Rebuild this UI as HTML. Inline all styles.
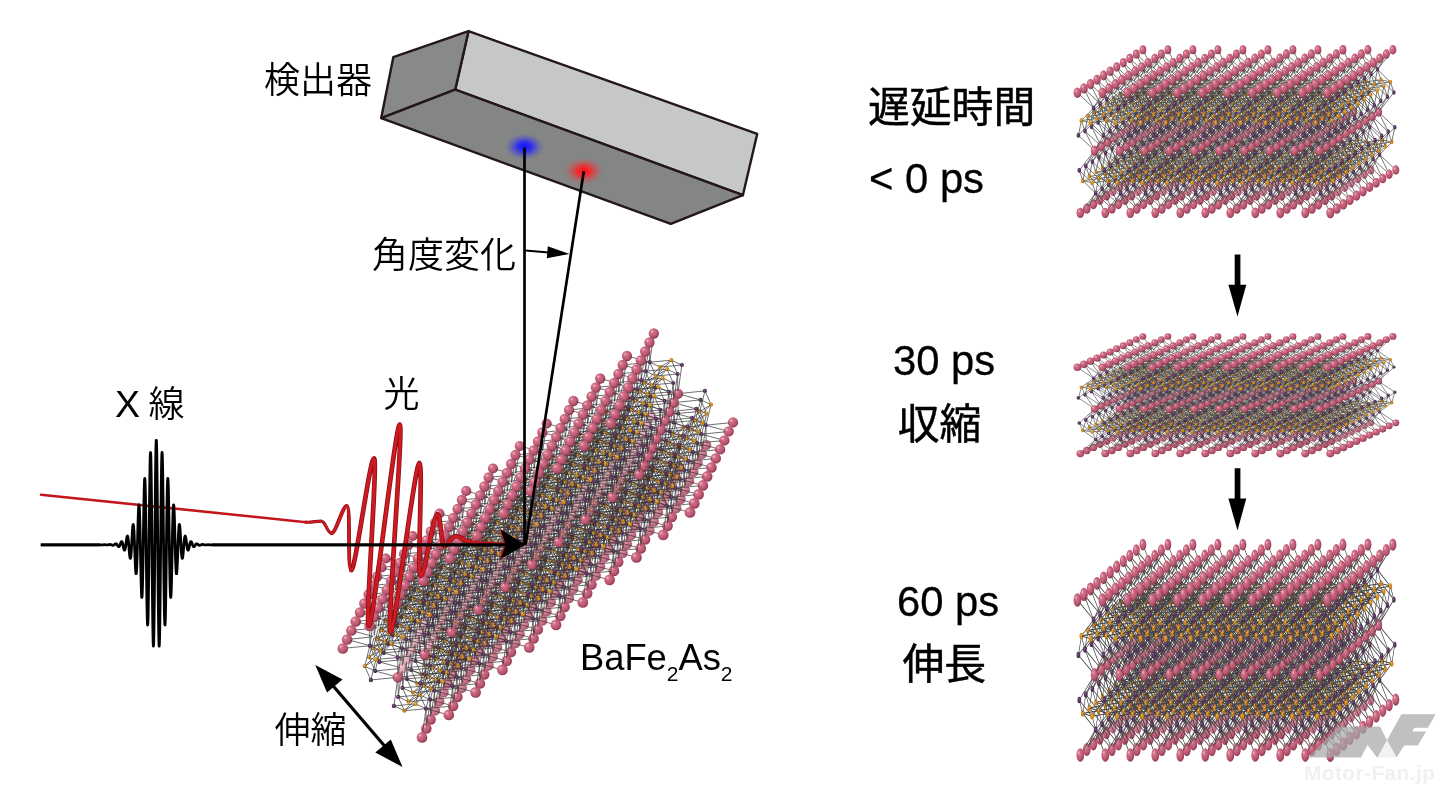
<!DOCTYPE html>
<html lang="ja"><head><meta charset="utf-8"><title>BaFe2As2</title>
<style>
html,body{margin:0;padding:0;background:#fff}
svg{display:block}
text{font-family:"Liberation Sans","Noto Sans CJK JP",sans-serif;fill:#000}
.jl{font-weight:350;font-size:36px}
.jm{font-weight:400;font-size:41.8px;stroke:#000;stroke-width:.5px}
.en{font-size:41.8px;stroke:#000;stroke-width:.3px}
.bd{stroke:#444;stroke-width:.62}
.as{stroke:#54305a}
.ash{stroke:#80608a;transform:translate(-.4px,-.5px)}
.fe{stroke:#cc851a}
.feh{stroke:#ecb75c;transform:translate(-.4px,-.5px)}
.ba,.bi,.bj{fill:url(#gb);stroke:none}.bi{opacity:.5}.bj{opacity:.85}
.L .bd{stroke-width:.72;stroke:#363636}
</style></head><body>
<svg width="1446" height="794" viewBox="0 0 1446 794">
<defs>
<radialGradient id="gb" cx=".42" cy=".4" r=".62" fx=".3" fy=".3">
<stop offset="0" stop-color="#fbe3e8"/><stop offset=".1" stop-color="#e79aab"/><stop offset=".3" stop-color="#d06f87"/><stop offset=".7" stop-color="#bb5670"/><stop offset="1" stop-color="#8a3852"/>
</radialGradient>
<radialGradient id="gblue"><stop offset="0" stop-color="#1414ff"/><stop offset=".35" stop-color="#2a2af0" stop-opacity=".95"/><stop offset="1" stop-color="#5a5ac0" stop-opacity="0"/></radialGradient>
<radialGradient id="gred"><stop offset="0" stop-color="#ff1016"/><stop offset=".35" stop-color="#f02a30" stop-opacity=".95"/><stop offset="1" stop-color="#c06060" stop-opacity="0"/></radialGradient>

<g id="xr"><g fill="none" stroke-linecap="round">
<path class="bd" d="M68.8 26.9L78.7 34.2"/>
<g class="as" stroke-width="3.29"><path id="r2" d="M67.4 25.8h0M66.5 -0.2h0"/></g><use href="#r2" class="ash" stroke-width="1.23"/>
<g class="fe" stroke-width="3.29"><path id="r3" d="M80.2 35.2h0"/></g><use href="#r3" class="feh" stroke-width="1.23"/>
<circle class="bj" cx="68.4" cy="57.6" r="3.36"/>
<circle class="bj" cx="93.4" cy="57.6" r="3.37"/>
<path class="bd" d="M91 26.9L81.5 34.1M67.9 -1.3L77.4 -8.5M67 27.1L64.7 35.6M76.5 47.1L69.8 55.7M65.9 36.6L78.6 35.4M93.8 26.9L103.7 34.2M68.1 24.9L74.7 16.3M77.5 44.9L79.8 36.4M90.1 -1.3L80.2 -8.6M78.5 47.1L90.7 55.7M67.3 0.9L74.6 12M66.1 -1.1L63.4 -7.1"/>
<g class="as" stroke-width="3.30"><path id="r5" d="M92.4 25.8h0M91.5 -0.2h0"/></g><use href="#r5" class="ash" stroke-width="1.24"/>
<g class="fe" stroke-width="3.30"><path id="r6" d="M78.7 -9.6h0M105.2 35.2h0"/></g><use href="#r6" class="feh" stroke-width="1.24"/>
<circle class="ba" cx="65.5" cy="-32" r="3.38"/>
<circle class="bj" cx="118.4" cy="57.6" r="3.39"/>
<path class="bd" d="M81.1 35.4L88.5 36.6M116 26.9L106.5 34.1M91.1 24.9L78.8 16.3M92.9 -1.3L102.4 -8.5M64.5 -8.2L77.2 -9.4M92 27.1L89.7 35.6M101.5 47.1L94.8 55.7M75.8 45.1L65.8 37.8M90.3 0.9L78.7 12M90.9 36.6L103.6 35.4M75.5 -16.5L78.3 -10.5M74.4 -18.5L67.1 -29.6M118.8 26.9L128.7 34.2M93.1 24.9L99.7 16.3M102.5 44.9L104.8 36.4M115.1 -1.3L105.2 -8.6M79.6 -9.4L87 -8.2M103.5 47.1L115.7 55.7M78.6 45.1L88 37.9M92.3 0.9L99.6 12M91.1 -1.1L88.4 -7.1M106.1 35.4L113.5 36.6"/>
<g class="as" stroke-width="3.31"><path id="r8" d="M117.4 25.8h0M77.2 46.2h0M116.5 -0.2h0"/></g><use href="#r8" class="ash" stroke-width="1.24"/>
<g class="fe" stroke-width="3.31"><path id="r9" d="M64.4 36.8h0M103.7 -9.6h0M130.2 35.2h0M63 -8h0"/></g><use href="#r9" class="feh" stroke-width="1.24"/>
<circle class="ba" cx="90.5" cy="-32" r="3.39"/>
<circle class="bj" cx="143.4" cy="57.6" r="3.40"/>
<path class="bd" d="M76 47.3L64.4 58.4M76.4 -18.5L88 -29.6M141 26.9L131.5 34.1M116.1 24.9L103.8 16.3M61.2 29.9L64 35.9M117.9 -1.3L127.4 -8.5M89.5 -8.2L102.2 -9.4M73.8 -16.3L64.3 -9.1M117 27.1L114.7 35.6M126.5 47.1L119.8 55.7M100.8 45.1L90.8 37.8M65.3 37L72.7 38.2M115.3 0.9L103.7 12M115.9 36.6L128.6 35.4M78 47.3L85.3 58.4M76.8 45.3L74 39.3M100.5 -16.5L103.3 -10.5M99.4 -18.5L92.1 -29.6M143.8 26.9L153.7 34.2M118.1 24.9L124.7 16.3M127.5 44.9L129.8 36.4M62 27.9L73.7 16.8M140.1 -1.3L130.2 -8.6M104.6 -9.4L112 -8.2M76.6 -16.3L86.5 -9M128.5 47.1L140.7 55.7M60.3 1.7L62.6 -6.8M103.6 45.1L113 37.9M75.2 38.2L87.9 37M117.3 0.9L124.6 12M116.1 -1.1L113.4 -7.1M61.3 3.9L73.5 12.5M131.1 35.4L138.5 36.6"/>
<g class="as" stroke-width="3.32"><path id="r11" d="M142.4 25.8h0M102.2 46.2h0M141.5 -0.2h0"/></g><use href="#r11" class="ash" stroke-width="1.25"/>
<g class="fe" stroke-width="3.32"><path id="r12" d="M89.4 36.8h0M128.7 -9.6h0M155.2 35.2h0M87.9 -8h0"/></g><use href="#r12" class="feh" stroke-width="1.25"/>
<circle class="bj" cx="76.2" cy="14.4" r="3.40"/>
<circle class="ba" cx="115.5" cy="-32" r="3.41"/>
<circle class="bj" cx="61.8" cy="60.8" r="3.41"/>
<circle class="bj" cx="168.4" cy="57.6" r="3.41"/>
<path class="bd" d="M101 47.3L89.4 58.4M101.4 -18.5L113 -29.6M63.9 -7.8L71.3 -6.6M166 26.9L156.5 34.1M141.1 24.9L128.8 16.3M86.2 29.9L89 35.9M85.1 27.9L77.7 16.8M142.9 -1.3L152.4 -8.5M114.5 -8.2L127.2 -9.4M98.8 -16.3L89.3 -9.1M142 27.1L139.7 35.6M73.9 -18.3L61.6 -26.9M151.5 47.1L144.8 55.7M125.8 45.1L115.8 37.8M90.3 37L97.7 38.2M62.3 30.1L72.2 37.4M140.3 0.9L128.7 12M74.8 -16.1L72.5 -7.6M84.3 3.9L77.6 12.5M140.9 36.6L153.6 35.4M103 47.3L110.3 58.4M101.8 45.3L99 39.3M125.5 -16.5L128.3 -10.5M124.4 -18.5L117.1 -29.6M73.7 -6.6L86.4 -7.8M168.8 26.9L178.7 34.2M143.1 24.9L149.7 16.3M152.5 44.9L154.8 36.4M87 27.9L98.7 16.8M165.1 -1.3L155.2 -8.6M129.6 -9.4L137 -8.2M101.6 -16.3L111.5 -9M75.9 -18.3L82.5 -26.9M153.5 47.1L165.7 55.7M85.3 1.7L87.6 -6.8M128.6 45.1L138 37.9M100.2 38.2L112.9 37M84.5 30.1L75 37.3M142.3 0.9L149.6 12M141.1 -1.1L138.4 -7.1M86.3 3.9L98.5 12.5M61.3 1.9L70.8 -5.3M156.1 35.4L163.5 36.6"/>
<g class="as" stroke-width="3.33"><path id="r14" d="M60.8 29h0M167.4 25.8h0M127.2 46.2h0M60 3h0M166.5 -0.2h0"/></g><use href="#r14" class="ash" stroke-width="1.25"/>
<g class="fe" stroke-width="3.34"><path id="r15" d="M114.4 36.8h0M153.7 -9.6h0M73.6 38.4h0M180.2 35.2h0M112.9 -8h0"/></g><use href="#r15" class="feh" stroke-width="1.25"/>
<circle class="bj" cx="101.2" cy="14.4" r="3.41"/>
<circle class="ba" cx="140.5" cy="-32" r="3.42"/>
<circle class="bj" cx="86.8" cy="60.8" r="3.42"/>
<circle class="bj" cx="193.4" cy="57.6" r="3.43"/>
<path class="bd" d="M126 47.3L114.4 58.4M126.4 -18.5L138 -29.6M60.5 30.3L58.2 38.8M69.9 50.3L63.3 58.9M88.9 -7.8L96.3 -6.6M191 26.9L181.5 34.1M166.1 24.9L153.8 16.3M111.2 29.9L114 35.9M110.1 27.9L102.7 16.8M167.9 -1.3L177.4 -8.5M139.5 -8.2L152.2 -9.4M59.4 39.8L72.1 38.6M123.8 -16.3L114.3 -9.1M167 27.1L164.7 35.6M98.9 -18.3L86.6 -26.9M176.5 47.1L169.8 55.7M150.8 45.1L140.8 37.8M115.3 37L122.7 38.2M87.3 30.1L97.2 37.4M61.5 28.1L68.2 19.5M71 48.1L73.3 39.6M165.3 0.9L153.7 12M99.8 -16.1L97.5 -7.6M109.3 3.9L102.6 12.5M83.5 1.9L73.6 -5.4M165.9 36.6L178.6 35.4M128 47.3L135.3 58.4M126.8 45.3L124 39.3M71.9 50.3L84.2 58.9M150.5 -16.5L153.3 -10.5M149.4 -18.5L142.1 -29.6M98.7 -6.6L111.4 -7.8M193.8 26.9L203.7 34.2M60.7 4.1L68.1 15.2M168.1 24.9L174.7 16.3M177.5 44.9L179.8 36.4M59.6 2.1L56.8 -3.9M112 27.9L123.7 16.8M190.1 -1.3L180.2 -8.6M154.6 -9.4L162 -8.2M74.5 38.6L81.9 39.8M126.6 -16.3L136.5 -9M100.9 -18.3L107.5 -26.9M178.5 47.1L190.7 55.7M110.3 1.7L112.6 -6.8M153.6 45.1L163 37.9M125.2 38.2L137.9 37M109.5 30.1L100 37.3M167.3 0.9L174.6 12M166.1 -1.1L163.4 -7.1M111.3 3.9L123.5 12.5M84.5 28.1L72.3 19.5M86.3 1.9L95.8 -5.3M181.1 35.4L188.5 36.6M57.9 -5L70.6 -6.2M151 47.3L139.4 58.4"/>
<g class="as" stroke-width="3.35"><path id="r17" d="M85.8 29h0M192.4 25.8h0M152.2 46.2h0M85 3h0M191.5 -0.2h0"/></g><use href="#r17" class="ash" stroke-width="1.26"/>
<g class="fe" stroke-width="3.35"><path id="r18" d="M139.4 36.8h0M72.2 -6.4h0M178.7 -9.6h0M98.6 38.4h0M205.2 35.2h0M137.9 -8h0M57.8 40h0"/></g><use href="#r18" class="feh" stroke-width="1.26"/>
<circle class="bj" cx="126.2" cy="14.4" r="3.43"/>
<circle class="ba" cx="58.9" cy="-28.8" r="3.43"/>
<circle class="ba" cx="165.5" cy="-32" r="3.43"/>
<circle class="bj" cx="111.8" cy="60.8" r="3.44"/>
<circle class="bj" cx="218.4" cy="57.6" r="3.44"/>
<circle class="bj" cx="151.2" cy="14.4" r="3.44"/>
<path class="bd" d="M151.4 -18.5L163 -29.6M85.5 30.3L83.2 38.8M94.9 50.3L88.3 58.9M69.2 48.3L59.3 41M113.9 -7.8L121.3 -6.6M216 26.9L206.5 34.1M83.8 4.1L72.1 15.2M191.1 24.9L178.8 16.3M136.2 29.9L139 35.9M135.1 27.9L127.7 16.8M192.9 -1.3L202.4 -8.5M84.4 39.8L97.1 38.6M164.5 -8.2L177.2 -9.4M148.8 -16.3L139.3 -9.1M192 27.1L189.7 35.6M123.9 -18.3L111.6 -26.9M201.5 47.1L194.8 55.7M69 -13.3L71.8 -7.3M175.8 45.1L165.8 37.8M67.8 -15.3L60.5 -26.4M140.3 37L147.7 38.2M112.3 30.1L122.2 37.4M86.5 28.1L93.2 19.5M96 48.1L98.3 39.6M190.3 0.9L178.7 12M124.8 -16.1L122.5 -7.6M134.3 3.9L127.6 12.5M108.5 1.9L98.6 -5.4M190.9 36.6L203.6 35.4M73.1 -6.2L80.5 -5M153 47.3L160.3 58.4M151.8 45.3L149 39.3M96.9 50.3L109.2 58.9M175.5 -16.5L178.3 -10.5M174.4 -18.5L167.1 -29.6M72 48.3L81.5 41.1M123.7 -6.6L136.4 -7.8M218.8 26.9L228.7 34.2M85.7 4.1L93.1 15.2M193.1 24.9L199.7 16.3M202.5 44.9L204.8 36.4M84.6 2.1L81.8 -3.9M137 27.9L148.7 16.8M215.1 -1.3L205.2 -8.6M99.5 38.6L106.9 39.8M179.6 -9.4L187 -8.2M151.6 -16.3L161.5 -9M125.9 -18.3L132.5 -26.9M203.5 47.1L215.7 55.7M135.3 1.7L137.6 -6.8M69.4 50.5L57.8 61.6M69.8 -15.3L81.4 -26.4M178.6 45.1L188 37.9M150.2 38.2L162.9 37M134.5 30.1L125 37.3M192.3 0.9L199.6 12M191.1 -1.1L188.4 -7.1M136.3 3.9L148.5 12.5M109.5 28.1L97.3 19.5M54.7 33.1L57.4 39.1M111.3 1.9L120.8 -5.3M206.1 35.4L213.5 36.6M82.9 -5L95.6 -6.2M67.2 -13.1L57.8 -5.9M176 47.3L164.4 58.4M176.4 -18.5L188 -29.6M110.5 30.3L108.2 38.8"/>
<g class="as" stroke-width="3.36"><path id="r20" d="M110.8 29h0M70.7 49.4h0M217.4 25.8h0M177.2 46.2h0M110 3h0M216.5 -0.2h0"/></g><use href="#r20" class="ash" stroke-width="1.26"/>
<g class="fe" stroke-width="3.36"><path id="r21" d="M164.4 36.8h0M97.2 -6.4h0M123.6 38.4h0M203.7 -9.6h0M56.4 -4.8h0M230.2 35.2h0M82.8 40h0M162.9 -8h0"/></g><use href="#r21" class="feh" stroke-width="1.26"/>
<circle class="ba" cx="83.9" cy="-28.8" r="3.44"/>
<circle class="ba" cx="190.5" cy="-32" r="3.44"/>
<circle class="bj" cx="136.8" cy="60.8" r="3.45"/>
<circle class="bj" cx="69.6" cy="17.6" r="3.45"/>
<circle class="bj" cx="243.4" cy="57.6" r="3.45"/>
<circle class="bj" cx="176.2" cy="14.4" r="3.45"/>
<path class="bd" d="M119.9 50.3L113.3 58.9M94.2 48.3L84.3 41M138.9 -7.8L146.3 -6.6M58.8 40.2L66.2 41.4M241 26.9L231.5 34.1M108.8 4.1L97.1 15.2M216.1 24.9L203.8 16.3M161.2 29.9L164 35.9M160.1 27.9L152.7 16.8M217.9 -1.3L227.4 -8.5M109.4 39.8L122.1 38.6M189.5 -8.2L202.2 -9.4M173.8 -16.3L164.3 -9.1M71.4 50.5L78.7 61.6M70.3 48.5L67.5 42.5M217 27.1L214.7 35.6M148.9 -18.3L136.6 -26.9M226.5 47.1L219.8 55.7M94 -13.3L96.8 -7.3M200.8 45.1L190.8 37.8M92.8 -15.3L85.5 -26.4M165.3 37L172.7 38.2M137.3 30.1L147.2 37.4M111.5 28.1L118.2 19.5M121 48.1L123.3 39.6M215.3 0.9L203.7 12M55.5 31.1L67.1 20M149.8 -16.1L147.5 -7.6M159.3 3.9L152.6 12.5M133.5 1.9L123.6 -5.4M215.9 36.6L228.6 35.4M98.1 -6.2L105.5 -5M178 47.3L185.3 58.4M70 -13.1L80 -5.8M176.8 45.3L174 39.3M121.9 50.3L134.2 58.9M53.8 4.9L56.1 -3.6M200.5 -16.5L203.3 -10.5M199.4 -18.5L192.1 -29.6M97 48.3L106.5 41.1M68.6 41.4L81.3 40.2M148.7 -6.6L161.4 -7.8M243.8 26.9L253.7 34.2M110.7 4.1L118.1 15.2M218.1 24.9L224.7 16.3M227.5 44.9L229.8 36.4M109.6 2.1L106.8 -3.9M54.7 7.1L67 15.7M162 27.9L173.7 16.8M240.1 -1.3L230.2 -8.6M124.5 38.6L131.9 39.8M204.6 -9.4L212 -8.2M176.6 -16.3L186.5 -9M150.9 -18.3L157.5 -26.9M228.5 47.1L240.7 55.7M160.3 1.7L162.6 -6.8M94.4 50.5L82.8 61.6M94.8 -15.3L106.4 -26.4M203.6 45.1L213 37.9M175.2 38.2L187.9 37M57.3 -4.6L64.7 -3.4M159.5 30.1L150 37.3M217.3 0.9L224.6 12M216.1 -1.1L213.4 -7.1M161.3 3.9L173.5 12.5M134.5 28.1L122.3 19.5M79.7 33.1L82.4 39.1M78.5 31.1L71.2 20M136.3 1.9L145.8 -5.3M231.1 35.4L238.5 36.6M107.9 -5L120.6 -6.2M92.2 -13.1L82.8 -5.9M201 47.3L189.4 58.4M201.4 -18.5L213 -29.6M135.5 30.3L133.2 38.8M67.3 -15.1L55.1 -23.7M144.9 50.3L138.3 58.9"/>
<g class="as" stroke-width="3.37"><path id="r23" d="M135.8 29h0M95.7 49.4h0M242.4 25.8h0M202.2 46.2h0M135 3h0M241.5 -0.2h0M54.3 32.2h0"/></g><use href="#r23" class="ash" stroke-width="1.26"/>
<g class="fe" stroke-width="3.37"><path id="r24" d="M189.4 36.8h0M122.2 -6.4h0M148.6 38.4h0M228.7 -9.6h0M81.4 -4.8h0M255.2 35.2h0M107.8 40h0M187.9 -8h0"/></g><use href="#r24" class="feh" stroke-width="1.27"/>
<circle class="ba" cx="108.9" cy="-28.8" r="3.45"/>
<circle class="bj" cx="55.3" cy="64" r="3.46"/>
<circle class="ba" cx="215.5" cy="-32" r="3.46"/>
<circle class="bj" cx="161.8" cy="60.8" r="3.46"/>
<circle class="bj" cx="94.6" cy="17.6" r="3.46"/>
<circle class="bj" cx="268.4" cy="57.6" r="3.46"/>
<circle class="bj" cx="201.2" cy="14.4" r="3.47"/>
<path class="bd" d="M119.2 48.3L109.3 41M163.9 -7.8L171.3 -6.6M83.8 40.2L91.2 41.4M266 26.9L256.5 34.1M55.7 33.3L65.6 40.6M133.8 4.1L122.1 15.2M241.1 24.9L228.8 16.3M186.2 29.9L189 35.9M68.3 -12.9L66 -4.4M77.7 7.1L71.1 15.7M185.1 27.9L177.7 16.8M242.9 -1.3L252.4 -8.5M134.4 39.8L147.1 38.6M214.5 -8.2L227.2 -9.4M198.8 -16.3L189.3 -9.1M96.4 50.5L103.7 61.6M95.3 48.5L92.5 42.5M242 27.1L239.7 35.6M173.9 -18.3L161.6 -26.9M251.5 47.1L244.8 55.7M119 -13.3L121.8 -7.3M225.8 45.1L215.8 37.8M117.8 -15.3L110.5 -26.4M190.3 37L197.7 38.2M67.2 -3.4L79.9 -4.6M162.3 30.1L172.2 37.4M136.5 28.1L143.2 19.5M146 48.1L148.3 39.6M240.3 0.9L228.7 12M80.5 31.1L92.1 20M174.8 -16.1L172.5 -7.6M184.3 3.9L177.6 12.5M158.5 1.9L148.6 -5.4M240.9 36.6L253.6 35.4M123.1 -6.2L130.5 -5M203 47.3L210.3 58.4M95 -13.1L105 -5.8M201.8 45.3L199 39.3M69.3 -15.1L76 -23.7M146.9 50.3L159.2 58.9M78.8 4.9L81.1 -3.6M225.5 -16.5L228.3 -10.5M224.4 -18.5L217.1 -29.6M122 48.3L131.5 41.1M173.7 -6.6L186.4 -7.8M93.6 41.4L106.3 40.2M268.8 26.9L278.7 34.2M77.9 33.3L68.4 40.5M135.7 4.1L143.1 15.2M243.1 24.9L249.7 16.3M252.5 44.9L254.8 36.4M134.6 2.1L131.8 -3.9M79.7 7.1L92 15.7M187 27.9L198.7 16.8M265.1 -1.3L255.2 -8.6M54.8 5.1L64.3 -2.1M149.5 38.6L156.9 39.8M229.6 -9.4L237 -8.2M201.6 -16.3L211.5 -9M175.9 -18.3L182.5 -26.9M253.5 47.1L265.7 55.7M185.3 1.7L187.6 -6.8M119.4 50.5L107.8 61.6M119.8 -15.3L131.4 -26.4M53.9 33.5L51.6 42M63.4 53.5L56.7 62.1M228.6 45.1L238 37.9M200.2 38.2L212.9 37M82.3 -4.6L89.7 -3.4M184.5 30.1L175 37.3M242.3 0.9L249.6 12M241.1 -1.1L238.4 -7.1M186.3 3.9L198.5 12.5M159.5 28.1L147.3 19.5M104.7 33.1L107.4 39.1M103.5 31.1L96.2 20M161.3 1.9L170.8 -5.3M256.1 35.4L263.5 36.6M52.8 43L65.5 41.8M132.9 -5L145.6 -6.2M117.2 -13.1L107.8 -5.9M226 47.3L214.4 58.4M226.4 -18.5L238 -29.6M160.5 30.3L158.2 38.8M92.3 -15.1L80.1 -23.7M169.9 50.3L163.3 58.9M144.2 48.3L134.3 41M108.8 40.2L116.2 41.4M188.9 -7.8L196.3 -6.6"/>
<g class="as" stroke-width="3.39"><path id="r26" d="M160.8 29h0M120.7 49.4h0M53.4 6.2h0M267.4 25.8h0M227.2 46.2h0M160 3h0M266.5 -0.2h0M79.3 32.2h0"/></g><use href="#r26" class="ash" stroke-width="1.27"/>
<g class="fe" stroke-width="3.39"><path id="r27" d="M214.4 36.8h0M147.2 -6.4h0M67.1 41.6h0M173.6 38.4h0M253.7 -9.6h0M106.4 -4.8h0M280.2 35.2h0M212.9 -8h0M132.9 40h0M65.6 -3.2h0"/></g><use href="#r27" class="feh" stroke-width="1.27"/>
<circle class="ba" cx="133.9" cy="-28.8" r="3.47"/>
<circle class="bj" cx="80.3" cy="64" r="3.47"/>
<circle class="ba" cx="240.5" cy="-32" r="3.47"/>
<circle class="bj" cx="186.8" cy="60.8" r="3.47"/>
<circle class="bj" cx="119.6" cy="17.6" r="3.48"/>
<circle class="bj" cx="293.4" cy="57.6" r="3.48"/>
<circle class="ba" cx="52.4" cy="-25.6" r="3.48"/>
<circle class="bj" cx="226.2" cy="14.4" r="3.48"/>
<path class="bd" d="M291 26.9L281.5 34.1M80.7 33.3L90.6 40.6M55 31.3L61.6 22.7M64.4 51.3L66.7 42.8M158.8 4.1L147.1 15.2M266.1 24.9L253.8 16.3M211.2 29.9L214 35.9M93.3 -12.9L91 -4.4M102.7 7.1L96.1 15.7M210.1 27.9L202.7 16.8M267.9 -1.3L277.4 -8.5M77 5.1L67.1 -2.2M159.4 39.8L172.1 38.6M239.5 -8.2L252.2 -9.4M223.8 -16.3L214.3 -9.1M121.4 50.5L128.7 61.6M120.3 48.5L117.5 42.5M65.4 53.5L77.6 62.1M267 27.1L264.7 35.6M198.9 -18.3L186.6 -26.9M276.5 47.1L269.8 55.7M144 -13.3L146.8 -7.3M250.8 45.1L240.8 37.8M142.8 -15.3L135.5 -26.4M215.3 37L222.7 38.2M92.2 -3.4L104.9 -4.6M187.3 30.1L197.2 37.4M54.2 7.3L61.5 18.4M161.5 28.1L168.2 19.5M171 48.1L173.3 39.6M265.3 0.9L253.7 12M53 5.3L50.3 -0.7M105.5 31.1L117.1 20M199.8 -16.1L197.5 -7.6M209.3 3.9L202.6 12.5M183.5 1.9L173.6 -5.4M265.9 36.6L278.6 35.4M68 41.8L75.4 43M148.1 -6.2L155.5 -5M228 47.3L235.3 58.4M120 -13.1L130 -5.8M226.8 45.3L224 39.3M94.3 -15.1L101 -23.7M171.9 50.3L184.2 58.9M103.8 4.9L106.1 -3.6M250.5 -16.5L253.3 -10.5M249.4 -18.5L242.1 -29.6M147 48.3L156.5 41.1M198.7 -6.6L211.4 -7.8M118.6 41.4L131.3 40.2M293.8 26.9L303.7 34.2M102.9 33.3L93.4 40.5M160.7 4.1L168.1 15.2M268.1 24.9L274.7 16.3M277.5 44.9L279.8 36.4M159.6 2.1L156.8 -3.9M104.7 7.1L117 15.7M212 27.9L223.7 16.8M78 31.3L65.7 22.7M290.1 -1.3L280.2 -8.6M79.8 5.1L89.3 -2.1M174.5 38.6L181.9 39.8M254.6 -9.4L262 -8.2M51.4 -1.8L64.1 -3M226.6 -16.3L236.5 -9M200.9 -18.3L207.5 -26.9M278.5 47.1L290.7 55.7M210.3 1.7L212.6 -6.8M144.4 50.5L132.8 61.6M144.8 -15.3L156.4 -26.4M78.9 33.5L76.6 42M88.4 53.5L81.7 62.1M253.6 45.1L263 37.9M62.7 51.5L52.7 44.2M225.2 38.2L237.9 37M107.3 -4.6L114.7 -3.4M209.5 30.1L200 37.3M267.3 0.9L274.6 12M266.1 -1.1L263.4 -7.1M211.3 3.9L223.5 12.5M77.2 7.3L65.6 18.4M184.5 28.1L172.3 19.5M129.7 33.1L132.4 39.1M128.5 31.1L121.2 20M186.3 1.9L195.8 -5.3M281.1 35.4L288.5 36.6M157.9 -5L170.6 -6.2M77.8 43L90.5 41.8M142.2 -13.1L132.8 -5.9M251 47.3L239.4 58.4M251.4 -18.5L263 -29.6M185.5 30.3L183.2 38.8M117.3 -15.1L105.1 -23.7M194.9 50.3L188.3 58.9M62.4 -10.1L65.2 -4.1M169.2 48.3L159.3 41M61.3 -12.1L54 -23.2M133.8 40.2L141.2 41.4M213.9 -7.8L221.3 -6.6M316 26.9L306.5 34.1M105.7 33.3L115.6 40.6"/>
<g class="as" stroke-width="3.40"><path id="r29" d="M185.8 29h0M145.7 49.4h0M78.4 6.2h0M292.4 25.8h0M252.2 46.2h0M185 3h0M291.5 -0.2h0M104.3 32.2h0M64.1 52.6h0"/></g><use href="#r29" class="ash" stroke-width="1.27"/>
<g class="fe" stroke-width="3.40"><path id="r30" d="M239.4 36.8h0M172.2 -6.4h0M92.1 41.6h0M198.6 38.4h0M278.7 -9.6h0M131.4 -4.8h0M51.3 43.2h0M305.2 35.2h0M237.9 -8h0M157.9 40h0M90.6 -3.2h0"/></g><use href="#r30" class="feh" stroke-width="1.27"/>
<circle class="ba" cx="158.9" cy="-28.8" r="3.48"/>
<circle class="bj" cx="105.3" cy="64" r="3.48"/>
<circle class="ba" cx="265.5" cy="-32" r="3.48"/>
<circle class="bj" cx="211.8" cy="60.8" r="3.49"/>
<circle class="bj" cx="144.6" cy="17.6" r="3.49"/>
<circle class="ba" cx="318.4" cy="57.6" r="3.49"/>
<circle class="ba" cx="77.4" cy="-25.6" r="3.49"/>
<circle class="bj" cx="251.2" cy="14.4" r="3.49"/>
<path class="bd" d="M80 31.3L86.6 22.7M89.4 51.3L91.7 42.8M183.8 4.1L172.1 15.2M291.1 24.9L278.8 16.3M236.2 29.9L239 35.9M118.3 -12.9L116 -4.4M127.7 7.1L121.1 15.7M235.1 27.9L227.7 16.8M292.9 -1.3L302.4 -8.5M102 5.1L92.1 -2.2M184.4 39.8L197.1 38.6M264.5 -8.2L277.2 -9.4M66.5 -3L73.9 -1.8M248.8 -16.3L239.3 -9.1M146.4 50.5L153.7 61.6M145.3 48.5L142.5 42.5M90.4 53.5L102.6 62.1M292 27.1L289.7 35.6M223.9 -18.3L211.6 -26.9M301.5 47.1L294.8 55.7M169 -13.3L171.8 -7.3M275.8 45.1L265.8 37.8M167.8 -15.3L160.5 -26.4M65.5 51.5L74.9 44.3M240.3 37L247.7 38.2M117.2 -3.4L129.9 -4.6M212.3 30.1L222.2 37.4M79.2 7.3L86.5 18.4M186.5 28.1L193.2 19.5M196 48.1L198.3 39.6M290.3 0.9L278.7 12M78 5.3L75.3 -0.7M130.5 31.1L142.1 20M224.8 -16.1L222.5 -7.6M234.3 3.9L227.6 12.5M208.5 1.9L198.6 -5.4M290.9 36.6L303.6 35.4M173.1 -6.2L180.5 -5M93 41.8L100.4 43M253 47.3L260.3 58.4M145 -13.1L155 -5.8M251.8 45.3L249 39.3M119.3 -15.1L126 -23.7M196.9 50.3L209.2 58.9M128.8 4.9L131.1 -3.6M62.9 53.7L51.3 64.8M275.5 -16.5L278.3 -10.5M63.3 -12.1L74.9 -23.2M274.4 -18.5L267.1 -29.6M172 48.3L181.5 41.1M223.7 -6.6L236.4 -7.8M143.6 41.4L156.3 40.2M127.9 33.3L118.4 40.5M185.7 4.1L193.1 15.2M293.1 24.9L299.7 16.3M302.5 44.9L304.8 36.4M184.6 2.1L181.8 -3.9M129.7 7.1L142 15.7M237 27.9L248.7 16.8M103 31.3L90.7 22.7M48.1 36.3L50.9 42.3M315.1 -1.3L305.2 -8.6M104.8 5.1L114.3 -2.1M199.5 38.6L206.9 39.8M279.6 -9.4L287 -8.2M76.4 -1.8L89.1 -3M251.6 -16.3L261.5 -9M60.7 -9.9L51.2 -2.7M225.9 -18.3L232.5 -26.9M303.5 47.1L315.7 55.7M235.3 1.7L237.6 -6.8M169.4 50.5L157.8 61.6M169.8 -15.3L181.4 -26.4M103.9 33.5L101.6 42M113.4 53.5L106.7 62.1M278.6 45.1L288 37.9M87.7 51.5L77.7 44.2M250.2 38.2L262.9 37M132.3 -4.6L139.7 -3.4M52.2 43.4L59.6 44.6M234.5 30.1L225 37.3M292.3 0.9L299.6 12M291.1 -1.1L288.4 -7.1M236.3 3.9L248.5 12.5M102.2 7.3L90.6 18.4M209.5 28.1L197.3 19.5M154.7 33.1L157.4 39.1M153.5 31.1L146.2 20M211.3 1.9L220.8 -5.3M306.1 35.4L313.5 36.6M182.9 -5L195.6 -6.2M102.8 43L115.5 41.8M167.2 -13.1L157.8 -5.9M64.9 53.7L72.2 64.8M276 47.3L264.4 58.4M63.7 51.7L60.9 45.7M276.4 -18.5L288 -29.6M210.5 30.3L208.2 38.8M142.3 -15.1L130.1 -23.7M219.9 50.3L213.3 58.9M87.4 -10.1L90.2 -4.1M194.2 48.3L184.3 41M86.3 -12.1L79 -23.2M158.8 40.2L166.2 41.4M238.9 -7.8L246.3 -6.6M130.7 33.3L140.6 40.6M105 31.3L111.6 22.7"/>
<g class="as" stroke-width="3.41"><path id="r32" d="M210.8 29h0M170.7 49.4h0M103.4 6.2h0M317.4 25.8h0M277.2 46.2h0M210 3h0M316.5 -0.2h0M129.3 32.2h0M89.1 52.6h0"/></g><use href="#r32" class="ash" stroke-width="1.28"/>
<g class="fe" stroke-width="3.41"><path id="r33" d="M264.4 36.8h0M197.2 -6.4h0M117.1 41.6h0M49.9 -1.6h0M303.7 -9.6h0M223.6 38.4h0M156.4 -4.8h0M76.3 43.2h0M263 -8h0M182.9 40h0M115.6 -3.2h0"/></g><use href="#r33" class="feh" stroke-width="1.28"/>
<circle class="ba" cx="183.9" cy="-28.8" r="3.49"/>
<circle class="bj" cx="130.3" cy="64" r="3.50"/>
<circle class="ba" cx="290.5" cy="-32" r="3.50"/>
<circle class="bj" cx="63.1" cy="20.8" r="3.50"/>
<circle class="bj" cx="236.8" cy="60.8" r="3.50"/>
<circle class="bj" cx="169.6" cy="17.6" r="3.50"/>
<circle class="ba" cx="102.4" cy="-25.6" r="3.50"/>
<circle class="bj" cx="276.2" cy="14.4" r="3.51"/>
<path class="bd" d="M114.4 51.3L116.7 42.8M208.8 4.1L197.1 15.2M316.1 24.9L303.8 16.3M261.2 29.9L264 35.9M48.9 34.3L60.6 23.2M143.3 -12.9L141 -4.4M152.7 7.1L146.1 15.7M260.1 27.9L252.7 16.8M127 5.1L117.1 -2.2M209.4 39.8L222.1 38.6M289.5 -8.2L302.2 -9.4M91.5 -3L98.9 -1.8M273.8 -16.3L264.3 -9.1M171.4 50.5L178.7 61.6M63.5 -9.9L73.4 -2.6M170.3 48.5L167.5 42.5M115.4 53.5L127.6 62.1M47.2 8.1L49.5 -0.4M317 27.1L314.7 35.6M248.9 -18.3L236.6 -26.9M194 -13.3L196.8 -7.3M300.8 45.1L290.8 37.8M192.8 -15.3L185.5 -26.4M90.5 51.5L99.9 44.3M265.3 37L272.7 38.2M142.2 -3.4L154.9 -4.6M62.1 44.6L74.8 43.4M237.3 30.1L247.2 37.4M104.2 7.3L111.5 18.4M211.5 28.1L218.2 19.5M221 48.1L223.3 39.6M315.3 0.9L303.7 12M103 5.3L100.3 -0.7M48.2 10.3L60.4 18.9M155.5 31.1L167.1 20M249.8 -16.1L247.5 -7.6M259.3 3.9L252.6 12.5M233.5 1.9L223.6 -5.4M198.1 -6.2L205.5 -5M118 41.8L125.4 43M278 47.3L285.3 58.4M170 -13.1L180 -5.8M276.8 45.3L274 39.3M144.3 -15.1L151 -23.7M221.9 50.3L234.2 58.9M153.8 4.9L156.1 -3.6M87.9 53.7L76.3 64.8M300.5 -16.5L303.3 -10.5M88.3 -12.1L99.9 -23.2M299.4 -18.5L292.1 -29.6M197 48.3L206.5 41.1M248.7 -6.6L261.4 -7.8M168.6 41.4L181.3 40.2M50.8 -1.4L58.2 -0.2M152.9 33.3L143.4 40.5M210.7 4.1L218.1 15.2M209.6 2.1L206.8 -3.9M154.7 7.1L167 15.7M262 27.9L273.7 16.8M128 31.3L115.7 22.7M73.1 36.3L75.9 42.3M72 34.3L64.6 23.2M129.8 5.1L139.3 -2.1M224.5 38.6L231.9 39.8M304.6 -9.4L312 -8.2M101.4 -1.8L114.1 -3M276.6 -16.3L286.5 -9M85.7 -9.9L76.2 -2.7M250.9 -18.3L257.5 -26.9M260.3 1.7L262.6 -6.8M194.4 50.5L182.8 61.6M194.8 -15.3L206.4 -26.4M128.9 33.5L126.6 42M60.8 -11.9L48.5 -20.5M138.4 53.5L131.7 62.1M303.6 45.1L313 37.9M112.7 51.5L102.7 44.2M275.2 38.2L287.9 37M77.2 43.4L84.6 44.6M157.3 -4.6L164.7 -3.4M259.5 30.1L250 37.3M49.2 36.5L59.1 43.8M316.1 -1.1L313.4 -7.1M261.3 3.9L273.5 12.5M127.2 7.3L115.6 18.4M234.5 28.1L222.3 19.5M179.7 33.1L182.4 39.1M61.7 -9.7L59.4 -1.2M71.2 10.3L64.5 18.9M178.5 31.1L171.2 20M236.3 1.9L245.8 -5.3M127.8 43L140.5 41.8M207.9 -5L220.6 -6.2M192.2 -13.1L182.8 -5.9M89.9 53.7L97.2 64.8M301 47.3L289.4 58.4M88.7 51.7L85.9 45.7M301.4 -18.5L313 -29.6M235.5 30.3L233.2 38.8M167.3 -15.1L155.1 -23.7M244.9 50.3L238.3 58.9M112.4 -10.1L115.2 -4.1M219.2 48.3L209.3 41M111.3 -12.1L104 -23.2M263.9 -7.8L271.3 -6.6M183.8 40.2L191.2 41.4M60.6 -0.2L73.3 -1.4M155.7 33.3L165.6 40.6M130 31.3L136.6 22.7M139.4 51.3L141.7 42.8M233.8 4.1L222.1 15.2"/>
<g class="as" stroke-width="3.43"><path id="r35" d="M235.8 29h0M195.7 49.4h0M128.4 6.2h0M302.2 46.2h0M235 3h0M47.7 35.4h0M154.3 32.2h0M114.1 52.6h0M46.9 9.4h0"/></g><use href="#r35" class="ash" stroke-width="1.28"/>
<g class="fe" stroke-width="3.43"><path id="r36" d="M289.4 36.8h0M222.2 -6.4h0M142.1 41.6h0M74.8 -1.6h0M248.6 38.4h0M181.4 -4.8h0M101.3 43.2h0M207.9 40h0M288 -8h0M140.6 -3.2h0M60.5 44.8h0M314.4 36.8h0"/></g><use href="#r36" class="feh" stroke-width="1.28"/>
<circle class="ba" cx="208.9" cy="-28.8" r="3.51"/>
<circle class="bj" cx="48.8" cy="67.2" r="3.51"/>
<circle class="bj" cx="155.3" cy="64" r="3.51"/>
<circle class="ba" cx="315.5" cy="-32" r="3.51"/>
<circle class="bj" cx="88.1" cy="20.8" r="3.51"/>
<circle class="bj" cx="261.8" cy="60.8" r="3.51"/>
<circle class="bj" cx="194.6" cy="17.6" r="3.52"/>
<circle class="ba" cx="127.4" cy="-25.6" r="3.52"/>
<circle class="ba" cx="301.2" cy="14.4" r="3.52"/>
<circle class="ba" cx="233.9" cy="-28.8" r="3.52"/>
<circle class="bj" cx="73.8" cy="67.2" r="3.52"/>
<path class="bd" d="M286.2 29.9L289 35.9M73.9 34.3L85.6 23.2M168.3 -12.9L166 -4.4M177.7 7.1L171.1 15.7M285.1 27.9L277.7 16.8M152 5.1L142.1 -2.2M234.4 39.8L247.1 38.6M116.5 -3L123.9 -1.8M298.8 -16.3L289.3 -9.1M196.4 50.5L203.7 61.6M88.5 -9.9L98.4 -2.6M195.3 48.5L192.5 42.5M62.8 -11.9L69.4 -20.5M140.4 53.5L152.6 62.1M72.2 8.1L74.5 -0.4M273.9 -18.3L261.6 -26.9M219 -13.3L221.8 -7.3M217.8 -15.3L210.5 -26.4M115.5 51.5L124.9 44.3M290.3 37L297.7 38.2M167.2 -3.4L179.9 -4.6M87.1 44.6L99.8 43.4M262.3 30.1L272.2 37.4M71.4 36.5L61.9 43.7M129.2 7.3L136.5 18.4M236.5 28.1L243.2 19.5M246 48.1L248.3 39.6M128 5.3L125.3 -0.7M73.2 10.3L85.4 18.9M180.5 31.1L192.1 20M274.8 -16.1L272.5 -7.6M284.3 3.9L277.6 12.5M258.5 1.9L248.6 -5.4M48.2 8.3L57.7 1.1M223.1 -6.2L230.5 -5M143 41.8L150.4 43M303 47.3L310.3 58.4M195 -13.1L205 -5.8M301.8 45.3L299 39.3M169.3 -15.1L176 -23.7M246.9 50.3L259.2 58.9M178.8 4.9L181.1 -3.6M112.9 53.7L101.3 64.8M113.3 -12.1L124.9 -23.2M47.4 36.7L45.1 45.2M56.8 56.7L50.2 65.3M222 48.3L231.5 41.1M193.6 41.4L206.3 40.2M273.7 -6.6L286.4 -7.8M75.8 -1.4L83.2 -0.2M177.9 33.3L168.4 40.5M235.7 4.1L243.1 15.2M234.6 2.1L231.8 -3.9M179.7 7.1L192 15.7M287 27.9L298.7 16.8M153 31.3L140.7 22.7M98.1 36.3L100.9 42.3M97 34.3L89.6 23.2M154.8 5.1L164.3 -2.1M249.5 38.6L256.9 39.8M126.4 -1.8L139.1 -3M46.3 46.2L59 45M301.6 -16.3L311.5 -9M110.7 -9.9L101.2 -2.7M275.9 -18.3L282.5 -26.9M285.3 1.7L287.6 -6.8M219.4 50.5L207.8 61.6M219.8 -15.3L231.4 -26.4M153.9 33.5L151.6 42M85.8 -11.9L73.5 -20.5M163.4 53.5L156.7 62.1M137.7 51.5L127.7 44.2M300.2 38.2L312.9 37M182.3 -4.6L189.7 -3.4M102.2 43.4L109.6 44.6M284.5 30.1L275 37.3M74.2 36.5L84.1 43.8M48.4 34.5L55.1 25.9M286.3 3.9L298.5 12.5M57.9 54.5L60.2 46M152.2 7.3L140.6 18.4M259.5 28.1L247.3 19.5M204.7 33.1L207.4 39.1M86.7 -9.7L84.4 -1.2M96.2 10.3L89.5 18.9M203.5 31.1L196.2 20M261.3 1.9L270.8 -5.3M70.4 8.3L60.5 1M232.9 -5L245.6 -6.2M152.8 43L165.5 41.8M217.2 -13.1L207.8 -5.9M114.9 53.7L122.2 64.8M113.7 51.7L110.9 45.7M58.8 56.7L71.1 65.3M260.5 30.3L258.2 38.8M192.3 -15.1L180.1 -23.7M269.9 50.3L263.3 58.9M137.4 -10.1L140.2 -4.1M244.2 48.3L234.3 41M136.3 -12.1L129 -23.2M288.9 -7.8L296.3 -6.6M208.8 40.2L216.2 41.4M85.6 -0.2L98.3 -1.4M180.7 33.3L190.6 40.6M47.6 10.5L55 21.6M155 31.3L161.6 22.7M164.4 51.3L166.7 42.8M258.8 4.1L247.1 15.2M46.5 8.5L43.7 2.5M311.2 29.9L314 35.9M98.9 34.3L110.6 23.2M193.3 -12.9L191 -4.4"/>
<g class="as" stroke-width="3.44"><path id="r38" d="M260.8 29h0M220.7 49.4h0M153.4 6.2h0M300.1 -17.4h0M260 3h0M72.7 35.4h0M179.3 32.2h0M139.1 52.6h0M71.9 9.4h0M285.8 29h0"/></g><use href="#r38" class="ash" stroke-width="1.29"/>
<g class="fe" stroke-width="3.44"><path id="r39" d="M247.2 -6.4h0M167.1 41.6h0M99.8 -1.6h0M273.6 38.4h0M206.4 -4.8h0M126.3 43.2h0M59.1 0h0M232.9 40h0M313 -8h0M165.6 -3.2h0M85.5 44.8h0"/></g><use href="#r39" class="feh" stroke-width="1.29"/>
<circle class="bj" cx="180.3" cy="64" r="3.52"/>
<circle class="bj" cx="113.1" cy="20.8" r="3.52"/>
<circle class="bj" cx="286.8" cy="60.8" r="3.53"/>
<circle class="ba" cx="45.9" cy="-22.4" r="3.53"/>
<circle class="bj" cx="219.6" cy="17.6" r="3.53"/>
<circle class="ba" cx="152.4" cy="-25.6" r="3.53"/>
<circle class="ba" cx="258.9" cy="-28.8" r="3.53"/>
<circle class="bj" cx="98.8" cy="67.2" r="3.53"/>
<path class="bd" d="M202.7 7.1L196.1 15.7M310.1 27.9L302.7 16.8M177 5.1L167.1 -2.2M259.4 39.8L272.1 38.6M61.4 45L68.8 46.2M141.5 -3L148.9 -1.8M221.4 50.5L228.7 61.6M113.5 -9.9L123.4 -2.6M220.3 48.5L217.5 42.5M87.8 -11.9L94.4 -20.5M165.4 53.5L177.6 62.1M97.2 8.1L99.5 -0.4M298.9 -18.3L286.6 -26.9M244 -13.3L246.8 -7.3M242.8 -15.3L235.5 -26.4M140.5 51.5L149.9 44.3M192.2 -3.4L204.9 -4.6M112.1 44.6L124.8 43.4M287.3 30.1L297.2 37.4M96.4 36.5L86.9 43.7M154.2 7.3L161.5 18.4M261.5 28.1L268.2 19.5M271 48.1L273.3 39.6M153 5.3L150.3 -0.7M98.2 10.3L110.4 18.9M205.5 31.1L217.1 20M299.8 -16.1L297.5 -7.6M71.4 34.5L59.2 25.9M309.3 3.9L302.6 12.5M283.5 1.9L273.6 -5.4M73.2 8.3L82.7 1.1M168 41.8L175.4 43M248.1 -6.2L255.5 -5M44.8 1.4L57.5 0.2M220 -13.1L230 -5.8M194.3 -15.1L201 -23.7M271.9 50.3L284.2 58.9M203.8 4.9L206.1 -3.6M137.9 53.7L126.3 64.8M138.3 -12.1L149.9 -23.2M72.4 36.7L70.1 45.2M81.8 56.7L75.2 65.3M247 48.3L256.5 41.1M56.1 54.7L46.2 47.4M298.7 -6.6L311.4 -7.8M218.6 41.4L231.3 40.2M100.8 -1.4L108.2 -0.2M202.9 33.3L193.4 40.5M260.7 4.1L268.1 15.2M259.6 2.1L256.8 -3.9M204.7 7.1L217 15.7M70.7 10.5L59 21.6M178 31.3L165.7 22.7M123.1 36.3L125.9 42.3M122 34.3L114.6 23.2M179.8 5.1L189.3 -2.1M274.5 38.6L281.9 39.8M71.3 46.2L84 45M151.4 -1.8L164.1 -3M135.7 -9.9L126.2 -2.7M300.9 -18.3L307.5 -26.9M310.3 1.7L312.6 -6.8M244.4 50.5L232.8 61.6M244.8 -15.3L256.4 -26.4M178.9 33.5L176.6 42M110.8 -11.9L98.5 -20.5M188.4 53.5L181.7 62.1M55.9 -6.9L58.7 -0.9M162.7 51.5L152.7 44.2M54.7 -8.9L47.4 -20M207.3 -4.6L214.7 -3.4M127.2 43.4L134.6 44.6M309.5 30.1L300 37.3M99.2 36.5L109.1 43.8M73.4 34.5L80.1 25.9M82.9 54.5L85.2 46M177.2 7.3L165.6 18.4M284.5 28.1L272.3 19.5M229.7 33.1L232.4 39.1M111.7 -9.7L109.4 -1.2M121.2 10.3L114.5 18.9M228.5 31.1L221.2 20M286.3 1.9L295.8 -5.3M95.4 8.3L85.5 1M257.9 -5L270.6 -6.2M177.8 43L190.5 41.8M60 0.2L67.4 1.4M242.2 -13.1L232.8 -5.9M139.9 53.7L147.2 64.8M138.7 51.7L135.9 45.7M83.8 56.7L96.1 65.3M285.5 30.3L283.2 38.8M217.3 -15.1L205.1 -23.7M294.9 50.3L288.3 58.9M162.4 -10.1L165.2 -4.1M269.2 48.3L259.3 41M161.3 -12.1L154 -23.2M58.9 54.7L68.4 47.5M233.8 40.2L241.2 41.4M110.6 -0.2L123.3 -1.4M205.7 33.3L215.6 40.6M72.6 10.5L80 21.6M180 31.3L186.6 22.7M189.4 51.3L191.7 42.8M283.8 4.1L272.1 15.2M71.5 8.5L68.7 2.5M123.9 34.3L135.6 23.2M218.3 -12.9L216 -4.4M227.7 7.1L221.1 15.7"/>
<g class="as" stroke-width="3.45"><path id="r41" d="M245.7 49.4h0M178.4 6.2h0M285 3h0M97.7 35.4h0M57.6 55.8h0M204.3 32.2h0M164.1 52.6h0M96.9 9.4h0M310.8 29h0"/></g><use href="#r41" class="ash" stroke-width="1.29"/>
<g class="fe" stroke-width="3.45"><path id="r42" d="M272.2 -6.4h0M192.1 41.6h0M44.7 46.4h0M124.8 -1.6h0M298.6 38.4h0M231.4 -4.8h0M151.3 43.2h0M84.1 0h0M257.9 40h0M190.6 -3.2h0M110.5 44.8h0M43.3 1.6h0"/></g><use href="#r42" class="feh" stroke-width="1.29"/>
<circle class="bj" cx="205.3" cy="64" r="3.54"/>
<circle class="bj" cx="138.1" cy="20.8" r="3.54"/>
<circle class="ba" cx="311.8" cy="60.8" r="3.54"/>
<circle class="ba" cx="70.8" cy="-22.4" r="3.54"/>
<circle class="bj" cx="244.6" cy="17.6" r="3.54"/>
<circle class="ba" cx="177.4" cy="-25.6" r="3.54"/>
<circle class="bj" cx="123.8" cy="67.2" r="3.55"/>
<circle class="ba" cx="283.9" cy="-28.8" r="3.55"/>
<path class="bd" d="M202 5.1L192.1 -2.2M284.4 39.8L297.1 38.6M86.4 45L93.8 46.2M166.5 -3L173.9 -1.8M246.4 50.5L253.7 61.6M138.5 -9.9L148.4 -2.6M245.3 48.5L242.5 42.5M112.8 -11.9L119.4 -20.5M190.4 53.5L202.6 62.1M122.2 8.1L124.5 -0.4M56.3 56.9L44.7 68M269 -13.3L271.8 -7.3M56.7 -8.9L68.3 -20M267.8 -15.3L260.5 -26.4M165.5 51.5L174.9 44.3M137.1 44.6L149.8 43.4M217.2 -3.4L229.9 -4.6M121.4 36.5L111.9 43.7M179.2 7.3L186.5 18.4M286.5 28.1L293.2 19.5M296 48.1L298.3 39.6M178 5.3L175.3 -0.7M123.2 10.3L135.4 18.9M230.5 31.1L242.1 20M96.4 34.5L84.2 25.9M41.6 39.5L44.3 45.5M308.5 1.9L298.6 -5.4M98.2 8.3L107.7 1.1M273.1 -6.2L280.5 -5M193 41.8L200.4 43M69.8 1.4L82.5 0.2M245 -13.1L255 -5.8M54.1 -6.7L44.7 0.5M219.3 -15.1L226 -23.7M296.9 50.3L309.2 58.9M228.8 4.9L231.1 -3.6M162.9 53.7L151.3 64.8M163.3 -12.1L174.9 -23.2M97.4 36.7L95.1 45.2M106.8 56.7L100.2 65.3M272 48.3L281.5 41.1M81.1 54.7L71.2 47.4M243.6 41.4L256.3 40.2M45.7 46.6L53.1 47.8M125.8 -1.4L133.2 -0.2M227.9 33.3L218.4 40.5M285.7 4.1L293.1 15.2M284.6 2.1L281.8 -3.9M229.7 7.1L242 15.7M95.7 10.5L84 21.6M203 31.3L190.7 22.7M148.1 36.3L150.9 42.3M147 34.3L139.6 23.2M204.8 5.1L214.3 -2.1M299.5 38.6L306.9 39.8M96.3 46.2L109 45M176.4 -1.8L189.1 -3M160.7 -9.9L151.2 -2.7M58.3 56.9L65.6 68M269.4 50.5L257.8 61.6M57.2 54.9L54.4 48.9M269.8 -15.3L281.4 -26.4M203.9 33.5L201.6 42M135.8 -11.9L123.5 -20.5M213.4 53.5L206.7 62.1M80.9 -6.9L83.7 -0.9M187.7 51.5L177.7 44.2M79.7 -8.9L72.4 -20M232.3 -4.6L239.7 -3.4M152.2 43.4L159.6 44.6M124.2 36.5L134.1 43.8M98.4 34.5L105.1 25.9M107.9 54.5L110.2 46M202.2 7.3L190.6 18.4M309.5 28.1L297.3 19.5M254.7 33.1L257.4 39.1M42.4 37.5L54 26.4M136.7 -9.7L134.4 -1.2M146.2 10.3L139.5 18.9M253.5 31.1L246.2 20M120.4 8.3L110.5 1M282.9 -5L295.6 -6.2M202.8 43L215.5 41.8M85 0.2L92.4 1.4M267.2 -13.1L257.8 -5.9M164.9 53.7L172.2 64.8M56.9 -6.7L66.9 0.6M163.7 51.7L160.9 45.7M108.8 56.7L121.1 65.3M40.7 11.3L43 2.8M310.5 30.3L308.2 38.8M242.3 -15.1L230.1 -23.7M187.4 -10.1L190.2 -4.1M294.2 48.3L284.3 41M186.3 -12.1L179 -23.2M83.9 54.7L93.4 47.5M258.8 40.2L266.2 41.4M135.6 -0.2L148.3 -1.4M55.5 47.8L68.2 46.6M230.7 33.3L240.6 40.6M97.6 10.5L105 21.6M205 31.3L211.6 22.7M214.4 51.3L216.7 42.8M308.8 4.1L297.1 15.2M96.5 8.5L93.7 2.5M41.6 13.5L53.9 22.1M148.9 34.3L160.6 23.2M243.3 -12.9L241 -4.4M252.7 7.1L246.1 15.7M227 5.1L217.1 -2.2M191.5 -3L198.9 -1.8M111.4 45L118.8 46.2"/>
<g class="as" stroke-width="3.46"><path id="r44" d="M270.7 49.4h0M203.4 6.2h0M310 3h0M122.7 35.4h0M82.6 55.8h0M229.3 32.2h0M189.1 52.6h0M121.9 9.4h0"/></g><use href="#r44" class="ash" stroke-width="1.30"/>
<g class="fe" stroke-width="3.46"><path id="r45" d="M297.2 -6.4h0M217.1 41.6h0M69.7 46.4h0M149.8 -1.6h0M256.4 -4.8h0M176.3 43.2h0M109.1 0h0M282.9 40h0M215.6 -3.2h0M135.5 44.8h0M68.3 1.6h0"/></g><use href="#r45" class="feh" stroke-width="1.30"/>
<circle class="bj" cx="56.5" cy="24" r="3.55"/>
<circle class="bj" cx="230.3" cy="64" r="3.55"/>
<circle class="bj" cx="163.1" cy="20.8" r="3.55"/>
<circle class="ba" cx="95.8" cy="-22.4" r="3.55"/>
<circle class="bj" cx="269.6" cy="17.6" r="3.55"/>
<circle class="bj" cx="42.2" cy="70.4" r="3.56"/>
<circle class="ba" cx="202.4" cy="-25.6" r="3.56"/>
<circle class="ba" cx="308.9" cy="-28.8" r="3.56"/>
<circle class="bj" cx="148.8" cy="67.2" r="3.56"/>
<path class="bd" d="M271.4 50.5L278.7 61.6M163.5 -9.9L173.4 -2.6M270.3 48.5L267.5 42.5M137.8 -11.9L144.4 -20.5M215.4 53.5L227.6 62.1M147.2 8.1L149.5 -0.4M81.3 56.9L69.7 68M294 -13.3L296.8 -7.3M81.7 -8.9L93.3 -20M292.8 -15.3L285.5 -26.4M190.5 51.5L199.9 44.3M242.2 -3.4L254.9 -4.6M162.1 44.6L174.8 43.4M44.2 1.8L51.6 3M146.4 36.5L136.9 43.7M204.2 7.3L211.5 18.4M203 5.3L200.3 -0.7M148.2 10.3L160.4 18.9M255.5 31.1L267.1 20M121.4 34.5L109.2 25.9M66.6 39.5L69.3 45.5M65.4 37.5L58.1 26.4M123.2 8.3L132.7 1.1M298.1 -6.2L305.5 -5M218 41.8L225.4 43M94.8 1.4L107.5 0.2M270 -13.1L280 -5.8M79.1 -6.7L69.7 0.5M244.3 -15.1L251 -23.7M253.8 4.9L256.1 -3.6M187.9 53.7L176.3 64.8M188.3 -12.1L199.9 -23.2M122.4 36.7L120.1 45.2M54.2 -8.7L42 -17.3M131.8 56.7L125.2 65.3M297 48.3L306.5 41.1M106.1 54.7L96.2 47.4M268.6 41.4L281.3 40.2M150.8 -1.4L158.2 -0.2M70.7 46.6L78.1 47.8M252.9 33.3L243.4 40.5M42.6 39.7L52.5 47M309.6 2.1L306.8 -3.9M254.7 7.1L267 15.7M120.7 10.5L109 21.6M228 31.3L215.7 22.7M173.1 36.3L175.9 42.3M55.2 -6.5L52.9 2M64.6 13.5L58 22.1M172 34.3L164.6 23.2M229.8 5.1L239.3 -2.1M121.3 46.2L134 45M201.4 -1.8L214.1 -3M185.7 -9.9L176.2 -2.7M83.3 56.9L90.6 68M294.4 50.5L282.8 61.6M82.2 54.9L79.4 48.9M294.8 -15.3L306.4 -26.4M228.9 33.5L226.6 42M160.8 -11.9L148.5 -20.5M238.4 53.5L231.7 62.1M105.9 -6.9L108.7 -0.9M212.7 51.5L202.7 44.2M104.7 -8.9L97.4 -20M177.2 43.4L184.6 44.6M257.3 -4.6L264.7 -3.4M54.1 3L66.8 1.8M149.2 36.5L159.1 43.8M123.4 34.5L130.1 25.9M132.9 54.5L135.2 46M227.2 7.3L215.6 18.4M279.7 33.1L282.4 39.1M67.4 37.5L79 26.4M161.7 -9.7L159.4 -1.2M171.2 10.3L164.5 18.9M278.5 31.1L271.2 20M145.4 8.3L135.5 1M227.8 43L240.5 41.8M110 0.2L117.4 1.4M292.2 -13.1L282.8 -5.9M189.9 53.7L197.2 64.8M81.9 -6.7L91.9 0.6M188.7 51.7L185.9 45.7M56.2 -8.7L62.9 -17.3M133.8 56.7L146.1 65.3M65.7 11.3L68 2.8M267.3 -15.1L255.1 -23.7M212.4 -10.1L215.2 -4.1M211.3 -12.1L204 -23.2M108.9 54.7L118.4 47.5M283.8 40.2L291.2 41.4M80.5 47.8L93.2 46.6M160.6 -0.2L173.3 -1.4M255.7 33.3L265.6 40.6M64.8 39.7L55.3 46.9M122.6 10.5L130 21.6M230 31.3L236.6 22.7M239.4 51.3L241.7 42.8M121.5 8.5L118.7 2.5M66.6 13.5L78.9 22.1M173.9 34.3L185.6 23.2M268.3 -12.9L266 -4.4M277.7 7.1L271.1 15.7M252 5.1L242.1 -2.2M41.7 11.5L51.2 4.3M136.4 45L143.8 46.2M216.5 -3L223.9 -1.8M296.4 50.5L303.7 61.6M188.5 -9.9L198.4 -2.6"/>
<g class="as" stroke-width="3.48"><path id="r47" d="M295.7 49.4h0M228.4 6.2h0M41.2 38.6h0M147.7 35.4h0M107.6 55.8h0M40.3 12.6h0M254.3 32.2h0M214.1 52.6h0M146.9 9.4h0"/></g><use href="#r47" class="ash" stroke-width="1.30"/>
<g class="fe" stroke-width="3.48"><path id="r48" d="M242.1 41.6h0M94.7 46.4h0M174.8 -1.6h0M281.4 -4.8h0M201.3 43.2h0M134.1 0h0M54 48h0M307.9 40h0M240.6 -3.2h0M160.5 44.8h0M93.3 1.6h0"/></g><use href="#r48" class="feh" stroke-width="1.30"/>
<circle class="bj" cx="81.5" cy="24" r="3.56"/>
<circle class="bj" cx="255.3" cy="64" r="3.56"/>
<circle class="bj" cx="188.1" cy="20.8" r="3.56"/>
<circle class="ba" cx="120.8" cy="-22.4" r="3.57"/>
<circle class="ba" cx="294.6" cy="17.6" r="3.57"/>
<circle class="bj" cx="67.2" cy="70.4" r="3.57"/>
<circle class="ba" cx="227.4" cy="-25.6" r="3.57"/>
<circle class="bj" cx="173.8" cy="67.2" r="3.57"/>
<path class="bd" d="M295.3 48.5L292.5 42.5M162.8 -11.9L169.4 -20.5M240.4 53.5L252.6 62.1M172.2 8.1L174.5 -0.4M106.3 56.9L94.7 68M106.7 -8.9L118.3 -20M40.8 39.9L38.5 48.4M50.3 59.9L43.6 68.5M215.5 51.5L224.9 44.3M267.2 -3.4L279.9 -4.6M187.1 44.6L199.8 43.4M69.2 1.8L76.6 3M171.4 36.5L161.9 43.7M229.2 7.3L236.5 18.4M228 5.3L225.3 -0.7M173.2 10.3L185.4 18.9M280.5 31.1L292.1 20M146.4 34.5L134.2 25.9M91.6 39.5L94.3 45.5M90.4 37.5L83.1 26.4M148.2 8.3L157.7 1.1M243 41.8L250.4 43M119.8 1.4L132.5 0.2M39.7 49.4L52.4 48.2M295 -13.1L305 -5.8M104.1 -6.7L94.7 0.5M269.3 -15.1L276 -23.7M278.8 4.9L281.1 -3.6M212.9 53.7L201.3 64.8M213.3 -12.1L224.9 -23.2M147.4 36.7L145.1 45.2M79.2 -8.7L67 -17.3M156.8 56.7L150.2 65.3M131.1 54.7L121.2 47.4M293.6 41.4L306.3 40.2M95.7 46.6L103.1 47.8M175.8 -1.4L183.2 -0.2M277.9 33.3L268.4 40.5M67.6 39.7L77.5 47M41.9 37.7L48.5 29.1M279.7 7.1L292 15.7M51.3 57.7L53.6 49.2M145.7 10.5L134 21.6M253 31.3L240.7 22.7M198.1 36.3L200.9 42.3M80.2 -6.5L77.9 2M89.6 13.5L83 22.1M197 34.3L189.6 23.2M254.8 5.1L264.3 -2.1M63.9 11.5L54 4.2M226.4 -1.8L239.1 -3M146.3 46.2L159 45M210.7 -9.9L201.2 -2.7M108.3 56.9L115.6 68M107.2 54.9L104.4 48.9M52.3 59.9L64.5 68.5M253.9 33.5L251.6 42M185.8 -11.9L173.5 -20.5M263.4 53.5L256.7 62.1M130.9 -6.9L133.7 -0.9M237.7 51.5L227.7 44.2M129.7 -8.9L122.4 -20M202.2 43.4L209.6 44.6M282.3 -4.6L289.7 -3.4M79.1 3L91.8 1.8M174.2 36.5L184.1 43.8M41.1 13.7L48.4 24.8M148.4 34.5L155.1 25.9M157.9 54.5L160.2 46M252.2 7.3L240.6 18.4M39.9 11.7L37.2 5.7M304.7 33.1L307.4 39.1M92.4 37.5L104 26.4M186.7 -9.7L184.4 -1.2M196.2 10.3L189.5 18.9M303.5 31.1L296.2 20M170.4 8.3L160.5 1M252.8 43L265.5 41.8M135 0.2L142.4 1.4M54.9 48.2L62.3 49.4M214.9 53.7L222.2 64.8M106.9 -6.7L116.9 0.6M213.7 51.7L210.9 45.7M81.2 -8.7L87.9 -17.3M158.8 56.7L171.1 65.3M90.7 11.3L93 2.8M292.3 -15.1L280.1 -23.7M237.4 -10.1L240.2 -4.1M236.3 -12.1L229 -23.2M133.9 54.7L143.4 47.5M105.5 47.8L118.2 46.6M185.6 -0.2L198.3 -1.4M280.7 33.3L290.6 40.6M89.8 39.7L80.3 46.9M147.6 10.5L155 21.6M255 31.3L261.6 22.7M264.4 51.3L266.7 42.8M146.5 8.5L143.7 2.5M91.6 13.5L103.9 22.1M198.9 34.3L210.6 23.2M293.3 -12.9L291 -4.4M64.9 37.7L52.6 29.1M302.7 7.1L296.1 15.7M277 5.1L267.1 -2.2M66.7 11.5L76.2 4.3M241.5 -3L248.9 -1.8M161.4 45L168.8 46.2M38.3 4.6L51 3.4M213.5 -9.9L223.4 -2.6M187.8 -11.9L194.4 -20.5M265.4 53.5L277.6 62.1"/>
<g class="as" stroke-width="3.49"><path id="r50" d="M293.6 -14.2h0M253.4 6.2h0M66.2 38.6h0M172.7 35.4h0M132.6 55.8h0M65.3 12.6h0M279.3 32.2h0M239.1 52.6h0M171.9 9.4h0"/></g><use href="#r50" class="ash" stroke-width="1.31"/>
<g class="fe" stroke-width="3.49"><path id="r51" d="M267.1 41.6h0M119.7 46.4h0M199.8 -1.6h0M52.5 3.2h0M306.4 -4.8h0M226.3 43.2h0M159.1 0h0M79 48h0M265.6 -3.2h0M185.5 44.8h0M118.3 1.6h0M38.2 49.6h0"/></g><use href="#r51" class="feh" stroke-width="1.31"/>
<circle class="bj" cx="106.5" cy="24" r="3.57"/>
<circle class="bj" cx="280.3" cy="64" r="3.58"/>
<circle class="ba" cx="39.3" cy="-19.2" r="3.58"/>
<circle class="bj" cx="213.1" cy="20.8" r="3.58"/>
<circle class="ba" cx="145.8" cy="-22.4" r="3.58"/>
<circle class="bj" cx="92.2" cy="70.4" r="3.58"/>
<circle class="ba" cx="252.4" cy="-25.6" r="3.58"/>
<circle class="bj" cx="198.8" cy="67.2" r="3.59"/>
<path class="bd" d="M197.2 8.1L199.5 -0.4M131.3 56.9L119.7 68M131.7 -8.9L143.3 -20M65.8 39.9L63.5 48.4M75.3 59.9L68.6 68.5M240.5 51.5L249.9 44.3M49.6 57.9L39.6 50.6M212.1 44.6L224.8 43.4M292.2 -3.4L304.9 -4.6M94.2 1.8L101.6 3M196.4 36.5L186.9 43.7M254.2 7.3L261.5 18.4M253 5.3L250.3 -0.7M198.2 10.3L210.4 18.9M64.1 13.7L52.5 24.8M171.4 34.5L159.2 25.9M116.6 39.5L119.3 45.5M115.4 37.5L108.1 26.4M173.2 8.3L182.7 1.1M268 41.8L275.4 43M64.7 49.4L77.4 48.2M144.8 1.4L157.5 0.2M129.1 -6.7L119.7 0.5M294.3 -15.1L301 -23.7M303.8 4.9L306.1 -3.6M237.9 53.7L226.3 64.8M238.3 -12.1L249.9 -23.2M172.4 36.7L170.1 45.2M104.2 -8.7L92 -17.3M181.8 56.7L175.2 65.3M49.3 -3.7L52.1 2.3M156.1 54.7L146.2 47.4M48.2 -5.7L40.9 -16.8M200.8 -1.4L208.2 -0.2M120.7 46.6L128.1 47.8M302.9 33.3L293.4 40.5M92.6 39.7L102.5 47M66.9 37.7L73.5 29.1M76.3 57.7L78.6 49.2M170.7 10.5L159 21.6M278 31.3L265.7 22.7M223.1 36.3L225.9 42.3M105.2 -6.5L102.9 2M114.6 13.5L108 22.1M222 34.3L214.6 23.2M279.8 5.1L289.3 -2.1M88.9 11.5L79 4.2M251.4 -1.8L264.1 -3M171.3 46.2L184 45M53.4 3.4L60.8 4.6M235.7 -9.9L226.2 -2.7M133.3 56.9L140.6 68M132.2 54.9L129.4 48.9M77.3 59.9L89.5 68.5M278.9 33.5L276.6 42M210.8 -11.9L198.5 -20.5M288.4 53.5L281.7 62.1M155.9 -6.9L158.7 -0.9M262.7 51.5L252.7 44.2M154.7 -8.9L147.4 -20M52.4 57.9L61.8 50.7M227.2 43.4L234.6 44.6M104.1 3L116.8 1.8M199.2 36.5L209.1 43.8M66.1 13.7L73.4 24.8M173.4 34.5L180.1 25.9M182.9 54.5L185.2 46M277.2 7.3L265.6 18.4M64.9 11.7L62.2 5.7M117.4 37.5L129 26.4M211.7 -9.7L209.4 -1.2M221.2 10.3L214.5 18.9M195.4 8.3L185.5 1M277.8 43L290.5 41.8M160 0.2L167.4 1.4M79.9 48.2L87.3 49.4M239.9 53.7L247.2 64.8M131.9 -6.7L141.9 0.6M238.7 51.7L235.9 45.7M106.2 -8.7L112.9 -17.3M183.8 56.7L196.1 65.3M115.7 11.3L118 2.8M49.8 60.1L38.2 71.2M262.4 -10.1L265.2 -4.1M50.2 -5.7L61.8 -16.8M261.3 -12.1L254 -23.2M158.9 54.7L168.4 47.5M210.6 -0.2L223.3 -1.4M130.5 47.8L143.2 46.6M114.8 39.7L105.3 46.9M172.6 10.5L180 21.6M280 31.3L286.6 22.7M289.4 51.3L291.7 42.8M171.5 8.5L168.7 2.5M116.6 13.5L128.9 22.1M223.9 34.3L235.6 23.2M89.9 37.7L77.6 29.1M35 42.7L37.8 48.7M302 5.1L292.1 -2.2M91.7 11.5L101.2 4.3M186.4 45L193.8 46.2M266.5 -3L273.9 -1.8M63.3 4.6L76 3.4M238.5 -9.9L248.4 -2.6M47.6 -3.5L38.1 3.7M212.8 -11.9L219.4 -20.5M290.4 53.5L302.6 62.1M222.2 8.1L224.5 -0.4M156.3 56.9L144.7 68"/>
<g class="as" stroke-width="3.50"><path id="r53" d="M278.4 6.2h0M91.2 38.6h0M51 59h0M197.7 35.4h0M157.6 55.8h0M90.3 12.6h0M304.3 32.2h0M264.1 52.6h0M196.9 9.4h0"/></g><use href="#r53" class="ash" stroke-width="1.31"/>
<g class="fe" stroke-width="3.50"><path id="r54" d="M292.1 41.6h0M224.8 -1.6h0M144.8 46.4h0M77.5 3.2h0M251.3 43.2h0M184.1 0h0M104 48h0M36.8 4.8h0M290.6 -3.2h0M210.5 44.8h0M143.3 1.6h0M63.2 49.6h0"/></g><use href="#r54" class="feh" stroke-width="1.31"/>
<circle class="bj" cx="131.5" cy="24" r="3.59"/>
<circle class="ba" cx="305.3" cy="64" r="3.59"/>
<circle class="ba" cx="64.3" cy="-19.2" r="3.59"/>
<circle class="bj" cx="238.1" cy="20.8" r="3.59"/>
<circle class="ba" cx="170.8" cy="-22.4" r="3.59"/>
<circle class="bj" cx="117.2" cy="70.4" r="3.60"/>
<circle class="ba" cx="277.4" cy="-25.6" r="3.60"/>
<circle class="bj" cx="50" cy="27.2" r="3.60"/>
<circle class="bj" cx="223.8" cy="67.2" r="3.60"/>
<circle class="bj" cx="156.5" cy="24" r="3.60"/>
<path class="bd" d="M156.7 -8.9L168.3 -20M90.8 39.9L88.5 48.4M100.3 59.9L93.6 68.5M265.5 51.5L274.9 44.3M74.6 57.9L64.6 50.6M237.1 44.6L249.8 43.4M119.2 1.8L126.6 3M39.1 49.8L46.5 51M221.4 36.5L211.9 43.7M279.2 7.3L286.5 18.4M278 5.3L275.3 -0.7M223.2 10.3L235.4 18.9M89.1 13.7L77.5 24.8M196.4 34.5L184.2 25.9M141.6 39.5L144.3 45.5M140.4 37.5L133.1 26.4M198.2 8.3L207.7 1.1M293 41.8L300.4 43M169.8 1.4L182.5 0.2M89.7 49.4L102.4 48.2M154.1 -6.7L144.7 0.5M51.8 60.1L59.1 71.2M262.9 53.7L251.3 64.8M50.6 58.1L47.8 52.1M263.3 -12.1L274.9 -23.2M197.4 36.7L195.1 45.2M129.2 -8.7L117 -17.3M206.8 56.7L200.2 65.3M74.3 -3.7L77.1 2.3M181.1 54.7L171.2 47.4M73.2 -5.7L65.9 -16.8M145.7 46.6L153.1 47.8M225.8 -1.4L233.2 -0.2M117.6 39.7L127.5 47M91.9 37.7L98.5 29.1M101.3 57.7L103.6 49.2M195.7 10.5L184 21.6M303 31.3L290.7 22.7M248.1 36.3L250.9 42.3M35.8 40.7L47.5 29.6M130.2 -6.5L127.9 2M139.6 13.5L133 22.1M247 34.3L239.6 23.2M113.9 11.5L104 4.2M276.4 -1.8L289.1 -3M196.3 46.2L209 45M78.4 3.4L85.8 4.6M260.7 -9.9L251.2 -2.7M158.3 56.9L165.6 68M50.4 -3.5L60.3 3.8M157.2 54.9L154.4 48.9M102.3 59.9L114.5 68.5M34.1 14.5L36.4 6M303.9 33.5L301.6 42M235.8 -11.9L223.5 -20.5M180.9 -6.9L183.7 -0.9M287.7 51.5L277.7 44.2M179.7 -8.9L172.4 -20M77.4 57.9L86.8 50.7M252.2 43.4L259.6 44.6M49 51L61.7 49.8M129.1 3L141.8 1.8M224.2 36.5L234.1 43.8M91.1 13.7L98.4 24.8M198.4 34.5L205.1 25.9M207.9 54.5L210.2 46M302.2 7.3L290.6 18.4M89.9 11.7L87.2 5.7M35.1 16.7L47.3 25.3M142.4 37.5L154 26.4M236.7 -9.7L234.4 -1.2M246.2 10.3L239.5 18.9M220.4 8.3L210.5 1M104.9 48.2L112.3 49.4M185 0.2L192.4 1.4M264.9 53.7L272.2 64.8M156.9 -6.7L166.9 0.6M263.7 51.7L260.9 45.7M131.2 -8.7L137.9 -17.3M208.8 56.7L221.1 65.3M140.7 11.3L143 2.8M74.8 60.1L63.2 71.2M287.4 -10.1L290.2 -4.1M75.2 -5.7L86.8 -16.8M286.3 -12.1L279 -23.2M183.9 54.7L193.4 47.5M155.5 47.8L168.2 46.6M235.6 -0.2L248.3 -1.4M37.7 5L45.1 6.2M139.8 39.7L130.3 46.9M197.6 10.5L205 21.6M196.5 8.5L193.7 2.5M141.6 13.5L153.9 22.1M248.9 34.3L260.6 23.2M114.9 37.7L102.6 29.1M60 42.7L62.8 48.7M58.9 40.7L51.5 29.6M116.7 11.5L126.2 4.3M211.4 45L218.8 46.2M291.5 -3L298.9 -1.8M88.3 4.6L101 3.4M263.5 -9.9L273.4 -2.6M72.6 -3.5L63.1 3.7M237.8 -11.9L244.4 -20.5M247.2 8.1L249.5 -0.4M181.3 56.9L169.7 68M181.7 -8.9L193.3 -20M115.8 39.9L113.5 48.4"/>
<g class="as" stroke-width="3.52"><path id="r56" d="M303.4 6.2h0M116.2 38.6h0M76 59h0M222.7 35.4h0M182.6 55.8h0M115.3 12.6h0M289.1 52.6h0M221.9 9.4h0M34.6 41.8h0"/></g><use href="#r56" class="ash" stroke-width="1.32"/>
<g class="fe" stroke-width="3.52"><path id="r57" d="M169.8 46.4h0M249.8 -1.6h0M102.5 3.2h0M276.3 43.2h0M129 48h0M209.1 0h0M61.8 4.8h0M235.5 44.8h0M168.3 1.6h0M88.2 49.6h0"/></g><use href="#r57" class="feh" stroke-width="1.32"/>
<circle class="ba" cx="89.3" cy="-19.2" r="3.60"/>
<circle class="bj" cx="263.1" cy="20.8" r="3.60"/>
<circle class="bj" cx="35.6" cy="73.6" r="3.60"/>
<circle class="ba" cx="195.8" cy="-22.4" r="3.60"/>
<circle class="bj" cx="142.2" cy="70.4" r="3.61"/>
<circle class="ba" cx="302.4" cy="-25.6" r="3.61"/>
<circle class="bj" cx="75" cy="27.2" r="3.61"/>
<circle class="bj" cx="248.8" cy="67.2" r="3.61"/>
<circle class="bj" cx="181.5" cy="24" r="3.61"/>
<path class="bd" d="M47.7 -5.5L35.4 -14.1M125.3 59.9L118.6 68.5M290.5 51.5L299.9 44.3M99.6 57.9L89.6 50.6M262.1 44.6L274.8 43.4M144.2 1.8L151.6 3M64.1 49.8L71.5 51M246.4 36.5L236.9 43.7M36.1 42.9L46 50.2M303 5.3L300.3 -0.7M248.2 10.3L260.4 18.9M114.1 13.7L102.5 24.8M221.4 34.5L209.2 25.9M166.6 39.5L169.3 45.5M48.6 -3.3L46.3 5.2M58.1 16.7L51.4 25.3M165.4 37.5L158.1 26.4M223.2 8.3L232.7 1.1M114.7 49.4L127.4 48.2M194.8 1.4L207.5 0.2M179.1 -6.7L169.7 0.5M76.8 60.1L84.1 71.2M287.9 53.7L276.3 64.8M75.6 58.1L72.8 52.1M288.3 -12.1L299.9 -23.2M222.4 36.7L220.1 45.2M154.2 -8.7L142 -17.3M231.8 56.7L225.2 65.3M99.3 -3.7L102.1 2.3M206.1 54.7L196.2 47.4M98.2 -5.7L90.9 -16.8M170.7 46.6L178.1 47.8M250.8 -1.4L258.2 -0.2M47.5 6.2L60.2 5M142.6 39.7L152.5 47M116.9 37.7L123.5 29.1M126.3 57.7L128.6 49.2M220.7 10.5L209 21.6M273.1 36.3L275.9 42.3M60.8 40.7L72.5 29.6M155.2 -6.5L152.9 2M164.6 13.5L158 22.1M272 34.3L264.6 23.2M138.9 11.5L129 4.2M221.3 46.2L234 45M103.4 3.4L110.8 4.6M285.7 -9.9L276.2 -2.7M183.3 56.9L190.6 68M75.4 -3.5L85.3 3.8M182.2 54.9L179.4 48.9M49.7 -5.5L56.3 -14.1M127.3 59.9L139.5 68.5M59.1 14.5L61.4 6M260.8 -11.9L248.5 -20.5M205.9 -6.9L208.7 -0.9M204.7 -8.9L197.4 -20M102.4 57.9L111.8 50.7M277.2 43.4L284.6 44.6M154.1 3L166.8 1.8M74 51L86.7 49.8M249.2 36.5L259.1 43.8M58.3 42.9L48.8 50.1M116.1 13.7L123.4 24.8M223.4 34.5L230.1 25.9M232.9 54.5L235.2 46M114.9 11.7L112.2 5.7M60.1 16.7L72.3 25.3M167.4 37.5L179 26.4M261.7 -9.7L259.4 -1.2M271.2 10.3L264.5 18.9M245.4 8.3L235.5 1M35.1 14.7L44.6 7.5M129.9 48.2L137.3 49.4M210 0.2L217.4 1.4M289.9 53.7L297.2 64.8M181.9 -6.7L191.9 0.6M288.7 51.7L285.9 45.7M156.2 -8.7L162.9 -17.3M233.8 56.7L246.1 65.3M165.7 11.3L168 2.8M99.8 60.1L88.2 71.2M100.2 -5.7L111.8 -16.8M34.3 43.1L32 51.6M43.7 63.1L37.1 71.7M208.9 54.7L218.4 47.5M180.5 47.8L193.2 46.6M260.6 -0.2L273.3 -1.4M62.7 5L70.1 6.2M164.8 39.7L155.3 46.9M222.6 10.5L230 21.6M221.5 8.5L218.7 2.5M166.6 13.5L178.9 22.1M273.9 34.3L285.6 23.2M139.9 37.7L127.6 29.1M85 42.7L87.8 48.7M83.9 40.7L76.5 29.6M141.7 11.5L151.2 4.3M236.4 45L243.8 46.2M113.3 4.6L126 3.4M33.2 52.6L45.9 51.4M288.5 -9.9L298.4 -2.6M97.6 -3.5L88.1 3.7M262.8 -11.9L269.4 -20.5M272.2 8.1L274.5 -0.4M206.3 56.9L194.7 68M206.7 -8.9L218.3 -20M140.8 39.9L138.5 48.4M72.7 -5.5L60.4 -14.1M150.3 59.9L143.6 68.5"/>
<g class="as" stroke-width="3.53"><path id="r59" d="M141.2 38.6h0M101 59h0M33.8 15.8h0M247.7 35.4h0M207.6 55.8h0M140.3 12.6h0M287 -11h0M246.9 9.4h0M59.6 41.8h0"/></g><use href="#r59" class="ash" stroke-width="1.32"/>
<g class="fe" stroke-width="3.53"><path id="r60" d="M194.8 46.4h0M274.9 -1.6h0M127.5 3.2h0M47.4 51.2h0M301.3 43.2h0M154 48h0M234.1 0h0M86.8 4.8h0M260.5 44.8h0M193.3 1.6h0M113.2 49.6h0M46 6.4h0"/></g><use href="#r60" class="feh" stroke-width="1.32"/>
<circle class="ba" cx="114.3" cy="-19.2" r="3.61"/>
<circle class="ba" cx="288.1" cy="20.8" r="3.62"/>
<circle class="bj" cx="60.6" cy="73.6" r="3.62"/>
<circle class="ba" cx="220.8" cy="-22.4" r="3.62"/>
<circle class="bj" cx="167.2" cy="70.4" r="3.62"/>
<circle class="bj" cx="100" cy="27.2" r="3.62"/>
<circle class="bj" cx="273.8" cy="67.2" r="3.62"/>
<circle class="ba" cx="32.8" cy="-16" r="3.62"/>
<circle class="bj" cx="206.5" cy="24" r="3.63"/>
<path class="bd" d="M124.6 57.9L114.6 50.6M287.1 44.6L299.8 43.4M169.2 1.8L176.6 3M89.1 49.8L96.5 51M271.4 36.5L261.9 43.7M61.1 42.9L71 50.2M35.3 40.9L42 32.3M273.2 10.3L285.4 18.9M44.8 60.9L47.1 52.4M139.1 13.7L127.5 24.8M246.4 34.5L234.2 25.9M191.6 39.5L194.3 45.5M73.6 -3.3L71.3 5.2M83.1 16.7L76.4 25.3M190.4 37.5L183.1 26.4M248.2 8.3L257.7 1.1M57.3 14.7L47.4 7.4M219.8 1.4L232.5 0.2M139.7 49.4L152.4 48.2M204.1 -6.7L194.7 0.5M101.8 60.1L109.1 71.2M100.6 58.1L97.8 52.1M45.7 63.1L58 71.7M247.4 36.7L245.1 45.2M179.2 -8.7L167 -17.3M256.8 56.7L250.2 65.3M124.3 -3.7L127.1 2.3M231.1 54.7L221.2 47.4M123.2 -5.7L115.9 -16.8M195.7 46.6L203.1 47.8M275.8 -1.4L283.2 -0.2M72.5 6.2L85.2 5M167.6 39.7L177.5 47M34.5 16.9L41.9 28M141.9 37.7L148.5 29.1M151.3 57.7L153.6 49.2M245.7 10.5L234 21.6M33.4 14.9L30.6 8.9M298.1 36.3L300.9 42.3M85.8 40.7L97.5 29.6M180.2 -6.5L177.9 2M189.6 13.5L183 22.1M297 34.3L289.6 23.2M163.9 11.5L154 4.2M246.3 46.2L259 45M128.4 3.4L135.8 4.6M48.3 51.4L55.7 52.6M208.3 56.9L215.6 68M100.4 -3.5L110.3 3.8M207.2 54.9L204.4 48.9M74.7 -5.5L81.3 -14.1M152.3 59.9L164.5 68.5M84.1 14.5L86.4 6M285.8 -11.9L273.5 -20.5M230.9 -6.9L233.7 -0.9M229.7 -8.9L222.4 -20M127.4 57.9L136.8 50.7M179.1 3L191.8 1.8M99 51L111.7 49.8M274.2 36.5L284.1 43.8M83.3 42.9L73.8 50.1M141.1 13.7L148.4 24.8M248.4 34.5L255.1 25.9M257.9 54.5L260.2 46M139.9 11.7L137.2 5.7M85.1 16.7L97.3 25.3M192.4 37.5L204 26.4M286.7 -9.7L284.4 -1.2M58.3 40.9L46.1 32.3M296.2 10.3L289.5 18.9M270.4 8.3L260.5 1M60.1 14.7L69.6 7.5M154.9 48.2L162.3 49.4M235 0.2L242.4 1.4M31.7 7.8L44.4 6.6M206.9 -6.7L216.9 0.6M181.2 -8.7L187.9 -17.3M258.8 56.7L271.1 65.3M190.7 11.3L193 2.8M124.8 60.1L113.2 71.2M125.2 -5.7L136.8 -16.8M59.3 43.1L57 51.6M68.7 63.1L62.1 71.7M233.9 54.7L243.4 47.5M43 61.1L33.1 53.8M205.5 47.8L218.2 46.6M285.6 -0.2L298.3 -1.4M87.7 5L95.1 6.2M189.8 39.7L180.3 46.9M247.6 10.5L255 21.6M246.5 8.5L243.7 2.5M191.6 13.5L203.9 22.1M57.6 16.9L45.9 28M164.9 37.7L152.6 29.1M110 42.7L112.8 48.7M108.9 40.7L101.5 29.6M166.7 11.5L176.2 4.3M261.4 45L268.8 46.2M58.2 52.6L70.9 51.4M138.3 4.6L151 3.4M122.6 -3.5L113.1 3.7M287.8 -11.9L294.4 -20.5M297.2 8.1L299.5 -0.4M231.3 56.9L219.7 68M231.7 -8.9L243.3 -20M165.8 39.9L163.5 48.4M97.7 -5.5L85.4 -14.1M175.3 59.9L168.6 68.5M42.8 -0.5L45.6 5.5M149.6 57.9L139.6 50.6M41.6 -2.5L34.3 -13.6M194.2 1.8L201.6 3M114.1 49.8L121.5 51"/>
<g class="as" stroke-width="3.54"><path id="r62" d="M166.2 38.6h0M126 59h0M58.8 15.8h0M272.7 35.4h0M232.6 55.8h0M165.3 12.6h0M271.9 9.4h0M84.6 41.8h0M44.5 62.2h0"/></g><use href="#r62" class="ash" stroke-width="1.33"/>
<g class="fe" stroke-width="3.54"><path id="r63" d="M219.8 46.4h0M299.9 -1.6h0M152.5 3.2h0M72.4 51.2h0M179 48h0M259.1 0h0M111.8 4.8h0M31.6 52.8h0M285.5 44.8h0M218.3 1.6h0M138.2 49.6h0M71 6.4h0"/></g><use href="#r63" class="feh" stroke-width="1.33"/>
<circle class="ba" cx="139.3" cy="-19.2" r="3.63"/>
<circle class="bj" cx="85.7" cy="73.6" r="3.63"/>
<circle class="ba" cx="245.8" cy="-22.4" r="3.63"/>
<circle class="bj" cx="192.2" cy="70.4" r="3.63"/>
<circle class="bj" cx="125" cy="27.2" r="3.64"/>
<circle class="ba" cx="298.8" cy="67.2" r="3.64"/>
<circle class="ba" cx="57.8" cy="-16" r="3.64"/>
<circle class="bj" cx="231.5" cy="24" r="3.64"/>
<path class="bd" d="M296.4 36.5L286.9 43.7M86.1 42.9L96 50.2M60.3 40.9L67 32.3M69.8 60.9L72.1 52.4M164.1 13.7L152.5 24.8M271.4 34.5L259.2 25.9M216.6 39.5L219.3 45.5M98.6 -3.3L96.3 5.2M108.1 16.7L101.4 25.3M215.4 37.5L208.1 26.4M273.2 8.3L282.7 1.1M82.3 14.7L72.4 7.4M164.7 49.4L177.4 48.2M244.8 1.4L257.5 0.2M46.9 6.6L54.3 7.8M229.1 -6.7L219.7 0.5M126.8 60.1L134.1 71.2M125.6 58.1L122.8 52.1M70.7 63.1L83 71.7M272.4 36.7L270.1 45.2M204.2 -8.7L192 -17.3M281.8 56.7L275.2 65.3M149.3 -3.7L152.1 2.3M256.1 54.7L246.2 47.4M148.2 -5.7L140.9 -16.8M45.8 61.1L55.3 53.9M220.7 46.6L228.1 47.8M97.5 6.2L110.2 5M192.6 39.7L202.5 47M59.5 16.9L66.9 28M166.9 37.7L173.5 29.1M176.3 57.7L178.6 49.2M270.7 10.5L259 21.6M58.4 14.9L55.6 8.9M110.8 40.7L122.5 29.6M205.2 -6.5L202.9 2M214.6 13.5L208 22.1M188.9 11.5L179 4.2M271.3 46.2L284 45M153.4 3.4L160.8 4.6M73.3 51.4L80.7 52.6M233.3 56.9L240.6 68M125.4 -3.5L135.3 3.8M232.2 54.9L229.4 48.9M99.7 -5.5L106.3 -14.1M177.3 59.9L189.5 68.5M109.1 14.5L111.4 6M43.2 63.3L31.6 74.4M255.9 -6.9L258.7 -0.9M43.6 -2.5L55.2 -13.6M254.7 -8.9L247.4 -20M152.4 57.9L161.8 50.7M204.1 3L216.8 1.8M124 51L136.7 49.8M108.3 42.9L98.8 50.1M166.1 13.7L173.4 24.8M273.4 34.5L280.1 25.9M282.9 54.5L285.2 46M164.9 11.7L162.2 5.7M110.1 16.7L122.3 25.3M217.4 37.5L229 26.4M83.3 40.9L71.1 32.3M28.5 45.9L31.2 51.9M295.4 8.3L285.5 1M85.1 14.7L94.6 7.5M179.9 48.2L187.3 49.4M260 0.2L267.4 1.4M56.7 7.8L69.4 6.6M231.9 -6.7L241.9 0.6M41 -0.3L31.6 6.9M206.2 -8.7L212.9 -17.3M283.8 56.7L296.1 65.3M215.7 11.3L218 2.8M149.8 60.1L138.2 71.2M150.2 -5.7L161.8 -16.8M84.3 43.1L82 51.6M93.7 63.1L87.1 71.7M258.9 54.7L268.4 47.5M68 61.1L58.1 53.8M230.5 47.8L243.2 46.6M112.7 5L120.1 6.2M32.6 53L40 54.2M214.8 39.7L205.3 46.9M272.6 10.5L280 21.6M271.5 8.5L268.7 2.5M216.6 13.5L228.9 22.1M82.6 16.9L70.9 28M189.9 37.7L177.6 29.1M135 42.7L137.8 48.7M133.9 40.7L126.5 29.6M191.7 11.5L201.2 4.3M286.4 45L293.8 46.2M163.3 4.6L176 3.4M83.2 52.6L95.9 51.4M147.6 -3.5L138.1 3.7M45.2 63.3L52.5 74.4M256.3 56.9L244.7 68M44.1 61.3L41.3 55.3M256.7 -8.9L268.3 -20M190.8 39.9L188.5 48.4M122.7 -5.5L110.4 -14.1M200.3 59.9L193.6 68.5M67.8 -0.5L70.6 5.5M174.6 57.9L164.6 50.6M66.6 -2.5L59.3 -13.6M219.2 1.8L226.6 3M139.1 49.8L146.5 51M111.1 42.9L121 50.2"/>
<g class="as" stroke-width="3.56"><path id="r65" d="M191.2 38.6h0M151 59h0M83.8 15.8h0M297.7 35.4h0M257.6 55.8h0M190.3 12.6h0M296.9 9.4h0M109.6 41.8h0M69.5 62.2h0"/></g><use href="#r65" class="ash" stroke-width="1.33"/>
<g class="fe" stroke-width="3.56"><path id="r66" d="M244.8 46.4h0M177.5 3.2h0M97.4 51.2h0M30.2 8h0M284.1 0h0M204 48h0M56.6 52.8h0M136.8 4.8h0M243.3 1.6h0M163.2 49.6h0M96 6.4h0"/></g><use href="#r66" class="feh" stroke-width="1.33"/>
<circle class="ba" cx="164.3" cy="-19.2" r="3.64"/>
<circle class="bj" cx="110.7" cy="73.6" r="3.64"/>
<circle class="ba" cx="270.9" cy="-22.4" r="3.64"/>
<circle class="bj" cx="43.4" cy="30.4" r="3.65"/>
<circle class="bj" cx="217.2" cy="70.4" r="3.65"/>
<circle class="bj" cx="150" cy="27.2" r="3.65"/>
<circle class="ba" cx="82.8" cy="-16" r="3.65"/>
<circle class="bj" cx="256.5" cy="24" r="3.65"/>
<path class="bd" d="M85.3 40.9L92 32.3M94.8 60.9L97.1 52.4M189.1 13.7L177.5 24.8M296.4 34.5L284.2 25.9M241.6 39.5L244.3 45.5M29.3 43.9L40.9 32.8M123.6 -3.3L121.3 5.2M133.1 16.7L126.4 25.3M240.4 37.5L233.1 26.4M107.3 14.7L97.4 7.4M189.7 49.4L202.4 48.2M269.8 1.4L282.5 0.2M71.9 6.6L79.3 7.8M254.1 -6.7L244.7 0.5M151.8 60.1L159.1 71.2M43.8 -0.3L53.8 7M150.6 58.1L147.8 52.1M95.7 63.1L108 71.7M27.6 17.7L29.9 9.2M297.4 36.7L295.1 45.2M229.2 -8.7L217 -17.3M174.3 -3.7L177.1 2.3M281.1 54.7L271.2 47.4M173.2 -5.7L165.9 -16.8M70.8 61.1L80.3 53.9M245.7 46.6L253.1 47.8M42.4 54.2L55.1 53M122.5 6.2L135.2 5M217.6 39.7L227.5 47M84.5 16.9L91.9 28M191.9 37.7L198.5 29.1M201.3 57.7L203.6 49.2M295.7 10.5L284 21.6M83.4 14.9L80.6 8.9M28.5 19.9L40.8 28.5M135.8 40.7L147.5 29.6M230.2 -6.5L227.9 2M239.6 13.5L233 22.1M213.9 11.5L204 4.2M98.3 51.4L105.7 52.6M178.4 3.4L185.8 4.6M258.3 56.9L265.6 68M150.4 -3.5L160.3 3.8M257.2 54.9L254.4 48.9M124.7 -5.5L131.3 -14.1M202.3 59.9L214.5 68.5M134.1 14.5L136.4 6M68.2 63.3L56.6 74.4M280.9 -6.9L283.7 -0.9M68.6 -2.5L80.2 -13.6M279.7 -8.9L272.4 -20M177.4 57.9L186.8 50.7M229.1 3L241.8 1.8M149 51L161.7 49.8M31.1 8.2L38.5 9.4M133.3 42.9L123.8 50.1M191.1 13.7L198.4 24.8M189.9 11.7L187.2 5.7M135.1 16.7L147.3 25.3M242.4 37.5L254 26.4M108.3 40.9L96.1 32.3M53.5 45.9L56.2 51.9M52.3 43.9L45 32.8M110.1 14.7L119.6 7.5M285 0.2L292.4 1.4M204.9 48.2L212.3 49.4M81.7 7.8L94.4 6.6M256.9 -6.7L266.9 0.6M66 -0.3L56.6 6.9M231.2 -8.7L237.9 -17.3M240.7 11.3L243 2.8M174.8 60.1L163.2 71.2M175.2 -5.7L186.8 -16.8M109.3 43.1L107 51.6M41.1 -2.3L28.9 -10.9M118.7 63.1L112.1 71.7M283.9 54.7L293.4 47.5M93 61.1L83.1 53.8M255.5 47.8L268.2 46.6M57.6 53L65 54.2M137.7 5L145.1 6.2M239.8 39.7L230.3 46.9M29.5 46.1L39.4 53.4M296.5 8.5L293.7 2.5M241.6 13.5L253.9 22.1M107.6 16.9L95.9 28M214.9 37.7L202.6 29.1M160 42.7L162.8 48.7M42.1 -0.1L39.8 8.4M51.5 19.9L44.9 28.5M158.9 40.7L151.5 29.6M216.7 11.5L226.2 4.3M108.2 52.6L120.9 51.4M188.3 4.6L201 3.4M172.6 -3.5L163.1 3.7M70.2 63.3L77.5 74.4M281.3 56.9L269.7 68M69.1 61.3L66.3 55.3M281.7 -8.9L293.3 -20M215.8 39.9L213.5 48.4M147.7 -5.5L135.4 -14.1M225.3 59.9L218.6 68.5M92.8 -0.5L95.6 5.5M199.6 57.9L189.6 50.6M91.6 -2.5L84.3 -13.6M164.1 49.8L171.5 51M244.2 1.8L251.6 3M41 9.4L53.7 8.2M136.1 42.9L146 50.2M110.3 40.9L117 32.3"/>
<g class="as" stroke-width="3.57"><path id="r68" d="M216.2 38.6h0M176 59h0M108.8 15.8h0M282.6 55.8h0M215.3 12.6h0M28.1 45h0M134.6 41.8h0M94.5 62.2h0"/></g><use href="#r68" class="ash" stroke-width="1.34"/>
<g class="fe" stroke-width="3.57"><path id="r69" d="M269.8 46.4h0M202.5 3.2h0M122.4 51.2h0M55.2 8h0M229 48h0M161.8 4.8h0M81.6 52.8h0M268.3 1.6h0M188.2 49.6h0M121 6.4h0M40.9 54.4h0"/></g><use href="#r69" class="feh" stroke-width="1.34"/>
<circle class="ba" cx="189.3" cy="-19.2" r="3.65"/>
<circle class="ba" cx="29.1" cy="76.8" r="3.65"/>
<circle class="bj" cx="135.7" cy="73.6" r="3.66"/>
<circle class="ba" cx="295.9" cy="-22.4" r="3.66"/>
<circle class="bj" cx="68.4" cy="30.4" r="3.66"/>
<circle class="bj" cx="242.2" cy="70.4" r="3.66"/>
<circle class="bj" cx="175" cy="27.2" r="3.66"/>
<circle class="ba" cx="107.8" cy="-16" r="3.66"/>
<circle class="ba" cx="281.5" cy="24" r="3.67"/>
<path class="bd" d="M119.8 60.9L122.1 52.4M214.1 13.7L202.5 24.8M266.6 39.5L269.3 45.5M54.3 43.9L65.9 32.8M148.6 -3.3L146.3 5.2M158.1 16.7L151.4 25.3M265.4 37.5L258.1 26.4M132.3 14.7L122.4 7.4M214.7 49.4L227.4 48.2M96.9 6.6L104.3 7.8M279.1 -6.7L269.7 0.5M176.8 60.1L184.1 71.2M68.8 -0.3L78.8 7M175.6 58.1L172.8 52.1M43.1 -2.3L49.8 -10.9M120.7 63.1L133 71.7M52.6 17.7L54.9 9.2M254.2 -8.7L242 -17.3M199.3 -3.7L202.1 2.3M198.2 -5.7L190.9 -16.8M95.8 61.1L105.3 53.9M270.7 46.6L278.1 47.8M67.4 54.2L80.1 53M147.5 6.2L160.2 5M242.6 39.7L252.5 47M51.7 46.1L42.2 53.3M109.5 16.9L116.9 28M216.9 37.7L223.5 29.1M226.3 57.7L228.6 49.2M108.4 14.9L105.6 8.9M53.5 19.9L65.8 28.5M160.8 40.7L172.5 29.6M255.2 -6.5L252.9 2M264.6 13.5L258 22.1M238.9 11.5L229 4.2M28.6 17.9L38.1 10.7M123.3 51.4L130.7 52.6M203.4 3.4L210.8 4.6M283.3 56.9L290.6 68M175.4 -3.5L185.3 3.8M282.2 54.9L279.4 48.9M149.7 -5.5L156.3 -14.1M227.3 59.9L239.5 68.5M159.1 14.5L161.4 6M93.2 63.3L81.6 74.4M93.6 -2.5L105.2 -13.6M27.7 46.3L25.4 54.8M37.2 66.3L30.5 74.9M202.4 57.9L211.8 50.7M254.1 3L266.8 1.8M174 51L186.7 49.8M56.1 8.2L63.5 9.4M158.3 42.9L148.8 50.1M216.1 13.7L223.4 24.8M214.9 11.7L212.2 5.7M160.1 16.7L172.3 25.3M267.4 37.5L279 26.4M133.3 40.9L121.1 32.3M78.5 45.9L81.2 51.9M77.3 43.9L70 32.8M135.1 14.7L144.6 7.5M229.9 48.2L237.3 49.4M106.7 7.8L119.4 6.6M26.6 55.8L39.3 54.6M281.9 -6.7L291.9 0.6M91 -0.3L81.6 6.9M256.2 -8.7L262.9 -17.3M265.7 11.3L268 2.8M199.8 60.1L188.2 71.2M200.2 -5.7L211.8 -16.8M134.3 43.1L132 51.6M66.1 -2.3L53.9 -10.9M143.7 63.1L137.1 71.7M118 61.1L108.1 53.8M280.5 47.8L293.2 46.6M162.7 5L170.1 6.2M82.6 53L90 54.2M264.8 39.7L255.3 46.9M54.5 46.1L64.4 53.4M28.8 44.1L35.4 35.5M266.6 13.5L278.9 22.1M38.2 64.1L40.5 55.6M132.6 16.9L120.9 28M239.9 37.7L227.6 29.1M185 42.7L187.8 48.7M67.1 -0.1L64.8 8.4M76.5 19.9L69.9 28.5M183.9 40.7L176.5 29.6M241.7 11.5L251.2 4.3M50.8 17.9L40.9 10.6M213.3 4.6L226 3.4M133.2 52.6L145.9 51.4M197.6 -3.5L188.1 3.7M95.2 63.3L102.5 74.4M94.1 61.3L91.3 55.3M39.2 66.3L51.4 74.9M240.8 39.9L238.5 48.4M172.7 -5.5L160.4 -14.1M250.3 59.9L243.6 68.5M117.8 -0.5L120.6 5.5M224.6 57.9L214.6 50.6M116.6 -2.5L109.3 -13.6M269.2 1.8L276.6 3M189.1 49.8L196.5 51M66 9.4L78.7 8.2M161.1 42.9L171 50.2M28 20.1L35.3 31.2M135.3 40.9L142 32.3M144.8 60.9L147.1 52.4M239.1 13.7L227.5 24.8M26.8 18.1L24.1 12.1"/>
<g class="as" stroke-width="3.58"><path id="r71" d="M27.2 19h0M241.2 38.6h0M201 59h0M133.8 15.8h0M280.5 -7.8h0M240.3 12.6h0M53.1 45h0M159.6 41.8h0M119.5 62.2h0M52.2 19h0"/></g><use href="#r71" class="ash" stroke-width="1.34"/>
<g class="fe" stroke-width="3.58"><path id="r72" d="M294.8 46.4h0M227.5 3.2h0M147.4 51.2h0M80.2 8h0M254 48h0M186.8 4.8h0M106.6 52.8h0M39.4 9.6h0M293.3 1.6h0M213.2 49.6h0M65.9 54.4h0M146 6.4h0"/></g><use href="#r72" class="feh" stroke-width="1.34"/>
<circle class="ba" cx="214.3" cy="-19.2" r="3.67"/>
<circle class="ba" cx="54.1" cy="76.8" r="3.67"/>
<circle class="bj" cx="160.7" cy="73.6" r="3.67"/>
<circle class="bj" cx="93.4" cy="30.4" r="3.67"/>
<circle class="bj" cx="267.2" cy="70.4" r="3.67"/>
<circle class="ba" cx="26.2" cy="-12.8" r="3.67"/>
<circle class="bj" cx="200" cy="27.2" r="3.68"/>
<circle class="ba" cx="132.8" cy="-16" r="3.68"/>
<circle class="ba" cx="239.3" cy="-19.2" r="3.68"/>
<circle class="ba" cx="79.1" cy="76.8" r="3.68"/>
<path class="bd" d="M291.6 39.5L294.3 45.5M79.3 43.9L90.9 32.8M173.6 -3.3L171.3 5.2M183.1 16.7L176.4 25.3M290.4 37.5L283.1 26.4M157.3 14.7L147.4 7.4M239.7 49.4L252.4 48.2M121.9 6.6L129.3 7.8M41.8 54.6L49.2 55.8M201.8 60.1L209.1 71.2M93.8 -0.3L103.8 7M200.6 58.1L197.8 52.1M68.1 -2.3L74.8 -10.9M145.7 63.1L158 71.7M77.6 17.7L79.9 9.2M279.2 -8.7L267 -17.3M224.3 -3.7L227.1 2.3M223.2 -5.7L215.9 -16.8M120.8 61.1L130.3 53.9M172.5 6.2L185.2 5M92.4 54.2L105.1 53M267.6 39.7L277.5 47M76.7 46.1L67.2 53.3M134.5 16.9L141.9 28M241.9 37.7L248.5 29.1M251.3 57.7L253.6 49.2M133.4 14.9L130.6 8.9M78.5 19.9L90.8 28.5M185.8 40.7L197.5 29.6M280.2 -6.5L277.9 2M51.8 44.1L39.5 35.5M289.6 13.5L283 22.1M263.9 11.5L254 4.2M53.6 17.9L63.1 10.7M228.4 3.4L235.8 4.6M148.3 51.4L155.7 52.6M25.2 11L37.9 9.8M200.4 -3.5L210.3 3.8M174.7 -5.5L181.3 -14.1M252.3 59.9L264.5 68.5M184.1 14.5L186.4 6M118.2 63.3L106.6 74.4M118.6 -2.5L130.2 -13.6M52.7 46.3L50.4 54.8M62.2 66.3L55.5 74.9M227.4 57.9L236.8 50.7M36.5 64.3L26.5 57M279.1 3L291.8 1.8M199 51L211.7 49.8M81.1 8.2L88.5 9.4M183.3 42.9L173.8 50.1M241.1 13.7L248.4 24.8M239.9 11.7L237.2 5.7M185.1 16.7L197.3 25.3M51 20.1L39.4 31.2M158.3 40.9L146.1 32.3M103.5 45.9L106.2 51.9M102.3 43.9L95 32.8M160.1 14.7L169.6 7.5M254.9 48.2L262.3 49.4M131.7 7.8L144.4 6.6M51.6 55.8L64.3 54.6M116 -0.3L106.6 6.9M281.2 -8.7L287.9 -17.3M290.7 11.3L293 2.8M224.8 60.1L213.2 71.2M225.2 -5.7L236.8 -16.8M159.3 43.1L157 51.6M91.1 -2.3L78.9 -10.9M168.7 63.1L162.1 71.7M36.2 2.7L39 8.7M143 61.1L133.1 53.8M35.1 0.7L27.8 -10.4M107.6 53L115 54.2M187.7 5L195.1 6.2M289.8 39.7L280.3 46.9M79.5 46.1L89.4 53.4M53.8 44.1L60.4 35.5M63.2 64.1L65.5 55.6M157.6 16.9L145.9 28M264.9 37.7L252.6 29.1M210 42.7L212.8 48.7M92.1 -0.1L89.8 8.4M101.5 19.9L94.9 28.5M208.9 40.7L201.5 29.6M266.7 11.5L276.2 4.3M75.8 17.9L65.9 10.6M238.3 4.6L251 3.4M158.2 52.6L170.9 51.4M40.3 9.8L47.7 11M222.6 -3.5L213.1 3.7M120.2 63.3L127.5 74.4M119.1 61.3L116.3 55.3M64.2 66.3L76.4 74.9M265.8 39.9L263.5 48.4M197.7 -5.5L185.4 -14.1M275.3 59.9L268.6 68.5M142.8 -0.5L145.6 5.5M249.6 57.9L239.6 50.6M141.6 -2.5L134.3 -13.6M39.3 64.3L48.7 57.1M214.1 49.8L221.5 51M91 9.4L103.7 8.2M186.1 42.9L196 50.2M53 20.1L60.3 31.2M160.3 40.9L167 32.3M169.8 60.9L172.1 52.4M264.1 13.7L252.5 24.8M51.8 18.1L49.1 12.1M104.3 43.9L115.9 32.8M198.6 -3.3L196.3 5.2"/>
<g class="as" stroke-width="3.60"><path id="r74" d="M266.2 38.6h0M226 59h0M158.8 15.8h0M265.3 12.6h0M78.1 45h0M37.9 65.4h0M184.6 41.8h0M144.5 62.2h0M77.2 19h0M291.2 38.6h0"/></g><use href="#r74" class="ash" stroke-width="1.35"/>
<g class="fe" stroke-width="3.59"><path id="r75" d="M252.5 3.2h0M172.4 51.2h0M105.2 8h0M25.1 56h0M279 48h0M211.8 4.8h0M131.7 52.8h0M64.4 9.6h0M238.2 49.6h0M171 6.4h0M90.9 54.4h0M23.7 11.2h0"/></g><use href="#r75" class="feh" stroke-width="1.35"/>
<circle class="bj" cx="185.7" cy="73.6" r="3.68"/>
<circle class="bj" cx="118.4" cy="30.4" r="3.68"/>
<circle class="ba" cx="292.2" cy="70.4" r="3.69"/>
<circle class="ba" cx="51.2" cy="-12.8" r="3.69"/>
<circle class="bj" cx="225" cy="27.2" r="3.69"/>
<circle class="ba" cx="157.8" cy="-16" r="3.69"/>
<circle class="ba" cx="104.1" cy="76.8" r="3.69"/>
<circle class="ba" cx="264.3" cy="-19.2" r="3.69"/>
<path class="bd" d="M208.1 16.7L201.4 25.3M182.3 14.7L172.4 7.4M264.7 49.4L277.4 48.2M66.8 54.6L74.2 55.8M146.9 6.6L154.3 7.8M226.8 60.1L234.1 71.2M118.8 -0.3L128.8 7M225.6 58.1L222.8 52.1M93.1 -2.3L99.8 -10.9M170.7 63.1L183 71.7M102.6 17.7L104.9 9.2M36.7 66.5L25.1 77.6M249.3 -3.7L252.1 2.3M37.1 0.7L48.7 -10.4M248.2 -5.7L240.9 -16.8M145.8 61.1L155.3 53.9M197.5 6.2L210.2 5M117.4 54.2L130.1 53M101.7 46.1L92.2 53.3M159.5 16.9L166.9 28M266.9 37.7L273.5 29.1M276.3 57.7L278.6 49.2M158.4 14.9L155.6 8.9M103.5 19.9L115.8 28.5M210.8 40.7L222.5 29.6M76.8 44.1L64.5 35.5M21.9 49.1L24.7 55.1M288.9 11.5L279 4.2M78.6 17.9L88.1 10.7M253.4 3.4L260.8 4.6M173.3 51.4L180.7 52.6M50.2 11L62.9 9.8M225.4 -3.5L235.3 3.8M34.5 2.9L25 10.1M199.7 -5.5L206.3 -14.1M277.3 59.9L289.5 68.5M209.1 14.5L211.4 6M143.2 63.3L131.6 74.4M143.6 -2.5L155.2 -13.6M77.7 46.3L75.4 54.8M87.2 66.3L80.5 74.9M252.4 57.9L261.8 50.7M61.5 64.3L51.5 57M224 51L236.7 49.8M106.1 8.2L113.5 9.4M26 56.2L33.4 57.4M208.3 42.9L198.8 50.1M266.1 13.7L273.4 24.8M264.9 11.7L262.2 5.7M210.1 16.7L222.3 25.3M76 20.1L64.4 31.2M183.3 40.9L171.1 32.3M128.5 45.9L131.2 51.9M127.3 43.9L120 32.8M185.1 14.7L194.6 7.5M279.9 48.2L287.3 49.4M76.6 55.8L89.3 54.6M156.7 7.8L169.4 6.6M141 -0.3L131.6 6.9M38.7 66.5L46 77.6M249.8 60.1L238.2 71.2M37.5 64.5L34.7 58.5M250.2 -5.7L261.8 -16.8M184.3 43.1L182 51.6M116.1 -2.3L103.9 -10.9M193.7 63.1L187.1 71.7M61.2 2.7L64 8.7M168 61.1L158.1 53.8M60.1 0.7L52.8 -10.4M212.7 5L220.1 6.2M132.6 53L140 54.2M104.5 46.1L114.4 53.4M78.8 44.1L85.4 35.5M88.2 64.1L90.5 55.6M182.6 16.9L170.9 28M289.9 37.7L277.6 29.1M235 42.7L237.8 48.7M22.7 47.1L34.4 36M117.1 -0.1L114.8 8.4M126.5 19.9L119.9 28.5M233.9 40.7L226.5 29.6M100.8 17.9L90.9 10.6M183.2 52.6L195.9 51.4M263.3 4.6L276 3.4M65.3 9.8L72.7 11M247.6 -3.5L238.1 3.7M145.2 63.3L152.5 74.4M37.3 2.9L47.2 10.2M144.1 61.3L141.3 55.3M89.2 66.3L101.4 74.9M21 20.9L23.3 12.4M290.8 39.9L288.5 48.4M222.7 -5.5L210.4 -14.1M167.8 -0.5L170.6 5.5M274.6 57.9L264.6 50.6M166.6 -2.5L159.3 -13.6M64.3 64.3L73.7 57.1M239.1 49.8L246.5 51M35.9 57.4L48.6 56.2M116 9.4L128.7 8.2M211.1 42.9L221 50.2M78 20.1L85.3 31.2M185.3 40.9L192 32.3M194.8 60.9L197.1 52.4M289.1 13.7L277.5 24.8M76.8 18.1L74.1 12.1M22 23.1L34.2 31.7M129.3 43.9L140.9 32.8M223.6 -3.3L221.3 5.2M233.1 16.7L226.4 25.3"/>
<g class="as" stroke-width="3.61"><path id="r77" d="M251 59h0M183.8 15.8h0M290.3 12.6h0M103.1 45h0M62.9 65.4h0M209.6 41.8h0M169.5 62.2h0M102.2 19h0"/></g><use href="#r77" class="ash" stroke-width="1.35"/>
<g class="fe" stroke-width="3.61"><path id="r78" d="M277.5 3.2h0M197.4 51.2h0M130.2 8h0M50.1 56h0M236.8 4.8h0M156.7 52.8h0M89.4 9.6h0M263.2 49.6h0M115.9 54.4h0M196 6.4h0M48.6 11.2h0"/></g><use href="#r78" class="feh" stroke-width="1.35"/>
<circle class="bj" cx="36.9" cy="33.6" r="3.69"/>
<circle class="bj" cx="210.7" cy="73.6" r="3.70"/>
<circle class="bj" cx="143.4" cy="30.4" r="3.70"/>
<circle class="ba" cx="76.2" cy="-12.8" r="3.70"/>
<circle class="bj" cx="250" cy="27.2" r="3.70"/>
<circle class="ba" cx="22.5" cy="80" r="3.70"/>
<circle class="ba" cx="182.8" cy="-16" r="3.70"/>
<circle class="ba" cx="129.1" cy="76.8" r="3.71"/>
<circle class="ba" cx="289.3" cy="-19.2" r="3.71"/>
<path class="bd" d="M207.3 14.7L197.4 7.4M171.9 6.6L179.3 7.8M91.8 54.6L99.2 55.8M251.8 60.1L259.1 71.2M143.8 -0.3L153.8 7M250.6 58.1L247.8 52.1M118.1 -2.3L124.8 -10.9M195.7 63.1L208 71.7M127.6 17.7L129.9 9.2M61.7 66.5L50.1 77.6M274.3 -3.7L277.1 2.3M62.1 0.7L73.7 -10.4M273.2 -5.7L265.9 -16.8M170.8 61.1L180.3 53.9M142.4 54.2L155.1 53M222.5 6.2L235.2 5M24.6 11.4L32 12.6M126.7 46.1L117.2 53.3M184.5 16.9L191.9 28M183.4 14.9L180.6 8.9M128.5 19.9L140.8 28.5M235.8 40.7L247.5 29.6M101.8 44.1L89.5 35.5M46.9 49.1L49.7 55.1M45.8 47.1L38.4 36M103.6 17.9L113.1 10.7M278.4 3.4L285.8 4.6M198.3 51.4L205.7 52.6M75.2 11L87.9 9.8M250.4 -3.5L260.3 3.8M59.5 2.9L50 10.1M224.7 -5.5L231.3 -14.1M234.1 14.5L236.4 6M168.2 63.3L156.6 74.4M168.6 -2.5L180.2 -13.6M102.7 46.3L100.4 54.8M34.6 0.9L22.3 -7.7M112.2 66.3L105.5 74.9M277.4 57.9L286.8 50.7M86.5 64.3L76.5 57M249 51L261.7 49.8M131.1 8.2L138.5 9.4M51 56.2L58.4 57.4M233.3 42.9L223.8 50.1M23 49.3L32.9 56.6M289.9 11.7L287.2 5.7M235.1 16.7L247.3 25.3M101 20.1L89.4 31.2M208.3 40.9L196.1 32.3M153.5 45.9L156.2 51.9M35.5 3.1L33.2 11.6M45 23.1L38.3 31.7M152.3 43.9L145 32.8M210.1 14.7L219.6 7.5M181.7 7.8L194.4 6.6M101.6 55.8L114.3 54.6M166 -0.3L156.6 6.9M63.7 66.5L71 77.6M274.8 60.1L263.2 71.2M62.5 64.5L59.7 58.5M275.2 -5.7L286.8 -16.8M209.3 43.1L207 51.6M141.1 -2.3L128.9 -10.9M218.7 63.1L212.1 71.7M86.2 2.7L89 8.7M193 61.1L183.1 53.8M85.1 0.7L77.8 -10.4M237.7 5L245.1 6.2M157.6 53L165 54.2M34.4 12.6L47.1 11.4M129.5 46.1L139.4 53.4M103.8 44.1L110.4 35.5M113.2 64.1L115.5 55.6M207.6 16.9L195.9 28M260 42.7L262.8 48.7M47.7 47.1L59.4 36M142.1 -0.1L139.8 8.4M151.5 19.9L144.9 28.5M258.9 40.7L251.5 29.6M125.8 17.9L115.9 10.6M208.2 52.6L220.9 51.4M90.3 9.8L97.7 11M272.6 -3.5L263.1 3.7M170.2 63.3L177.5 74.4M62.3 2.9L72.2 10.2M169.1 61.3L166.3 55.3M36.6 0.9L43.2 -7.7M114.2 66.3L126.4 74.9M46 20.9L48.3 12.4M247.7 -5.5L235.4 -14.1M192.8 -0.5L195.6 5.5M191.6 -2.5L184.3 -13.6M89.3 64.3L98.7 57.1M264.1 49.8L271.5 51M141 9.4L153.7 8.2M60.9 57.4L73.6 56.2M236.1 42.9L246 50.2M45.2 49.3L35.7 56.5M103 20.1L110.3 31.2M210.3 40.9L217 32.3M219.8 60.9L222.1 52.4M101.8 18.1L99.1 12.1M47 23.1L59.2 31.7M154.3 43.9L165.9 32.8M248.6 -3.3L246.3 5.2M258.1 16.7L251.4 25.3M232.3 14.7L222.4 7.4M22 21.1L31.5 13.9M196.9 6.6L204.3 7.8M116.8 54.6L124.2 55.8"/>
<g class="as" stroke-width="3.62"><path id="r80" d="M276 59h0M208.8 15.8h0M21.5 48.2h0M128.1 45h0M87.9 65.4h0M20.7 22.2h0M234.6 41.8h0M194.5 62.2h0M127.2 19h0"/></g><use href="#r80" class="ash" stroke-width="1.36"/>
<g class="fe" stroke-width="3.62"><path id="r81" d="M222.4 51.2h0M155.2 8h0M75.1 56h0M181.7 52.8h0M261.8 4.8h0M114.4 9.6h0M34.3 57.6h0M288.2 49.6h0M221 6.4h0M140.9 54.4h0M73.6 11.2h0"/></g><use href="#r81" class="feh" stroke-width="1.36"/>
<circle class="bj" cx="61.9" cy="33.6" r="3.71"/>
<circle class="bj" cx="235.7" cy="73.6" r="3.71"/>
<circle class="bj" cx="168.4" cy="30.4" r="3.71"/>
<circle class="ba" cx="101.2" cy="-12.8" r="3.71"/>
<circle class="ba" cx="275" cy="27.2" r="3.71"/>
<circle class="ba" cx="47.5" cy="80" r="3.72"/>
<circle class="ba" cx="207.8" cy="-16" r="3.72"/>
<circle class="ba" cx="154.1" cy="76.8" r="3.72"/>
<path class="bd" d="M276.8 60.1L284.1 71.2M168.8 -0.3L178.8 7M275.6 58.1L272.8 52.1M143.1 -2.3L149.8 -10.9M220.7 63.1L233 71.7M152.6 17.7L154.9 9.2M86.7 66.5L75.1 77.6M87.1 0.7L98.7 -10.4M21.2 49.5L18.9 58M30.6 69.5L24 78.1M195.8 61.1L205.3 53.9M167.4 54.2L180.1 53M247.5 6.2L260.2 5M49.6 11.4L57 12.6M151.7 46.1L142.2 53.3M209.5 16.9L216.9 28M208.4 14.9L205.6 8.9M153.5 19.9L165.8 28.5M260.8 40.7L272.5 29.6M126.8 44.1L114.5 35.5M71.9 49.1L74.7 55.1M70.8 47.1L63.4 36M128.6 17.9L138.1 10.7M223.3 51.4L230.7 52.6M20.1 59L32.8 57.8M100.2 11L112.9 9.8M275.4 -3.5L285.3 3.8M84.5 2.9L75 10.1M249.7 -5.5L256.3 -14.1M259.1 14.5L261.4 6M193.2 63.3L181.6 74.4M193.6 -2.5L205.2 -13.6M127.7 46.3L125.4 54.8M59.6 0.9L47.3 -7.7M137.2 66.3L130.5 74.9M111.5 64.3L101.5 57M274 51L286.7 49.8M76 56.2L83.4 57.4M156.1 8.2L163.5 9.4M258.3 42.9L248.8 50.1M48 49.3L57.9 56.6M22.2 47.3L28.9 38.7M260.1 16.7L272.3 25.3M31.7 67.3L34 58.8M126 20.1L114.4 31.2M233.3 40.9L221.1 32.3M178.5 45.9L181.2 51.9M60.5 3.1L58.2 11.6M70 23.1L63.3 31.7M177.3 43.9L170 32.8M235.1 14.7L244.6 7.5M44.2 21.1L34.3 13.8M206.7 7.8L219.4 6.6M126.6 55.8L139.3 54.6M191 -0.3L181.6 6.9M88.7 66.5L96 77.6M87.5 64.5L84.7 58.5M32.6 69.5L44.9 78.1M234.3 43.1L232 51.6M166.1 -2.3L153.9 -10.9M243.7 63.1L237.1 71.7M111.2 2.7L114 8.7M218 61.1L208.1 53.8M110.1 0.7L102.8 -10.4M182.6 53L190 54.2M262.7 5L270.1 6.2M59.4 12.6L72.1 11.4M154.5 46.1L164.4 53.4M21.4 23.3L28.8 34.4M128.8 44.1L135.4 35.5M138.2 64.1L140.5 55.6M232.6 16.9L220.9 28M20.3 21.3L17.5 15.3M285 42.7L287.8 48.7M72.7 47.1L84.4 36M167.1 -0.1L164.8 8.4M176.5 19.9L169.9 28.5M283.9 40.7L276.5 29.6M150.8 17.9L140.9 10.6M233.2 52.6L245.9 51.4M35.2 57.8L42.6 59M115.3 9.8L122.7 11M195.2 63.3L202.5 74.4M87.3 2.9L97.2 10.2M194.1 61.3L191.3 55.3M61.6 0.9L68.2 -7.7M139.2 66.3L151.4 74.9M71 20.9L73.3 12.4M272.7 -5.5L260.4 -14.1M217.8 -0.5L220.6 5.5M216.6 -2.5L209.3 -13.6M114.3 64.3L123.7 57.1M166 9.4L178.7 8.2M85.9 57.4L98.6 56.2M261.1 42.9L271 50.2M70.2 49.3L60.7 56.5M128 20.1L135.3 31.2M235.3 40.9L242 32.3M244.8 60.9L247.1 52.4M126.8 18.1L124.1 12.1M72 23.1L84.2 31.7M179.3 43.9L190.9 32.8M273.6 -3.3L271.3 5.2M45.2 47.3L33 38.7M283.1 16.7L276.4 25.3M257.3 14.7L247.4 7.4M47 21.1L56.5 13.9M221.9 6.6L229.3 7.8M141.8 54.6L149.2 55.8M18.6 14.2L31.3 13M193.8 -0.3L203.8 7"/>
<g class="as" stroke-width="3.63"><path id="r83" d="M273.9 -4.6h0M233.8 15.8h0M46.5 48.2h0M153.1 45h0M112.9 65.4h0M45.7 22.2h0M259.6 41.8h0M219.5 62.2h0M152.2 19h0"/></g><use href="#r83" class="ash" stroke-width="1.36"/>
<g class="fe" stroke-width="3.63"><path id="r84" d="M247.4 51.2h0M180.2 8h0M100.1 56h0M32.9 12.8h0M286.8 4.8h0M206.7 52.8h0M139.4 9.6h0M59.3 57.6h0M246 6.4h0M165.9 54.4h0M98.6 11.2h0M18.6 59.2h0"/></g><use href="#r84" class="feh" stroke-width="1.36"/>
<circle class="bj" cx="86.9" cy="33.6" r="3.72"/>
<circle class="bj" cx="260.6" cy="73.6" r="3.72"/>
<circle class="ba" cx="19.6" cy="-9.6" r="3.72"/>
<circle class="bj" cx="193.4" cy="30.4" r="3.72"/>
<circle class="ba" cx="126.2" cy="-12.8" r="3.73"/>
<circle class="ba" cx="72.6" cy="80" r="3.73"/>
<circle class="ba" cx="232.8" cy="-16" r="3.73"/>
<circle class="ba" cx="179.1" cy="76.8" r="3.73"/>
<path class="bd" d="M168.1 -2.3L174.8 -10.9M245.7 63.1L258 71.7M177.6 17.7L179.9 9.2M111.7 66.5L100.1 77.6M112.1 0.7L123.7 -10.4M46.2 49.5L43.9 58M55.6 69.5L49 78.1M220.8 61.1L230.3 53.9M29.9 67.5L20 60.2M272.5 6.2L285.2 5M192.4 54.2L205.1 53M74.6 11.4L82 12.6M176.7 46.1L167.2 53.3M234.5 16.9L241.9 28M233.4 14.9L230.6 8.9M178.5 19.9L190.8 28.5M44.5 23.3L32.8 34.4M151.8 44.1L139.5 35.5M96.9 49.1L99.7 55.1M95.8 47.1L88.4 36M153.6 17.9L163.1 10.7M248.3 51.4L255.7 52.6M45.1 59L57.8 57.8M125.2 11L137.9 9.8M109.5 2.9L100 10.1M274.7 -5.5L281.3 -14.1M284.1 14.5L286.4 6M218.2 63.3L206.6 74.4M218.6 -2.5L230.2 -13.6M152.7 46.3L150.4 54.8M84.6 0.9L72.3 -7.7M162.2 66.3L155.5 74.9M29.7 5.9L32.5 11.9M136.5 64.3L126.5 57M28.5 3.9L21.2 -7.2M101 56.2L108.4 57.4M181.1 8.2L188.5 9.4M283.3 42.9L273.8 50.1M73 49.3L82.9 56.6M47.2 47.3L53.9 38.7M56.7 67.3L59 58.8M151 20.1L139.4 31.2M258.3 40.9L246.1 32.3M203.5 45.9L206.2 51.9M85.5 3.1L83.2 11.6M95 23.1L88.3 31.7M202.3 43.9L195 32.8M260.1 14.7L269.6 7.5M69.2 21.1L59.3 13.8M231.7 7.8L244.4 6.6M151.6 55.8L164.3 54.6M33.8 13L41.2 14.2M216 -0.3L206.6 6.9M113.7 66.5L121 77.6M112.5 64.5L109.7 58.5M57.6 69.5L69.9 78.1M259.3 43.1L257 51.6M191.1 -2.3L178.9 -10.9M268.7 63.1L262.1 71.7M136.2 2.7L139 8.7M243 61.1L233.1 53.8M135.1 0.7L127.8 -10.4M32.7 67.5L42.2 60.3M207.6 53L215 54.2M84.4 12.6L97.1 11.4M179.5 46.1L189.4 53.4M46.4 23.3L53.8 34.4M153.8 44.1L160.4 35.5M163.2 64.1L165.5 55.6M257.6 16.9L245.9 28M45.3 21.3L42.5 15.3M97.7 47.1L109.4 36M192.1 -0.1L189.8 8.4M201.5 19.9L194.9 28.5M175.8 17.9L165.9 10.6M258.2 52.6L270.9 51.4M140.3 9.8L147.7 11M60.2 57.8L67.6 59M220.2 63.3L227.5 74.4M112.3 2.9L122.2 10.2M219.1 61.3L216.3 55.3M86.6 0.9L93.2 -7.7M164.2 66.3L176.4 74.9M96 20.9L98.3 12.4M30.1 69.7L18.5 80.8M242.8 -0.5L245.6 5.5M30.5 3.9L42.1 -7.2M241.6 -2.5L234.3 -13.6M139.3 64.3L148.7 57.1M110.9 57.4L123.6 56.2M191 9.4L203.7 8.2M95.2 49.3L85.7 56.5M153 20.1L160.3 31.2M260.3 40.9L267 32.3M269.8 60.9L272.1 52.4M151.8 18.1L149.1 12.1M97 23.1L109.2 31.7M204.3 43.9L215.9 32.8M70.2 47.3L58 38.7M15.4 52.3L18.1 58.3M282.3 14.7L272.4 7.4M72 21.1L81.5 13.9M246.9 6.6L254.3 7.8M166.8 54.6L174.2 55.8M43.6 14.2L56.3 13M218.8 -0.3L228.8 7M27.9 6.1L18.5 13.3M193.1 -2.3L199.8 -10.9M270.7 63.1L283 71.7"/>
<g class="as" stroke-width="3.65"><path id="r86" d="M258.8 15.8h0M71.5 48.2h0M31.4 68.6h0M178.1 45h0M137.9 65.4h0M70.7 22.2h0M284.6 41.8h0M244.5 62.2h0M177.2 19h0"/></g><use href="#r86" class="ash" stroke-width="1.37"/>
<g class="fe" stroke-width="3.65"><path id="r87" d="M272.4 51.2h0M205.2 8h0M125.1 56h0M57.9 12.8h0M231.7 52.8h0M164.4 9.6h0M84.3 57.6h0M17.1 14.4h0M271 6.4h0M190.9 54.4h0M123.6 11.2h0M43.5 59.2h0"/></g><use href="#r87" class="feh" stroke-width="1.37"/>
<circle class="bj" cx="111.9" cy="33.6" r="3.73"/>
<circle class="ba" cx="285.6" cy="73.6" r="3.74"/>
<circle class="ba" cx="44.6" cy="-9.6" r="3.74"/>
<circle class="bj" cx="218.4" cy="30.4" r="3.74"/>
<circle class="ba" cx="151.2" cy="-12.8" r="3.74"/>
<circle class="ba" cx="97.6" cy="80" r="3.74"/>
<circle class="ba" cx="257.8" cy="-16" r="3.74"/>
<circle class="ba" cx="30.3" cy="36.8" r="3.74"/>
<circle class="ba" cx="204.1" cy="76.8" r="3.75"/>
<path class="bd" d="M202.6 17.7L204.9 9.2M136.7 66.5L125.1 77.6M137.1 0.7L148.7 -10.4M71.2 49.5L68.9 58M80.6 69.5L74 78.1M245.8 61.1L255.3 53.9M54.9 67.5L45 60.2M217.4 54.2L230.1 53M99.6 11.4L107 12.6M19.5 59.4L26.9 60.6M201.7 46.1L192.2 53.3M259.5 16.9L266.9 28M258.4 14.9L255.6 8.9M203.5 19.9L215.8 28.5M69.5 23.3L57.8 34.4M176.8 44.1L164.5 35.5M121.9 49.1L124.7 55.1M120.8 47.1L113.4 36M178.6 17.9L188.1 10.7M273.3 51.4L280.7 52.6M70.1 59L82.8 57.8M150.2 11L162.9 9.8M134.5 2.9L125 10.1M32.1 69.7L39.4 80.8M243.2 63.3L231.6 74.4M31 67.7L28.2 61.7M243.6 -2.5L255.2 -13.6M177.7 46.3L175.4 54.8M109.6 0.9L97.3 -7.7M187.2 66.3L180.5 74.9M54.7 5.9L57.5 11.9M161.5 64.3L151.5 57M53.5 3.9L46.2 -7.2M126 56.2L133.4 57.4M206.1 8.2L213.5 9.4M98 49.3L107.9 56.6M72.2 47.3L78.9 38.7M81.7 67.3L84 58.8M176 20.1L164.4 31.2M283.3 40.9L271.1 32.3M228.5 45.9L231.2 51.9M16.2 50.3L27.8 39.2M110.5 3.1L108.2 11.6M120 23.1L113.3 31.7M227.3 43.9L220 32.8M94.2 21.1L84.3 13.8M256.7 7.8L269.4 6.6M176.6 55.8L189.3 54.6M58.8 13L66.2 14.2M241 -0.3L231.6 6.9M138.7 66.5L146 77.6M30.7 6.1L40.7 13.4M137.5 64.5L134.7 58.5M82.6 69.5L94.9 78.1M14.5 24.1L16.8 15.6M284.3 43.1L282 51.6M216.1 -2.3L203.9 -10.9M161.2 2.7L164 8.7M268 61.1L258.1 53.8M160.1 0.7L152.8 -10.4M57.7 67.5L67.2 60.3M232.6 53L240 54.2M109.4 12.6L122.1 11.4M29.3 60.6L42 59.4M204.5 46.1L214.4 53.4M71.4 23.3L78.8 34.4M178.8 44.1L185.4 35.5M188.2 64.1L190.5 55.6M282.6 16.9L270.9 28M70.3 21.3L67.5 15.3M15.4 26.3L27.7 34.9M122.7 47.1L134.4 36M217.1 -0.1L214.8 8.4M226.5 19.9L219.9 28.5M200.8 17.9L190.9 10.6M165.3 9.8L172.7 11M85.2 57.8L92.6 59M245.2 63.3L252.5 74.4M137.3 2.9L147.2 10.2M244.1 61.3L241.3 55.3M111.6 0.9L118.2 -7.7M189.2 66.3L201.4 74.9M121 20.9L123.3 12.4M55.1 69.7L43.5 80.8M267.8 -0.5L270.6 5.5M55.5 3.9L67.1 -7.2M266.6 -2.5L259.3 -13.6M164.3 64.3L173.7 57.1M216 9.4L228.7 8.2M135.9 57.4L148.6 56.2M18 14.6L25.4 15.8M120.2 49.3L110.7 56.5M178 20.1L185.3 31.2M176.8 18.1L174.1 12.1M122 23.1L134.2 31.7M229.3 43.9L240.9 32.8M95.2 47.3L83 38.7M40.4 52.3L43.1 58.3M39.2 50.3L31.9 39.2M97 21.1L106.5 13.9M191.8 54.6L199.2 55.8M271.9 6.6L279.3 7.8M68.6 14.2L81.3 13M243.8 -0.3L253.8 7M52.9 6.1L43.5 13.3M218.1 -2.3L224.8 -10.9M227.6 17.7L229.9 9.2M161.7 66.5L150.1 77.6"/>
<g class="as" stroke-width="3.66"><path id="r89" d="M283.8 15.8h0M96.5 48.2h0M56.4 68.6h0M29.3 5h0M203.1 45h0M162.9 65.4h0M95.7 22.2h0M269.5 62.2h0M202.2 19h0M15 51.4h0"/></g><use href="#r89" class="ash" stroke-width="1.37"/>
<g class="fe" stroke-width="3.66"><path id="r90" d="M230.2 8h0M150.1 56h0M82.9 12.8h0M256.6 52.8h0M109.3 57.6h0M189.4 9.6h0M42.1 14.4h0M215.9 54.4h0M148.7 11.2h0M68.5 59.2h0"/></g><use href="#r90" class="feh" stroke-width="1.37"/>
<circle class="bj" cx="136.9" cy="33.6" r="3.75"/>
<circle class="ba" cx="69.7" cy="-9.6" r="3.75"/>
<circle class="bj" cx="243.4" cy="30.4" r="3.75"/>
<circle class="ba" cx="176.2" cy="-12.8" r="3.75"/>
<circle class="ba" cx="16" cy="83.2" r="3.75"/>
<circle class="ba" cx="122.6" cy="80" r="3.76"/>
<circle class="ba" cx="282.8" cy="-16" r="3.76"/>
<circle class="ba" cx="55.3" cy="36.8" r="3.76"/>
<circle class="ba" cx="229.1" cy="76.8" r="3.76"/>
<circle class="bj" cx="161.9" cy="33.6" r="3.76"/>
<path class="bd" d="M162.1 0.7L173.7 -10.4M96.2 49.5L93.9 58M28 4.1L15.8 -4.5M105.6 69.5L99 78.1M270.8 61.1L280.3 53.9M79.9 67.5L70 60.2M242.4 54.2L255.1 53M44.5 59.4L51.9 60.6M124.6 11.4L132 12.6M226.7 46.1L217.2 53.3M16.4 52.5L26.3 59.8M283.4 14.9L280.6 8.9M228.5 19.9L240.8 28.5M94.5 23.3L82.8 34.4M201.8 44.1L189.5 35.5M146.9 49.1L149.7 55.1M29 6.3L26.7 14.8M38.4 26.3L31.8 34.9M145.8 47.1L138.4 36M203.6 17.9L213.1 10.7M95.1 59L107.8 57.8M175.2 11L187.9 9.8M159.5 2.9L150 10.1M57.1 69.7L64.4 80.8M268.2 63.3L256.6 74.4M56 67.7L53.2 61.7M268.6 -2.5L280.2 -13.6M202.7 46.3L200.4 54.8M134.6 0.9L122.3 -7.7M212.2 66.3L205.5 74.9M79.7 5.9L82.5 11.9M186.5 64.3L176.5 57M78.5 3.9L71.2 -7.2M231.1 8.2L238.5 9.4M151 56.2L158.4 57.4M27.9 15.8L40.6 14.6M123 49.3L132.9 56.6M97.2 47.3L103.9 38.7M106.7 67.3L109 58.8M201 20.1L189.4 31.2M253.5 45.9L256.2 51.9M41.2 50.3L52.8 39.2M135.5 3.1L133.2 11.6M145 23.1L138.3 31.7M252.3 43.9L245 32.8M119.2 21.1L109.3 13.8M201.6 55.8L214.3 54.6M83.8 13L91.2 14.2M266 -0.3L256.6 6.9M163.7 66.5L171 77.6M55.7 6.1L65.7 13.4M162.5 64.5L159.7 58.5M30 4.1L36.7 -4.5M107.6 69.5L119.9 78.1M39.5 24.1L41.8 15.6M241.1 -2.3L228.9 -10.9M186.2 2.7L189 8.7M185.1 0.7L177.8 -10.4M82.7 67.5L92.2 60.3M257.6 53L265 54.2M134.4 12.6L147.1 11.4M54.3 60.6L67 59.4M229.5 46.1L239.4 53.4M38.6 52.5L29.1 59.7M96.4 23.3L103.8 34.4M203.8 44.1L210.4 35.5M213.2 64.1L215.5 55.6M95.3 21.3L92.5 15.3M40.4 26.3L52.7 34.9M147.7 47.1L159.4 36M242.1 -0.1L239.8 8.4M251.5 19.9L244.9 28.5M225.8 17.9L215.9 10.6M15.5 24.3L25 17.1M110.2 57.8L117.6 59M190.3 9.8L197.7 11M270.2 63.3L277.5 74.4M162.3 2.9L172.2 10.2M269.1 61.3L266.3 55.3M136.6 0.9L143.2 -7.7M214.2 66.3L226.4 74.9M146 20.9L148.3 12.4M80.1 69.7L68.5 80.8M80.5 3.9L92.1 -7.2M14.6 52.7L12.3 61.2M24.1 72.7L17.4 81.3M189.3 64.3L198.7 57.1M160.9 57.4L173.6 56.2M241 9.4L253.7 8.2M43 14.6L50.4 15.8M145.2 49.3L135.7 56.5M203 20.1L210.3 31.2M201.8 18.1L199.1 12.1M147 23.1L159.2 31.7M254.3 43.9L265.9 32.8M120.2 47.3L108 38.7M65.4 52.3L68.1 58.3M64.2 50.3L56.9 39.2M122 21.1L131.5 13.9M216.8 54.6L224.2 55.8M93.6 14.2L106.3 13M13.5 62.2L26.2 61M268.8 -0.3L278.8 7M77.9 6.1L68.5 13.3M243.1 -2.3L249.8 -10.9M252.6 17.7L254.9 9.2M186.7 66.5L175.1 77.6M187.1 0.7L198.7 -10.4M121.2 49.5L118.9 58"/>
<g class="as" stroke-width="3.67"><path id="r92" d="M121.5 48.2h0M81.4 68.6h0M54.3 5h0M14.1 25.4h0M228.1 45h0M187.9 65.4h0M120.7 22.2h0M267.4 -1.4h0M227.2 19h0M40 51.4h0"/></g><use href="#r92" class="ash" stroke-width="1.38"/>
<g class="fe" stroke-width="3.67"><path id="r93" d="M255.2 8h0M175.1 56h0M107.9 12.8h0M27.8 60.8h0M281.7 52.8h0M214.4 9.6h0M134.3 57.6h0M67.1 14.4h0M240.9 54.4h0M173.7 11.2h0M93.5 59.2h0M26.3 16h0"/></g><use href="#r93" class="feh" stroke-width="1.38"/>
<circle class="ba" cx="94.7" cy="-9.6" r="3.76"/>
<circle class="ba" cx="268.4" cy="30.4" r="3.76"/>
<circle class="ba" cx="201.2" cy="-12.8" r="3.76"/>
<circle class="ba" cx="41" cy="83.2" r="3.76"/>
<circle class="ba" cx="147.6" cy="80" r="3.77"/>
<circle class="ba" cx="80.3" cy="36.8" r="3.77"/>
<circle class="ba" cx="254.1" cy="76.8" r="3.77"/>
<circle class="ba" cx="13.1" cy="-6.4" r="3.77"/>
<circle class="bj" cx="186.9" cy="33.6" r="3.77"/>
<path class="bd" d="M53 4.1L40.8 -4.5M130.6 69.5L124 78.1M104.9 67.5L95 60.2M267.4 54.2L280.1 53M69.5 59.4L76.9 60.6M149.6 11.4L157 12.6M251.7 46.1L242.2 53.3M41.4 52.5L51.3 59.8M15.7 50.5L22.3 41.9M253.5 19.9L265.8 28.5M25.1 70.5L27.4 62M119.5 23.3L107.8 34.4M226.8 44.1L214.5 35.5M171.9 49.1L174.7 55.1M54 6.3L51.7 14.8M63.4 26.3L56.8 34.9M170.8 47.1L163.4 36M228.6 17.9L238.1 10.7M37.7 24.3L27.8 17M120.1 59L132.8 57.8M200.2 11L212.9 9.8M184.5 2.9L175 10.1M82.1 69.7L89.4 80.8M81 67.7L78.2 61.7M26.1 72.7L38.3 81.3M227.7 46.3L225.4 54.8M159.6 0.9L147.3 -7.7M237.2 66.3L230.5 74.9M104.7 5.9L107.5 11.9M211.5 64.3L201.5 57M103.5 3.9L96.2 -7.2M176 56.2L183.4 57.4M256.1 8.2L263.5 9.4M52.9 15.8L65.6 14.6M148 49.3L157.9 56.6M14.9 26.5L22.2 37.6M122.2 47.3L128.9 38.7M131.7 67.3L134 58.8M226 20.1L214.4 31.2M13.7 24.5L11 18.5M278.5 45.9L281.2 51.9M66.2 50.3L77.8 39.2M160.5 3.1L158.2 11.6M170 23.1L163.3 31.7M277.3 43.9L270 32.8M144.2 21.1L134.3 13.8M226.6 55.8L239.3 54.6M28.7 61L36.1 62.2M108.8 13L116.2 14.2M188.7 66.5L196 77.6M80.7 6.1L90.7 13.4M187.5 64.5L184.7 58.5M55 4.1L61.7 -4.5M132.6 69.5L144.9 78.1M64.5 24.1L66.8 15.6M266.1 -2.3L253.9 -10.9M211.2 2.7L214 8.7M210.1 0.7L202.8 -10.4M107.7 67.5L117.2 60.3M159.4 12.6L172.1 11.4M79.3 60.6L92 59.4M254.5 46.1L264.4 53.4M63.6 52.5L54.1 59.7M121.4 23.3L128.8 34.4M228.8 44.1L235.4 35.5M238.2 64.1L240.5 55.6M120.3 21.3L117.5 15.3M65.4 26.3L77.7 34.9M172.7 47.1L184.4 36M267.1 -0.1L264.8 8.4M38.7 50.5L26.4 41.9M276.5 19.9L269.9 28.5M250.8 17.9L240.9 10.6M40.5 24.3L50 17.1M215.3 9.8L222.7 11M135.2 57.8L142.6 59M12.1 17.4L24.8 16.2M187.3 2.9L197.2 10.2M161.6 0.9L168.2 -7.7M239.2 66.3L251.4 74.9M171 20.9L173.3 12.4M105.1 69.7L93.5 80.8M105.5 3.9L117.1 -7.2M39.6 52.7L37.3 61.2M49.1 72.7L42.4 81.3M214.3 64.3L223.7 57.1M23.4 70.7L13.4 63.4M266 9.4L278.7 8.2M185.9 57.4L198.6 56.2M68 14.6L75.4 15.8M170.2 49.3L160.7 56.5M228 20.1L235.3 31.2M226.8 18.1L224.1 12.1M172 23.1L184.2 31.7M37.9 26.5L26.3 37.6M145.2 47.3L133 38.7M90.4 52.3L93.1 58.3M89.2 50.3L81.9 39.2M147 21.1L156.5 13.9M241.8 54.6L249.2 55.8M118.6 14.2L131.3 13M38.5 62.2L51.2 61M102.9 6.1L93.5 13.3M268.1 -2.3L274.8 -10.9M277.6 17.7L279.9 9.2M211.7 66.5L200.1 77.6M212.1 0.7L223.7 -10.4M146.2 49.5L143.9 58M78 4.1L65.8 -4.5M155.6 69.5L149 78.1M23.1 9.1L25.9 15.1"/>
<g class="as" stroke-width="3.69"><path id="r95" d="M146.5 48.2h0M106.4 68.6h0M79.3 5h0M39.1 25.4h0M253.1 45h0M212.9 65.4h0M145.7 22.2h0M252.2 19h0M65 51.4h0M24.8 71.8h0"/></g><use href="#r95" class="ash" stroke-width="1.38"/>
<g class="fe" stroke-width="3.69"><path id="r96" d="M280.2 8h0M200.1 56h0M132.9 12.8h0M52.8 60.8h0M239.4 9.6h0M159.3 57.6h0M92.1 14.4h0M12 62.4h0M265.9 54.4h0M198.7 11.2h0M118.5 59.2h0M51.3 16h0"/></g><use href="#r96" class="feh" stroke-width="1.38"/>
<circle class="ba" cx="119.7" cy="-9.6" r="3.77"/>
<circle class="ba" cx="66" cy="83.2" r="3.78"/>
<circle class="ba" cx="226.2" cy="-12.8" r="3.78"/>
<circle class="ba" cx="172.6" cy="80" r="3.78"/>
<circle class="ba" cx="105.3" cy="36.8" r="3.78"/>
<circle class="ba" cx="279.1" cy="76.8" r="3.78"/>
<circle class="ba" cx="38.1" cy="-6.4" r="3.78"/>
<circle class="bj" cx="211.9" cy="33.6" r="3.79"/>
<path class="bd" d="M129.9 67.5L120 60.2M22 7.1L14.7 -4M174.6 11.4L182 12.6M94.5 59.4L101.9 60.6M276.7 46.1L267.2 53.3M66.4 52.5L76.3 59.8M40.7 50.5L47.3 41.9M50.1 70.5L52.4 62M144.5 23.3L132.8 34.4M251.8 44.1L239.5 35.5M196.9 49.1L199.7 55.1M79 6.3L76.7 14.8M88.4 26.3L81.8 34.9M195.8 47.1L188.4 36M253.6 17.9L263.1 10.7M62.7 24.3L52.8 17M145.1 59L157.8 57.8M225.2 11L237.9 9.8M27.2 16.2L34.6 17.4M209.5 2.9L200 10.1M107.1 69.7L114.4 80.8M106 67.7L103.2 61.7M51.1 72.7L63.3 81.3M252.7 46.3L250.4 54.8M184.6 0.9L172.3 -7.7M262.2 66.3L255.5 74.9M129.7 5.9L132.5 11.9M236.5 64.3L226.5 57M128.5 3.9L121.2 -7.2M26.2 70.7L35.6 63.5M201 56.2L208.4 57.4M77.9 15.8L90.6 14.6M173 49.3L182.9 56.6M39.9 26.5L47.2 37.6M147.2 47.3L153.9 38.7M156.7 67.3L159 58.8M251 20.1L239.4 31.2M38.7 24.5L36 18.5M91.2 50.3L102.8 39.2M185.5 3.1L183.2 11.6M195 23.1L188.3 31.7M169.2 21.1L159.3 13.8M251.6 55.8L264.3 54.6M53.7 61L61.1 62.2M133.8 13L141.2 14.2M213.7 66.5L221 77.6M105.7 6.1L115.7 13.4M212.5 64.5L209.7 58.5M80 4.1L86.7 -4.5M157.6 69.5L169.9 78.1M89.5 24.1L91.8 15.6M23.6 72.9L12 84M236.2 2.7L239 8.7M24 7.1L35.6 -4M235.1 0.7L227.8 -10.4M132.7 67.5L142.2 60.3M184.4 12.6L197.1 11.4M104.3 60.6L117 59.4M88.6 52.5L79.1 59.7M146.4 23.3L153.8 34.4M253.8 44.1L260.4 35.5M263.2 64.1L265.5 55.6M145.3 21.3L142.5 15.3M90.4 26.3L102.7 34.9M197.7 47.1L209.4 36M63.7 50.5L51.4 41.9M8.8 55.5L11.6 61.5M275.8 17.9L265.9 10.6M65.5 24.3L75 17.1M160.2 57.8L167.6 59M240.3 9.8L247.7 11M37.1 17.4L49.8 16.2M212.3 2.9L222.2 10.2M21.4 9.3L11.9 16.5M186.6 0.9L193.2 -7.7M264.2 66.3L276.4 74.9M196 20.9L198.3 12.4M130.1 69.7L118.5 80.8M130.5 3.9L142.1 -7.2M64.6 52.7L62.3 61.2M74.1 72.7L67.4 81.3M239.3 64.3L248.7 57.1M48.4 70.7L38.4 63.4M210.9 57.4L223.6 56.2M93 14.6L100.4 15.8M12.9 62.6L20.3 63.8M195.2 49.3L185.7 56.5M253 20.1L260.3 31.2M251.8 18.1L249.1 12.1M197 23.1L209.2 31.7M62.9 26.5L51.3 37.6M170.2 47.3L158 38.7M115.4 52.3L118.1 58.3M114.2 50.3L106.9 39.2M172 21.1L181.5 13.9M266.8 54.6L274.2 55.8M143.6 14.2L156.3 13M63.5 62.2L76.2 61M127.9 6.1L118.5 13.3M25.6 72.9L32.9 84M236.7 66.5L225.1 77.6M24.4 70.9L21.6 64.9M237.1 0.7L248.7 -10.4M171.2 49.5L168.9 58M103 4.1L90.8 -4.5M180.6 69.5L174 78.1M48.1 9.1L50.9 15.1M154.9 67.5L145 60.2M47 7.1L39.7 -4M199.6 11.4L207 12.6M119.5 59.4L126.9 60.6"/>
<g class="as" stroke-width="3.70"><path id="r98" d="M171.5 48.2h0M131.4 68.6h0M104.3 5h0M64.1 25.4h0M278.1 45h0M237.9 65.4h0M170.7 22.2h0M277.2 19h0M90 51.4h0M49.8 71.8h0M22.7 8.2h0"/></g><use href="#r98" class="ash" stroke-width="1.39"/>
<g class="fe" stroke-width="3.70"><path id="r99" d="M225.1 56h0M157.9 12.8h0M77.8 60.8h0M10.5 17.6h0M264.4 9.6h0M184.3 57.6h0M117.1 14.4h0M37 62.4h0M223.7 11.2h0M143.6 59.2h0M76.3 16h0"/></g><use href="#r99" class="feh" stroke-width="1.39"/>
<circle class="ba" cx="144.7" cy="-9.6" r="3.79"/>
<circle class="ba" cx="91" cy="83.2" r="3.79"/>
<circle class="ba" cx="251.2" cy="-12.8" r="3.79"/>
<circle class="ba" cx="23.8" cy="40" r="3.79"/>
<circle class="ba" cx="197.6" cy="80" r="3.79"/>
<circle class="ba" cx="130.3" cy="36.8" r="3.80"/>
<circle class="ba" cx="63.1" cy="-6.4" r="3.80"/>
<circle class="bj" cx="236.9" cy="33.6" r="3.80"/>
<path class="bd" d="M91.4 52.5L101.3 59.8M65.7 50.5L72.3 41.9M75.1 70.5L77.4 62M169.5 23.3L157.8 34.4M276.8 44.1L264.5 35.5M221.9 49.1L224.7 55.1M9.6 53.5L21.3 42.4M104 6.3L101.7 14.8M113.4 26.3L106.8 34.9M220.8 47.1L213.4 36M87.7 24.3L77.8 17M250.2 11L262.9 9.8M170.1 59L182.8 57.8M52.2 16.2L59.6 17.4M234.5 2.9L225 10.1M132.1 69.7L139.4 80.8M24.2 9.3L34.1 16.6M131 67.7L128.2 61.7M76.1 72.7L88.3 81.3M7.9 27.3L10.2 18.8M277.7 46.3L275.4 54.8M209.6 0.9L197.3 -7.7M154.7 5.9L157.5 11.9M261.5 64.3L251.5 57M153.5 3.9L146.2 -7.2M51.2 70.7L60.6 63.5M226 56.2L233.4 57.4M22.8 63.8L35.5 62.6M102.9 15.8L115.6 14.6M198 49.3L207.9 56.6M64.9 26.5L72.2 37.6M172.2 47.3L178.9 38.7M181.7 67.3L184 58.8M276 20.1L264.4 31.2M63.7 24.5L61 18.5M8.9 29.5L21.1 38.1M116.2 50.3L127.8 39.2M210.5 3.1L208.2 11.6M220 23.1L213.3 31.7M194.2 21.1L184.3 13.8M158.8 13L166.2 14.2M78.7 61L86.1 62.2M238.7 66.5L246 77.6M130.7 6.1L140.7 13.4M237.5 64.5L234.7 58.5M105 4.1L111.7 -4.5M182.6 69.5L194.9 78.1M114.5 24.1L116.8 15.6M48.6 72.9L37 84M261.2 2.7L264 8.7M49 7.1L60.6 -4M260.1 0.7L252.8 -10.4M157.7 67.5L167.2 60.3M129.3 60.6L142 59.4M209.4 12.6L222.1 11.4M11.5 17.8L18.9 19M113.6 52.5L104.1 59.7M171.4 23.3L178.8 34.4M170.3 21.3L167.5 15.3M115.4 26.3L127.7 34.9M222.7 47.1L234.4 36M88.7 50.5L76.4 41.9M33.8 55.5L36.6 61.5M32.7 53.5L25.3 42.4M90.5 24.3L100 17.1M185.2 57.8L192.6 59M265.3 9.8L272.7 11M62.1 17.4L74.8 16.2M237.3 2.9L247.2 10.2M46.4 9.3L36.9 16.5M211.6 0.9L218.2 -7.7M221 20.9L223.3 12.4M155.1 69.7L143.5 80.8M155.5 3.9L167.1 -7.2M89.6 52.7L87.3 61.2M21.5 7.3L9.2 -1.3M99.1 72.7L92.4 81.3M264.3 64.3L273.7 57.1M73.4 70.7L63.4 63.4M235.9 57.4L248.6 56.2M37.9 62.6L45.3 63.8M118 14.6L125.4 15.8M220.2 49.3L210.7 56.5M9.9 55.7L19.8 63M276.8 18.1L274.1 12.1M222 23.1L234.2 31.7M87.9 26.5L76.3 37.6M195.2 47.3L183 38.7M140.4 52.3L143.1 58.3M22.4 9.5L20.1 18M31.9 29.5L25.2 38.1M139.2 50.3L131.9 39.2M197 21.1L206.5 13.9M168.6 14.2L181.3 13M88.5 62.2L101.2 61M152.9 6.1L143.5 13.3M50.6 72.9L57.9 84M261.7 66.5L250.1 77.6M49.4 70.9L46.6 64.9M262.1 0.7L273.7 -10.4M196.2 49.5L193.9 58M128 4.1L115.8 -4.5M205.6 69.5L199 78.1M73.1 9.1L75.9 15.1M179.9 67.5L170 60.2M72 7.1L64.7 -4M224.6 11.4L232 12.6M144.5 59.4L151.9 60.6M21.3 19L34 17.8M116.4 52.5L126.3 59.8"/>
<g class="as" stroke-width="3.71"><path id="r101" d="M196.5 48.2h0M156.4 68.6h0M129.3 5h0M89.1 25.4h0M262.9 65.4h0M195.7 22.2h0M8.4 54.6h0M115 51.4h0M74.8 71.8h0M47.7 8.2h0"/></g><use href="#r101" class="ash" stroke-width="1.39"/>
<g class="fe" stroke-width="3.71"><path id="r102" d="M250.1 56h0M182.9 12.8h0M102.8 60.8h0M35.6 17.6h0M209.3 57.6h0M62 62.4h0M142.1 14.4h0M168.6 59.2h0M248.7 11.2h0M101.3 16h0M21.2 64h0"/></g><use href="#r102" class="feh" stroke-width="1.39"/>
<circle class="ba" cx="169.7" cy="-9.6" r="3.80"/>
<circle class="ba" cx="9.4" cy="86.4" r="3.80"/>
<circle class="ba" cx="116" cy="83.2" r="3.80"/>
<circle class="ba" cx="276.2" cy="-12.8" r="3.80"/>
<circle class="ba" cx="48.8" cy="40" r="3.81"/>
<circle class="ba" cx="222.6" cy="80" r="3.81"/>
<circle class="ba" cx="155.3" cy="36.8" r="3.81"/>
<circle class="ba" cx="88.1" cy="-6.4" r="3.81"/>
<circle class="ba" cx="261.9" cy="33.6" r="3.81"/>
<path class="bd" d="M90.7 50.5L97.3 41.9M100.1 70.5L102.4 62M194.5 23.3L182.8 34.4M246.9 49.1L249.7 55.1M34.6 53.5L46.3 42.4M129 6.3L126.7 14.8M138.4 26.3L131.8 34.9M245.8 47.1L238.4 36M112.7 24.3L102.8 17M195.1 59L207.8 57.8M77.2 16.2L84.6 17.4M259.5 2.9L250 10.1M157.1 69.7L164.4 80.8M49.2 9.3L59.1 16.6M156 67.7L153.2 61.7M23.5 7.3L30.1 -1.3M101.1 72.7L113.3 81.3M32.9 27.3L35.2 18.8M234.6 0.9L222.3 -7.7M179.7 5.9L182.5 11.9M178.5 3.9L171.2 -7.2M76.2 70.7L85.6 63.5M251 56.2L258.4 57.4M47.8 63.8L60.5 62.6M127.9 15.8L140.6 14.6M223 49.3L232.9 56.6M32.1 55.7L22.6 62.9M89.9 26.5L97.2 37.6M197.2 47.3L203.9 38.7M206.7 67.3L209 58.8M88.7 24.5L86 18.5M33.9 29.5L46.1 38.1M141.2 50.3L152.8 39.2M235.5 3.1L233.2 11.6M245 23.1L238.3 31.7M219.2 21.1L209.3 13.8M8.9 27.5L18.4 20.3M183.8 13L191.2 14.2M103.7 61L111.1 62.2M263.7 66.5L271 77.6M155.7 6.1L165.7 13.4M262.5 64.5L259.7 58.5M130 4.1L136.7 -4.5M207.6 69.5L219.9 78.1M139.5 24.1L141.8 15.6M73.6 72.9L62 84M74 7.1L85.6 -4M8.1 55.9L5.8 64.4M17.5 75.9L10.9 84.5M182.7 67.5L192.2 60.3M234.4 12.6L247.1 11.4M154.3 60.6L167 59.4M36.5 17.8L43.9 19M138.6 52.5L129.1 59.7M196.4 23.3L203.8 34.4M195.3 21.3L192.5 15.3M140.4 26.3L152.7 34.9M247.7 47.1L259.4 36M113.7 50.5L101.4 41.9M58.8 55.5L61.6 61.5M57.7 53.5L50.3 42.4M115.5 24.3L125 17.1M210.2 57.8L217.6 59M87.1 17.4L99.8 16.2M7 65.4L19.7 64.2M262.3 2.9L272.2 10.2M71.4 9.3L61.9 16.5M236.6 0.9L243.2 -7.7M246 20.9L248.3 12.4M180.1 69.7L168.5 80.8M180.5 3.9L192.1 -7.2M114.6 52.7L112.3 61.2M46.5 7.3L34.2 -1.3M124.1 72.7L117.4 81.3M98.4 70.7L88.4 63.4M260.9 57.4L273.6 56.2M62.9 62.6L70.3 63.8M143 14.6L150.4 15.8M245.2 49.3L235.7 56.5M34.9 55.7L44.8 63M9.1 53.7L15.8 45.1M247 23.1L259.2 31.7M18.6 73.7L20.9 65.2M112.9 26.5L101.3 37.6M220.2 47.3L208 38.7M165.4 52.3L168.1 58.3M47.4 9.5L45.1 18M56.9 29.5L50.2 38.1M164.2 50.3L156.9 39.2M222 21.1L231.5 13.9M31.1 27.5L21.2 20.2M193.6 14.2L206.3 13M113.5 62.2L126.2 61M177.9 6.1L168.5 13.3M75.6 72.9L82.9 84M74.4 70.9L71.6 64.9M19.5 75.9L31.8 84.5M221.2 49.5L218.9 58M153 4.1L140.8 -4.5M230.6 69.5L224 78.1M98.1 9.1L100.9 15.1M204.9 67.5L195 60.2M97 7.1L89.7 -4M249.6 11.4L257 12.6M169.5 59.4L176.9 60.6M46.3 19L59 17.8M141.4 52.5L151.3 59.8M8.3 29.7L15.7 40.8M115.7 50.5L122.3 41.9"/>
<g class="as" stroke-width="3.72"><path id="r104" d="M7.6 28.6h0M221.5 48.2h0M181.4 68.6h0M154.3 5h0M114.1 25.4h0M260.8 1.8h0M220.7 22.2h0M33.4 54.6h0M140 51.4h0M99.8 71.8h0M72.7 8.2h0"/></g><use href="#r104" class="ash" stroke-width="1.40"/>
<g class="fe" stroke-width="3.72"><path id="r105" d="M275.1 56h0M207.9 12.8h0M127.8 60.8h0M60.6 17.6h0M234.3 57.6h0M167.1 14.4h0M87 62.4h0M19.8 19.2h0M193.6 59.2h0M273.7 11.2h0M126.3 16h0M46.2 64h0"/></g><use href="#r105" class="feh" stroke-width="1.40"/>
<circle class="ba" cx="194.7" cy="-9.6" r="3.81"/>
<circle class="ba" cx="34.5" cy="86.4" r="3.81"/>
<circle class="ba" cx="141" cy="83.2" r="3.82"/>
<circle class="ba" cx="73.8" cy="40" r="3.82"/>
<circle class="ba" cx="247.6" cy="80" r="3.82"/>
<circle class="ba" cx="6.5" cy="-3.2" r="3.82"/>
<circle class="ba" cx="180.3" cy="36.8" r="3.82"/>
<circle class="ba" cx="113.1" cy="-6.4" r="3.82"/>
<path class="bd" d="M125.1 70.5L127.4 62M219.5 23.3L207.8 34.4M7.2 27.7L4.4 21.7M271.9 49.1L274.7 55.1M59.6 53.5L71.3 42.4M154 6.3L151.7 14.8M163.4 26.3L156.8 34.9M270.8 47.1L263.4 36M137.7 24.3L127.8 17M220.1 59L232.8 57.8M102.2 16.2L109.6 17.4M22.1 64.2L29.5 65.4M182.1 69.7L189.4 80.8M74.2 9.3L84.1 16.6M181 67.7L178.2 61.7M48.5 7.3L55.1 -1.3M126.1 72.7L138.3 81.3M57.9 27.3L60.2 18.8M259.6 0.9L247.3 -7.7M204.7 5.9L207.5 11.9M203.5 3.9L196.2 -7.2M101.2 70.7L110.6 63.5M152.9 15.8L165.6 14.6M72.8 63.8L85.5 62.6M248 49.3L257.9 56.6M57.1 55.7L47.6 62.9M114.9 26.5L122.2 37.6M222.2 47.3L228.9 38.7M231.7 67.3L234 58.8M113.7 24.5L111 18.5M58.9 29.5L71.1 38.1M166.2 50.3L177.8 39.2M260.5 3.1L258.2 11.6M32.1 53.7L19.9 45.1M270 23.1L263.3 31.7M244.2 21.1L234.3 13.8M33.9 27.5L43.4 20.3M128.7 61L136.1 62.2M208.8 13L216.2 14.2M5.5 20.6L18.2 19.4M180.7 6.1L190.7 13.4M155 4.1L161.7 -4.5M232.6 69.5L244.9 78.1M164.5 24.1L166.8 15.6M98.6 72.9L87 84M99 7.1L110.6 -4M33.1 55.9L30.8 64.4M42.5 75.9L35.9 84.5M207.7 67.5L217.2 60.3M16.8 73.9L6.9 66.6M259.4 12.6L272.1 11.4M179.3 60.6L192 59.4M61.5 17.8L68.9 19M163.6 52.5L154.1 59.7M221.4 23.3L228.8 34.4M220.3 21.3L217.5 15.3M165.4 26.3L177.7 34.9M31.4 29.7L19.7 40.8M138.7 50.5L126.4 41.9M83.8 55.5L86.6 61.5M82.7 53.5L75.3 42.4M140.5 24.3L150 17.1M235.2 57.8L242.6 59M112.1 17.4L124.8 16.2M32 65.4L44.7 64.2M96.4 9.3L86.9 16.5M261.6 0.9L268.2 -7.7M271 20.9L273.3 12.4M205.1 69.7L193.5 80.8M205.5 3.9L217.1 -7.2M139.6 52.7L137.3 61.2M71.5 7.3L59.2 -1.3M149.1 72.7L142.4 81.3M16.6 12.3L19.4 18.3M123.4 70.7L113.4 63.4M15.4 10.3L8.1 -0.8M168 14.6L175.4 15.8M87.9 62.6L95.3 63.8M270.2 49.3L260.7 56.5M59.9 55.7L69.8 63M34.1 53.7L40.8 45.1M43.6 73.7L45.9 65.2M137.9 26.5L126.3 37.6M245.2 47.3L233 38.7M190.4 52.3L193.1 58.3M72.4 9.5L70.1 18M81.9 29.5L75.2 38.1M189.2 50.3L181.9 39.2M247 21.1L256.5 13.9M56.1 27.5L46.2 20.2M218.6 14.2L231.3 13M138.5 62.2L151.2 61M20.7 19.4L28.1 20.6M202.9 6.1L193.5 13.3M100.6 72.9L107.9 84M99.4 70.9L96.6 64.9M44.5 75.9L56.8 84.5M246.2 49.5L243.9 58M178 4.1L165.8 -4.5M255.6 69.5L249 78.1M123.1 9.1L125.9 15.1M229.9 67.5L220 60.2M122 7.1L114.7 -4M19.6 73.9L29.1 66.7M194.5 59.4L201.9 60.6M71.3 19L84 17.8M166.4 52.5L176.3 59.8M33.3 29.7L40.7 40.8M140.7 50.5L147.3 41.9M150.1 70.5L152.4 62M244.5 23.3L232.8 34.4M32.2 27.7L29.4 21.7"/>
<g class="as" stroke-width="3.74"><path id="r107" d="M32.6 28.6h0M246.5 48.2h0M206.4 68.6h0M179.3 5h0M139.1 25.4h0M245.7 22.2h0M58.4 54.6h0M18.3 75h0M165 51.4h0M124.8 71.8h0M97.7 8.2h0M57.6 28.6h0"/></g><use href="#r107" class="ash" stroke-width="1.40"/>
<g class="fe" stroke-width="3.74"><path id="r108" d="M232.9 12.8h0M152.8 60.8h0M85.5 17.6h0M5.4 65.6h0M259.3 57.6h0M192.1 14.4h0M112 62.4h0M44.8 19.2h0M218.6 59.2h0M151.3 16h0M71.2 64h0"/></g><use href="#r108" class="feh" stroke-width="1.40"/>
<circle class="ba" cx="219.7" cy="-9.6" r="3.83"/>
<circle class="ba" cx="59.4" cy="86.4" r="3.83"/>
<circle class="ba" cx="166" cy="83.2" r="3.83"/>
<circle class="ba" cx="98.8" cy="40" r="3.83"/>
<circle class="ba" cx="272.5" cy="80" r="3.83"/>
<circle class="ba" cx="31.6" cy="-3.2" r="3.83"/>
<circle class="ba" cx="205.3" cy="36.8" r="3.84"/>
<circle class="ba" cx="138.1" cy="-6.4" r="3.84"/>
<circle class="ba" cx="244.7" cy="-9.6" r="3.84"/>
<circle class="ba" cx="84.5" cy="86.4" r="3.84"/>
<path class="bd" d="M84.6 53.5L96.3 42.4M179 6.3L176.7 14.8M188.4 26.3L181.8 34.9M162.7 24.3L152.8 17M245.1 59L257.8 57.8M127.2 16.2L134.6 17.4M47.1 64.2L54.5 65.4M207.1 69.7L214.4 80.8M99.2 9.3L109.1 16.6M206 67.7L203.2 61.7M73.5 7.3L80.1 -1.3M151.1 72.7L163.3 81.3M82.9 27.3L85.2 18.8M17 76.1L5.4 87.2M229.7 5.9L232.5 11.9M17.4 10.3L29 -0.8M228.5 3.9L221.2 -7.2M126.2 70.7L135.6 63.5M177.9 15.8L190.6 14.6M97.8 63.8L110.5 62.6M82.1 55.7L72.6 62.9M139.9 26.5L147.2 37.6M247.2 47.3L253.9 38.7M256.7 67.3L259 58.8M138.7 24.5L136 18.5M83.9 29.5L96.1 38.1M191.2 50.3L202.8 39.2M57.1 53.7L44.9 45.1M2.3 58.7L5 64.7M269.2 21.1L259.3 13.8M58.9 27.5L68.4 20.3M153.7 61L161.1 62.2M233.8 13L241.2 14.2M30.5 20.6L43.2 19.4M205.7 6.1L215.7 13.4M14.8 12.5L5.4 19.7M180 4.1L186.7 -4.5M257.6 69.5L269.9 78.1M189.5 24.1L191.8 15.6M123.6 72.9L112 84M124 7.1L135.6 -4M58.1 55.9L55.8 64.4M67.5 75.9L60.9 84.5M232.7 67.5L242.2 60.3M41.8 73.9L31.9 66.6M204.3 60.6L217 59.4M86.5 17.8L93.9 19M6.4 65.8L13.8 67M188.6 52.5L179.1 59.7M246.4 23.3L253.8 34.4M245.3 21.3L242.5 15.3M190.4 26.3L202.7 34.9M56.4 29.7L44.7 40.8M163.7 50.5L151.4 41.9M108.8 55.5L111.6 61.5M107.7 53.5L100.3 42.4M165.5 24.3L175 17.1M260.2 57.8L267.6 59M137.1 17.4L149.8 16.2M57 65.4L69.7 64.2M121.4 9.3L111.9 16.5M19 76.1L26.3 87.2M230.1 69.7L218.5 80.8M17.9 74.1L15.1 68.1M230.5 3.9L242.1 -7.2M164.6 52.7L162.3 61.2M96.5 7.3L84.2 -1.3M174.1 72.7L167.4 81.3M41.6 12.3L44.4 18.3M148.4 70.7L138.4 63.4M40.4 10.3L33.1 -0.8M112.9 62.6L120.3 63.8M193 14.6L200.4 15.8M84.9 55.7L94.8 63M59.1 53.7L65.8 45.1M68.6 73.7L70.9 65.2M162.9 26.5L151.3 37.6M270.2 47.3L258 38.7M215.4 52.3L218.1 58.3M3.1 56.7L14.7 45.6M97.4 9.5L95.1 18M106.9 29.5L100.2 38.1M214.2 50.3L206.9 39.2M81.1 27.5L71.2 20.2M163.5 62.2L176.2 61M243.6 14.2L256.3 13M45.7 19.4L53.1 20.6M227.9 6.1L218.5 13.3M125.6 72.9L132.9 84M17.6 12.5L27.6 19.8M124.4 70.9L121.6 64.9M69.5 75.9L81.8 84.5M1.4 30.5L3.7 22M271.2 49.5L268.9 58M203 4.1L190.8 -4.5M148.1 9.1L150.9 15.1M254.9 67.5L245 60.2M147 7.1L139.7 -4M44.6 73.9L54.1 66.7M219.5 59.4L226.9 60.6M96.3 19L109 17.8M16.2 67L28.9 65.8M191.4 52.5L201.3 59.8M58.3 29.7L65.7 40.8M165.7 50.5L172.3 41.9M175.1 70.5L177.4 62M269.5 23.3L257.8 34.4M57.2 27.7L54.4 21.7M2.3 32.7L14.6 41.3M109.6 53.5L121.3 42.4M204 6.3L201.7 14.8"/>
<g class="as" stroke-width="3.75"><path id="r110" d="M271.5 48.2h0M231.4 68.6h0M204.3 5h0M164.1 25.4h0M270.7 22.2h0M83.4 54.6h0M43.3 75h0M16.2 11.4h0M190 51.4h0M149.8 71.8h0M122.7 8.2h0M82.6 28.6h0"/></g><use href="#r110" class="ash" stroke-width="1.41"/>
<g class="fe" stroke-width="3.75"><path id="r111" d="M4 20.8h0M257.9 12.8h0M177.8 60.8h0M110.5 17.6h0M30.4 65.6h0M217.1 14.4h0M137 62.4h0M69.8 19.2h0M243.6 59.2h0M176.3 16h0M96.2 64h0M29 20.8h0"/></g><use href="#r111" class="feh" stroke-width="1.41"/>
<circle class="ba" cx="17.2" cy="43.2" r="3.84"/>
<circle class="ba" cx="191" cy="83.2" r="3.84"/>
<circle class="ba" cx="123.8" cy="40" r="3.84"/>
<circle class="ba" cx="56.5" cy="-3.2" r="3.85"/>
<circle class="ba" cx="230.3" cy="36.8" r="3.85"/>
<circle class="ba" cx="163.1" cy="-6.4" r="3.85"/>
<circle class="ba" cx="2.9" cy="89.6" r="3.85"/>
<circle class="ba" cx="269.6" cy="-9.6" r="3.85"/>
<circle class="ba" cx="109.5" cy="86.4" r="3.85"/>
<path class="bd" d="M213.4 26.3L206.8 34.9M187.7 24.3L177.8 17M152.2 16.2L159.6 17.4M72.1 64.2L79.5 65.4M232.1 69.7L239.4 80.8M124.2 9.3L134.1 16.6M231 67.7L228.2 61.7M98.5 7.3L105.1 -1.3M176.1 72.7L188.3 81.3M107.9 27.3L110.2 18.8M42 76.1L30.4 87.2M254.7 5.9L257.5 11.9M42.4 10.3L54 -0.8M253.5 3.9L246.2 -7.2M151.2 70.7L160.6 63.5M202.9 15.8L215.6 14.6M122.8 63.8L135.5 62.6M4.9 21L12.3 22.2M107.1 55.7L97.6 62.9M164.9 26.5L172.2 37.6M163.7 24.5L161 18.5M108.9 29.5L121.1 38.1M216.2 50.3L227.8 39.2M82.1 53.7L69.9 45.1M27.3 58.7L30 64.7M26.1 56.7L18.8 45.6M83.9 27.5L93.4 20.3M178.7 61L186.1 62.2M258.8 13L266.2 14.2M55.5 20.6L68.2 19.4M230.7 6.1L240.7 13.4M39.8 12.5L30.4 19.7M205 4.1L211.7 -4.5M214.5 24.1L216.8 15.6M148.6 72.9L137 84M149 7.1L160.6 -4M83.1 55.9L80.8 64.4M14.9 10.5L2.7 1.9M92.5 75.9L85.9 84.5M257.7 67.5L267.2 60.3M66.8 73.9L56.9 66.6M229.3 60.6L242 59.4M111.5 17.8L118.9 19M31.4 65.8L38.8 67M213.6 52.5L204.1 59.7M3.3 58.9L13.2 66.2M270.3 21.3L267.5 15.3M215.4 26.3L227.7 34.9M81.4 29.7L69.7 40.8M188.7 50.5L176.4 41.9M133.8 55.5L136.6 61.5M15.9 12.7L13.6 21.2M25.3 32.7L18.7 41.3M132.7 53.5L125.3 42.4M190.5 24.3L200 17.1M162.1 17.4L174.8 16.2M82 65.4L94.7 64.2M146.4 9.3L136.9 16.5M44 76.1L51.3 87.2M255.1 69.7L243.5 80.8M42.9 74.1L40.1 68.1M255.5 3.9L267.1 -7.2M189.6 52.7L187.3 61.2M121.5 7.3L109.2 -1.3M199.1 72.7L192.4 81.3M66.6 12.3L69.4 18.3M173.4 70.7L163.4 63.4M65.4 10.3L58.1 -0.8M218 14.6L225.4 15.8M137.9 62.6L145.3 63.8M14.8 22.2L27.5 21M109.9 55.7L119.8 63M84.1 53.7L90.8 45.1M93.6 73.7L95.9 65.2M187.9 26.5L176.3 37.6M240.4 52.3L243.1 58.3M28.1 56.7L39.7 45.6M122.4 9.5L120.1 18M131.9 29.5L125.2 38.1M239.2 50.3L231.9 39.2M106.1 27.5L96.2 20.2M188.5 62.2L201.2 61M70.7 19.4L78.1 20.6M252.9 6.1L243.5 13.3M150.6 72.9L157.9 84M42.6 12.5L52.6 19.8M149.4 70.9L146.6 64.9M16.9 10.5L23.6 1.9M94.5 75.9L106.8 84.5M26.4 30.5L28.7 22M228 4.1L215.8 -4.5M173.1 9.1L175.9 15.1M172 7.1L164.7 -4M69.6 73.9L79.1 66.7M244.5 59.4L251.9 60.6M121.3 19L134 17.8M41.2 67L53.9 65.8M216.4 52.5L226.3 59.8M25.5 58.9L16 66.1M83.3 29.7L90.7 40.8M190.7 50.5L197.3 41.9M200.1 70.5L202.4 62M82.2 27.7L79.4 21.7M27.3 32.7L39.6 41.3M134.6 53.5L146.3 42.4M229 6.3L226.7 14.8M238.4 26.3L231.8 34.9"/>
<g class="as" stroke-width="3.76"><path id="r113" d="M256.4 68.6h0M229.3 5h0M189.1 25.4h0M1.9 57.8h0M108.4 54.6h0M68.3 75h0M41.2 11.4h0M1 31.8h0M215 51.4h0M174.8 71.8h0M147.7 8.2h0M107.6 28.6h0"/></g><use href="#r113" class="ash" stroke-width="1.41"/>
<g class="fe" stroke-width="3.76"><path id="r114" d="M202.8 60.8h0M135.5 17.6h0M55.4 65.6h0M162 62.4h0M242.1 14.4h0M94.8 19.2h0M14.7 67.2h0M268.6 59.2h0M201.3 16h0M121.2 64h0M54 20.8h0"/></g><use href="#r114" class="feh" stroke-width="1.41"/>
<circle class="ba" cx="42.2" cy="43.2" r="3.85"/>
<circle class="ba" cx="216" cy="83.2" r="3.86"/>
<circle class="ba" cx="148.8" cy="40" r="3.86"/>
<circle class="ba" cx="81.5" cy="-3.2" r="3.86"/>
<circle class="ba" cx="255.3" cy="36.8" r="3.86"/>
<circle class="ba" cx="188.1" cy="-6.4" r="3.86"/>
<circle class="ba" cx="27.9" cy="89.6" r="3.86"/>
<circle class="ba" cx="134.5" cy="86.4" r="3.87"/>
<path class="bd" d="M212.7 24.3L202.8 17M2.4 30.7L11.9 23.5M177.2 16.2L184.6 17.4M97.1 64.2L104.5 65.4M257.1 69.7L264.4 80.8M149.2 9.3L159.1 16.6M256 67.7L253.2 61.7M123.5 7.3L130.1 -1.3M201.1 72.7L213.3 81.3M132.9 27.3L135.2 18.8M67 76.1L55.4 87.2M67.4 10.3L79 -0.8M176.2 70.7L185.6 63.5M147.8 63.8L160.5 62.6M227.9 15.8L240.6 14.6M29.9 21L37.3 22.2M132.1 55.7L122.6 62.9M189.9 26.5L197.2 37.6M188.7 24.5L186 18.5M133.9 29.5L146.1 38.1M241.2 50.3L252.8 39.2M107.1 53.7L94.9 45.1M52.3 58.7L55 64.7M51.1 56.7L43.8 45.6M108.9 27.5L118.4 20.3M203.7 61L211.1 62.2M80.5 20.6L93.2 19.4M255.7 6.1L265.7 13.4M64.8 12.5L55.4 19.7M230 4.1L236.7 -4.5M239.5 24.1L241.8 15.6M173.6 72.9L162 84M174 7.1L185.6 -4M108.1 55.9L105.8 64.4M39.9 10.5L27.7 1.9M117.5 75.9L110.9 84.5M91.8 73.9L81.9 66.6M254.3 60.6L267 59.4M136.5 17.8L143.9 19M56.4 65.8L63.8 67M238.6 52.5L229.1 59.7M28.3 58.9L38.2 66.2M240.4 26.3L252.7 34.9M106.4 29.7L94.7 40.8M213.7 50.5L201.4 41.9M158.8 55.5L161.6 61.5M40.9 12.7L38.6 21.2M50.3 32.7L43.7 41.3M157.7 53.5L150.3 42.4M215.5 24.3L225 17.1M24.6 30.7L14.7 23.4M187.1 17.4L199.8 16.2M107 65.4L119.7 64.2M171.4 9.3L161.9 16.5M69 76.1L76.3 87.2M67.9 74.1L65.1 68.1M214.6 52.7L212.3 61.2M146.5 7.3L134.2 -1.3M224.1 72.7L217.4 81.3M91.6 12.3L94.4 18.3M198.4 70.7L188.4 63.4M90.4 10.3L83.1 -0.8M162.9 62.6L170.3 63.8M243 14.6L250.4 15.8M39.8 22.2L52.5 21M134.9 55.7L144.8 63M109.1 53.7L115.8 45.1M118.6 73.7L120.9 65.2M212.9 26.5L201.3 37.6M265.4 52.3L268.1 58.3M53.1 56.7L64.7 45.6M147.4 9.5L145.1 18M156.9 29.5L150.2 38.1M264.2 50.3L256.9 39.2M131.1 27.5L121.2 20.2M213.5 62.2L226.2 61M95.7 19.4L103.1 20.6M175.6 72.9L182.9 84M67.6 12.5L77.6 19.8M174.4 70.9L171.6 64.9M41.9 10.5L48.6 1.9M119.5 75.9L131.8 84.5M51.4 30.5L53.7 22M253 4.1L240.8 -4.5M198.1 9.1L200.9 15.1M197 7.1L189.7 -4M94.6 73.9L104.1 66.7M146.3 19L159 17.8M66.2 67L78.9 65.8M241.4 52.5L251.3 59.8M50.5 58.9L41 66.1M108.3 29.7L115.7 40.8M215.7 50.5L222.3 41.9M225.1 70.5L227.4 62M107.2 27.7L104.4 21.7M52.3 32.7L64.6 41.3M159.6 53.5L171.3 42.4M254 6.3L251.7 14.8M263.4 26.3L256.8 34.9M237.7 24.3L227.8 17M27.4 30.7L36.9 23.5M202.2 16.2L209.6 17.4M122.1 64.2L129.5 65.4"/>
<g class="as" stroke-width="3.78"><path id="r116" d="M254.3 5h0M214.1 25.4h0M26.9 57.8h0M133.4 54.6h0M93.3 75h0M66.2 11.4h0M26 31.8h0M240 51.4h0M199.8 71.8h0M172.7 8.2h0M132.6 28.6h0"/></g><use href="#r116" class="ash" stroke-width="1.42"/>
<g class="fe" stroke-width="3.78"><path id="r117" d="M227.8 60.8h0M160.5 17.6h0M80.5 65.6h0M13.2 22.4h0M187 62.4h0M267.1 14.4h0M119.8 19.2h0M39.7 67.2h0M226.3 16h0M146.2 64h0M79 20.8h0"/></g><use href="#r117" class="feh" stroke-width="1.42"/>
<circle class="ba" cx="67.2" cy="43.2" r="3.87"/>
<circle class="ba" cx="241" cy="83.2" r="3.87"/>
<circle class="ba" cx="0" cy="0" r="3.87"/>
<circle class="ba" cx="173.8" cy="40" r="3.87"/>
<circle class="ba" cx="106.5" cy="-3.2" r="3.87"/>
<circle class="ba" cx="213.1" cy="-6.4" r="3.88"/>
<circle class="ba" cx="52.9" cy="89.6" r="3.88"/>
<circle class="ba" cx="159.5" cy="86.4" r="3.88"/>
<path class="bd" d="M174.2 9.3L184.1 16.6M148.5 7.3L155.1 -1.3M226.1 72.7L238.3 81.3M157.9 27.3L160.2 18.8M92 76.1L80.4 87.2M92.4 10.3L104 -0.8M201.2 70.7L210.6 63.5M172.8 63.8L185.5 62.6M252.9 15.8L265.6 14.6M54.9 21L62.3 22.2M157.1 55.7L147.6 62.9M214.9 26.5L222.2 37.6M213.7 24.5L211 18.5M158.9 29.5L171.1 38.1M132.1 53.7L119.9 45.1M77.3 58.7L80 64.7M76.1 56.7L68.8 45.6M133.9 27.5L143.4 20.3M228.7 61L236.1 62.2M105.5 20.6L118.2 19.4M89.8 12.5L80.4 19.7M255 4.1L261.7 -4.5M264.5 24.1L266.8 15.6M198.6 72.9L187 84M199 7.1L210.6 -4M133.1 55.9L130.8 64.4M64.9 10.5L52.7 1.9M142.5 75.9L135.9 84.5M116.8 73.9L106.9 66.6M161.5 17.8L168.9 19M81.4 65.8L88.8 67M263.6 52.5L254.1 59.7M53.3 58.9L63.2 66.2M131.4 29.7L119.7 40.8M238.7 50.5L226.4 41.9M183.8 55.5L186.6 61.5M65.9 12.7L63.6 21.2M75.3 32.7L68.7 41.3M182.7 53.5L175.3 42.4M240.5 24.3L250 17.1M49.6 30.7L39.7 23.4M212.1 17.4L224.8 16.2M132 65.4L144.7 64.2M196.4 9.3L186.9 16.5M94 76.1L101.3 87.2M92.9 74.1L90.1 68.1M239.6 52.7L237.3 61.2M171.5 7.3L159.2 -1.3M249.1 72.7L242.4 81.3M116.6 12.3L119.4 18.3M223.4 70.7L213.4 63.4M115.4 10.3L108.1 -0.8M187.9 62.6L195.3 63.8M64.8 22.2L77.5 21M159.9 55.7L169.8 63M134.1 53.7L140.8 45.1M143.6 73.7L145.9 65.2M237.9 26.5L226.3 37.6M78.1 56.7L89.7 45.6M172.4 9.5L170.1 18M181.9 29.5L175.2 38.1M156.1 27.5L146.2 20.2M238.5 62.2L251.2 61M120.7 19.4L128.1 20.6M200.6 72.9L207.9 84M92.6 12.5L102.6 19.8M199.4 70.9L196.6 64.9M66.9 10.5L73.6 1.9M144.5 75.9L156.8 84.5M76.4 30.5L78.7 22M223.1 9.1L225.9 15.1M222 7.1L214.7 -4M119.6 73.9L129.1 66.7M171.3 19L184 17.8M91.2 67L103.9 65.8M75.5 58.9L66 66.1M133.3 29.7L140.7 40.8M240.7 50.5L247.3 41.9M250.1 70.5L252.4 62M132.2 27.7L129.4 21.7M77.3 32.7L89.6 41.3M184.6 53.5L196.3 42.4M262.7 24.3L252.8 17M52.4 30.7L61.9 23.5M227.2 16.2L234.6 17.4M147.1 64.2L154.5 65.4M199.2 9.3L209.1 16.6"/>
<g class="as" stroke-width="3.79"><path id="r119" d="M239.1 25.4h0M51.9 57.8h0M158.4 54.6h0M118.3 75h0M91.2 11.4h0M51 31.8h0M265 51.4h0M224.8 71.8h0M197.7 8.2h0M157.6 28.6h0"/></g><use href="#r119" class="ash" stroke-width="1.42"/>
<g class="fe" stroke-width="3.79"><path id="r120" d="M252.8 60.8h0M185.5 17.6h0M105.5 65.6h0M38.2 22.4h0M212 62.4h0M144.8 19.2h0M64.7 67.2h0M251.3 16h0M171.2 64h0M104 20.8h0"/></g><use href="#r120" class="feh" stroke-width="1.42"/>
<circle class="ba" cx="92.2" cy="43.2" r="3.88"/>
<circle class="ba" cx="266" cy="83.2" r="3.88"/>
<circle class="ba" cx="25" cy="0" r="3.88"/>
<circle class="ba" cx="198.8" cy="40" r="3.88"/>
<circle class="ba" cx="131.6" cy="-3.2" r="3.89"/>
<circle class="ba" cx="77.9" cy="89.6" r="3.89"/>
<circle class="ba" cx="238.1" cy="-6.4" r="3.89"/>
<circle class="ba" cx="184.5" cy="86.4" r="3.89"/>
<path class="bd" d="M173.5 7.3L180.1 -1.3M251.1 72.7L263.3 81.3M182.9 27.3L185.2 18.8M117 76.1L105.4 87.2M117.4 10.3L129 -0.8M226.2 70.7L235.6 63.5M197.8 63.8L210.5 62.6M79.9 21L87.3 22.2M182.1 55.7L172.6 62.9M239.9 26.5L247.2 37.6M238.7 24.5L236 18.5M183.9 29.5L196.1 38.1M157.1 53.7L144.9 45.1M102.3 58.7L105 64.7M101.1 56.7L93.8 45.6M158.9 27.5L168.4 20.3M253.7 61L261.1 62.2M130.5 20.6L143.2 19.4M114.8 12.5L105.4 19.7M223.6 72.9L212 84M224 7.1L235.6 -4M158.1 55.9L155.8 64.4M89.9 10.5L77.7 1.9M167.5 75.9L160.9 84.5M141.8 73.9L131.9 66.6M186.5 17.8L193.9 19M106.4 65.8L113.8 67M78.3 58.9L88.2 66.2M156.4 29.7L144.7 40.8M263.7 50.5L251.4 41.9M208.8 55.5L211.6 61.5M90.9 12.7L88.6 21.2M100.3 32.7L93.7 41.3M207.7 53.5L200.3 42.4M74.6 30.7L64.7 23.4M237.1 17.4L249.8 16.2M157 65.4L169.7 64.2M221.4 9.3L211.9 16.5M119 76.1L126.3 87.2M117.9 74.1L115.1 68.1M264.6 52.7L262.3 61.2M196.5 7.3L184.2 -1.3M141.6 12.3L144.4 18.3M248.4 70.7L238.4 63.4M140.4 10.3L133.1 -0.8M212.9 62.6L220.3 63.8M89.8 22.2L102.5 21M184.9 55.7L194.8 63M159.1 53.7L165.8 45.1M168.6 73.7L170.9 65.2M262.9 26.5L251.3 37.6M103.1 56.7L114.7 45.6M197.4 9.5L195.1 18M206.9 29.5L200.2 38.1M181.1 27.5L171.2 20.2M145.7 19.4L153.1 20.6M225.6 72.9L232.9 84M117.6 12.5L127.6 19.8M224.4 70.9L221.6 64.9M91.9 10.5L98.6 1.9M169.5 75.9L181.8 84.5M101.4 30.5L103.7 22M248.1 9.1L250.9 15.1M247 7.1L239.7 -4M144.6 73.9L154.1 66.7M196.3 19L209 17.8M116.2 67L128.9 65.8M100.5 58.9L91 66.1M158.3 29.7L165.7 40.8M157.2 27.7L154.4 21.7M102.3 32.7L114.6 41.3M209.6 53.5L221.3 42.4M77.4 30.7L86.9 23.5M252.2 16.2L259.6 17.4M172.1 64.2L179.5 65.4M224.2 9.3L234.1 16.6M198.5 7.3L205.1 -1.3"/>
<g class="as" stroke-width="3.80"><path id="r122" d="M264.1 25.4h0M76.9 57.8h0M183.4 54.6h0M143.3 75h0M116.2 11.4h0M76 31.8h0M249.8 71.8h0M222.7 8.2h0M182.6 28.6h0"/></g><use href="#r122" class="ash" stroke-width="1.43"/>
<g class="fe" stroke-width="3.80"><path id="r123" d="M210.5 17.6h0M130.5 65.6h0M63.2 22.4h0M237 62.4h0M169.8 19.2h0M89.7 67.2h0M196.2 64h0M129 20.8h0"/></g><use href="#r123" class="feh" stroke-width="1.43"/>
<circle class="ba" cx="117.2" cy="43.2" r="3.89"/>
<circle class="ba" cx="50" cy="0" r="3.90"/>
<circle class="ba" cx="223.8" cy="40" r="3.90"/>
<circle class="ba" cx="156.6" cy="-3.2" r="3.90"/>
<circle class="ba" cx="102.9" cy="89.6" r="3.90"/>
<circle class="ba" cx="263.1" cy="-6.4" r="3.90"/>
<circle class="ba" cx="209.5" cy="86.4" r="3.91"/>
<path class="bd" d="M207.9 27.3L210.2 18.8M142 76.1L130.4 87.2M142.4 10.3L154 -0.8M251.2 70.7L260.6 63.5M222.8 63.8L235.5 62.6M104.9 21L112.3 22.2M207.1 55.7L197.6 62.9M263.7 24.5L261 18.5M208.9 29.5L221.1 38.1M182.1 53.7L169.9 45.1M127.3 58.7L130 64.7M126.1 56.7L118.8 45.6M183.9 27.5L193.4 20.3M155.5 20.6L168.2 19.4M139.8 12.5L130.4 19.7M248.6 72.9L237 84M249 7.1L260.6 -4M183.1 55.9L180.8 64.4M114.9 10.5L102.7 1.9M192.5 75.9L185.9 84.5M166.8 73.9L156.9 66.6M211.5 17.8L218.9 19M131.4 65.8L138.8 67M103.3 58.9L113.2 66.2M181.4 29.7L169.7 40.8M233.8 55.5L236.6 61.5M115.9 12.7L113.6 21.2M125.3 32.7L118.7 41.3M232.7 53.5L225.3 42.4M99.6 30.7L89.7 23.4M182 65.4L194.7 64.2M246.4 9.3L236.9 16.5M144 76.1L151.3 87.2M142.9 74.1L140.1 68.1M221.5 7.3L209.2 -1.3M166.6 12.3L169.4 18.3M165.4 10.3L158.1 -0.8M237.9 62.6L245.3 63.8M114.8 22.2L127.5 21M209.9 55.7L219.8 63M184.1 53.7L190.8 45.1M193.6 73.7L195.9 65.2M128.1 56.7L139.7 45.6M222.4 9.5L220.1 18M231.9 29.5L225.2 38.1M206.1 27.5L196.2 20.2M170.7 19.4L178.1 20.6M250.6 72.9L257.9 84M142.6 12.5L152.6 19.8M249.4 70.9L246.6 64.9M116.9 10.5L123.6 1.9M194.5 75.9L206.8 84.5M126.4 30.5L128.7 22M169.6 73.9L179.1 66.7M221.3 19L234 17.8M141.2 67L153.9 65.8M125.5 58.9L116 66.1M183.3 29.7L190.7 40.8M182.2 27.7L179.4 21.7M127.3 32.7L139.6 41.3M234.6 53.5L246.3 42.4M102.4 30.7L111.9 23.5M197.1 64.2L204.5 65.4M249.2 9.3L259.1 16.6M223.5 7.3L230.1 -1.3M232.9 27.3L235.2 18.8M167 76.1L155.4 87.2"/>
<g class="as" stroke-width="3.82"><path id="r125" d="M101.9 57.8h0M208.4 54.6h0M168.3 75h0M141.2 11.4h0M101 31.8h0M247.7 8.2h0M207.6 28.6h0"/></g><use href="#r125" class="ash" stroke-width="1.43"/>
<g class="fe" stroke-width="3.81"><path id="r126" d="M235.5 17.6h0M155.5 65.6h0M88.2 22.4h0M262 62.4h0M194.8 19.2h0M114.7 67.2h0M221.2 64h0M154 20.8h0"/></g><use href="#r126" class="feh" stroke-width="1.43"/>
<circle class="ba" cx="142.2" cy="43.2" r="3.91"/>
<circle class="ba" cx="75" cy="0" r="3.91"/>
<circle class="ba" cx="248.8" cy="40" r="3.91"/>
<circle class="ba" cx="181.6" cy="-3.2" r="3.91"/>
<circle class="ba" cx="127.9" cy="89.6" r="3.92"/>
<circle class="ba" cx="234.5" cy="86.4" r="3.92"/>
<circle class="ba" cx="167.2" cy="43.2" r="3.92"/>
<path class="bd" d="M167.4 10.3L179 -0.8M247.8 63.8L260.5 62.6M129.9 21L137.3 22.2M232.1 55.7L222.6 62.9M233.9 29.5L246.1 38.1M207.1 53.7L194.9 45.1M152.3 58.7L155 64.7M151.1 56.7L143.8 45.6M208.9 27.5L218.4 20.3M180.5 20.6L193.2 19.4M164.8 12.5L155.4 19.7M208.1 55.9L205.8 64.4M139.9 10.5L127.7 1.9M217.5 75.9L210.9 84.5M191.8 73.9L181.9 66.6M236.5 17.8L243.9 19M156.4 65.8L163.8 67M128.3 58.9L138.2 66.2M206.4 29.7L194.7 40.8M258.8 55.5L261.6 61.5M140.9 12.7L138.6 21.2M150.3 32.7L143.7 41.3M257.7 53.5L250.3 42.4M124.6 30.7L114.7 23.4M207 65.4L219.7 64.2M169 76.1L176.3 87.2M167.9 74.1L165.1 68.1M246.5 7.3L234.2 -1.3M191.6 12.3L194.4 18.3M190.4 10.3L183.1 -0.8M139.8 22.2L152.5 21M234.9 55.7L244.8 63M209.1 53.7L215.8 45.1M218.6 73.7L220.9 65.2M153.1 56.7L164.7 45.6M247.4 9.5L245.1 18M256.9 29.5L250.2 38.1M231.1 27.5L221.2 20.2M195.7 19.4L203.1 20.6M167.6 12.5L177.6 19.8M141.9 10.5L148.6 1.9M219.5 75.9L231.8 84.5M151.4 30.5L153.7 22M194.6 73.9L204.1 66.7M246.3 19L259 17.8M166.2 67L178.9 65.8M150.5 58.9L141 66.1M208.3 29.7L215.7 40.8M207.2 27.7L204.4 21.7M152.3 32.7L164.6 41.3M127.4 30.7L136.9 23.5M222.1 64.2L229.5 65.4M248.5 7.3L255.1 -1.3M257.9 27.3L260.2 18.8M192 76.1L180.4 87.2M192.4 10.3L204 -0.8"/>
<g class="as" stroke-width="3.83"><path id="r128" d="M126.9 57.8h0M233.4 54.6h0M193.3 75h0M166.2 11.4h0M126 31.8h0M232.6 28.6h0"/></g><use href="#r128" class="ash" stroke-width="1.44"/>
<g class="fe" stroke-width="3.83"><path id="r129" d="M260.6 17.6h0M180.5 65.6h0M113.2 22.4h0M219.8 19.2h0M139.7 67.2h0M246.2 64h0M179 20.8h0"/></g><use href="#r129" class="feh" stroke-width="1.44"/>
<circle class="ba" cx="100" cy="0" r="3.92"/>
<circle class="ba" cx="206.6" cy="-3.2" r="3.92"/>
<circle class="ba" cx="152.9" cy="89.6" r="3.93"/>
<circle class="ba" cx="259.4" cy="86.4" r="3.93"/>
<circle class="ba" cx="192.2" cy="43.2" r="3.93"/>
<path class="bd" d="M154.9 21L162.3 22.2M257.1 55.7L247.6 62.9M232.1 53.7L219.9 45.1M177.3 58.7L180 64.7M176.1 56.7L168.8 45.6M233.9 27.5L243.4 20.3M205.5 20.6L218.2 19.4M189.8 12.5L180.4 19.7M233.1 55.9L230.8 64.4M164.9 10.5L152.7 1.9M242.5 75.9L235.9 84.5M216.8 73.9L206.9 66.6M181.4 65.8L188.8 67M153.3 58.9L163.2 66.2M231.4 29.7L219.7 40.8M165.9 12.7L163.6 21.2M175.3 32.7L168.7 41.3M149.6 30.7L139.7 23.4M232 65.4L244.7 64.2M194 76.1L201.3 87.2M192.9 74.1L190.1 68.1M216.6 12.3L219.4 18.3M215.4 10.3L208.1 -0.8M164.8 22.2L177.5 21M234.1 53.7L240.8 45.1M243.6 73.7L245.9 65.2M178.1 56.7L189.7 45.6M256.1 27.5L246.2 20.2M220.7 19.4L228.1 20.6M192.6 12.5L202.6 19.8M166.9 10.5L173.6 1.9M244.5 75.9L256.8 84.5M176.4 30.5L178.7 22M219.6 73.9L229.1 66.7M191.2 67L203.9 65.8M175.5 58.9L166 66.1M233.3 29.7L240.7 40.8M232.2 27.7L229.4 21.7M177.3 32.7L189.6 41.3M152.4 30.7L161.9 23.5M247.1 64.2L254.5 65.4M217 76.1L205.4 87.2M217.4 10.3L229 -0.8"/>
<g class="as" stroke-width="3.84"><path id="r131" d="M151.9 57.8h0M258.4 54.6h0M218.3 75h0M191.2 11.4h0M151 31.8h0M257.6 28.6h0"/></g><use href="#r131" class="ash" stroke-width="1.44"/>
<g class="fe" stroke-width="3.84"><path id="r132" d="M205.5 65.6h0M138.2 22.4h0M244.8 19.2h0M164.7 67.2h0M204 20.8h0"/></g><use href="#r132" class="feh" stroke-width="1.44"/>
<circle class="ba" cx="125" cy="0" r="3.93"/>
<circle class="ba" cx="231.6" cy="-3.2" r="3.94"/>
<circle class="ba" cx="177.9" cy="89.6" r="3.94"/>
<circle class="ba" cx="217.2" cy="43.2" r="3.95"/>
<path class="bd" d="M179.9 21L187.3 22.2M257.1 53.7L244.9 45.1M202.3 58.7L205 64.7M201.1 56.7L193.8 45.6M230.5 20.6L243.2 19.4M214.8 12.5L205.4 19.7M258.1 55.9L255.8 64.4M189.9 10.5L177.7 1.9M241.8 73.9L231.9 66.6M206.4 65.8L213.8 67M178.3 58.9L188.2 66.2M256.4 29.7L244.7 40.8M190.9 12.7L188.6 21.2M200.3 32.7L193.7 41.3M174.6 30.7L164.7 23.4M219 76.1L226.3 87.2M217.9 74.1L215.1 68.1M241.6 12.3L244.4 18.3M240.4 10.3L233.1 -0.8M189.8 22.2L202.5 21M203.1 56.7L214.7 45.6M245.7 19.4L253.1 20.6M217.6 12.5L227.6 19.8M191.9 10.5L198.6 1.9M201.4 30.5L203.7 22M244.6 73.9L254.1 66.7M216.2 67L228.9 65.8M200.5 58.9L191 66.1M257.2 27.7L254.4 21.7M202.3 32.7L214.6 41.3M177.4 30.7L186.9 23.5M242 76.1L230.4 87.2M242.4 10.3L254 -0.8M204.9 21L212.3 22.2"/>
<g class="as" stroke-width="3.85"><path id="r134" d="M176.9 57.8h0M243.3 75h0M216.2 11.4h0M176 31.8h0"/></g><use href="#r134" class="ash" stroke-width="1.44"/>
<g class="fe" stroke-width="3.85"><path id="r135" d="M230.5 65.6h0M163.2 22.4h0M189.7 67.2h0M229 20.8h0"/></g><use href="#r135" class="feh" stroke-width="1.44"/>
<circle class="ba" cx="150" cy="0" r="3.95"/>
<circle class="ba" cx="256.6" cy="-3.2" r="3.95"/>
<circle class="ba" cx="202.9" cy="89.6" r="3.95"/>
<circle class="ba" cx="242.2" cy="43.2" r="3.96"/>
<path class="bd" d="M227.3 58.7L230 64.7M226.1 56.7L218.8 45.6M239.8 12.5L230.4 19.7M214.9 10.5L202.7 1.9M231.4 65.8L238.8 67M203.3 58.9L213.2 66.2M215.9 12.7L213.6 21.2M225.3 32.7L218.7 41.3M199.6 30.7L189.7 23.4M244 76.1L251.3 87.2M242.9 74.1L240.1 68.1M214.8 22.2L227.5 21M228.1 56.7L239.7 45.6M242.6 12.5L252.6 19.8M216.9 10.5L223.6 1.9M226.4 30.5L228.7 22M241.2 67L253.9 65.8M225.5 58.9L216 66.1M227.3 32.7L239.6 41.3M202.4 30.7L211.9 23.5M229.9 21L237.3 22.2"/>
<g class="as" stroke-width="3.87"><path id="r137" d="M201.9 57.8h0M241.2 11.4h0M201 31.8h0"/></g><use href="#r137" class="ash" stroke-width="1.45"/>
<g class="fe" stroke-width="3.87"><path id="r138" d="M255.5 65.6h0M188.2 22.4h0M214.7 67.2h0M254 20.8h0"/></g><use href="#r138" class="feh" stroke-width="1.45"/>
<circle class="ba" cx="175" cy="0" r="3.96"/>
<circle class="ba" cx="227.9" cy="89.6" r="3.97"/>
<path class="bd" d="M252.3 58.7L255 64.7M251.1 56.7L243.8 45.6M239.9 10.5L227.7 1.9M228.3 58.9L238.2 66.2M240.9 12.7L238.6 21.2M250.3 32.7L243.7 41.3M224.6 30.7L214.7 23.4M239.8 22.2L252.5 21M241.9 10.5L248.6 1.9M251.4 30.5L253.7 22M250.5 58.9L241 66.1M227.4 30.7L236.9 23.5"/>
<g class="as" stroke-width="3.88"><path id="r140" d="M226.9 57.8h0M226 31.8h0"/></g><use href="#r140" class="ash" stroke-width="1.45"/>
<g class="fe" stroke-width="3.88"><path id="r141" d="M213.2 22.4h0M239.7 67.2h0"/></g><use href="#r141" class="feh" stroke-width="1.45"/>
<circle class="ba" cx="200" cy="0" r="3.97"/>
<circle class="ba" cx="252.9" cy="89.6" r="3.98"/>
<path class="bd" d="M249.6 30.7L239.7 23.4"/>
<g class="as" stroke-width="3.89"><path id="r143" d="M251.9 57.8h0M251 31.8h0"/></g><use href="#r143" class="ash" stroke-width="1.46"/>
<g class="fe" stroke-width="3.89"><path id="r144" d="M238.2 22.4h0"/></g><use href="#r144" class="feh" stroke-width="1.46"/>
<circle class="ba" cx="225" cy="0" r="3.99"/>
<circle class="ba" cx="250" cy="0" r="4.00"/>
</g></g>
</defs>
<rect width="1446" height="794" fill="#fff"/>
<g stroke="#231815" stroke-width="2.4" stroke-linejoin="round">
<polygon points="468.5,31.2 757.2,133.9 742.9,195.2 455.2,89.7" fill="#c6c7c8"/>
<polygon points="393.3,57.2 468.5,31.2 455.2,89.7 381.2,118.1" fill="#88898b"/>
<polygon points="381.2,118.1 455.2,89.7 742.9,195.2 670.8,223.9" fill="#848685"/>
</g>
<ellipse cx="524.6" cy="146.7" rx="20" ry="13.5" fill="url(#gblue)"/>
<ellipse cx="583.8" cy="171.2" rx="20" ry="13.5" fill="url(#gred)"/>
<g class="L"><g fill="none" stroke-linecap="round">
<path class="bd" d="M438.9 615.7L456.6 614.1"/>
<g class="as" stroke-width="4.14"><path id="l2" d="M436.9 615.9h0"/></g><use href="#l2" class="ash" stroke-width="1.55"/>
<circle class="bj" cx="465" cy="647.4" r="5.08"/>
<path class="bd" d="M463.3 595.3L459.1 612M414.3 588.1L418.5 571.4M437.5 617.2L442.5 628.4M464.7 629L465 644.2M444.3 628.4L457.4 615.2"/>
<g class="as" stroke-width="4.14"><path id="l4" d="M413.9 590h0M463.7 593.4h0"/></g><use href="#l4" class="ash" stroke-width="1.55"/>
<g class="fe" stroke-width="4.14"><path id="l5" d="M458.6 613.9h0M419 569.5h0"/></g><use href="#l5" class="feh" stroke-width="1.55"/>
<circle class="bj" cx="491.8" cy="624.9" r="5.08"/>
<circle class="ba" cx="385.8" cy="558.5" r="5.09"/>
<path class="bd" d="M465.7 593.2L483.4 591.6M436.9 614.6L436.7 599.4M464.2 626.4L459.2 615.2M438.7 567.7L421 569.3M466.5 627.5L487.5 625.4M415.4 590.4L433 595.2M412.9 589.6L404.4 585.7M459.5 613.4L469 607.7M490.1 572.8L485.9 589.5M462 593.6L441 595.7M441.1 565.6L445.3 548.9M404.7 584L417.8 570.7M464.3 594.7L469.3 605.9M491.5 606.5L491.8 621.7M462.7 627.9L445 629.5M440.4 569.4L437.3 591.6"/>
<g class="as" stroke-width="4.15"><path id="l7" d="M440.7 567.5h0"/></g><use href="#l7" class="ash" stroke-width="1.55"/>
<g class="fe" stroke-width="4.15"><path id="l8" d="M485.4 591.4h0M443.1 629.7h0"/></g><use href="#l8" class="feh" stroke-width="1.56"/>
<circle class="bj" cx="518.6" cy="602.4" r="5.09"/>
<circle class="ba" cx="412.6" cy="536" r="5.09"/>
<path class="bd" d="M471.1 605.9L484.2 592.7M409.5 565.1L418 569M407.1 564.3L389.5 559.5M492.5 570.7L510.2 569.1M463.7 592.1L463.5 576.9M491 603.9L486 592.7M465.5 545.2L447.8 546.8M419.9 568.9L429.4 563.3M493.3 605L514.3 602.9M442.2 567.9L459.8 572.7M465.2 625.8L469.4 609.1M439.7 567.1L431.2 563.2M486.3 590.9L495.8 585.2M408.8 562.8L412 540.6M464.5 629.6L461.3 651.8M516.9 550.3L512.7 567M488.8 571.1L467.8 573.2M467.9 543.1L472.1 526.4M431.5 561.5L444.6 548.2M433.6 625.3L442.1 629.2"/>
<g class="as" stroke-width="4.15"><path id="l10" d="M490.5 570.9h0M464.7 627.7h0M467.5 545h0"/></g><use href="#l10" class="ash" stroke-width="1.56"/>
<g class="fe" stroke-width="4.15"><path id="l11" d="M445.8 547h0M512.2 568.9h0M403.5 585.2h0M469.9 607.2h0"/></g><use href="#l11" class="feh" stroke-width="1.56"/>
<circle class="bj" cx="545.4" cy="579.9" r="5.10"/>
<circle class="bi" cx="436.7" cy="596.2" r="5.10"/>
<path class="bd" d="M408.1 566.6L403.9 583.3M491.1 572.2L496.1 583.4M518.3 584L518.6 599.2M489.5 605.4L471.8 607M443.9 629.1L453.4 623.5M467.2 546.9L464.1 569.1M497.9 583.4L511 570.2M466.2 628.1L483.8 632.9M436.3 542.6L444.8 546.5M463.8 627.3L455.3 623.4M433.9 541.8L416.3 537M519.3 548.2L537 546.6M490.5 569.6L490.3 554.4M517.8 581.4L512.8 570.2M492.3 522.7L474.6 524.3M432.9 623L436 600.8M446.7 546.4L456.2 540.8M410.6 564.5L428.3 562.9M409 597.7L404 586.5M520.1 582.5L541.1 580.4M469 545.4L486.6 550.2M492 603.3L496.2 586.6M466.5 544.6L458 540.7M455.5 621.7L468.6 608.4M411.3 598.8L432.3 596.7M513.1 568.4L522.6 562.7M435.6 540.3L438.8 518.1"/>
<g class="as" stroke-width="4.16"><path id="l13" d="M517.3 548.4h0M491.5 605.2h0M494.3 522.5h0"/></g><use href="#l13" class="ash" stroke-width="1.56"/>
<g class="fe" stroke-width="4.16"><path id="l14" d="M472.6 524.5h0M539 546.4h0M430.3 562.7h0"/></g><use href="#l14" class="feh" stroke-width="1.56"/>
<circle class="ba" cx="439.4" cy="513.5" r="5.10"/>
<circle class="bj" cx="460.7" cy="656.4" r="5.10"/>
<circle class="bj" cx="572.2" cy="557.4" r="5.10"/>
<circle class="bi" cx="463.5" cy="573.7" r="5.10"/>
<path class="bd" d="M491.3 607.1L488.1 629.3M543.7 527.8L539.5 544.5M404.3 584.7L413.8 579M515.6 548.6L494.6 550.7M494.7 520.6L498.9 503.9M458.3 539L471.4 525.7M460.4 602.8L468.9 606.7M434.9 544.1L430.7 560.8M457.9 602L440.3 597.2M406.8 564.9L385.8 567M517.9 549.7L522.9 560.9M545.1 561.5L545.4 576.7M516.3 582.9L498.6 584.5M470.7 606.6L480.2 601M494 524.4L490.9 546.6M434.6 624.7L452.3 623.1M409.1 566L414.1 577.2M436.4 577.8L436.6 593M524.7 560.9L537.8 547.7M493 605.6L510.6 610.4M463.1 520.1L471.6 524M490.6 604.8L482.1 600.9M460.7 519.3L443.1 514.5M546.1 525.7L563.8 524.1M415.9 577.2L429 564M517.3 547.1L517.1 531.9M544.6 558.9L539.6 547.7M519.1 500.2L501.4 501.8M459.7 600.5L462.8 578.3M473.5 523.9L483 518.3M437.4 542L455.1 540.4M408.6 563.4L408.3 548.2M435.8 575.2L430.8 564M546.9 560L567.9 557.9M495.8 522.9L513.4 527.7M518.8 580.8L523 564.1"/>
<g class="as" stroke-width="4.16"><path id="l16" d="M432.6 624.9h0M544.1 525.9h0M518.3 582.7h0M409.6 599h0M521.1 500h0"/></g><use href="#l16" class="ash" stroke-width="1.56"/>
<g class="fe" stroke-width="4.16"><path id="l17" d="M496.7 584.7h0M499.4 502h0M454.3 622.9h0M565.8 523.9h0"/></g><use href="#l17" class="feh" stroke-width="1.56"/>
<circle class="ba" cx="466.2" cy="491" r="5.11"/>
<circle class="bj" cx="487.5" cy="633.9" r="5.11"/>
<path class="bd" d="M493.3 522.1L484.8 518.2M482.3 599.2L495.4 585.9M459 604.3L454.8 621M438.1 576.3L459.1 574.2M539.9 545.9L549.4 540.2M410 597.1L414.2 580.4M462.4 517.8L465.6 495.6M518.1 584.6L514.9 606.8M570.5 505.3L566.3 522M431.1 562.2L440.6 556.5M433.2 626.2L438.2 637.4M460.4 638L460.7 653.2M542.4 526.1L521.4 528.2M521.5 498.1L525.7 481.4M485.1 516.5L498.2 503.2M487.2 580.3L495.7 584.2M461.7 521.6L457.5 538.3M484.7 579.5L467.1 574.7M433.6 542.4L412.6 544.5M440 637.4L453.1 624.2M544.7 527.2L549.7 538.4M571.9 539L572.2 554.2M543.1 560.4L525.4 562M497.5 584.1L507 578.5M520.8 501.9L517.7 524.1M461.4 602.2L479.1 600.6M432.6 623.6L432.4 608.4M435.9 543.5L440.9 554.7M459.9 635.4L454.9 624.2M463.2 555.3L463.4 570.5M551.5 538.4L564.6 525.2M434.4 576.7L416.7 578.3M519.8 583.1L537.4 587.9M489.9 497.6L498.4 501.5M517.4 582.3L508.9 578.4M487.5 496.8L469.9 492M572.9 503.2L590.6 501.6M442.7 554.7L455.8 541.5M462.2 636.5L483.2 634.4M544.1 524.6L543.9 509.4M411.1 599.4L428.7 604.2M571.4 536.4L566.4 525.2M545.9 477.7L528.2 479.3M408.6 598.6L400.1 594.7"/>
<g class="as" stroke-width="4.17"><path id="l19" d="M459.4 602.4h0M570.9 503.4h0M545.1 560.2h0M436.4 576.5h0"/></g><use href="#l19" class="ash" stroke-width="1.56"/>
<g class="fe" stroke-width="4.16"><path id="l20" d="M457.1 540.2h0M523.5 562.2h0M414.7 578.5h0M526.2 479.5h0M481.1 600.4h0"/></g><use href="#l20" class="feh" stroke-width="1.56"/>
<circle class="bj" cx="599" cy="534.9" r="5.11"/>
<circle class="bi" cx="490.3" cy="551.2" r="5.11"/>
<circle class="ba" cx="381.5" cy="567.5" r="5.11"/>
<circle class="ba" cx="493" cy="468.5" r="5.11"/>
<path class="bd" d="M486.5 578L489.6 555.8M500.3 501.4L509.8 495.8M464.2 519.5L481.9 517.9M435.4 540.9L435.1 525.7M462.6 552.7L457.6 541.5M455.2 622.4L464.7 616.7M573.7 537.5L594.7 535.4M522.6 500.4L540.2 505.2M545.6 558.3L549.8 541.6M520.1 499.6L511.6 495.7M509.1 576.7L522.2 563.4M485.8 581.8L481.6 598.5M464.9 553.8L485.9 551.7M457.7 602.6L436.7 604.7M566.7 523.4L576.2 517.7M436.8 574.6L441 557.9M400.4 593L413.5 579.7M489.2 495.3L492.4 473.1M544.9 562.1L541.7 584.3M597.3 482.8L593.1 499.5M457.9 539.7L467.4 534M460 603.7L465 614.9M487.2 615.5L487.5 630.7M569.2 503.6L548.2 505.7M458.4 636.9L440.7 638.5M548.3 475.6L552.5 458.9M436.1 578.4L433 600.6M511.9 494L525 480.7M514 557.8L522.5 561.7M488.5 499.1L484.3 515.8M511.5 557L493.9 552.2M460.4 519.9L439.4 522M466.8 614.9L479.9 601.7M571.5 504.7L576.5 515.9M405.2 574.1L413.7 578M598.7 516.5L599 531.7M569.9 537.9L552.2 539.5M402.8 573.3L385.2 568.5M524.3 561.6L533.8 556M547.6 479.4L544.5 501.6M488.2 579.7L505.9 578.1M459.4 601.1L459.2 585.9M462.7 521L467.7 532.2M486.7 612.9L481.7 601.7M490 532.8L490.2 548M578.3 515.9L591.4 502.7M461.2 554.2L443.5 555.8M415.6 577.9L425.1 572.3"/>
<g class="as" stroke-width="4.17"><path id="l22" d="M547.9 477.5h0M486.2 579.9h0M460.4 636.7h0M597.7 480.9h0"/></g><use href="#l22" class="ash" stroke-width="1.56"/>
<g class="fe" stroke-width="4.17"><path id="l23" d="M592.6 501.4h0M483.9 517.7h0M438.8 638.7h0M550.2 539.7h0M441.5 556h0M553 457h0"/></g><use href="#l23" class="feh" stroke-width="1.56"/>
<circle class="bj" cx="514.3" cy="611.4" r="5.11"/>
<circle class="bj" cx="625.8" cy="512.4" r="5.12"/>
<circle class="bi" cx="517.1" cy="528.7" r="5.12"/>
<circle class="ba" cx="408.3" cy="545" r="5.12"/>
<circle class="ba" cx="519.8" cy="446" r="5.12"/>
<path class="bd" d="M546.6 560.6L564.2 565.4M516.7 475.1L525.2 479M544.2 559.8L535.7 555.9M514.3 474.3L496.7 469.5M599.7 480.7L617.4 479.1M469.5 532.2L482.6 519M489 614L510 611.9M570.9 502.1L570.7 486.9M437.9 576.9L455.5 581.7M598.2 513.9L593.2 502.7M460.9 634.8L465.1 618.1M572.7 455.2L555 456.8M435.4 576.1L426.9 572.2M513.3 555.5L516.4 533.3M527.1 478.9L536.6 473.3M491 497L508.7 495.4M462.2 518.4L461.9 503.2M489.4 530.2L484.4 519M482 599.9L491.5 594.2M600.5 515L621.5 512.9M404.5 571.8L407.7 549.6M549.4 477.9L567 482.7M572.4 535.8L576.6 519.1M546.9 477.1L538.4 473.2M460.2 638.6L457 660.8M535.9 554.2L549 540.9M512.6 559.3L508.4 576M491.7 531.3L512.7 529.2M484.5 580.1L463.5 582.2M593.5 500.9L603 495.2M463.6 552.1L467.8 535.4M427.2 570.5L440.3 557.2M516 472.8L519.2 450.6M429.3 634.3L437.8 638.2M403.8 575.6L399.6 592.3M571.7 539.6L568.5 561.8M624.1 460.3L619.9 477M484.7 517.2L494.2 511.5M486.8 581.2L491.8 592.4M514 593L514.3 608.2M596 481.1L575 483.2M485.2 614.4L467.5 616M575.1 453.1L579.3 436.4M439.6 638.1L449.1 632.5M462.9 555.9L459.8 578.1M538.7 471.5L551.8 458.2M540.8 535.3L549.3 539.2M515.3 476.6L511.1 493.3M538.3 534.5L520.7 529.7M487.2 497.4L466.2 499.5M493.6 592.4L506.7 579.2M598.3 482.2L603.3 493.4M461.9 637.1L479.5 641.9M432 551.6L440.5 555.5"/>
<g class="as" stroke-width="4.17"><path id="l25" d="M571.9 537.7h0M463.2 554h0M574.7 455h0M513 557.4h0M487.2 614.2h0"/></g><use href="#l25" class="ash" stroke-width="1.57"/>
<g class="fe" stroke-width="4.17"><path id="l26" d="M507.9 577.9h0M399.2 594.2h0M619.4 478.9h0M510.7 495.2h0M465.6 616.2h0M577 517.2h0M468.3 533.5h0"/></g><use href="#l26" class="feh" stroke-width="1.57"/>
<circle class="bj" cx="541.1" cy="588.9" r="5.12"/>
<circle class="bi" cx="432.4" cy="605.2" r="5.12"/>
<circle class="bj" cx="652.6" cy="489.9" r="5.12"/>
<circle class="bi" cx="543.9" cy="506.2" r="5.12"/>
<circle class="ba" cx="435.1" cy="522.5" r="5.12"/>
<path class="bd" d="M625.5 494L625.8 509.2M596.7 515.4L579 517M459.5 636.3L451 632.4M429.6 550.8L412 546M551.1 539.1L560.6 533.5M574.4 456.9L571.3 479.1M515 557.2L532.7 555.6M486.2 578.6L486 563.4M489.5 498.5L494.5 509.7M513.5 590.4L508.5 579.2M516.8 510.3L517 525.5M605.1 493.4L618.2 480.2M488 531.7L470.3 533.3M428.6 632L431.7 609.8M442.4 555.4L451.9 549.8M573.4 538.1L591 542.9M543.5 452.6L552 456.5M406.3 573.5L424 571.9M571 537.3L562.5 533.4M541.1 451.8L523.5 447M404.7 606.7L399.7 595.5M626.5 458.2L644.2 456.6M496.3 509.7L509.4 496.5M515.8 591.5L536.8 589.4M597.7 479.6L597.5 464.4M464.7 554.4L482.3 559.2M625 491.4L620 480.2M487.7 612.3L491.9 595.6M599.5 432.7L581.8 434.3M462.2 553.6L453.7 549.7M451.2 630.7L464.3 617.4M540.1 533L543.2 510.8M553.9 456.4L563.4 450.8M517.8 474.5L535.5 472.9M407 607.8L428 605.7M489 495.9L488.7 480.7M516.2 507.7L511.2 496.5M508.8 577.4L518.3 571.7M627.3 492.5L648.3 490.4M431.3 549.3L434.5 527.1M576.2 455.4L593.8 460.2M599.2 513.3L603.4 496.6M573.7 454.6L565.2 450.7M487 616.1L483.8 638.3M562.7 531.7L575.8 518.4M539.4 536.8L535.2 553.5M400 593.7L409.5 588M518.5 508.8L539.5 506.7M511.3 557.6L490.3 559.7M620.3 478.4L629.8 472.7M490.4 529.6L494.6 512.9M454 548L467.1 534.7M542.8 450.3L546 428.1M456.1 611.8L464.6 615.7M430.6 553.1L426.4 569.8M453.6 611L436 606.2M598.5 517.1L595.3 539.3M402.5 573.9L381.5 576M650.9 437.8L646.7 454.5M511.5 494.7L521 489M513.6 558.7L518.6 569.9M540.8 570.5L541.1 585.7M622.8 458.6L601.8 460.7M512 591.9L494.3 593.5"/>
<g class="as" stroke-width="4.18"><path id="l28" d="M624.5 458.4h0M598.7 515.2h0M490 531.5h0M601.5 432.5h0M428.3 633.9h0"/></g><use href="#l28" class="ash" stroke-width="1.57"/>
<g class="fe" stroke-width="4.18"><path id="l29" d="M579.8 434.5h0M534.7 555.4h0M426 571.7h0M646.2 456.4h0M537.4 472.7h0M492.4 593.7h0"/></g><use href="#l29" class="feh" stroke-width="1.57"/>
<circle class="ba" cx="546.6" cy="423.5" r="5.12"/>
<circle class="bj" cx="456.4" cy="665.4" r="5.13"/>
<circle class="bj" cx="567.9" cy="566.4" r="5.13"/>
<circle class="bi" cx="459.2" cy="582.7" r="5.13"/>
<circle class="bj" cx="679.4" cy="467.4" r="5.13"/>
<circle class="bi" cx="570.7" cy="483.7" r="5.13"/>
<circle class="ba" cx="461.9" cy="500" r="5.13"/>
<path class="bd" d="M601.9 430.6L606.1 413.9M466.4 615.6L475.9 610M489.7 533.4L486.6 555.6M565.5 449L578.6 435.7M567.6 512.8L576.1 516.7M430.3 633.7L448 632.1M542.1 454.1L537.9 470.8M404.8 575L409.8 586.2M565.1 512L547.5 507.2M432.1 586.8L432.3 602M514 474.9L493 477M520.4 569.9L533.5 556.7M625.1 459.7L630.1 470.9M488.7 614.6L506.3 619.4M458.8 529.1L467.3 533M652.3 471.5L652.6 486.7M623.5 492.9L605.8 494.5M486.3 613.8L477.8 609.9M456.4 528.3L438.8 523.5M577.9 516.6L587.4 511M601.2 434.4L598.1 456.6M541.8 534.7L559.5 533.1M411.6 586.2L424.7 573M513 556.1L512.8 540.9M516.3 476L521.3 487.2M540.3 567.9L535.3 556.7M543.6 487.8L543.8 503M631.9 470.9L645 457.7M514.8 509.2L497.1 510.8M455.4 609.5L458.5 587.3M469.2 532.9L478.7 527.3M600.2 515.6L617.8 520.4M570.3 430.1L578.8 434M433.1 551L450.8 549.4M404.3 572.4L404 557.2M597.8 514.8L589.3 510.9M567.9 429.3L550.3 424.5M431.5 584.2L426.5 573M653.3 435.7L671 434.1M523.1 487.2L536.2 474M542.6 569L563.6 566.9M624.5 457.1L624.3 441.9M491.5 531.9L509.1 536.7M651.8 468.9L646.8 457.7M514.5 589.8L518.7 573.1M626.3 410.2L608.6 411.8M489 531.1L480.5 527.2M478 608.2L491.1 594.9M566.9 510.5L570 488.3M580.7 433.9L590.2 428.3M454.7 613.3L450.5 630M544.6 452L562.3 450.4M433.8 585.3L454.8 583.2M515.8 473.4L515.5 458.2M543 485.2L538 474M535.6 554.9L545.1 549.2M405.7 606.1L409.9 589.4M654.1 470L675.1 467.9M458.1 526.8L461.3 504.6M603 432.9L620.6 437.7M626 490.8L630.2 474.1M600.5 432.1L592 428.2M513.8 593.6L510.6 615.8M589.5 509.2L602.6 495.9M566.2 514.3L562 531M426.8 571.2L436.3 565.5M428.9 635.2L433.9 646.4M545.3 486.3L566.3 484.2M456.1 647L456.4 662.2M538.1 535.1L517.1 537.2M647.1 455.9L656.6 450.2M517.2 507.1L521.4 490.4"/>
<g class="as" stroke-width="4.18"><path id="l31" d="M539.8 534.9h0M514 591.7h0M651.3 435.9h0M405.3 608h0M625.5 492.7h0M516.8 509h0M628.3 410h0"/></g><use href="#l31" class="ash" stroke-width="1.57"/>
<g class="fe" stroke-width="4.18"><path id="l32" d="M603.9 494.7h0M495.1 511h0M450 631.9h0M606.6 412h0M561.5 532.9h0M452.8 549.2h0M673 433.9h0M564.2 450.2h0M519.2 571.2h0"/></g><use href="#l32" class="feh" stroke-width="1.57"/>
<circle class="ba" cx="573.4" cy="401" r="5.13"/>
<circle class="bj" cx="483.2" cy="642.9" r="5.13"/>
<circle class="bj" cx="594.7" cy="543.9" r="5.13"/>
<circle class="bi" cx="486" cy="560.2" r="5.13"/>
<circle class="bj" cx="706.2" cy="444.9" r="5.13"/>
<circle class="ba" cx="377.2" cy="576.5" r="5.14"/>
<path class="bd" d="M480.8 525.5L493.9 512.2M569.6 427.8L572.8 405.6M482.9 589.3L491.4 593.2M457.4 530.6L453.2 547.3M480.4 588.5L462.8 583.7M625.3 494.6L622.1 516.8M429.3 551.4L408.3 553.5M435.7 646.4L448.8 633.2M677.7 415.3L673.5 432M538.3 472.2L547.8 466.5M540.4 536.2L545.4 547.4M567.6 548L567.9 563.2M649.6 436.1L628.6 438.2M538.8 569.4L521.1 571M628.7 408.1L632.9 391.4M493.2 593.1L502.7 587.5M516.5 510.9L513.4 533.1M592.3 426.5L605.4 413.2M594.4 490.3L602.9 494.2M457.1 611.2L474.8 609.6M428.3 632.6L428.1 617.4M568.9 431.6L564.7 448.3M431.6 552.5L436.6 563.7M591.9 489.5L574.3 484.7M455.6 644.4L450.6 633.2M458.9 564.3L459.1 579.5M540.8 452.4L519.8 454.5M547.2 547.4L560.3 534.2M430.1 585.7L412.4 587.3M651.9 437.2L656.9 448.4M515.5 592.1L533.1 596.9M485.6 506.6L494.1 510.5M679.1 449L679.4 464.2M650.3 470.4L632.6 472M513.1 591.3L504.6 587.4M483.2 505.8L465.6 501M604.7 494.1L614.2 488.5M628 411.9L624.9 434.1M568.6 512.2L586.3 510.6M438.4 563.7L451.5 550.5M457.9 645.5L478.9 643.4M539.8 533.6L539.6 518.4M543.1 453.5L548.1 464.7M406.8 608.4L424.4 613.2M567.1 545.4L562.1 534.2M570.4 465.3L570.6 480.5M658.7 448.4L671.8 435.2M541.6 486.7L523.9 488.3M404.3 607.6L395.8 603.7M482.2 587L485.3 564.8M496 510.4L505.5 504.8M627 493.1L644.6 497.9M597.1 407.6L605.6 411.5M459.9 528.5L477.6 526.9M431.1 549.9L430.8 534.7M624.6 492.3L616.1 488.4M594.7 406.8L577.1 402M458.3 561.7L453.3 550.5M450.9 631.4L460.4 625.7M680.1 413.2L697.8 411.6M549.9 464.7L563 451.5M569.4 546.5L590.4 544.4M651.3 434.6L651.1 419.4M518.3 509.4L535.9 514.2M678.6 446.4L673.6 435.2M541.3 567.3L545.5 550.6M653.1 387.7L635.4 389.3M515.8 508.6L507.3 504.7M504.8 585.7L517.9 572.4M593.7 488L596.8 465.8M607.5 411.4L617 405.8M481.5 590.8L477.3 607.5M571.4 429.5L589.1 427.9M460.6 562.8L481.6 560.7M542.6 450.9L542.3 435.7M453.4 611.6L432.4 613.7M569.8 462.7L564.8 451.5M562.4 532.4L571.9 526.7M432.5 583.6L436.7 566.9M680.9 447.5L701.9 445.4M396.1 602L409.2 588.7"/>
<g class="as" stroke-width="4.19"><path id="l34" d="M455.1 611.4h0M566.6 512.4h0M540.8 569.2h0M678.1 413.4h0M432.1 585.5h0M652.3 470.2h0M543.6 486.5h0"/></g><use href="#l34" class="ash" stroke-width="1.57"/>
<g class="fe" stroke-width="4.19"><path id="l35" d="M410.4 587.5h0M630.6 472.2h0M521.9 488.5h0M476.8 609.4h0M633.4 389.5h0M588.3 510.4h0M479.6 526.7h0M699.8 411.4h0M434.5 647.7h0"/></g><use href="#l35" class="feh" stroke-width="1.57"/>
<circle class="bi" cx="597.5" cy="461.2" r="5.14"/>
<circle class="ba" cx="488.7" cy="477.5" r="5.14"/>
<circle class="ba" cx="600.2" cy="378.5" r="5.14"/>
<circle class="bj" cx="510" cy="620.4" r="5.14"/>
<circle class="bj" cx="621.5" cy="521.4" r="5.14"/>
<path class="bd" d="M484.9 504.3L488.1 482.1M629.8 410.4L647.4 415.2M652.8 468.3L657 451.6M627.3 409.6L618.8 405.7M540.6 571.1L537.4 593.3M616.3 486.7L629.4 473.4M593 491.8L588.8 508.5M453.6 548.7L463.1 543M455.7 612.7L460.7 623.9M572.1 463.8L593.1 461.7M482.9 624.5L483.2 639.7M564.9 512.6L543.9 514.7M454.1 645.9L436.4 647.5M673.9 433.4L683.4 427.7M544 484.6L548.2 467.9M431.8 587.4L428.7 609.6M507.6 503L520.7 489.7M596.4 405.3L599.6 383.1M509.7 566.8L518.2 570.7M484.2 508.1L480 524.8M507.2 566L489.6 561.2M652.1 472.1L648.9 494.3M456.1 528.9L435.1 531M462.5 623.9L475.6 610.7M704.5 392.8L700.3 409.5M565.1 449.7L574.6 444M567.2 513.7L572.2 524.9M400.9 583.1L409.4 587M594.4 525.5L594.7 540.7M676.4 413.6L655.4 415.7M565.6 546.9L547.9 548.5M655.5 385.6L659.7 368.9M398.5 582.3L380.9 577.5M520 570.6L529.5 565M543.3 488.4L540.2 510.6M619.1 404L632.2 390.7M621.2 467.8L629.7 471.7M483.9 588.7L501.6 587.1M455.1 610.1L454.9 594.9M595.7 409.1L591.5 425.8M458.4 530L463.4 541.2M618.7 467L601.1 462.2M482.4 621.9L477.4 610.7M485.7 541.8L485.9 557M567.6 429.9L546.6 432M574 524.9L587.1 511.7M456.9 563.2L439.2 564.8M678.7 414.7L683.7 425.9M411.3 586.9L420.8 581.3M542.3 569.6L559.9 574.4M512.4 484.1L520.9 488M705.9 426.5L706.2 441.7M677.1 447.9L659.4 449.5M539.9 568.8L531.4 564.9M510 483.3L492.4 478.5M631.5 471.6L641 466M654.8 389.4L651.7 411.6M595.4 489.7L613.1 488.1M465.2 541.2L478.3 528M484.7 623L505.7 620.9M566.6 511.1L566.4 495.9M569.9 431L574.9 442.2M433.6 585.9L451.2 590.7M593.9 522.9L588.9 511.7M456.6 643.8L460.8 627.1M597.2 442.8L597.4 458M685.5 425.9L698.6 412.7M568.4 464.2L550.7 465.8M431.1 585.1L422.6 581.2M509 564.5L512.1 542.3M522.8 487.9L532.3 482.3M653.8 470.6L671.4 475.4M623.9 385.1L632.4 389M486.7 506L504.4 504.4M457.9 527.4L457.6 512.2M651.4 469.8L642.9 465.9M621.5 384.3L603.9 379.5M485.1 539.2L480.1 528M477.7 608.9L487.2 603.2M576.7 442.2L589.8 429M596.2 524L617.2 521.9M678.1 412.1L677.9 396.9M400.2 580.8L403.4 558.6"/>
<g class="as" stroke-width="4.19"><path id="l37" d="M655.1 387.5h0M481.9 588.9h0M456.1 645.7h0M593.4 489.9h0M567.6 546.7h0M704.9 390.9h0M458.9 563h0M679.1 447.7h0"/></g><use href="#l37" class="ash" stroke-width="1.57"/>
<g class="fe" stroke-width="4.19"><path id="l38" d="M591 427.7h0M546 548.7h0M437.2 565h0M657.5 449.7h0M548.7 466h0M503.6 586.9h0M660.2 367h0M394.9 603.2h0M615.1 487.9h0"/></g><use href="#l38" class="feh" stroke-width="1.57"/>
<circle class="bi" cx="512.8" cy="537.7" r="5.14"/>
<circle class="ba" cx="733" cy="422.4" r="5.14"/>
<circle class="ba" cx="404" cy="554" r="5.14"/>
<circle class="bi" cx="624.2" cy="438.7" r="5.14"/>
<circle class="ba" cx="515.5" cy="455" r="5.14"/>
<circle class="ba" cx="627" cy="356" r="5.14"/>
<circle class="bj" cx="536.8" cy="597.9" r="5.15"/>
<path class="bd" d="M545.1 486.9L562.7 491.7M705.4 423.9L700.4 412.7M568.1 544.8L572.3 528.1M679.9 365.2L662.2 366.8M542.6 486.1L534.1 482.2M455.9 647.6L452.7 669.8M531.6 563.2L544.7 549.9M620.5 465.5L623.6 443.3M634.3 388.9L643.8 383.3M508.3 568.3L504.1 585M598.2 407L615.9 405.4M487.4 540.3L508.4 538.2M569.4 428.4L569.1 413.2M480.2 589.1L459.2 591.2M596.6 440.2L591.6 429M589.2 509.9L598.7 504.2M459.3 561.1L463.5 544.4M707.7 425L728.7 422.9M422.9 579.5L436 566.2M511.7 481.8L514.9 459.6M425 643.3L433.5 647.2M656.6 387.9L674.2 392.7M399.5 584.6L395.3 601.3M679.6 445.8L683.8 429.1M654.1 387.1L645.6 383.2M567.4 548.6L564.2 570.8M643.1 464.2L656.2 450.9M619.8 469.3L615.6 486M480.4 526.2L489.9 520.5M482.5 590.2L487.5 601.4M598.9 441.3L619.9 439.2M509.7 602L510 617.2M591.7 490.1L570.7 492.2M480.9 623.4L463.2 625M700.7 410.9L710.2 405.2M570.8 462.1L575 445.4M435.3 647.1L444.8 641.5M458.6 564.9L455.5 587.1M534.4 480.5L547.5 467.2M623.2 382.8L626.4 360.6M536.5 544.3L545 548.2M511 485.6L506.8 502.3M534 543.5L516.4 538.7M678.9 449.6L675.7 471.8M482.9 506.4L461.9 508.5M489.3 601.4L502.4 588.2M591.9 427.2L601.4 421.5M594 491.2L599 502.4M457.6 646.1L475.2 650.9M427.7 560.6L436.2 564.5M621.2 503L621.5 518.2M703.2 391.1L682.2 393.2M592.4 524.4L574.7 526M455.2 645.3L446.7 641.4M425.3 559.8L407.7 555M546.8 548.1L556.3 542.5M570.1 465.9L567 488.1M645.9 381.5L659 368.2M648 445.3L656.5 449.2M510.7 566.2L528.4 564.6M481.9 587.6L481.7 572.4M622.5 386.6L618.3 403.3M485.2 507.5L490.2 518.7M645.5 444.5L627.9 439.7M509.2 599.4L504.2 588.2M512.5 519.3L512.7 534.5M594.4 407.4L573.4 409.5M600.8 502.4L613.9 489.2M483.7 540.7L466 542.3M705.5 392.2L710.5 403.4M424.3 641L427.4 618.8M438.1 564.4L447.6 558.8M569.1 547.1L586.7 551.9M539.2 461.6L547.7 465.5M402 582.5L419.7 580.9M703.9 425.4L686.2 427M566.7 546.3L558.2 542.4M536.8 460.8L519.2 456M658.3 449.1L667.8 443.5M681.6 366.9L678.5 389.1M400.4 615.7L395.4 604.5M622.2 467.2L639.9 465.6M492 518.7L505.1 505.5M511.5 600.5L532.5 598.4M593.4 488.6L593.2 473.4M596.7 408.5L601.7 419.7M460.4 563.4L478 568.2M620.7 500.4L615.7 489.2M483.4 621.3L487.6 604.6"/>
<g class="as" stroke-width="4.20"><path id="l40" d="M570.4 464h0M681.9 365h0M508.7 566.4h0M482.9 623.2h0M620.2 467.4h0M594.4 524.2h0M485.7 540.5h0"/></g><use href="#l40" class="ash" stroke-width="1.57"/>
<g class="fe" stroke-width="4.20"><path id="l41" d="M506.4 504.2h0M461.2 625.2h0M617.9 405.2h0M572.8 526.2h0M464 542.5h0M684.2 427.2h0M575.5 443.5h0M530.4 564.4h0"/></g><use href="#l41" class="feh" stroke-width="1.57"/>
<circle class="bi" cx="428.1" cy="614.2" r="5.15"/>
<circle class="bj" cx="648.3" cy="498.9" r="5.15"/>
<circle class="bi" cx="539.6" cy="515.2" r="5.15"/>
<circle class="ba" cx="430.8" cy="531.5" r="5.15"/>
<circle class="bi" cx="651.1" cy="416.2" r="5.15"/>
<circle class="ba" cx="542.3" cy="432.5" r="5.15"/>
<circle class="bj" cx="452.1" cy="674.4" r="5.15"/>
<circle class="ba" cx="653.8" cy="333.5" r="5.15"/>
<path class="bd" d="M624 420.3L624.2 435.5M595.2 441.7L577.5 443.3M457.9 562.6L449.4 558.7M446.9 639.7L460 626.4M535.8 542L538.9 519.8M549.6 465.4L559.1 459.8M680.6 448.1L698.2 452.9M650.7 362.6L659.2 366.5M513.5 483.5L531.2 481.9M402.7 616.8L423.7 614.7M484.7 504.9L484.4 489.7M678.2 447.3L669.7 443.4M648.3 361.8L630.7 357M511.9 516.7L506.9 505.5M504.5 586.4L514 580.7M603.5 419.7L616.6 406.5M623 501.5L644 499.4M427 558.3L430.2 536.1M571.9 464.4L589.5 469.2M594.9 522.3L599.1 505.6M569.4 463.6L560.9 459.7M482.7 625.1L479.5 647.3M558.4 540.7L571.5 527.4M647.3 443L650.4 420.8M661.1 366.4L670.6 360.8M535.1 545.8L530.9 562.5M395.7 602.7L405.2 597M625 384.5L642.7 382.9M514.2 517.8L535.2 515.7M596.2 405.9L595.9 390.7M507 566.6L486 568.7M623.4 417.7L618.4 406.5M616 487.4L625.5 481.7M486.1 538.6L490.3 521.9M449.7 557L462.8 543.7M538.5 459.3L541.7 437.1M451.8 620.8L460.3 624.7M426.3 562.1L422.1 578.8M706.4 423.3L710.6 406.6M449.3 620L431.7 615.2M680.9 364.6L672.4 360.7M594.2 526.1L591 548.3M669.9 441.7L683 428.4M398.2 582.9L377.2 585M646.6 446.8L642.4 463.5M507.2 503.7L516.7 498M509.3 567.7L514.3 578.9M625.7 418.8L646.7 416.7M536.5 579.5L536.8 594.7M618.5 467.6L597.5 469.7M507.7 600.9L490 602.5M597.6 439.6L601.8 422.9M462.1 624.6L471.6 619M485.4 542.4L482.3 564.6M561.2 458L574.3 444.7M650 360.3L653.2 338.1M563.3 521.8L571.8 525.7M426 642.7L443.7 641.1M537.8 463.1L533.6 479.8M400.5 584L405.5 595.2M560.8 521L543.2 516.2M705.7 427.1L702.5 449.3M427.8 595.8L428 611M509.7 483.9L488.7 486M516.1 578.9L529.2 565.7M618.7 404.7L628.2 399M620.8 468.7L625.8 479.9M484.4 623.6L502 628.4M454.5 538.1L463 542M648 480.5L648.3 495.7M619.2 501.9L601.5 503.5M482 622.8L473.5 618.9M452.1 537.3L434.5 532.5M573.6 525.6L583.1 520M596.9 443.4L593.8 465.6M674.8 422.8L683.3 426.7M537.5 543.7L555.2 542.1M407.3 595.2L420.4 582M508.7 565.1L508.5 549.9M649.3 364.1L645.1 380.8M512 485L517 496.2M672.3 422L654.7 417.2M536 576.9L531 565.7M539.3 496.8L539.5 512M621.2 384.9L600.2 387M627.6 479.9L640.7 466.7M510.5 518.2L492.8 519.8"/>
<g class="as" stroke-width="4.20"><path id="l43" d="M705.9 425.2h0M597.2 441.5h0M424 642.9h0M535.5 543.9h0M509.7 600.7h0M647 444.9h0M401 617h0"/></g><use href="#l43" class="ash" stroke-width="1.58"/>
<g class="fe" stroke-width="4.20"><path id="l44" d="M421.7 580.7h0M641.9 465.4h0M533.1 481.7h0M488.1 602.7h0M644.6 382.7h0M599.5 503.7h0M490.8 520h0M711 404.7h0M445.7 640.9h0"/></g><use href="#l44" class="feh" stroke-width="1.57"/>
<circle class="bj" cx="563.6" cy="575.4" r="5.15"/>
<circle class="bi" cx="454.9" cy="591.7" r="5.15"/>
<circle class="bj" cx="675.1" cy="476.4" r="5.15"/>
<circle class="bi" cx="566.4" cy="492.7" r="5.15"/>
<circle class="ba" cx="457.6" cy="509" r="5.15"/>
<circle class="ba" cx="677.9" cy="393.7" r="5.16"/>
<circle class="ba" cx="569.1" cy="410" r="5.16"/>
<path class="bd" d="M451.1 618.5L454.2 596.3M464.9 541.9L474.4 536.3M595.9 524.6L613.5 529.4M566 439.1L574.5 443M428.8 560L446.5 558.4M400 581.4L399.7 566.2M593.5 523.8L585 519.9M563.6 438.3L546 433.5M685.1 426.6L694.6 421M427.2 593.2L422.2 582M649 444.7L666.7 443.1M518.8 496.2L531.9 483M538.3 578L559.3 575.9M620.2 466.1L620 450.9M623.5 386L628.5 397.2M487.2 540.9L504.8 545.7M647.5 477.9L642.5 466.7M510.2 598.8L514.4 582.1M650.8 397.8L651 413M622 419.2L604.3 420.8M484.7 540.1L476.2 536.2M473.7 617.2L486.8 603.9M562.6 519.5L565.7 497.3M576.4 442.9L585.9 437.3M707.4 425.6L725 430.4M450.4 622.3L446.2 639M540.3 461L558 459.4M429.5 594.3L450.5 592.2M511.5 482.4L511.2 467.2M705 424.8L696.5 420.9M538.7 494.2L533.7 483M531.3 563.9L540.8 558.2M401.4 615.1L405.6 598.4M630.3 397.2L643.4 384M649.8 479L670.8 476.9M453.8 535.8L457 513.6M598.7 441.9L616.3 446.7M621.7 499.8L625.9 483.1M596.2 441.1L587.7 437.2M509.5 602.6L506.3 624.8M585.2 518.2L598.3 504.9M674.1 420.5L677.2 398.3M561.9 523.3L557.7 540M422.5 580.2L432 574.5M424.6 644.2L429.6 655.4M651.8 362L669.5 360.4M541 495.3L562 493.2M623 383.4L622.7 368.2M451.8 656L452.1 671.2M533.8 544.1L512.8 546.2M650.2 395.2L645.2 384M642.8 464.9L652.3 459.2M512.9 516.1L517.1 499.4M476.5 534.5L489.6 521.2M565.3 436.8L568.5 414.6M478.6 598.3L487.1 602.2M453.1 539.6L448.9 556.3M476.1 597.5L458.5 592.7M621 503.6L617.8 525.8M696.7 419.2L709.8 405.9M425 560.4L404 562.5M431.4 655.4L444.5 642.2M673.4 424.3L669.2 441M534 481.2L543.5 475.5M536.1 545.2L541.1 556.4M652.5 396.3L673.5 394.2M563.3 557L563.6 572.2M645.3 445.1L624.3 447.2M534.5 578.4L516.8 580M624.4 417.1L628.6 400.4M488.9 602.1L498.4 596.5M512.2 519.9L509.1 542.1M588 435.5L601.1 422.2M590.1 499.3L598.6 503.2M452.8 620.2L470.5 618.6M424 641.6L423.8 626.4M564.6 440.6L560.4 457.3M427.3 561.5L432.3 572.7M587.6 498.5L570 493.7M451.3 653.4L446.3 642.2M454.6 573.3L454.8 588.5M536.5 461.4L515.5 463.5M542.9 556.4L556 543.2M425.8 594.7L408.1 596.3M645.5 382.2L655 376.5M647.6 446.2L652.6 457.4"/>
<g class="as" stroke-width="4.20"><path id="l46" d="M621.2 501.7h0M512.5 518h0M649.8 362.2h0M624 419h0M450.8 620.4h0M562.3 521.4h0"/></g><use href="#l46" class="ash" stroke-width="1.58"/>
<g class="fe" stroke-width="4.20"><path id="l47" d="M602.3 421h0M557.2 541.9h0M448.5 558.2h0M668.7 442.9h0M559.9 459.2h0M514.9 580.2h0M671.4 360.2h0M406.1 596.5h0M626.3 481.2h0M517.6 497.5h0"/></g><use href="#l47" class="feh" stroke-width="1.58"/>
<circle class="bj" cx="478.9" cy="651.9" r="5.16"/>
<circle class="bj" cx="590.4" cy="552.9" r="5.16"/>
<circle class="bi" cx="481.7" cy="569.2" r="5.16"/>
<circle class="bj" cx="701.9" cy="453.9" r="5.16"/>
<circle class="ba" cx="372.9" cy="585.5" r="5.16"/>
<circle class="bi" cx="593.1" cy="470.2" r="5.16"/>
<circle class="ba" cx="484.4" cy="486.5" r="5.16"/>
<path class="bd" d="M511.2 601.1L528.8 605.9M481.3 515.6L489.8 519.5M674.8 458L675.1 473.2M646 479.4L628.3 481M508.8 600.3L500.3 596.4M478.9 514.8L461.3 510M600.4 503.1L609.9 497.5M623.7 420.9L620.6 443.1M701.6 400.3L710.1 404.2M564.3 521.2L582 519.6M434.1 572.7L447.2 559.5M453.6 654.5L474.6 652.4M535.5 542.6L535.3 527.4M538.8 462.5L543.8 473.7M699.1 399.5L681.5 394.7M402.5 617.4L420.1 622.2M562.8 554.4L557.8 543.2M566.1 474.3L566.3 489.5M648 362.4L627 364.5M654.4 457.4L667.5 444.2M537.3 495.7L519.6 497.3M400 616.6L391.5 612.7M477.9 596L481 573.8M491.7 519.4L501.2 513.8M622.7 502.1L640.3 506.9M592.8 416.6L601.3 420.5M455.6 537.5L473.3 535.9M426.8 558.9L426.5 543.7M620.3 501.3L611.8 497.4M590.4 415.8L572.8 411M454 570.7L449 559.5M446.6 640.4L456.1 634.7M675.8 422.2L693.5 420.6M545.6 473.7L558.7 460.5M565.1 555.5L586.1 553.4M647 443.6L646.8 428.4M650.3 363.5L655.3 374.7M514 518.4L531.6 523.2M674.3 455.4L669.3 444.2M537 576.3L541.2 559.6M677.6 375.3L677.8 390.5M648.8 396.7L631.1 398.3M511.5 517.6L503 513.7M500.5 594.7L513.6 581.4M589.4 497L592.5 474.8M603.2 420.4L612.7 414.8M477.2 599.8L473 616.5M567.1 438.5L584.8 436.9M456.3 571.8L477.3 569.7M538.3 459.9L538 444.7M449.1 620.6L428.1 622.7M565.5 471.7L560.5 460.5M558.1 541.4L567.6 535.7M428.2 592.6L432.4 575.9M657.1 374.7L670.2 361.5M676.6 456.5L697.6 454.4M391.8 611L404.9 597.7M480.6 513.3L483.8 491.1M625.5 419.4L643.1 424.2M648.5 477.3L652.7 460.6M623 418.6L614.5 414.7M536.3 580.1L533.1 602.3M612 495.7L625.1 482.4M588.7 500.8L584.5 517.5M449.3 557.7L458.8 552M451.4 621.7L456.4 632.9M567.8 472.8L588.8 470.7M649.8 360.9L649.5 345.7M478.6 633.5L478.9 648.7M560.6 521.6L539.6 523.7M449.8 654.9L432.1 656.5M677 372.7L672 361.5M669.6 442.4L679.1 436.7M539.7 493.6L543.9 476.9M427.5 596.4L424.4 618.6M503.3 512L516.4 498.7M592.1 414.3L595.3 392.1M505.4 575.8L513.9 579.7M479.9 517.1L475.7 533.8M502.9 575L485.3 570.2M647.8 481.1L644.6 503.3M451.8 537.9L430.8 540M458.2 632.9L471.3 619.7M700.2 401.8L696 418.5M560.8 458.7L570.3 453M562.9 522.7L567.9 533.9"/>
<g class="as" stroke-width="4.21"><path id="l49" d="M536.5 578.2h0M673.8 422.4h0M427.8 594.5h0M648 479.2h0M539.3 495.5h0M650.8 396.5h0M477.6 597.9h0"/></g><use href="#l49" class="ash" stroke-width="1.58"/>
<g class="fe" stroke-width="4.21"><path id="l50" d="M472.5 618.4h0M629.1 398.5h0M584 519.4h0M475.3 535.7h0M695.5 420.4h0M430.1 656.7h0M586.7 436.7h0M541.6 557.7h0M432.9 574h0"/></g><use href="#l50" class="feh" stroke-width="1.58"/>
<circle class="ba" cx="595.9" cy="387.5" r="5.16"/>
<circle class="bj" cx="505.7" cy="629.4" r="5.16"/>
<circle class="bj" cx="617.2" cy="530.4" r="5.17"/>
<circle class="bi" cx="508.5" cy="546.7" r="5.17"/>
<circle class="ba" cx="728.7" cy="431.4" r="5.17"/>
<circle class="ba" cx="399.7" cy="563" r="5.17"/>
<circle class="bi" cx="619.9" cy="447.7" r="5.17"/>
<path class="bd" d="M396.6 592.1L405.1 596M590.1 534.5L590.4 549.7M672.1 422.6L651.1 424.7M561.3 555.9L543.6 557.5M651.2 394.6L655.4 377.9M394.2 591.3L376.6 586.5M515.7 579.6L525.2 574M539 497.4L535.9 519.6M614.8 413L627.9 399.7M616.9 476.8L625.4 480.7M479.6 597.7L497.3 596.1M450.8 619.1L450.6 603.9M591.4 418.1L587.2 434.8M454.1 539L459.1 550.2M614.4 476L596.8 471.2M478.1 630.9L473.1 619.7M481.4 550.8L481.6 566M563.3 438.9L542.3 441M569.7 533.9L582.8 520.7M452.6 572.2L434.9 573.8M674.4 423.7L679.4 434.9M407 595.9L416.5 590.3M538 578.6L555.6 583.4M508.1 493.1L516.6 497M701.6 435.5L701.9 450.7M672.8 456.9L655.1 458.5M535.6 577.8L527.1 573.9M505.7 492.3L488.1 487.5M627.2 480.6L636.7 475M650.5 398.4L647.4 420.6M591.1 498.7L608.8 497.1M460.9 550.2L474 537M480.4 632L501.4 629.9M562.3 520.1L562.1 504.9M565.6 440L570.6 451.2M429.3 594.9L446.9 599.7M589.6 531.9L584.6 520.7M452.3 652.8L456.5 636.1M592.9 451.8L593.1 467M681.2 434.9L694.3 421.7M564.1 473.2L546.4 474.8M426.8 594.1L418.3 590.2M504.7 573.5L507.8 551.3M518.5 496.9L528 491.3M649.5 479.6L667.1 484.4M619.6 394.1L628.1 398M482.4 515L500.1 513.4M453.6 536.4L453.3 521.2M647.1 478.8L638.6 474.9M617.2 393.3L599.6 388.5M480.8 548.2L475.8 537M473.4 617.9L482.9 612.2M572.4 451.2L585.5 438M591.9 533L612.9 530.9M673.8 421.1L673.6 405.9M395.9 589.8L399.1 567.6M540.8 495.9L558.4 500.7M701.1 432.9L696.1 421.7M563.8 553.8L568 537.1M675.6 374.2L657.9 375.8M538.3 495.1L529.8 491.2M451.6 656.6L448.4 678.8M527.3 572.2L540.4 558.9M616.2 474.5L619.3 452.3M630 397.9L639.5 392.3M504 577.3L499.8 594M593.9 416L611.6 414.4M483.1 549.3L504.1 547.2M565.1 437.4L564.8 422.2M475.9 598.1L454.9 600.2M592.3 449.2L587.3 438M584.9 518.9L594.4 513.2M455 570.1L459.2 553.4M703.4 434L724.4 431.9M418.6 588.5L431.7 575.2M507.4 490.8L510.6 468.6M420.7 652.3L429.2 656.2M652.3 396.9L669.9 401.7M395.2 593.6L391 610.3M675.3 454.8L679.5 438.1M649.8 396.1L641.3 392.2M563.1 557.6L559.9 579.8M638.8 473.2L651.9 459.9M615.5 478.3L611.3 495M476.1 535.2L485.6 529.5M478.2 599.2L483.2 610.4M594.6 450.3L615.6 448.2M505.4 611L505.7 626.2"/>
<g class="as" stroke-width="4.21"><path id="l52" d="M451.8 654.7h0M589.1 498.9h0M563.3 555.7h0M700.6 399.9h0M454.6 572h0M674.8 456.7h0M566.1 473h0M677.6 374h0"/></g><use href="#l52" class="ash" stroke-width="1.58"/>
<g class="fe" stroke-width="4.21"><path id="l53" d="M653.1 458.7h0M544.4 475h0M499.3 595.9h0M655.9 376h0M390.6 612.2h0M610.8 496.9h0M502.1 513.2h0M457 634.2h0M613.5 414.2h0"/></g><use href="#l53" class="feh" stroke-width="1.58"/>
<circle class="ba" cx="511.2" cy="464" r="5.17"/>
<circle class="ba" cx="622.7" cy="365" r="5.17"/>
<circle class="bj" cx="532.5" cy="606.9" r="5.17"/>
<circle class="bi" cx="423.8" cy="623.2" r="5.17"/>
<circle class="bj" cx="644" cy="507.9" r="5.17"/>
<circle class="bi" cx="535.2" cy="524.2" r="5.17"/>
<path class="bd" d="M587.4 499.1L566.4 501.2M476.6 632.4L458.9 634M696.4 419.9L705.9 414.2M566.5 471.1L570.7 454.4M431 656.1L440.5 650.5M454.3 573.9L451.2 596.1M530.1 489.5L543.2 476.2M618.9 391.8L622.1 369.6M532.2 553.3L540.7 557.2M506.7 494.6L502.5 511.3M529.7 552.5L512.1 547.7M674.6 458.6L671.4 480.8M478.6 515.4L457.6 517.5M485 610.4L498.1 597.2M587.6 436.2L597.1 430.5M589.7 500.2L594.7 511.4M453.3 655.1L470.9 659.9M423.4 569.6L431.9 573.5M616.9 512L617.2 527.2M698.9 400.1L677.9 402.2M588.1 533.4L570.4 535M450.9 654.3L442.4 650.4M421 568.8L403.4 564M542.5 557.1L552 551.5M565.8 474.9L562.7 497.1M641.6 390.5L654.7 377.2M643.7 454.3L652.2 458.2M506.4 575.2L524.1 573.6M477.6 596.6L477.4 581.4M618.2 395.6L614 412.3M480.9 516.5L485.9 527.7M641.2 453.5L623.6 448.7M504.9 608.4L499.9 597.2M508.2 528.3L508.4 543.5M590.1 416.4L569.1 418.5M596.5 511.4L609.6 498.2M479.4 549.7L461.7 551.3M701.2 401.2L706.2 412.4M420 650L423.1 627.8M433.8 573.4L443.3 567.8M564.8 556.1L582.4 560.9M534.9 470.6L543.4 474.5M397.7 591.5L415.4 589.9M699.6 434.4L681.9 436M562.4 555.3L553.9 551.4M532.5 469.8L514.9 465M654 458.1L663.5 452.5M677.3 375.9L674.2 398.1M396.1 624.7L391.1 613.5M617.9 476.2L635.6 474.6M487.7 527.7L500.8 514.5M507.2 609.5L528.2 607.4M589.1 497.6L588.9 482.4M592.4 417.5L597.4 428.7M456.1 572.4L473.7 577.2M616.4 509.4L611.4 498.2M479.1 630.3L483.3 613.6M619.7 429.3L619.9 444.5M590.9 450.7L573.2 452.3M453.6 571.6L445.1 567.7M442.6 648.7L455.7 635.4M531.5 551L534.6 528.8M545.3 474.4L554.8 468.8M676.3 457.1L693.9 461.9M646.4 371.6L654.9 375.5M509.2 492.5L526.9 490.9M398.4 625.8L419.4 623.7M480.4 513.9L480.1 498.7M673.9 456.3L665.4 452.4M644 370.8L626.4 366M507.6 525.7L502.6 514.5M500.2 595.4L509.7 589.7M599.2 428.7L612.3 415.5M618.7 510.5L639.7 508.4M422.7 567.3L425.9 545.1M567.6 473.4L585.2 478.2M590.6 531.3L594.8 514.6M565.1 472.6L556.6 468.7M478.4 634.1L475.2 656.3M554.1 549.7L567.2 536.4M643 452L646.1 429.8M656.8 375.4L666.3 369.8M530.8 554.8L526.6 571.5M391.4 611.7L400.9 606M620.7 393.5L638.4 391.9M509.9 526.8L530.9 524.7M591.9 414.9L591.6 399.7M502.7 575.6L481.7 577.7M619.1 426.7L614.1 415.5M611.7 496.4L621.2 490.7M481.8 547.6L486 530.9"/>
<g class="as" stroke-width="4.22"><path id="l55" d="M504.4 575.4h0M478.6 632.2h0M615.9 476.4h0M590.1 533.2h0M481.4 549.5h0M701.6 434.2h0M592.9 450.5h0"/></g><use href="#l55" class="ash" stroke-width="1.58"/>
<g class="fe" stroke-width="4.22"><path id="l56" d="M568.5 535.2h0M459.7 551.5h0M679.9 436.2h0M571.2 452.5h0M526.1 573.4h0M417.4 589.7h0M637.6 474.4h0M528.9 490.7h0"/></g><use href="#l56" class="feh" stroke-width="1.58"/>
<circle class="ba" cx="426.5" cy="540.5" r="5.17"/>
<circle class="bi" cx="646.8" cy="425.2" r="5.17"/>
<circle class="ba" cx="538" cy="441.5" r="5.17"/>
<circle class="bj" cx="447.8" cy="683.4" r="5.18"/>
<circle class="ba" cx="649.5" cy="342.5" r="5.18"/>
<circle class="bj" cx="559.3" cy="584.4" r="5.18"/>
<circle class="bi" cx="450.6" cy="600.7" r="5.18"/>
<circle class="bj" cx="670.8" cy="485.4" r="5.18"/>
<path class="bd" d="M445.4 566L458.5 552.7M534.2 468.3L537.4 446.1M447.5 629.8L456 633.7M422 571.1L417.8 587.8M702.1 432.3L706.3 415.6M445 629L427.4 624.2M676.6 373.6L668.1 369.7M589.9 535.1L586.7 557.3M665.6 450.7L678.7 437.4M393.9 591.9L372.9 594M642.3 455.8L638.1 472.5M502.9 512.7L512.4 507M505 576.7L510 587.9M621.4 427.8L642.4 425.7M532.2 588.5L532.5 603.7M614.2 476.6L593.2 478.7M503.4 609.9L485.7 611.5M593.3 448.6L597.5 431.9M457.8 633.6L467.3 628M481.1 551.4L478 573.6M556.9 467L570 453.7M645.7 369.3L648.9 347.1M559 530.8L567.5 534.7M421.7 651.7L439.4 650.1M533.5 472.1L529.3 488.8M396.2 593L401.2 604.2M556.5 530L538.9 525.2M701.4 436.1L698.2 458.3M423.5 604.8L423.7 620M505.4 492.9L484.4 495M511.8 587.9L524.9 574.7M614.4 413.7L623.9 408M616.5 477.7L621.5 488.9M480.1 632.6L497.7 637.4M450.2 547.1L458.7 551M643.7 489.5L644 504.7M614.9 510.9L597.2 512.5M477.7 631.8L469.2 627.9M447.8 546.3L430.2 541.5M569.3 534.6L578.8 529M592.6 452.4L589.5 474.6M670.5 431.8L679 435.7M533.2 552.7L550.9 551.1M403 604.2L416.1 591M504.4 574.1L504.2 558.9M645 373.1L640.8 389.8M507.7 494L512.7 505.2M668 431L650.4 426.2M531.7 585.9L526.7 574.7M535 505.8L535.2 521M616.9 393.9L595.9 396M623.3 488.9L636.4 475.7M506.2 527.2L488.5 528.8M446.8 627.5L449.9 605.3M460.6 550.9L470.1 545.3M591.6 533.6L609.2 538.4M561.7 448.1L570.2 452M424.5 569L442.2 567.4M395.7 590.4L395.4 575.2M589.2 532.8L580.7 528.9M559.3 447.3L541.7 442.5M680.8 435.6L690.3 430M422.9 602.2L417.9 591M644.7 453.7L662.4 452.1M514.5 505.2L527.6 492M534 587L555 584.9M615.9 475.1L615.7 459.9M619.2 395L624.2 406.2M482.9 549.9L500.5 554.7M643.2 486.9L638.2 475.7M505.9 607.8L510.1 591.1M646.5 406.8L646.7 422M617.7 428.2L600 429.8M480.4 549.1L471.9 545.2M469.4 626.2L482.5 612.9M558.3 528.5L561.4 506.3M572.1 451.9L581.6 446.3M703.1 434.6L720.7 439.4M446.1 631.3L441.9 648M536 470L553.7 468.4M425.2 603.3L446.2 601.2M507.2 491.4L506.9 476.2M700.7 433.8L692.2 429.9M534.4 503.2L529.4 492M527 572.9L536.5 567.2M397.1 624.1L401.3 607.4M626 406.2L639.1 393M645.5 488L666.5 485.9"/>
<g class="as" stroke-width="4.22"><path id="l58" d="M419.7 651.9h0M531.2 552.9h0M505.4 609.7h0M642.7 453.9h0M396.7 626h0M616.9 510.7h0M508.2 527h0M645.5 371.2h0"/></g><use href="#l58" class="ash" stroke-width="1.58"/>
<g class="fe" stroke-width="4.22"><path id="l59" d="M483.8 611.7h0M640.3 391.7h0M595.2 512.7h0M486.5 529h0M706.7 413.7h0M441.4 649.9h0M598 430h0M552.9 550.9h0M444.2 567.2h0M664.4 451.9h0"/></g><use href="#l59" class="feh" stroke-width="1.58"/>
<circle class="bi" cx="562.1" cy="501.7" r="5.18"/>
<circle class="ba" cx="453.3" cy="518" r="5.18"/>
<circle class="ba" cx="673.5" cy="402.7" r="5.18"/>
<circle class="ba" cx="564.8" cy="419" r="5.18"/>
<circle class="bj" cx="474.6" cy="660.9" r="5.18"/>
<circle class="bj" cx="586.1" cy="561.9" r="5.18"/>
<path class="bd" d="M449.5 544.8L452.7 522.6M594.4 450.9L612 455.7M617.4 508.8L621.6 492.1M591.9 450.1L583.4 446.2M505.2 611.6L502 633.8M580.9 527.2L594 513.9M669.8 429.5L672.9 407.3M557.6 532.3L553.4 549M418.2 589.2L427.7 583.5M420.3 653.2L425.3 664.4M647.5 371L665.2 369.4M536.7 504.3L557.7 502.2M618.7 392.4L618.4 377.2M447.5 665L447.8 680.2M529.5 553.1L508.5 555.2M645.9 404.2L640.9 393M638.5 473.9L648 468.2M508.6 525.1L512.8 508.4M472.2 543.5L485.3 530.2M561 445.8L564.2 423.6M474.3 607.3L482.8 611.2M448.8 548.6L444.6 565.3M471.8 606.5L454.2 601.7M616.7 512.6L613.5 534.8M692.4 428.2L705.5 414.9M420.7 569.4L399.7 571.5M427.1 664.4L440.2 651.2M669.1 433.3L664.9 450M529.7 490.2L539.2 484.5M531.8 554.2L536.8 565.4M648.2 405.3L669.2 403.2M559 566L559.3 581.2M641 454.1L620 456.2M530.2 587.4L512.5 589M620.1 426.1L624.3 409.4M484.6 611.1L494.1 605.5M507.9 528.9L504.8 551.1M583.7 444.5L596.8 431.2M585.8 508.3L594.3 512.2M448.5 629.2L466.2 627.6M419.7 650.6L419.5 635.4M560.3 449.6L556.1 466.3M423 570.5L428 581.7M583.3 507.5L565.7 502.7M447 662.4L442 651.2M450.3 582.3L450.5 597.5M532.2 470.4L511.2 472.5M538.6 565.4L551.7 552.2M421.5 603.7L403.8 605.3M641.2 391.2L650.7 385.5M643.3 455.2L648.3 466.4M506.9 610.1L524.5 614.9M477 524.6L485.5 528.5M670.5 467L670.8 482.2M641.7 488.4L624 490M504.5 609.3L496 605.4M474.6 523.8L457 519M596.1 512.1L605.6 506.5M619.4 429.9L616.3 452.1M697.3 409.3L705.8 413.2M560 530.2L577.7 528.6M429.8 581.7L442.9 568.5M449.3 663.5L470.3 661.4M531.2 551.6L531 536.4M534.5 471.5L539.5 482.7M694.8 408.5L677.2 403.7M398.2 626.4L415.8 631.2M558.5 563.4L553.5 552.2M561.8 483.3L562 498.5M643.7 371.4L622.7 373.5M650.1 466.4L663.2 453.2M533 504.7L515.3 506.3M395.7 625.6L387.2 621.7M473.6 605L476.7 582.8M487.4 528.4L496.9 522.8M618.4 511.1L636 515.9M588.5 425.6L597 429.5M451.3 546.5L469 544.9M422.5 567.9L422.2 552.7M616 510.3L607.5 506.4M586.1 424.8L568.5 420M449.7 579.7L444.7 568.5M442.3 649.4L451.8 643.7M671.5 431.2L689.2 429.6M541.3 482.7L554.4 469.5M560.8 564.5L581.8 562.4M642.7 452.6L642.5 437.4M646 372.5L651 383.7"/>
<g class="as" stroke-width="4.23"><path id="l61" d="M619.7 428h0M446.5 629.4h0M558 530.4h0M532.2 587.2h0M669.5 431.4h0M423.5 603.5h0M643.7 488.2h0"/></g><use href="#l61" class="ash" stroke-width="1.58"/>
<g class="fe" stroke-width="4.23"><path id="l62" d="M555.6 468.2h0M510.6 589.2h0M667.1 369.2h0M401.8 605.5h0M622 490.2h0M513.3 506.5h0M468.2 627.4h0M624.8 407.5h0M579.7 528.4h0"/></g><use href="#l62" class="feh" stroke-width="1.58"/>
<circle class="bi" cx="477.4" cy="578.2" r="5.18"/>
<circle class="bj" cx="697.6" cy="462.9" r="5.18"/>
<circle class="ba" cx="368.6" cy="594.5" r="5.19"/>
<circle class="bi" cx="588.9" cy="479.2" r="5.19"/>
<circle class="ba" cx="480.1" cy="495.5" r="5.19"/>
<circle class="ba" cx="591.6" cy="396.5" r="5.19"/>
<circle class="bj" cx="501.4" cy="638.4" r="5.19"/>
<path class="bd" d="M509.7 527.4L527.3 532.2M670 464.4L665 453.2M532.7 585.3L536.9 568.6M673.3 384.3L673.5 399.5M644.5 405.7L626.8 407.3M507.2 526.6L498.7 522.7M496.2 603.7L509.3 590.4M585.1 506L588.2 483.8M598.9 429.4L608.4 423.8M472.9 608.8L468.7 625.5M562.8 447.5L580.5 445.9M452 580.8L473 578.7M534 468.9L533.7 453.7M444.8 629.6L423.8 631.7M561.2 480.7L556.2 469.5M553.8 550.4L563.3 544.7M423.9 601.6L428.1 584.9M652.8 383.7L665.9 370.5M672.3 465.5L693.3 463.4M387.5 620L400.6 606.7M476.3 522.3L479.5 500.1M621.2 428.4L638.8 433.2M644.2 486.3L648.4 469.6M618.7 427.6L610.2 423.7M532 589.1L528.8 611.3M607.7 504.7L620.8 491.4M584.4 509.8L580.2 526.5M445 566.7L454.5 561M447.1 630.7L452.1 641.9M563.5 481.8L584.5 479.7M645.5 369.9L645.2 354.7M474.3 642.5L474.6 657.7M556.3 530.6L535.3 532.7M445.5 663.9L427.8 665.5M672.7 381.7L667.7 370.5M665.3 451.4L674.8 445.7M535.4 502.6L539.6 485.9M423.2 605.4L420.1 627.6M499 521L512.1 507.7M587.8 423.3L591 401.1M501.1 584.8L509.6 588.7M475.6 526.1L471.4 542.8M498.6 584L481 579.2M643.5 490.1L640.3 512.3M447.5 546.9L426.5 549M453.9 641.9L467 628.7M695.9 410.8L691.7 427.5M556.5 467.7L566 462M558.6 531.7L563.6 542.9M392.3 601.1L400.8 605M585.8 543.5L586.1 558.7M667.8 431.6L646.8 433.7M557 564.9L539.3 566.5M646.9 403.6L651.1 386.9M389.9 600.3L372.3 595.5M511.4 588.6L520.9 583M534.7 506.4L531.6 528.6M610.5 422L623.6 408.7M612.6 485.8L621.1 489.7M475.3 606.7L493 605.1M446.5 628.1L446.3 612.9M587.1 427.1L582.9 443.8M449.8 548L454.8 559.2M610.1 485L592.5 480.2M473.8 639.9L468.8 628.7M477.1 559.8L477.3 575M559 447.9L538 450M565.4 542.9L578.5 529.7M448.3 581.2L430.6 582.8M670.1 432.7L675.1 443.9M402.7 604.9L412.2 599.3M533.7 587.6L551.3 592.4M503.8 502.1L512.3 506M697.3 444.5L697.6 459.7M668.5 465.9L650.8 467.5M531.3 586.8L522.8 582.9M501.4 501.3L483.8 496.5M622.9 489.6L632.4 484M646.2 407.4L643.1 429.6M586.8 507.7L604.5 506.1M456.6 559.2L469.7 546M476.1 641L497.1 638.9M558 529.1L557.8 513.9M561.3 449L566.3 460.2M425 603.9L442.6 608.7"/>
<g class="as" stroke-width="4.23"><path id="l64" d="M535 504.5h0M646.5 405.5h0M473.3 606.9h0M447.5 663.7h0M584.8 507.9h0M559 564.7h0M696.3 408.9h0"/></g><use href="#l64" class="ash" stroke-width="1.59"/>
<g class="fe" stroke-width="4.23"><path id="l65" d="M471 544.7h0M691.2 429.4h0M425.9 665.7h0M582.4 445.7h0M537.4 566.7h0M428.6 583h0M648.9 467.7h0M540.1 484h0M495 604.9h0"/></g><use href="#l65" class="feh" stroke-width="1.59"/>
<circle class="bj" cx="612.9" cy="539.4" r="5.19"/>
<circle class="bi" cx="504.2" cy="555.7" r="5.19"/>
<circle class="ba" cx="724.4" cy="440.4" r="5.19"/>
<circle class="ba" cx="395.4" cy="572" r="5.19"/>
<circle class="bi" cx="615.6" cy="456.7" r="5.19"/>
<circle class="ba" cx="506.9" cy="473" r="5.19"/>
<circle class="ba" cx="618.4" cy="374" r="5.19"/>
<path class="bd" d="M585.3 540.9L580.3 529.7M448 661.8L452.2 645.1M588.6 460.8L588.8 476M676.9 443.9L690 430.7M559.8 482.2L542.1 483.8M422.5 603.1L414 599.2M500.4 582.5L503.5 560.3M514.2 505.9L523.7 500.3M645.2 488.6L662.8 493.4M615.3 403.1L623.8 407M478.1 524L495.8 522.4M449.3 545.4L449 530.2M642.8 487.8L634.3 483.9M612.9 402.3L595.3 397.5M476.5 557.2L471.5 546M469.1 626.9L478.6 621.2M568.1 460.2L581.2 447M587.6 542L608.6 539.9M669.5 430.1L669.3 414.9M391.6 598.8L394.8 576.6M536.5 504.9L554.1 509.7M696.8 441.9L691.8 430.7M559.5 562.8L563.7 546.1M671.3 383.2L653.6 384.8M534 504.1L525.5 500.2M447.3 665.6L444.1 687.8M523 581.2L536.1 567.9M611.9 483.5L615 461.3M625.7 406.9L635.2 401.3M499.7 586.3L495.5 603M589.6 425L607.3 423.4M478.8 558.3L499.8 556.2M560.8 446.4L560.5 431.2M471.6 607.1L450.6 609.2M588 458.2L583 447M580.6 527.9L590.1 522.2M450.7 579.1L454.9 562.4M699.1 443L720.1 440.9M414.3 597.5L427.4 584.2M503.1 499.8L506.3 477.6M416.4 661.3L424.9 665.2M648 405.9L665.6 410.7M390.9 602.6L386.7 619.3M671 463.8L675.2 447.1M645.5 405.1L637 401.2M558.8 566.6L555.6 588.8M634.5 482.2L647.6 468.9M611.2 487.3L607 504M471.8 544.2L481.3 538.5M473.9 608.2L478.9 619.4M590.3 459.3L611.3 457.2M501.1 620L501.4 635.2M583.1 508.1L562.1 510.2M472.3 641.4L454.6 643M692.1 428.9L701.6 423.2M562.2 480.1L566.4 463.4M426.7 665.1L436.2 659.5M450 582.9L446.9 605.1M525.8 498.5L538.9 485.2M614.6 400.8L617.8 378.6M527.9 562.3L536.4 566.2M502.4 503.6L498.2 520.3M525.4 561.5L507.8 556.7M670.3 467.6L667.1 489.8M474.3 524.4L453.3 526.5M480.7 619.4L493.8 606.2M583.3 445.2L592.8 439.5M585.4 509.2L590.4 520.4M449 664.1L466.6 668.9M419.1 578.6L427.6 582.5M612.6 521L612.9 536.2M694.6 409.1L673.6 411.2M583.8 542.4L566.1 544M446.6 663.3L438.1 659.4M416.7 577.8L399.1 573M538.2 566.1L547.7 560.5M561.5 483.9L558.4 506.1M637.3 399.5L650.4 386.2M639.4 463.3L647.9 467.2M502.1 584.2L519.8 582.6M473.3 605.6L473.1 590.4M613.9 404.6L609.7 421.3M476.6 525.5L481.6 536.7M636.9 462.5L619.3 457.7M500.6 617.4L495.6 606.2M503.9 537.3L504.1 552.5"/>
<g class="as" stroke-width="4.23"><path id="l67" d="M450.3 581h0M670.5 465.7h0M561.8 482h0M673.3 383h0M500.1 584.4h0M474.3 641.2h0M611.6 485.4h0"/></g><use href="#l67" class="ash" stroke-width="1.59"/>
<g class="fe" stroke-width="4.23"><path id="l68" d="M651.6 385h0M386.2 621.2h0M606.5 505.9h0M497.8 522.2h0M452.6 643.2h0M609.2 423.2h0M564.1 544.2h0M455.4 560.5h0M675.6 445.2h0"/></g><use href="#l68" class="feh" stroke-width="1.59"/>
<circle class="bj" cx="528.2" cy="615.9" r="5.20"/>
<circle class="bi" cx="419.4" cy="632.2" r="5.20"/>
<circle class="bj" cx="639.7" cy="516.9" r="5.20"/>
<circle class="bi" cx="531" cy="533.2" r="5.20"/>
<circle class="ba" cx="422.2" cy="549.5" r="5.20"/>
<circle class="bi" cx="642.5" cy="434.2" r="5.20"/>
<circle class="ba" cx="533.7" cy="450.5" r="5.20"/>
<path class="bd" d="M585.8 425.4L564.8 427.5M592.2 520.4L605.3 507.2M475.1 558.7L457.4 560.3M696.9 410.2L701.9 421.4M415.7 659L418.8 636.8M429.5 582.4L439 576.8M560.5 565.1L578.1 569.9M530.6 479.6L539.1 483.5M393.4 600.5L411.1 598.9M695.3 443.4L677.6 445M558.1 564.3L549.6 560.4M528.2 478.8L510.6 474M649.7 467.1L659.2 461.5M673 384.9L669.9 407.1M391.8 633.7L386.8 622.5M613.6 485.2L631.3 483.6M483.4 536.7L496.5 523.5M502.9 618.5L523.9 616.4M584.8 506.6L584.6 491.4M588.1 426.5L593.1 437.7M451.8 581.4L469.4 586.2M612.1 518.4L607.1 507.2M474.8 639.3L479 622.6M615.4 438.3L615.6 453.5M586.6 459.7L568.9 461.3M449.3 580.6L440.8 576.7M438.3 657.7L451.4 644.4M527.2 560L530.3 537.8M541 483.4L550.5 477.8M672 466.1L689.6 470.9M642.1 380.6L650.6 384.5M504.9 501.5L522.6 499.9M394.1 634.8L415.1 632.7M476.1 522.9L475.8 507.7M669.6 465.3L661.1 461.4M639.7 379.8L622.1 375M503.3 534.7L498.3 523.5M495.9 604.4L505.4 598.7M594.9 437.7L608 424.5M614.4 519.5L635.4 517.4M418.4 576.3L421.6 554.1M563.3 482.4L580.9 487.2M586.3 540.3L590.5 523.6M560.8 481.6L552.3 477.7M474.1 643.1L470.9 665.3M549.8 558.7L562.9 545.4M638.7 461L641.8 438.8M652.5 384.4L662 378.8M526.5 563.8L522.3 580.5M387.1 620.7L396.6 615M616.4 402.5L634.1 400.9M505.6 535.8L526.6 533.7M587.6 423.9L587.3 408.7M498.4 584.6L477.4 586.7M614.8 435.7L609.8 424.5M607.4 505.4L616.9 499.7M477.5 556.6L481.7 539.9M441.1 575L454.2 561.7M529.9 477.3L533.1 455.1M443.2 638.8L451.7 642.7M417.7 580.1L413.5 596.8M697.8 441.3L702 424.6M440.7 638L423.1 633.2M672.3 382.6L663.8 378.7M585.6 544.1L582.4 566.3M661.3 459.7L674.4 446.4M389.6 600.9L368.6 603M638 464.8L633.8 481.5M498.6 521.7L508.1 516M500.7 585.7L505.7 596.9M617.1 436.8L638.1 434.7M527.9 597.5L528.2 612.7M609.9 485.6L588.9 487.7M499.1 618.9L481.4 620.5M589 457.6L593.2 440.9M453.5 642.6L463 637M476.8 560.4L473.7 582.6M552.6 476L565.7 462.7M641.4 378.3L644.6 356.1M554.7 539.8L563.2 543.7M417.4 660.7L435.1 659.1M529.2 481.1L525 497.8M391.9 602L396.9 613.2M552.2 539L534.6 534.2M697.1 445.1L693.9 467.3M419.2 613.8L419.4 629M501.1 501.9L480.1 504M507.5 596.9L520.6 583.7M610.1 422.7L619.6 417"/>
<g class="as" stroke-width="4.24"><path id="l70" d="M585.8 542.2h0M477.1 558.5h0M697.3 443.2h0M588.6 459.5h0M415.4 660.9h0M526.9 561.9h0"/></g><use href="#l70" class="ash" stroke-width="1.59"/>
<g class="fe" stroke-width="4.24"><path id="l71" d="M566.9 461.5h0M521.8 582.4h0M413.1 598.7h0M633.3 483.4h0M524.5 499.7h0M479.5 620.7h0M636 400.7h0M591 521.7h0"/></g><use href="#l71" class="feh" stroke-width="1.59"/>
<circle class="bj" cx="443.5" cy="692.4" r="5.20"/>
<circle class="ba" cx="645.2" cy="351.5" r="5.20"/>
<circle class="bj" cx="555" cy="593.4" r="5.20"/>
<circle class="bi" cx="446.2" cy="609.7" r="5.20"/>
<circle class="bj" cx="666.5" cy="494.4" r="5.20"/>
<circle class="bi" cx="557.8" cy="510.7" r="5.20"/>
<circle class="ba" cx="449" cy="527" r="5.20"/>
<circle class="ba" cx="669.2" cy="411.7" r="5.21"/>
<path class="bd" d="M612.2 486.7L617.2 497.9M475.8 641.6L493.4 646.4M445.9 556.1L454.4 560M639.4 498.5L639.7 513.7M610.6 519.9L592.9 521.5M473.4 640.8L464.9 636.9M443.5 555.3L425.9 550.5M565 543.6L574.5 538M588.3 461.4L585.2 483.6M666.2 440.8L674.7 444.7M528.9 561.7L546.6 560.1M398.7 613.2L411.8 600M500.1 583.1L499.9 567.9M640.7 382.1L636.5 398.8M503.4 503L508.4 514.2M663.7 440L646.1 435.2M527.4 594.9L522.4 583.7M530.7 514.8L530.9 530M612.6 402.9L591.6 405M619 497.9L632.1 484.7M501.9 536.2L484.2 537.8M442.5 636.5L445.6 614.3M456.3 559.9L465.8 554.3M587.3 542.6L604.9 547.4M557.4 457.1L565.9 461M420.2 578L437.9 576.4M391.4 599.4L391.1 584.2M584.9 541.8L576.4 537.9M555 456.3L537.4 451.5M676.5 444.6L686 439M418.6 611.2L413.6 600M640.4 462.7L658.1 461.1M510.2 514.2L523.3 501M529.7 596L550.7 593.9M611.6 484.1L611.4 468.9M614.9 404L619.9 415.2M478.6 558.9L496.2 563.7M638.9 495.9L633.9 484.7M501.6 616.8L505.8 600.1M642.2 415.8L642.4 431M613.4 437.2L595.7 438.8M476.1 558.1L467.6 554.2M465.1 635.2L478.2 621.9M554 537.5L557.1 515.3M567.8 460.9L577.3 455.3M698.8 443.6L716.4 448.4M441.8 640.3L437.6 657M531.7 479L549.4 477.4M420.9 612.3L441.9 610.2M502.9 500.4L502.6 485.2M696.4 442.8L687.9 438.9M530.1 512.2L525.1 501M522.7 581.9L532.2 576.2M392.8 633.1L397 616.4M621.7 415.2L634.8 402M641.2 497L662.2 494.9M445.2 553.8L448.4 531.6M590.1 459.9L607.7 464.7M613.1 517.8L617.3 501.1M587.6 459.1L579.1 455.2M500.9 620.6L497.7 642.8M576.6 536.2L589.7 522.9M665.5 438.5L668.6 416.3M553.3 541.3L549.1 558M413.9 598.2L423.4 592.5M416 662.2L421 673.4M643.2 380L660.9 378.4M532.4 513.3L553.4 511.2M614.4 401.4L614.1 386.2M443.2 674L443.5 689.2M525.2 562.1L504.2 564.2M641.6 413.2L636.6 402M634.2 482.9L643.7 477.2M504.3 534.1L508.5 517.4M467.9 552.5L481 539.2M556.7 454.8L559.9 432.6M470 616.3L478.5 620.2M444.5 557.6L440.3 574.3M467.5 615.5L449.9 610.7M612.4 521.6L609.2 543.8M688.1 437.2L701.2 423.9M416.4 578.4L395.4 580.5M422.8 673.4L435.9 660.2M664.8 442.3L660.6 459M525.4 499.2L534.9 493.5M527.5 563.2L532.5 574.4M643.9 414.3L664.9 412.2"/>
<g class="as" stroke-width="4.24"><path id="l73" d="M501.1 618.7h0M638.4 462.9h0M392.4 635h0M612.6 519.7h0M503.9 536h0M641.2 380.2h0M615.4 437h0M442.2 638.4h0"/></g><use href="#l73" class="ash" stroke-width="1.59"/>
<g class="fe" stroke-width="4.24"><path id="l74" d="M482.2 538h0M702.4 422.7h0M437.1 658.9h0M593.7 439h0M548.6 559.9h0M439.9 576.2h0M660.1 460.9h0M551.4 477.2h0M506.2 598.2h0M662.8 378.2h0M397.5 614.5h0"/></g><use href="#l74" class="feh" stroke-width="1.59"/>
<circle class="ba" cx="560.5" cy="428" r="5.21"/>
<circle class="bj" cx="470.3" cy="669.9" r="5.21"/>
<circle class="bj" cx="581.8" cy="570.9" r="5.21"/>
<circle class="bi" cx="473.1" cy="587.2" r="5.21"/>
<circle class="bj" cx="693.3" cy="471.9" r="5.21"/>
<circle class="ba" cx="364.3" cy="603.5" r="5.21"/>
<circle class="bi" cx="584.6" cy="488.2" r="5.21"/>
<path class="bd" d="M554.7 575L555 590.2M636.7 463.1L615.7 465.2M525.9 596.4L508.2 598M615.8 435.1L620 418.4M480.3 620.1L489.8 614.5M503.6 537.9L500.5 560.1M579.4 453.5L592.5 440.2M581.5 517.3L590 521.2M444.2 638.2L461.9 636.6M415.4 659.6L415.2 644.4M556 458.6L551.8 475.3M418.7 579.5L423.7 590.7M579 516.5L561.4 511.7M442.7 671.4L437.7 660.2M446 591.3L446.2 606.5M527.9 479.4L506.9 481.5M534.3 574.4L547.4 561.2M417.2 612.7L399.5 614.3M636.9 400.2L646.4 394.5M639 464.2L644 475.4M502.6 619.1L520.2 623.9M472.7 533.6L481.2 537.5M666.2 476L666.5 491.2M637.4 497.4L619.7 499M500.2 618.3L491.7 614.4M470.3 532.8L452.7 528M591.8 521.1L601.3 515.5M615.1 438.9L612 461.1M693 418.3L701.5 422.2M555.7 539.2L573.4 537.6M425.5 590.7L438.6 577.5M445 672.5L466 670.4M526.9 560.6L526.7 545.4M530.2 480.5L535.2 491.7M690.5 417.5L672.9 412.7M393.9 635.4L411.5 640.2M554.2 572.4L549.2 561.2M557.5 492.3L557.7 507.5M639.4 380.4L618.4 382.5M645.8 475.4L658.9 462.2M528.7 513.7L511 515.3M391.4 634.6L382.9 630.7M469.3 614L472.4 591.8M483.1 537.4L492.6 531.8M614.1 520.1L631.7 524.9M584.2 434.6L592.7 438.5M447 555.5L464.7 553.9M418.2 576.9L417.9 561.7M611.7 519.3L603.2 515.4M581.8 433.8L564.2 429M445.4 588.7L440.4 577.5M438 658.4L447.5 652.7M667.2 440.2L684.9 438.6M537 491.7L550.1 478.5M556.5 573.5L577.5 571.4M638.4 461.6L638.2 446.4M641.7 381.5L646.7 392.7M505.4 536.4L523 541.2M665.7 473.4L660.7 462.2M528.4 594.3L532.6 577.6M669 393.3L669.2 408.5M640.2 414.7L622.5 416.3M502.9 535.6L494.4 531.7M491.9 612.7L505 599.4M580.8 515L583.9 492.8M594.6 438.4L604.1 432.8M468.6 617.8L464.4 634.5M558.5 456.5L576.2 454.9M447.7 589.8L468.7 587.7M529.7 477.9L529.4 462.7M440.5 638.6L419.5 640.7M556.9 489.7L551.9 478.5M549.5 559.4L559 553.7M419.6 610.6L423.8 593.9M648.5 392.7L661.6 379.5M668 474.5L689 472.4M383.2 629L396.3 615.7M472 531.3L475.2 509.1M616.9 437.4L634.5 442.2M639.9 495.3L644.1 478.6M614.4 436.6L605.9 432.7M527.7 598.1L524.5 620.3M603.4 513.7L616.5 500.4M580.1 518.8L575.9 535.5M440.7 575.7L450.2 570M442.8 639.7L447.8 650.9M559.2 490.8L580.2 488.7M641.2 378.9L640.9 363.7"/>
<g class="as" stroke-width="4.25"><path id="l76" d="M553.7 539.4h0M527.9 596.2h0M665.2 440.4h0M419.2 612.5h0M639.4 497.2h0M530.7 513.5h0M642.2 414.5h0"/></g><use href="#l76" class="ash" stroke-width="1.59"/>
<g class="fe" stroke-width="4.25"><path id="l77" d="M617.8 499.2h0M509 515.5h0M463.9 636.4h0M620.5 416.5h0M575.4 537.4h0M466.7 553.7h0M686.9 438.4h0M421.6 674.7h0M578.1 454.7h0"/></g><use href="#l77" class="feh" stroke-width="1.59"/>
<circle class="ba" cx="475.8" cy="504.5" r="5.21"/>
<circle class="ba" cx="587.3" cy="405.5" r="5.21"/>
<circle class="bj" cx="497.1" cy="647.4" r="5.21"/>
<circle class="bj" cx="608.6" cy="548.4" r="5.21"/>
<circle class="bi" cx="499.9" cy="564.7" r="5.22"/>
<circle class="ba" cx="720.1" cy="449.4" r="5.22"/>
<path class="bd" d="M470 651.5L470.3 666.7M552 539.6L531 541.7M441.2 672.9L423.5 674.5M668.4 390.7L663.4 379.5M661 460.4L670.5 454.7M531.1 511.6L535.3 494.9M418.9 614.4L415.8 636.6M494.7 530L507.8 516.7M583.5 432.3L586.7 410.1M496.8 593.8L505.3 597.7M471.3 535.1L467.1 551.8M494.3 593L476.7 588.2M639.2 499.1L636 521.3M443.2 555.9L422.2 558M449.6 650.9L462.7 637.7M691.6 419.8L687.4 436.5M552.2 476.7L561.7 471M554.3 540.7L559.3 551.9M388 610.1L396.5 614M581.5 552.5L581.8 567.7M663.5 440.6L642.5 442.7M552.7 573.9L535 575.5M642.6 412.6L646.8 395.9M385.6 609.3L368 604.5M507.1 597.6L516.6 592M530.4 515.4L527.3 537.6M606.2 431L619.3 417.7M608.3 494.8L616.8 498.7M471 615.7L488.7 614.1M442.2 637.1L442 621.9M582.8 436.1L578.6 452.8M445.5 557L450.5 568.2M605.8 494L588.2 489.2M469.5 648.9L464.5 637.7M472.8 568.8L473 584M554.7 456.9L533.7 459M561.1 551.9L574.2 538.7M444 590.2L426.3 591.8M665.8 441.7L670.8 452.9M398.4 613.9L407.9 608.3M529.4 596.6L547 601.4M499.5 511.1L508 515M693 453.5L693.3 468.7M664.2 474.9L646.5 476.5M527 595.8L518.5 591.9M497.1 510.3L479.5 505.5M618.6 498.6L628.1 493M641.9 416.4L638.8 438.6M582.5 516.7L600.2 515.1M452.3 568.2L465.4 555M471.8 650L492.8 647.9M553.7 538.1L553.5 522.9M557 458L562 469.2M420.7 612.9L438.3 617.7M581 549.9L576 538.7M443.7 670.8L447.9 654.1M584.3 469.8L584.5 485M672.6 452.9L685.7 439.7M555.5 491.2L537.8 492.8M418.2 612.1L409.7 608.2M496.1 591.5L499.2 569.3M509.9 514.9L519.4 509.3M640.9 497.6L658.5 502.4M611 412.1L619.5 416M473.8 533L491.5 531.4M445 554.4L444.7 539.2M638.5 496.8L630 492.9M608.6 411.3L591 406.5M472.2 566.2L467.2 555M464.8 635.9L474.3 630.2M563.8 469.2L576.9 456M583.3 551L604.3 548.9M665.2 439.1L665 423.9M387.3 607.8L390.5 585.6M532.2 513.9L549.8 518.7M692.5 450.9L687.5 439.7M555.2 571.8L559.4 555.1M667 392.2L649.3 393.8M529.7 513.1L521.2 509.2M443 674.6L439.8 696.8M518.7 590.2L531.8 576.9M607.6 492.5L610.7 470.3M621.4 415.9L630.9 410.3M495.4 595.3L491.2 612M585.3 434L603 432.4M474.5 567.3L495.5 565.2M556.5 455.4L556.2 440.2M467.3 616.1L446.3 618.2"/>
<g class="as" stroke-width="4.25"><path id="l79" d="M469 615.9h0M443.2 672.7h0M580.5 516.9h0M554.7 573.7h0M692 417.9h0M446 590h0M666.2 474.7h0M557.5 491h0"/></g><use href="#l79" class="ash" stroke-width="1.59"/>
<g class="fe" stroke-width="4.25"><path id="l80" d="M533 575.7h0M424.3 592h0M644.6 476.7h0M535.8 493h0M490.7 613.9h0M647.3 394h0M382 630.2h0M602.2 514.9h0M493.4 531.2h0"/></g><use href="#l80" class="feh" stroke-width="1.59"/>
<circle class="ba" cx="391.1" cy="581" r="5.22"/>
<circle class="bi" cx="611.4" cy="465.7" r="5.22"/>
<circle class="ba" cx="502.6" cy="482" r="5.22"/>
<circle class="ba" cx="614.1" cy="383" r="5.22"/>
<circle class="bj" cx="523.9" cy="624.9" r="5.22"/>
<circle class="bi" cx="415.2" cy="641.2" r="5.22"/>
<circle class="bj" cx="635.4" cy="525.9" r="5.22"/>
<path class="bd" d="M583.7 467.2L578.7 456M576.3 536.9L585.8 531.2M446.4 588.1L450.6 571.4M694.8 452L715.8 449.9M410 606.5L423.1 593.2M498.8 508.8L502 486.6M412.1 670.3L420.6 674.2M643.7 414.9L661.3 419.7M386.6 611.6L382.4 628.3M666.7 472.8L670.9 456.1M641.2 414.1L632.7 410.2M554.5 575.6L551.3 597.8M630.2 491.2L643.3 477.9M606.9 496.3L602.7 513M467.5 553.2L477 547.5M469.6 617.2L474.6 628.4M586 468.3L607 466.2M496.8 629L497.1 644.2M578.8 517.1L557.8 519.2M468 650.4L450.3 652M687.8 437.9L697.3 432.2M557.9 489.1L562.1 472.4M422.4 674.1L431.9 668.5M445.7 591.9L442.6 614.1M521.5 507.5L534.6 494.2M610.3 409.8L613.5 387.6M523.6 571.3L532.1 575.2M498.1 512.6L493.9 529.3M521.1 570.5L503.5 565.7M666 476.6L662.8 498.8M470 533.4L449 535.5M476.4 628.4L489.5 615.2M579 454.2L588.5 448.5M581.1 518.2L586.1 529.4M444.7 673.1L462.3 677.9M414.8 587.6L423.3 591.5M608.3 530L608.6 545.2M690.3 418.1L669.3 420.2M579.5 551.4L561.8 553M442.3 672.3L433.8 668.4M412.4 586.8L394.8 582M533.9 575.1L543.4 569.5M557.2 492.9L554.1 515.1M633 408.5L646.1 395.2M635.1 472.3L643.6 476.2M497.8 593.2L515.5 591.6M469 614.6L468.8 599.4M609.6 413.6L605.4 430.3M472.3 534.5L477.3 545.7M632.6 471.5L615 466.7M496.3 626.4L491.3 615.2M499.6 546.3L499.8 561.5M581.5 434.4L560.5 436.5M587.9 529.4L601 516.2M470.8 567.7L453.1 569.3M692.6 419.2L697.6 430.4M411.4 668L414.5 645.8M425.2 591.4L434.7 585.8M556.2 574.1L573.8 578.9M526.3 488.6L534.8 492.5M389.1 609.5L406.8 607.9M691 452.4L673.3 454M553.8 573.3L545.3 569.4M523.9 487.8L506.3 483M645.4 476.1L654.9 470.5M668.7 393.9L665.6 416.1M387.5 642.7L382.5 631.5M609.3 494.2L627 492.6M479.1 545.7L492.2 532.5M498.6 627.5L519.6 625.4M580.5 515.6L580.3 500.4M583.8 435.5L588.8 446.7M447.5 590.4L465.1 595.2M607.8 527.4L602.8 516.2M470.5 648.3L474.7 631.6M611.1 447.3L611.3 462.5M582.3 468.7L564.6 470.3M445 589.6L436.5 585.7M434 666.7L447.1 653.4M522.9 569L526 546.8M536.7 492.4L546.2 486.8M667.7 475.1L685.3 479.9M637.8 389.6L646.3 393.5M500.6 510.5L518.3 508.9M389.8 643.8L410.8 641.7M471.8 531.9L471.5 516.7M665.3 474.3L656.8 470.4M635.4 388.8L617.8 384M499 543.7L494 532.5M491.6 613.4L501.1 607.7"/>
<g class="as" stroke-width="4.26"><path id="l82" d="M669 392h0M495.8 593.4h0M470 650.2h0M607.3 494.4h0M581.5 551.2h0M472.8 567.5h0M693 452.2h0"/></g><use href="#l82" class="ash" stroke-width="1.60"/>
<g class="fe" stroke-width="4.26"><path id="l83" d="M448.4 652.2h0M605 432.2h0M559.9 553.2h0M451.1 569.5h0M671.4 454.2h0M562.6 470.5h0M517.5 591.4h0M408.8 607.7h0M629 492.4h0"/></g><use href="#l83" class="feh" stroke-width="1.60"/>
<circle class="bi" cx="526.6" cy="542.2" r="5.22"/>
<circle class="ba" cx="417.9" cy="558.5" r="5.22"/>
<circle class="bi" cx="638.2" cy="443.2" r="5.22"/>
<circle class="ba" cx="529.4" cy="459.5" r="5.22"/>
<circle class="bj" cx="439.2" cy="701.4" r="5.23"/>
<circle class="ba" cx="640.9" cy="360.5" r="5.23"/>
<circle class="bj" cx="550.7" cy="602.4" r="5.23"/>
<path class="bd" d="M590.6 446.7L603.7 433.5M610.1 528.5L631.1 526.4M414.1 585.3L417.3 563.1M559 491.4L576.6 496.2M582 549.3L586.2 532.6M556.5 490.6L548 486.7M469.8 652.1L466.6 674.3M545.5 567.7L558.6 554.4M634.4 470L637.5 447.8M648.2 393.4L657.7 387.8M522.2 572.8L518 589.5M382.8 629.7L392.3 624M612.1 411.5L629.8 409.9M501.3 544.8L522.3 542.7M583.3 432.9L583 417.7M494.1 593.6L473.1 595.7M610.5 444.7L605.5 433.5M603.1 514.4L612.6 508.7M473.2 565.6L477.4 548.9M436.8 584L449.9 570.7M525.6 486.3L528.8 464.1M438.9 647.8L447.4 651.7M413.4 589.1L409.2 605.8M693.5 450.3L697.7 433.6M436.4 647L418.8 642.2M668 391.6L659.5 387.7M581.3 553.1L578.1 575.3M657 468.7L670.1 455.4M385.3 609.9L364.3 612M633.7 473.8L629.5 490.5M494.3 530.7L503.8 525M496.4 594.7L501.4 605.9M612.8 445.8L633.8 443.7M523.6 606.5L523.9 621.7M605.6 494.6L584.6 496.7M494.8 627.9L477.1 629.5M584.7 466.6L588.9 449.9M449.2 651.6L458.7 646M472.5 569.4L469.4 591.6M548.3 485L561.4 471.7M637.1 387.3L640.3 365.1M550.4 548.8L558.9 552.7M413.1 669.7L430.8 668.1M524.9 490.1L520.7 506.8M387.6 611L392.6 622.2M547.9 548L530.3 543.2M692.8 454.1L689.6 476.3M414.9 622.8L415.1 638M496.8 510.9L475.8 513M503.2 605.9L516.3 592.7M605.8 431.7L615.3 426M607.9 495.7L612.9 506.9M471.5 650.6L489.1 655.4M441.6 565.1L450.1 569M635.1 507.5L635.4 522.7M606.3 528.9L588.6 530.5M469.1 649.8L460.6 645.9M439.2 564.3L421.6 559.5M560.7 552.6L570.2 547M584 470.4L580.9 492.6M661.9 449.8L670.4 453.7M524.6 570.7L542.3 569.1M394.4 622.2L407.5 609M495.8 592.1L495.6 576.9M636.4 391.1L632.2 407.8M499.1 512L504.1 523.2M659.4 449L641.8 444.2M523.1 603.9L518.1 592.7M526.4 523.8L526.6 539M608.3 411.9L587.3 414M614.7 506.9L627.8 493.7M497.6 545.2L479.9 546.8M438.2 645.5L441.3 623.3M452 568.9L461.5 563.3M583 551.6L600.6 556.4M553.1 466.1L561.6 470M415.9 587L433.6 585.4M387.1 608.4L386.8 593.2M580.6 550.8L572.1 546.9M550.7 465.3L533.1 460.5M672.2 453.6L681.7 448M414.3 620.2L409.3 609M636.1 471.7L653.8 470.1M505.9 523.2L519 510M525.4 605L546.4 602.9M607.3 493.1L607.1 477.9"/>
<g class="as" stroke-width="4.26"><path id="l85" d="M584.3 468.5h0M411.1 669.9h0M522.6 570.9h0M496.8 627.7h0M634.1 471.9h0M388.1 644h0M608.3 528.7h0"/></g><use href="#l85" class="ash" stroke-width="1.60"/>
<g class="fe" stroke-width="4.26"><path id="l86" d="M520.2 508.7h0M475.2 629.7h0M631.8 409.7h0M586.6 530.7h0M477.9 547h0M698.1 431.7h0M432.8 667.9h0M589.4 448h0M544.3 568.9h0"/></g><use href="#l86" class="feh" stroke-width="1.60"/>
<circle class="bi" cx="442" cy="618.7" r="5.23"/>
<circle class="bj" cx="662.2" cy="503.4" r="5.23"/>
<circle class="bi" cx="553.5" cy="519.7" r="5.23"/>
<circle class="ba" cx="444.7" cy="536" r="5.23"/>
<circle class="ba" cx="665" cy="420.7" r="5.23"/>
<circle class="ba" cx="556.2" cy="437" r="5.23"/>
<circle class="bj" cx="466" cy="678.9" r="5.23"/>
<path class="bd" d="M610.6 413L615.6 424.2M474.3 567.9L491.9 572.7M634.6 504.9L629.6 493.7M497.3 625.8L501.5 609.1M637.9 424.8L638.1 440M609.1 446.2L591.4 447.8M471.8 567.1L463.3 563.2M460.8 644.2L473.9 630.9M549.7 546.5L552.8 524.3M563.5 469.9L573 464.3M694.5 452.6L712.1 457.4M437.5 649.3L433.3 666M527.4 488L545.1 486.4M416.6 621.3L437.6 619.2M498.6 509.4L498.3 494.2M692.1 451.8L683.6 447.9M525.8 521.2L520.8 510M518.4 590.9L527.9 585.2M388.5 642.1L392.7 625.4M617.4 424.2L630.5 411M636.9 506L657.9 503.9M440.9 562.8L444.1 540.6M585.8 468.9L603.4 473.7M608.8 526.8L613 510.1M583.3 468.1L574.8 464.2M496.6 629.6L493.4 651.8M572.3 545.2L585.4 531.9M661.2 447.5L664.3 425.3M549 550.3L544.8 567M409.6 607.2L419.1 601.5M411.7 671.2L416.7 682.4M638.9 389L656.6 387.4M528.1 522.3L549.1 520.2M610.1 410.4L609.8 395.2M438.9 683L439.2 698.2M520.9 571.1L499.9 573.2M637.3 422.2L632.3 411M629.9 491.9L639.4 486.2M500 543.1L504.2 526.4M463.6 561.5L476.7 548.2M552.4 463.8L555.6 441.6M465.7 625.3L474.2 629.2M440.2 566.6L436 583.3M463.2 624.5L445.6 619.7M608.1 530.6L604.9 552.8M683.8 446.2L696.9 432.9M412.1 587.4L391.1 589.5M418.5 682.4L431.6 669.2M660.5 451.3L656.3 468M521.1 508.2L530.6 502.5M523.2 572.2L528.2 583.4M639.6 423.3L660.6 421.2M550.4 584L550.7 599.2M632.4 472.1L611.4 474.2M521.6 605.4L503.9 607M611.5 444.1L615.7 427.4M476 629.1L485.5 623.5M499.3 546.9L496.2 569.1M575.1 462.5L588.2 449.2M577.2 526.3L585.7 530.2M439.9 647.2L457.6 645.6M411.1 668.6L410.9 653.4M551.7 467.6L547.5 484.3M414.4 588.5L419.4 599.7M574.7 525.5L557.1 520.7M438.4 680.4L433.4 669.2M441.7 600.3L441.9 615.5M523.6 488.4L502.6 490.5M530 583.4L543.1 570.2M412.9 621.7L395.2 623.3M632.6 409.2L642.1 403.5M634.7 473.2L639.7 484.4M498.3 628.1L515.9 632.9M468.4 542.6L476.9 546.5M661.9 485L662.2 500.2M633.1 506.4L615.4 508M495.9 627.3L487.4 623.4M466 541.8L448.4 537M587.5 530.1L597 524.5M610.8 447.9L607.7 470.1M688.7 427.3L697.2 431.2M551.4 548.2L569.1 546.6M421.2 599.7L434.3 586.5M440.7 681.5L461.7 679.4M522.6 569.6L522.4 554.4M525.9 489.5L530.9 500.7M686.2 426.5L668.6 421.7"/>
<g class="as" stroke-width="4.27"><path id="l88" d="M499.6 545h0M636.9 389.2h0M611.1 446h0M437.9 647.4h0M549.4 548.4h0M523.6 605.2h0M660.9 449.4h0"/></g><use href="#l88" class="ash" stroke-width="1.60"/>
<g class="fe" stroke-width="4.27"><path id="l89" d="M435.6 585.2h0M655.8 469.9h0M547 486.2h0M502 607.2h0M658.5 387.2h0M393.2 623.5h0M613.4 508.2h0M504.7 524.5h0M459.6 645.4h0"/></g><use href="#l89" class="feh" stroke-width="1.60"/>
<circle class="bj" cx="577.5" cy="579.9" r="5.23"/>
<circle class="bi" cx="468.8" cy="596.2" r="5.23"/>
<circle class="bj" cx="689" cy="480.9" r="5.23"/>
<circle class="ba" cx="360" cy="612.5" r="5.23"/>
<circle class="bi" cx="580.2" cy="497.2" r="5.24"/>
<circle class="ba" cx="471.5" cy="513.5" r="5.24"/>
<circle class="ba" cx="583" cy="414.5" r="5.24"/>
<path class="bd" d="M389.6 644.4L407.2 649.2M549.9 581.4L544.9 570.2M553.2 501.3L553.4 516.5M635.1 389.4L614.1 391.5M641.5 484.4L654.6 471.2M524.4 522.7L506.7 524.3M387.1 643.6L378.6 639.7M465 623L468.1 600.8M478.8 546.4L488.3 540.8M609.8 529.1L627.4 533.9M579.9 443.6L588.4 447.5M442.7 564.5L460.4 562.9M413.9 585.9L413.6 570.7M607.4 528.3L598.9 524.4M577.5 442.8L559.9 438M441.1 597.7L436.1 586.5M433.7 667.4L443.2 661.7M662.9 449.2L680.6 447.6M532.7 500.7L545.8 487.5M552.2 582.5L573.2 580.4M634.1 470.6L633.9 455.4M637.4 390.5L642.4 401.7M501.1 545.4L518.7 550.2M661.4 482.4L656.4 471.2M524.1 603.3L528.3 586.6M664.7 402.3L664.9 417.5M635.9 423.7L618.2 425.3M498.6 544.6L490.1 540.7M487.6 621.7L500.7 608.4M576.5 524L579.6 501.8M590.3 447.4L599.8 441.8M464.3 626.8L460.1 643.5M554.2 465.5L571.9 463.9M443.4 598.8L464.4 596.7M525.4 486.9L525.1 471.7M436.2 647.6L415.2 649.7M552.6 498.7L547.6 487.5M545.2 568.4L554.7 562.7M415.3 619.6L419.5 602.9M644.2 401.7L657.3 388.5M663.7 483.5L684.7 481.4M378.9 638L392 624.7M467.7 540.3L470.9 518.1M612.6 446.4L630.2 451.2M635.6 504.3L639.8 487.6M610.1 445.6L601.6 441.7M523.4 607.1L520.2 629.3M599.1 522.7L612.2 509.4M575.8 527.8L571.6 544.5M436.4 584.7L445.9 579M438.5 648.7L443.5 659.9M554.9 499.8L575.9 497.7M636.9 387.9L636.6 372.7M465.7 660.5L466 675.7M547.7 548.6L526.7 550.7M436.9 681.9L419.2 683.5M664.1 399.7L659.1 388.5M656.7 469.4L666.2 463.7M526.8 520.6L531 503.9M414.6 623.4L411.5 645.6M490.4 539L503.5 525.7M579.2 441.3L582.4 419.1M492.5 602.8L501 606.7M467 544.1L462.8 560.8M490 602L472.4 597.2M634.9 508.1L631.7 530.3M438.9 564.9L417.9 567M445.3 659.9L458.4 646.7M687.3 428.8L683.1 445.5M547.9 485.7L557.4 480M550 549.7L555 560.9M383.7 619.1L392.2 623M577.2 561.5L577.5 576.7M659.2 449.6L638.2 451.7M548.4 582.9L530.7 584.5M638.3 421.6L642.5 404.9M381.3 618.3L363.7 613.5M502.8 606.6L512.3 601M526.1 524.4L523 546.6M601.9 440L615 426.7M604 503.8L612.5 507.7M466.7 624.7L484.4 623.1M437.9 646.1L437.7 630.9M578.5 445.1L574.3 461.8M441.2 566L446.2 577.2M601.5 503L583.9 498.2M465.2 657.9L460.2 646.7"/>
<g class="as" stroke-width="4.27"><path id="l91" d="M414.9 621.5h0M635.1 506.2h0M526.4 522.5h0M637.9 423.5h0M464.7 624.9h0M438.9 681.7h0M576.2 525.9h0"/></g><use href="#l91" class="ash" stroke-width="1.60"/>
<g class="fe" stroke-width="4.27"><path id="l92" d="M616.2 425.5h0M571.1 546.4h0M462.4 562.7h0M682.6 447.4h0M417.2 683.7h0M573.8 463.7h0M528.8 584.7h0M420 601h0M640.2 485.7h0"/></g><use href="#l92" class="feh" stroke-width="1.60"/>
<circle class="bj" cx="492.8" cy="656.4" r="5.24"/>
<circle class="bj" cx="604.3" cy="557.4" r="5.24"/>
<circle class="bi" cx="495.6" cy="573.7" r="5.24"/>
<circle class="ba" cx="715.8" cy="458.4" r="5.24"/>
<circle class="ba" cx="386.8" cy="590" r="5.24"/>
<circle class="bi" cx="607" cy="474.7" r="5.24"/>
<circle class="ba" cx="498.3" cy="491" r="5.24"/>
<path class="bd" d="M468.5 577.8L468.7 593M550.4 465.9L529.4 468M556.8 560.9L569.9 547.7M439.7 599.2L422 600.8M661.5 450.7L666.5 461.9M394.1 622.9L403.6 617.3M525.1 605.6L542.7 610.4M495.2 520.1L503.7 524M688.7 462.5L689 477.7M659.9 483.9L642.2 485.5M522.7 604.8L514.2 600.9M492.8 519.3L475.2 514.5M614.3 507.6L623.8 502M637.6 425.4L634.5 447.6M578.2 525.7L595.9 524.1M448 577.2L461.1 564M467.5 659L488.5 656.9M549.4 547.1L549.2 531.9M552.7 467L557.7 478.2M416.4 621.9L434 626.7M576.7 558.9L571.7 547.7M439.4 679.8L443.6 663.1M580 478.8L580.2 494M668.3 461.9L681.4 448.7M551.2 500.2L533.5 501.8M413.9 621.1L405.4 617.2M491.8 600.5L494.9 578.3M505.6 523.9L515.1 518.3M636.6 506.6L654.2 511.4M606.7 421.1L615.2 425M469.5 542L487.2 540.4M440.7 563.4L440.4 548.2M634.2 505.8L625.7 501.9M604.3 420.3L586.7 415.5M467.9 575.2L462.9 564M460.5 644.9L470 639.2M559.5 478.2L572.6 465M579 560L600 557.9M660.9 448.1L660.7 432.9M383 616.8L386.2 594.6M527.9 522.9L545.5 527.7M688.2 459.9L683.2 448.7M550.9 580.8L555.1 564.1M662.7 401.2L645 402.8M525.4 522.1L516.9 518.2M438.7 683.6L435.5 705.8M514.4 599.2L527.5 585.9M603.3 501.5L606.4 479.3M617.1 424.9L626.6 419.3M491.1 604.3L486.9 621M581 443L598.7 441.4M470.2 576.3L491.2 574.2M552.2 464.4L551.9 449.2M463 625.1L442 627.2M579.4 476.2L574.4 465M572 545.9L581.5 540.2M442.1 597.1L446.3 580.4M690.5 461L711.5 458.9M405.7 615.5L418.8 602.2M494.5 517.8L497.7 495.6M407.8 679.3L416.3 683.2M639.4 423.9L657 428.7M382.3 620.6L378.1 637.3M662.4 481.8L666.6 465.1M636.9 423.1L628.4 419.2M550.2 584.6L547 606.8M625.9 500.2L639 486.9M602.6 505.3L598.4 522M463.2 562.2L472.7 556.5M465.3 626.2L470.3 637.4M581.7 477.3L602.7 475.2M492.5 638L492.8 653.2M574.5 526.1L553.5 528.2M463.7 659.4L446 661M683.5 446.9L693 441.2M553.6 498.1L557.8 481.4M418.1 683.1L427.6 677.5M441.4 600.9L438.3 623.1M517.2 516.5L530.3 503.2M606 418.8L609.2 396.6M519.3 580.3L527.8 584.2M493.8 521.6L489.6 538.3M516.8 579.5L499.2 574.7M661.7 485.6L658.5 507.8M465.7 542.4L444.7 544.5M472.1 637.4L485.2 624.2"/>
<g class="as" stroke-width="4.27"><path id="l94" d="M550.4 582.7h0M687.7 426.9h0M441.7 599h0M661.9 483.7h0M553.2 500h0M664.7 401h0M491.5 602.4h0"/></g><use href="#l94" class="ash" stroke-width="1.60"/>
<g class="fe" stroke-width="4.27"><path id="l95" d="M531.5 502h0M486.4 622.9h0M643 403h0M377.7 639.2h0M597.9 523.9h0M489.2 540.2h0M444.1 661.2h0M600.6 441.2h0M555.6 562.2h0"/></g><use href="#l95" class="feh" stroke-width="1.60"/>
<circle class="ba" cx="609.8" cy="392" r="5.24"/>
<circle class="bj" cx="519.6" cy="633.9" r="5.25"/>
<circle class="bi" cx="410.9" cy="650.2" r="5.25"/>
<circle class="bj" cx="631.1" cy="534.9" r="5.25"/>
<circle class="bi" cx="522.4" cy="551.2" r="5.25"/>
<circle class="ba" cx="413.6" cy="567.5" r="5.25"/>
<circle class="bi" cx="633.9" cy="452.2" r="5.25"/>
<path class="bd" d="M574.7 463.2L584.2 457.5M576.8 527.2L581.8 538.4M440.4 682.1L458 686.9M410.5 596.6L419 600.5M604 539L604.3 554.2M686 427.1L665 429.2M575.2 560.4L557.5 562M438 681.3L429.5 677.4M408.1 595.8L390.5 591M529.6 584.1L539.1 578.5M552.9 501.9L549.8 524.1M628.7 417.5L641.8 404.2M630.8 481.3L639.3 485.2M493.5 602.2L511.2 600.6M464.7 623.6L464.5 608.4M605.3 422.6L601.1 439.3M468 543.5L473 554.7M628.3 480.5L610.7 475.7M492 635.4L487 624.2M495.3 555.3L495.5 570.5M577.2 443.4L556.2 445.5M583.6 538.4L596.7 525.2M466.5 576.7L448.8 578.3M688.3 428.2L693.3 439.4M407.1 677L410.2 654.8M420.9 600.4L430.4 594.8M551.9 583.1L569.5 587.9M522 497.6L530.5 501.5M384.8 618.5L402.5 616.9M686.7 461.4L669 463M549.5 582.3L541 578.4M519.6 496.8L502 492M641.1 485.1L650.6 479.5M664.4 402.9L661.3 425.1M383.2 651.7L378.2 640.5M605 503.2L622.7 501.6M474.8 554.7L487.9 541.5M494.3 636.5L515.3 634.4M576.2 524.6L576 509.4M579.5 444.5L584.5 455.7M443.2 599.4L460.8 604.2M603.5 536.4L598.5 525.2M466.2 657.3L470.4 640.6M606.8 456.3L607 471.5M578 477.7L560.3 479.3M440.7 598.6L432.2 594.7M429.7 675.7L442.8 662.4M518.6 578L521.7 555.8M532.4 501.4L541.9 495.8M663.4 484.1L681 488.9M633.5 398.6L642 402.5M496.3 519.5L514 517.9M385.5 652.8L406.5 650.7M467.5 540.9L467.2 525.7M661 483.3L652.5 479.4M631.1 397.8L613.5 393M494.7 552.7L489.7 541.5M487.3 622.4L496.8 616.7M586.3 455.7L599.4 442.5M605.8 537.5L626.8 535.4M409.8 594.3L413 572.1M554.7 500.4L572.3 505.2M577.7 558.3L581.9 541.6M552.2 499.6L543.7 495.7M465.5 661.1L462.3 683.3M541.2 576.7L554.3 563.4M630.1 479L633.2 456.8M643.9 402.4L653.4 396.8M517.9 581.8L513.7 598.5M378.5 638.7L388 633M607.8 420.5L625.5 418.9M497 553.8L518 551.7M579 441.9L578.7 426.7M489.8 602.6L468.8 604.7M606.2 453.7L601.2 442.5M598.8 523.4L608.3 517.7M468.9 574.6L473.1 557.9M432.5 593L445.6 579.7M521.3 495.3L524.5 473.1M434.6 656.8L443.1 660.7M409.1 598.1L404.9 614.8M689.2 459.3L693.4 442.6M432.1 656L414.5 651.2M663.7 400.6L655.2 396.7M577 562.1L573.8 584.3M652.7 477.7L665.8 464.4M381 618.9L360 621M629.4 482.8L625.2 499.5M490 539.7L499.5 534M492.1 603.7L497.1 614.9"/>
<g class="as" stroke-width="4.28"><path id="l97" d="M465.7 659.2h0M603 503.4h0M577.2 560.2h0M468.5 576.5h0M688.7 461.2h0M580 477.5h0M406.8 678.9h0"/></g><use href="#l97" class="ash" stroke-width="1.60"/>
<g class="fe" stroke-width="4.28"><path id="l98" d="M446.8 578.5h0M667 463.2h0M558.3 479.5h0M513.2 600.4h0M404.5 616.7h0M624.7 501.4h0M516 517.7h0M470.9 638.7h0M627.4 418.7h0"/></g><use href="#l98" class="feh" stroke-width="1.60"/>
<circle class="ba" cx="525.1" cy="468.5" r="5.25"/>
<circle class="bj" cx="434.9" cy="710.4" r="5.25"/>
<circle class="ba" cx="636.6" cy="369.5" r="5.25"/>
<circle class="bj" cx="546.4" cy="611.4" r="5.25"/>
<circle class="bi" cx="437.7" cy="627.7" r="5.25"/>
<circle class="bj" cx="657.9" cy="512.4" r="5.25"/>
<circle class="bi" cx="549.2" cy="528.7" r="5.25"/>
<path class="bd" d="M608.5 454.8L629.5 452.7M519.3 615.5L519.6 630.7M601.3 503.6L580.3 505.7M490.5 636.9L472.8 638.5M580.4 475.6L584.6 458.9M444.9 660.6L454.4 655M468.2 578.4L465.1 600.6M544 494L557.1 480.7M632.8 396.3L636 374.1M546.1 557.8L554.6 561.7M408.8 678.7L426.5 677.1M520.6 499.1L516.4 515.8M383.3 620L388.3 631.2M543.6 557L526 552.2M688.5 463.1L685.3 485.3M410.6 631.8L410.8 647M492.5 519.9L471.5 522M498.9 614.9L512 601.7M601.5 440.7L611 435M603.6 504.7L608.6 515.9M467.2 659.6L484.8 664.4M437.3 574.1L445.8 578M630.8 516.5L631.1 531.7M602 537.9L584.3 539.5M464.8 658.8L456.3 654.9M434.9 573.3L417.3 568.5M556.4 561.6L565.9 556M579.7 479.4L576.6 501.6M657.6 458.8L666.1 462.7M520.3 579.7L538 578.1M390.1 631.2L403.2 618M491.5 601.1L491.3 585.9M632.1 400.1L627.9 416.8M494.8 521L499.8 532.2M655.1 458L637.5 453.2M518.8 612.9L513.8 601.7M522.1 532.8L522.3 548M604 420.9L583 423M610.4 515.9L623.5 502.7M493.3 554.2L475.6 555.8M433.9 654.5L437 632.3M447.7 577.9L457.2 572.3M578.7 560.6L596.3 565.4M548.8 475.1L557.3 479M411.6 596L429.3 594.4M382.8 617.4L382.5 602.2M576.3 559.8L567.8 555.9M546.4 474.3L528.8 469.5M667.9 462.6L677.4 457M410 629.2L405 618M631.8 480.7L649.5 479.1M501.6 532.2L514.7 519M521.1 614L542.1 611.9M603 502.1L602.8 486.9M606.3 422L611.3 433.2M470 576.9L487.6 581.7M630.3 513.9L625.3 502.7M493 634.8L497.2 618.1M633.6 433.8L633.8 449M604.8 455.2L587.1 456.8M467.5 576.1L459 572.2M456.5 653.2L469.6 639.9M545.4 555.5L548.5 533.3M559.2 478.9L568.7 473.3M690.2 461.6L707.8 466.4M433.2 658.3L429 675M523.1 497L540.8 495.4M412.3 630.3L433.3 628.2M494.3 518.4L494 503.2M687.8 460.8L679.3 456.9M521.5 530.2L516.5 519M514.1 599.9L523.6 594.2M384.2 651.1L388.4 634.4M613.1 433.2L626.2 420M632.6 515L653.6 512.9M436.6 571.8L439.8 549.6M581.5 477.9L599.1 482.7M604.5 535.8L608.7 519.1M579 477.1L570.5 473.2M492.3 638.6L489.1 660.8M568 554.2L581.1 540.9M656.9 456.5L660 434.3M544.7 559.3L540.5 576M405.3 616.2L414.8 610.5M407.4 680.2L412.4 691.4M634.6 398L652.3 396.4M523.8 531.3L544.8 529.2M605.8 419.4L605.5 404.2"/>
<g class="as" stroke-width="4.28"><path id="l100" d="M518.3 579.9h0M492.5 636.7h0M629.8 480.9h0M383.8 653h0M604 537.7h0M495.3 554h0M632.6 398.2h0M606.8 455h0"/></g><use href="#l100" class="ash" stroke-width="1.61"/>
<g class="fe" stroke-width="4.28"><path id="l101" d="M582.4 539.7h0M473.6 556h0M693.8 440.7h0M428.5 676.9h0M585.1 457h0M540 577.9h0M431.3 594.2h0M651.5 478.9h0M542.8 495.2h0"/></g><use href="#l101" class="feh" stroke-width="1.61"/>
<circle class="ba" cx="440.4" cy="545" r="5.25"/>
<circle class="ba" cx="660.6" cy="429.7" r="5.25"/>
<circle class="ba" cx="551.9" cy="446" r="5.26"/>
<circle class="bj" cx="461.7" cy="687.9" r="5.26"/>
<circle class="bj" cx="573.2" cy="588.9" r="5.26"/>
<circle class="bi" cx="464.5" cy="605.2" r="5.26"/>
<circle class="bj" cx="684.7" cy="489.9" r="5.26"/>
<path class="bd" d="M434.6 692L434.9 707.2M516.6 580.1L495.6 582.2M633 431.2L628 420M625.6 500.9L635.1 495.2M495.7 552.1L499.9 535.4M459.3 570.5L472.4 557.2M548.1 472.8L551.3 450.6M461.4 634.3L469.9 638.2M435.9 575.6L431.7 592.3M458.9 633.5L441.3 628.7M603.8 539.6L600.6 561.8M679.5 455.2L692.6 441.9M407.8 596.4L386.8 598.5M414.2 691.4L427.3 678.2M656.2 460.3L652 477M516.8 517.2L526.3 511.5M518.9 581.2L523.9 592.4M635.3 432.3L656.3 430.2M546.1 593L546.4 608.2M628.1 481.1L607.1 483.2M517.3 614.4L499.6 616M607.2 453.1L611.4 436.4M471.7 638.1L481.2 632.5M495 555.9L491.9 578.1M570.8 471.5L583.9 458.2M572.9 535.3L581.4 539.2M435.6 656.2L453.3 654.6M406.8 677.6L406.6 662.4M547.4 476.6L543.2 493.3M410.1 597.5L415.1 608.7M570.4 534.5L552.8 529.7M434.1 689.4L429.1 678.2M437.4 609.3L437.6 624.5M519.3 497.4L498.3 499.5M525.7 592.4L538.8 579.2M408.6 630.7L390.9 632.3M628.3 418.2L637.8 412.5M630.4 482.2L635.4 493.4M494 637.1L511.6 641.9M464.1 551.6L472.6 555.5M657.6 494L657.9 509.2M628.8 515.4L611.1 517M491.6 636.3L483.1 632.4M461.7 550.8L444.1 546M583.2 539.1L592.7 533.5M606.5 456.9L603.4 479.1M684.4 436.3L692.9 440.2M547.1 557.2L564.8 555.6M416.9 608.7L430 595.5M436.4 690.5L457.4 688.4M518.3 578.6L518.1 563.4M521.6 498.5L526.6 509.7M681.9 435.5L664.3 430.7M385.3 653.4L402.9 658.2M545.6 590.4L540.6 579.2M548.9 510.3L549.1 525.5M630.8 398.4L609.8 400.5M637.2 493.4L650.3 480.2M520.1 531.7L502.4 533.3M382.8 652.6L374.3 648.7M460.7 632L463.8 609.8M474.5 555.4L484 549.8M605.5 538.1L623.1 542.9M575.6 452.6L584.1 456.5M438.4 573.5L456.1 571.9M409.6 594.9L409.3 579.7M603.1 537.3L594.6 533.4M573.2 451.8L555.6 447M436.8 606.7L431.8 595.5M429.4 676.4L438.9 670.7M658.6 458.2L676.3 456.6M528.4 509.7L541.5 496.5M547.9 591.5L568.9 589.4M629.8 479.6L629.6 464.4M633.1 399.5L638.1 410.7M496.8 554.4L514.4 559.2M657.1 491.4L652.1 480.2M519.8 612.3L524 595.6M660.4 411.3L660.6 426.5M631.6 432.7L613.9 434.3M494.3 553.6L485.8 549.7M483.3 630.7L496.4 617.4M572.2 533L575.3 510.8M586 456.4L595.5 450.8M460 635.8L455.8 652.5M549.9 474.5L567.6 472.9M439.1 607.8L460.1 605.7M521.1 495.9L520.8 480.7"/>
<g class="as" stroke-width="4.29"><path id="l103" d="M433.6 656.4h0M545.1 557.4h0M519.3 614.2h0M656.6 458.4h0M410.6 630.5h0M630.8 515.2h0M522.1 531.5h0"/></g><use href="#l103" class="ash" stroke-width="1.61"/>
<g class="fe" stroke-width="4.29"><path id="l104" d="M497.7 616.2h0M654.2 396.2h0M388.9 632.5h0M609.1 517.2h0M500.4 533.5h0M455.3 654.4h0M611.9 434.5h0M566.8 555.4h0M458.1 571.7h0"/></g><use href="#l104" class="feh" stroke-width="1.61"/>
<circle class="ba" cx="355.7" cy="621.5" r="5.26"/>
<circle class="bi" cx="576" cy="506.2" r="5.26"/>
<circle class="ba" cx="467.2" cy="522.5" r="5.26"/>
<circle class="ba" cx="578.7" cy="423.5" r="5.26"/>
<circle class="bj" cx="488.5" cy="665.4" r="5.26"/>
<circle class="bj" cx="600" cy="566.4" r="5.26"/>
<path class="bd" d="M431.9 656.6L410.9 658.7M548.3 507.7L543.3 496.5M540.9 577.4L550.4 571.7M411 628.6L415.2 611.9M639.9 410.7L653 397.5M659.4 492.5L680.4 490.4M374.6 647L387.7 633.7M463.4 549.3L466.6 527.1M608.3 455.4L625.9 460.2M631.3 513.3L635.5 496.6M605.8 454.6L597.3 450.7M519.1 616.1L515.9 638.3M594.8 531.7L607.9 518.4M571.5 536.8L567.3 553.5M432.1 593.7L441.6 588M434.2 657.7L439.2 668.9M550.6 508.8L571.6 506.7M632.6 396.9L632.3 381.7M461.4 669.5L461.7 684.7M543.4 557.6L522.4 559.7M432.6 690.9L414.9 692.5M659.8 408.7L654.8 397.5M652.4 478.4L661.9 472.7M522.5 529.6L526.7 512.9M410.3 632.4L407.2 654.6M486.1 548L499.2 534.7M574.9 450.3L578.1 428.1M488.2 611.8L496.7 615.7M462.7 553.1L458.5 569.8M485.7 611L468.1 606.2M630.6 517.1L627.4 539.3M434.6 573.9L413.6 576M441 668.9L454.1 655.7M683 437.8L678.8 454.5M543.6 494.7L553.1 489M545.7 558.7L550.7 569.9M379.4 628.1L387.9 632M572.9 570.5L573.2 585.7M654.9 458.6L633.9 460.7M544.1 591.9L526.4 593.5M634 430.6L638.2 413.9M377 627.3L359.4 622.5M498.5 615.6L508 610M521.8 533.4L518.7 555.6M597.6 449L610.7 435.7M599.7 512.8L608.2 516.7M462.4 633.7L480.1 632.1M433.6 655.1L433.4 639.9M574.2 454.1L570 470.8M436.9 575L441.9 586.2M597.2 512L579.6 507.2M460.9 666.9L455.9 655.7M464.2 586.8L464.4 602M546.1 474.9L525.1 477M552.5 569.9L565.6 556.7M435.4 608.2L417.7 609.8M657.2 459.7L662.2 470.9M389.8 631.9L399.3 626.3M520.8 614.6L538.4 619.4M490.9 529.1L499.4 533M684.4 471.5L684.7 486.7M655.6 492.9L637.9 494.5M518.4 613.8L509.9 609.9M488.5 528.3L470.9 523.5M610 516.6L619.5 511M633.3 434.4L630.2 456.6M573.9 534.7L591.6 533.1M443.7 586.2L456.8 573M463.2 668L484.2 665.9M545.1 556.1L544.9 540.9M548.4 476L553.4 487.2M412.1 630.9L429.7 635.7M572.4 567.9L567.4 556.7M435.1 688.8L439.3 672.1M575.7 487.8L575.9 503M664 470.9L677.1 457.7M546.9 509.2L529.2 510.8M409.6 630.1L401.1 626.2M487.5 609.5L490.6 587.3M501.3 532.9L510.8 527.3M632.3 515.6L649.9 520.4M602.4 430.1L610.9 434M465.2 551L482.9 549.4M436.4 572.4L436.1 557.2M629.9 514.8L621.4 510.9M600 429.3L582.4 424.5M463.6 584.2L458.6 573"/>
<g class="as" stroke-width="4.29"><path id="l106" d="M633.6 432.5h0M460.4 633.9h0M434.6 690.7h0M571.9 534.9h0M546.1 591.7h0M683.4 435.9h0M437.4 608h0M657.6 492.7h0"/></g><use href="#l106" class="ash" stroke-width="1.61"/>
<g class="fe" stroke-width="4.29"><path id="l107" d="M678.3 456.4h0M413 692.7h0M569.5 472.7h0M524.5 593.7h0M415.7 610h0M636 494.7h0M527.2 511h0M482.1 631.9h0M638.7 412h0M373.4 648.2h0M593.6 532.9h0"/></g><use href="#l107" class="feh" stroke-width="1.61"/>
<circle class="bi" cx="491.3" cy="582.7" r="5.27"/>
<circle class="ba" cx="711.5" cy="467.4" r="5.27"/>
<circle class="ba" cx="382.5" cy="599" r="5.27"/>
<circle class="bi" cx="602.8" cy="483.7" r="5.27"/>
<circle class="ba" cx="494" cy="500" r="5.27"/>
<circle class="ba" cx="605.5" cy="401" r="5.27"/>
<circle class="bj" cx="515.3" cy="642.9" r="5.27"/>
<path class="bd" d="M456.2 653.9L465.7 648.2M555.2 487.2L568.3 474M574.7 569L595.7 566.9M656.6 457.1L656.4 441.9M378.7 625.8L381.9 603.6M523.6 531.9L541.2 536.7M683.9 468.9L678.9 457.7M546.6 589.8L550.8 573.1M658.4 410.2L640.7 411.8M521.1 531.1L512.6 527.2M434.4 692.6L431.2 714.8M510.1 608.2L523.2 594.9M599 510.5L602.1 488.3M612.8 433.9L622.3 428.3M486.8 613.3L482.6 630M576.7 452L594.4 450.4M465.9 585.3L486.9 583.2M547.9 473.4L547.6 458.2M458.7 634.1L437.7 636.2M575.1 485.2L570.1 474M567.7 554.9L577.2 549.2M437.8 606.1L442 589.4M686.2 470L707.2 467.9M401.4 624.5L414.5 611.2M490.2 526.8L493.4 504.6M403.5 688.3L412 692.2M635.1 432.9L652.7 437.7M378 629.6L373.8 646.3M658.1 490.8L662.3 474.1M632.6 432.1L624.1 428.2M545.9 593.6L542.7 615.8M621.6 509.2L634.7 495.9M598.3 514.3L594.1 531M458.9 571.2L468.4 565.5M461 635.2L466 646.4M577.4 486.3L598.4 484.2M488.2 647L488.5 662.2M570.2 535.1L549.2 537.2M459.4 668.4L441.7 670M679.2 455.9L688.7 450.2M549.3 507.1L553.5 490.4M413.8 692.1L423.3 686.5M437.1 609.9L434 632.1M512.9 525.5L526 512.2M601.7 427.8L604.9 405.6M515 589.3L523.5 593.2M489.5 530.6L485.3 547.3M512.5 588.5L494.9 583.7M657.4 494.6L654.2 516.8M461.4 551.4L440.4 553.5M467.8 646.4L480.9 633.2M570.4 472.2L579.9 466.5M572.5 536.2L577.5 547.4M436.1 691.1L453.7 695.9M406.2 605.6L414.7 609.5M599.7 548L600 563.2M681.7 436.1L660.7 438.2M570.9 569.4L553.2 571M433.7 690.3L425.2 686.4M403.8 604.8L386.2 600M525.3 593.1L534.8 587.5M548.6 510.9L545.5 533.1M624.4 426.5L637.5 413.2M626.5 490.3L635 494.2M489.2 611.2L506.9 609.6M460.4 632.6L460.2 617.4M601 431.6L596.8 448.3M463.7 552.5L468.7 563.7M624 489.5L606.4 484.7M487.7 644.4L482.7 633.2M491 564.3L491.2 579.5M572.9 452.4L551.9 454.5M579.3 547.4L592.4 534.2M462.2 585.7L444.5 587.3M684 437.2L689 448.4M402.8 686L405.9 663.8M416.6 609.4L426.1 603.8M547.6 592.1L565.2 596.9M517.7 506.6L526.2 510.5M380.5 627.5L398.2 625.9M682.4 470.4L664.7 472M545.2 591.3L536.7 587.4M515.3 505.8L497.7 501M636.8 494.1L646.3 488.5M660.1 411.9L657 434.1M378.9 660.7L373.9 649.5M600.7 512.2L618.4 510.6M470.5 563.7L483.6 550.5M490 645.5L511 643.4"/>
<g class="as" stroke-width="4.30"><path id="l109" d="M548.9 509h0M660.4 410h0M487.2 611.4h0M461.4 668.2h0M598.7 512.4h0M572.9 569.2h0"/></g><use href="#l109" class="ash" stroke-width="1.61"/>
<g class="fe" stroke-width="4.30"><path id="l110" d="M484.9 549.2h0M439.8 670.2h0M596.4 450.2h0M551.2 571.2h0M442.5 587.5h0M662.8 472.2h0M554 488.5h0M508.9 609.4h0"/></g><use href="#l110" class="feh" stroke-width="1.61"/>
<circle class="bi" cx="406.6" cy="659.2" r="5.27"/>
<circle class="bj" cx="626.8" cy="543.9" r="5.27"/>
<circle class="bi" cx="518.1" cy="560.2" r="5.27"/>
<circle class="ba" cx="409.3" cy="576.5" r="5.27"/>
<circle class="bi" cx="629.6" cy="461.2" r="5.27"/>
<circle class="ba" cx="520.8" cy="477.5" r="5.27"/>
<circle class="ba" cx="430.6" cy="719.4" r="5.28"/>
<circle class="ba" cx="632.3" cy="378.5" r="5.28"/>
<path class="bd" d="M571.9 533.6L571.7 518.4M575.2 453.5L580.2 464.7M438.9 608.4L456.5 613.2M599.2 545.4L594.2 534.2M461.9 666.3L466.1 649.6M602.5 465.3L602.7 480.5M573.7 486.7L556 488.3M436.4 607.6L427.9 603.7M425.4 684.7L438.5 671.4M514.3 587L517.4 564.8M528.1 510.4L537.6 504.8M659.1 493.1L676.7 497.9M629.2 407.6L637.7 411.5M492 528.5L509.7 526.9M381.2 661.8L402.2 659.7M463.2 549.9L462.9 534.7M656.7 492.3L648.2 488.4M626.8 406.8L609.2 402M490.4 561.7L485.4 550.5M483 631.4L492.5 625.7M582 464.7L595.1 451.5M601.5 546.5L622.5 544.4M405.5 603.3L408.7 581.1M550.4 509.4L568 514.2M573.4 567.3L577.6 550.6M547.9 508.6L539.4 504.7M461.2 670.1L458 692.3M536.9 585.7L550 572.4M625.8 488L628.9 465.8M639.6 411.4L649.1 405.8M513.6 590.8L509.4 607.5M374.2 647.7L383.7 642M603.5 429.5L621.2 427.9M492.7 562.8L513.7 560.7M574.7 450.9L574.4 435.7M485.5 611.6L464.5 613.7M601.9 462.7L596.9 451.5M594.5 532.4L604 526.7M464.6 583.6L468.8 566.9M428.2 602L441.3 588.7M517 504.3L520.2 482.1M430.3 665.8L438.8 669.7M404.8 607.1L400.6 623.8M684.9 468.3L689.1 451.6M427.8 665L410.2 660.2M659.4 409.6L650.9 405.7M572.7 571.1L569.5 593.3M648.4 486.7L661.5 473.4M376.7 627.9L355.7 630M625.1 491.8L620.9 508.5M485.7 548.7L495.2 543M487.8 612.7L492.8 623.9M604.2 463.8L625.2 461.7M515 624.5L515.3 639.7M597 512.6L576 514.7M486.2 645.9L468.5 647.5M576.1 484.6L580.3 467.9M440.6 669.6L450.1 664M463.9 587.4L460.8 609.6M539.7 503L552.8 489.7M628.5 405.3L631.7 383.1M541.8 566.8L550.3 570.7M404.5 687.7L422.2 686.1M516.3 508.1L512.1 524.8M379 629L384 640.2M539.3 566L521.7 561.2M684.2 472.1L681 494.3M406.3 640.8L406.5 656M488.2 528.9L467.2 531M494.6 623.9L507.7 610.7M597.2 449.7L606.7 444M599.3 513.7L604.3 524.9M462.9 668.6L480.5 673.4M433 583.1L441.5 587M626.5 525.5L626.8 540.7M597.7 546.9L580 548.5M460.5 667.8L452 663.9M430.6 582.3L413 577.5M552.1 570.6L561.6 565M575.4 488.4L572.3 510.6M653.3 467.8L661.8 471.7M516 588.7L533.7 587.1M385.8 640.2L398.9 627M487.2 610.1L487 594.9M627.8 409.1L623.6 425.8M490.5 530L495.5 541.2"/>
<g class="as" stroke-width="4.30"><path id="l112" d="M464.2 585.5h0M684.4 470.2h0M575.7 486.5h0M402.5 687.9h0M514 588.9h0M488.2 645.7h0M625.5 489.9h0"/></g><use href="#l112" class="ash" stroke-width="1.61"/>
<g class="fe" stroke-width="4.30"><path id="l113" d="M400.2 625.7h0M620.4 510.4h0M511.7 526.7h0M466.6 647.7h0M623.1 427.7h0M578 548.7h0M469.3 565h0M689.5 449.7h0M424.2 685.9h0"/></g><use href="#l113" class="feh" stroke-width="1.61"/>
<circle class="bj" cx="542.1" cy="620.4" r="5.28"/>
<circle class="bi" cx="433.4" cy="636.7" r="5.28"/>
<circle class="bj" cx="653.6" cy="521.4" r="5.28"/>
<circle class="bi" cx="544.9" cy="537.7" r="5.28"/>
<circle class="ba" cx="436.1" cy="554" r="5.28"/>
<circle class="ba" cx="656.4" cy="438.7" r="5.28"/>
<circle class="ba" cx="547.6" cy="455" r="5.28"/>
<path class="bd" d="M650.8 467L633.2 462.2M514.5 621.9L509.5 610.7M517.8 541.8L518 557M599.7 429.9L578.7 432M606.1 524.9L619.2 511.7M489 563.2L471.3 564.8M429.6 663.5L432.7 641.3M443.4 586.9L452.9 581.3M574.4 569.6L592 574.4M544.5 484.1L553 488M407.3 605L425 603.4M378.5 626.4L378.2 611.2M572 568.8L563.5 564.9M542.1 483.3L524.5 478.5M663.6 471.6L673.1 466M405.7 638.2L400.7 627M627.5 489.7L645.2 488.1M497.3 541.2L510.4 528M516.8 623L537.8 620.9M598.7 511.1L598.5 495.9M602 431L607 442.2M465.7 585.9L483.3 590.7M626 522.9L621 511.7M488.7 643.8L492.9 627.1M629.3 442.8L629.5 458M600.5 464.2L582.8 465.8M463.2 585.1L454.7 581.2M452.2 662.2L465.3 648.9M541.1 564.5L544.2 542.3M554.9 487.9L564.4 482.3M685.9 470.6L703.5 475.4M428.9 667.3L424.7 684M518.8 506L536.5 504.4M408 639.3L429 637.2M490 527.4L489.7 512.2M683.5 469.8L675 465.9M517.2 539.2L512.2 528M509.8 608.9L519.3 603.2M379.9 660.1L384.1 643.4M608.8 442.2L621.9 429M628.3 524L649.3 521.9M432.3 580.8L435.5 558.6M577.2 486.9L594.8 491.7M600.2 544.8L604.4 528.1M574.7 486.1L566.2 482.2M488 647.6L484.8 669.8M563.7 563.2L576.8 549.9M652.6 465.5L655.7 443.3M540.4 568.3L536.2 585M401 625.2L410.5 619.5M403.1 689.2L408.1 700.4M630.3 407L648 405.4M519.5 540.3L540.5 538.2M601.5 428.4L601.2 413.2M430.3 701L430.6 716.2M512.3 589.1L491.3 591.2M628.7 440.2L623.7 429M621.3 509.9L630.8 504.2M491.4 561.1L495.6 544.4M455 579.5L468.1 566.2M543.8 481.8L547 459.6M457.1 643.3L465.6 647.2M431.6 584.6L427.4 601.3M454.6 642.5L437 637.7M599.5 548.6L596.3 570.8M675.2 464.2L688.3 450.9M403.5 605.4L382.5 607.5M409.9 700.4L423 687.2M651.9 469.3L647.7 486M512.5 526.2L522 520.5M514.6 590.2L519.6 601.4M631 441.3L652 439.2M541.8 602L542.1 617.2M623.8 490.1L602.8 492.2M513 623.4L495.3 625M602.9 462.1L607.1 445.4M467.4 647.1L476.9 641.5M490.7 564.9L487.6 587.1M566.5 480.5L579.6 467.2M568.6 544.3L577.1 548.2M431.3 665.2L449 663.6M402.5 686.6L402.3 671.4M543.1 485.6L538.9 502.3M405.8 606.5L410.8 617.7M566.1 543.5L548.5 538.7"/>
<g class="as" stroke-width="4.31"><path id="l115" d="M379.5 662h0M599.7 546.7h0M491 563h0M628.3 407.2h0M602.5 464h0M429.3 665.4h0M540.8 566.4h0"/></g><use href="#l115" class="ash" stroke-width="1.61"/>
<g class="fe" stroke-width="4.31"><path id="l116" d="M580.8 466h0M535.7 586.9h0M427 603.2h0M647.2 487.9h0M538.4 504.2h0M493.4 625.2h0M649.9 405.2h0M384.6 641.5h0M604.8 526.2h0"/></g><use href="#l116" class="feh" stroke-width="1.61"/>
<circle class="ba" cx="457.4" cy="696.9" r="5.28"/>
<circle class="bj" cx="568.9" cy="597.9" r="5.28"/>
<circle class="bi" cx="460.2" cy="614.2" r="5.28"/>
<circle class="bj" cx="680.4" cy="498.9" r="5.28"/>
<circle class="ba" cx="351.4" cy="630.5" r="5.28"/>
<circle class="bi" cx="571.6" cy="515.2" r="5.29"/>
<circle class="ba" cx="462.9" cy="531.5" r="5.29"/>
<path class="bd" d="M429.8 698.4L424.8 687.2M433.1 618.3L433.3 633.5M515 506.4L494 508.5M521.4 601.4L534.5 588.2M404.3 639.7L386.6 641.3M624 427.2L633.5 421.5M626.1 491.2L631.1 502.4M489.7 646.1L507.3 650.9M459.8 560.6L468.3 564.5M653.3 503L653.6 518.2M624.5 524.4L606.8 526M487.3 645.3L478.8 641.4M457.4 559.8L439.8 555M578.9 548.1L588.4 542.5M602.2 465.9L599.1 488.1M680.1 445.3L688.6 449.2M542.8 566.2L560.5 564.6M412.6 617.7L425.7 604.5M432.1 699.5L453.1 697.4M514 587.6L513.8 572.4M517.3 507.5L522.3 518.7M677.6 444.5L660 439.7M381 662.4L398.6 667.2M541.3 599.4L536.3 588.2M544.6 519.3L544.8 534.5M626.5 407.4L605.5 409.5M632.9 502.4L646 489.2M515.8 540.7L498.1 542.3M378.5 661.6L370 657.7M456.4 641L459.5 618.8M470.2 564.4L479.7 558.8M601.2 547.1L618.8 551.9M571.3 461.6L579.8 465.5M434.1 582.5L451.8 580.9M405.3 603.9L405 588.7M598.8 546.3L590.3 542.4M568.9 460.8L551.3 456M432.5 615.7L427.5 604.5M425.1 685.4L434.6 679.7M654.3 467.2L672 465.6M524.1 518.7L537.2 505.5M543.6 600.5L564.6 598.4M625.5 488.6L625.3 473.4M628.8 408.5L633.8 419.7M492.5 563.4L510.1 568.2M652.8 500.4L647.8 489.2M515.5 621.3L519.7 604.6M656.1 420.3L656.3 435.5M627.3 441.7L609.6 443.3M490 562.6L481.5 558.7M479 639.7L492.1 626.4M567.9 542L571 519.8M581.7 465.4L591.2 459.8M455.7 644.8L451.5 661.5M545.6 483.5L563.3 481.9M434.8 616.8L455.8 614.7M516.8 504.9L516.5 489.7M427.6 665.6L406.6 667.7M544 516.7L539 505.5M536.6 586.4L546.1 580.7M406.7 637.6L410.9 620.9M635.6 419.7L648.7 406.5M655.1 501.5L676.1 499.4M370.3 656L383.4 642.7M459.1 558.3L462.3 536.1M604 464.4L621.6 469.2M627 522.3L631.2 505.6M601.5 463.6L593 459.7M514.8 625.1L511.6 647.3M590.5 540.7L603.6 527.4M567.2 545.8L563 562.5M427.8 602.7L437.3 597M429.9 666.7L434.9 677.9M546.3 517.8L567.3 515.7M628.3 405.9L628 390.7M457.1 678.5L457.4 693.7M539.1 566.6L518.1 568.7M428.3 699.9L410.6 701.5M655.5 417.7L650.5 406.5M648.1 487.4L657.6 481.7M518.2 538.6L522.4 521.9M406 641.4L402.9 663.6M481.8 557L494.9 543.7M570.6 459.3L573.8 437.1M483.9 620.8L492.4 624.7M458.4 562.1L454.2 578.8M481.4 620L463.8 615.2M626.3 526.1L623.1 548.3"/>
<g class="as" stroke-width="4.31"><path id="l118" d="M515 623.2h0M652.3 467.4h0M406.3 639.5h0M626.5 524.2h0M517.8 540.5h0M629.3 441.5h0M456.1 642.9h0"/></g><use href="#l118" class="ash" stroke-width="1.62"/>
<g class="fe" stroke-width="4.31"><path id="l119" d="M496.1 542.5h0M451 663.4h0M607.6 443.5h0M562.5 564.4h0M453.8 580.7h0M674 465.4h0M408.6 701.7h0M565.2 481.7h0M520.1 602.7h0"/></g><use href="#l119" class="feh" stroke-width="1.62"/>
<circle class="ba" cx="574.4" cy="432.5" r="5.29"/>
<circle class="ba" cx="484.2" cy="674.4" r="5.29"/>
<circle class="bj" cx="595.7" cy="575.4" r="5.29"/>
<circle class="bi" cx="487" cy="591.7" r="5.29"/>
<circle class="ba" cx="707.2" cy="476.4" r="5.29"/>
<circle class="ba" cx="378.2" cy="608" r="5.29"/>
<circle class="bi" cx="598.4" cy="492.7" r="5.29"/>
<path class="bd" d="M430.3 582.9L409.3 585M436.7 677.9L449.8 664.7M678.7 446.8L674.5 463.5M539.3 503.7L548.8 498M541.4 567.7L546.4 578.9M375.1 637.1L383.6 641M568.6 579.5L568.9 594.7M650.6 467.6L629.6 469.7M539.8 600.9L522.1 602.5M629.7 439.6L633.9 422.9M372.7 636.3L355.1 631.5M494.2 624.6L503.7 619M517.5 542.4L514.4 564.6M593.3 458L606.4 444.7M595.4 521.8L603.9 525.7M458.1 642.7L475.8 641.1M429.3 664.1L429.1 648.9M569.9 463.1L565.7 479.8M432.6 584L437.6 595.2M592.9 521L575.3 516.2M456.6 675.9L451.6 664.7M459.9 595.8L460.1 611M541.8 483.9L520.8 486M548.2 578.9L561.3 565.7M431.1 617.2L413.4 618.8M652.9 468.7L657.9 479.9M385.5 640.9L395 635.3M516.5 623.6L534.1 628.4M486.6 538.1L495.1 542M680.1 480.5L680.4 495.7M651.3 501.9L633.6 503.5M514.1 622.8L505.6 618.9M484.2 537.3L466.6 532.5M605.7 525.6L615.2 520M629 443.4L625.9 465.6M569.6 543.7L587.3 542.1M439.4 595.2L452.5 582M458.9 677L479.9 674.9M540.8 565.1L540.6 549.9M544.1 485L549.1 496.2M407.8 639.9L425.4 644.7M568.1 576.9L563.1 565.7M430.8 697.8L435 681.1M571.4 496.8L571.6 512M659.7 479.9L672.8 466.7M542.6 518.2L524.9 519.8M405.3 639.1L396.8 635.2M483.2 618.5L486.3 596.3M497 541.9L506.5 536.3M628 524.6L645.6 529.4M598.1 439.1L606.6 443M460.9 560L478.6 558.4M432.1 581.4L431.8 566.2M625.6 523.8L617.1 519.9M595.7 438.3L578.1 433.5M459.3 593.2L454.3 582M451.9 662.9L461.4 657.2M550.9 496.2L564 483M570.4 578L591.4 575.9M652.3 466.1L652.1 450.9M374.4 634.8L377.6 612.6M519.3 540.9L536.9 545.7M679.6 477.9L674.6 466.7M542.3 598.8L546.5 582.1M654.1 419.2L636.4 420.8M516.8 540.1L508.3 536.2M430.1 701.6L426.9 723.8M505.8 617.2L518.9 603.9M594.7 519.5L597.8 497.3M608.5 442.9L618 437.3M482.5 622.3L478.3 639M572.4 461L590.1 459.4M461.6 594.3L482.6 592.2M543.6 482.4L543.3 467.2M454.4 643.1L433.4 645.2M570.8 494.2L565.8 483M563.4 563.9L572.9 558.2M433.5 615.1L437.7 598.4M681.9 479L702.9 476.9M397.1 633.5L410.2 620.2M485.9 535.8L489.1 513.6M399.2 697.3L407.7 701.2M630.8 441.9L648.4 446.7M373.7 638.6L369.5 655.3M653.8 499.8L658 483.1M628.3 441.1L619.8 437.2M541.6 602.6L538.4 624.8M617.3 518.2L630.4 504.9"/>
<g class="as" stroke-width="4.31"><path id="l121" d="M430.3 699.7h0M567.6 543.9h0M541.8 600.7h0M679.1 444.9h0M433.1 617h0M653.3 501.7h0M544.6 518h0M656.1 419h0"/></g><use href="#l121" class="ash" stroke-width="1.62"/>
<g class="fe" stroke-width="4.31"><path id="l122" d="M411.4 619h0M631.6 503.7h0M522.9 520h0M477.8 640.9h0M634.4 421h0M369.1 657.2h0M589.3 541.9h0M480.6 558.2h0M435.5 679.2h0M592 459.2h0"/></g><use href="#l122" class="feh" stroke-width="1.62"/>
<circle class="ba" cx="489.7" cy="509" r="5.29"/>
<circle class="ba" cx="601.2" cy="410" r="5.29"/>
<circle class="ba" cx="511" cy="651.9" r="5.29"/>
<circle class="bi" cx="402.2" cy="668.2" r="5.30"/>
<circle class="bj" cx="622.5" cy="552.9" r="5.30"/>
<circle class="bi" cx="513.8" cy="569.2" r="5.30"/>
<path class="bd" d="M594 523.3L589.8 540M454.6 580.2L464.1 574.5M456.7 644.2L461.7 655.4M573.1 495.3L594.1 493.2M483.9 656L484.2 671.2M565.9 544.1L544.9 546.2M455.1 677.4L437.4 679M674.9 464.9L684.4 459.2M545 516.1L549.2 499.4M409.5 701.1L419 695.5M432.8 618.9L429.7 641.1M508.6 534.5L521.7 521.2M597.4 436.8L600.6 414.6M510.7 598.3L519.2 602.2M485.2 539.6L481 556.3M508.2 597.5L490.6 592.7M653.1 503.6L649.9 525.8M457.1 560.4L436.1 562.5M463.5 655.4L476.6 642.2M566.1 481.2L575.6 475.5M568.2 545.2L573.2 556.4M431.8 700.1L449.4 704.9M401.9 614.6L410.4 618.5M595.4 557L595.7 572.2M677.4 445.1L656.4 447.2M566.6 578.4L548.9 580M429.4 699.3L420.9 695.4M399.5 613.8L381.9 609M521 602.1L530.5 596.5M544.3 519.9L541.2 542.1M620.1 435.5L633.2 422.2M622.2 499.3L630.7 503.2M484.9 620.2L502.6 618.6M456.1 641.6L455.9 626.4M596.7 440.6L592.5 457.3M459.4 561.5L464.4 572.7M619.7 498.5L602.1 493.7M483.4 653.4L478.4 642.2M486.7 573.3L486.9 588.5M568.6 461.4L547.6 463.5M575 556.4L588.1 543.2M457.9 594.7L440.2 596.3M679.7 446.2L684.7 457.4M398.5 695L401.6 672.8M412.3 618.4L421.8 612.8M543.3 601.1L560.9 605.9M513.4 515.6L521.9 519.5M376.2 636.5L393.9 634.9M678.1 479.4L660.4 481M540.9 600.3L532.4 596.4M511 514.8L493.4 510M632.5 503.1L642 497.5M655.8 420.9L652.7 443.1M374.6 669.7L369.6 658.5M596.4 521.2L614.1 519.6M466.2 572.7L479.3 559.5M485.7 654.5L506.7 652.4M567.6 542.6L567.4 527.4M570.9 462.5L575.9 473.7M434.6 617.4L452.2 622.2M594.9 554.4L589.9 543.2M457.6 675.3L461.8 658.6M598.2 474.3L598.4 489.5M569.4 495.7L551.7 497.3M432.1 616.6L423.6 612.7M421.1 693.7L434.2 680.4M510 596L513.1 573.8M523.8 519.4L533.3 513.8M654.8 502.1L672.4 506.9M624.9 416.6L633.4 420.5M487.7 537.5L505.4 535.9M376.9 670.8L397.9 668.7M458.9 558.9L458.6 543.7M652.4 501.3L643.9 497.4M622.5 415.8L604.9 411M486.1 570.7L481.1 559.5M478.7 640.4L488.2 634.7M577.7 473.7L590.8 460.5M597.2 555.5L618.2 553.4M401.2 612.3L404.4 590.1M546.1 518.4L563.7 523.2M569.1 576.3L573.3 559.6M543.6 517.6L535.1 513.7M456.9 679.1L453.7 701.3M532.6 594.7L545.7 581.4M621.5 497L624.6 474.8M635.3 420.4L644.8 414.8M509.3 599.8L505.1 616.5M369.9 656.7L379.4 651M599.2 438.5L616.9 436.9M488.4 571.8L509.4 569.7"/>
<g class="as" stroke-width="4.32"><path id="l124" d="M482.9 620.4h0M457.1 677.2h0M594.4 521.4h0M568.6 578.2h0M459.9 594.5h0M680.1 479.2h0M571.4 495.5h0"/></g><use href="#l124" class="ash" stroke-width="1.62"/>
<g class="fe" stroke-width="4.32"><path id="l125" d="M547 580.2h0M438.2 596.5h0M658.4 481.2h0M549.7 497.5h0M504.6 618.4h0M395.9 634.7h0M616.1 519.4h0M507.4 535.7h0"/></g><use href="#l125" class="feh" stroke-width="1.62"/>
<circle class="ba" cx="405" cy="585.5" r="5.30"/>
<circle class="bi" cx="625.2" cy="470.2" r="5.30"/>
<circle class="ba" cx="516.5" cy="486.5" r="5.30"/>
<circle class="ba" cx="426.3" cy="728.4" r="5.30"/>
<circle class="ba" cx="628" cy="387.5" r="5.30"/>
<circle class="ba" cx="537.8" cy="629.4" r="5.30"/>
<circle class="bi" cx="429.1" cy="645.7" r="5.30"/>
<circle class="bj" cx="649.3" cy="530.4" r="5.30"/>
<path class="bd" d="M570.4 459.9L570.1 444.7M481.2 620.6L460.2 622.7M597.6 471.7L592.6 460.5M590.2 541.4L599.7 535.7M460.3 592.6L464.5 575.9M423.9 611L437 597.7M512.7 513.3L515.9 491.1M426 674.8L434.5 678.7M400.5 616.1L396.3 632.8M680.6 477.3L684.8 460.6M423.5 674L405.9 669.2M655.1 418.6L646.6 414.7M568.4 580.1L565.2 602.3M644.1 495.7L657.2 482.4M372.4 636.9L351.4 639M620.8 500.8L616.6 517.5M481.4 557.7L490.9 552M483.5 621.7L488.5 632.9M599.9 472.8L620.9 470.7M510.7 633.5L511 648.7M592.7 521.6L571.7 523.7M481.9 654.9L464.2 656.5M571.8 493.6L576 476.9M436.3 678.6L445.8 673M459.6 596.4L456.5 618.6M535.4 512L548.5 498.7M624.2 414.3L627.4 392.1M537.5 575.8L546 579.7M400.2 696.7L417.9 695.1M512 517.1L507.8 533.8M374.7 638L379.7 649.2M535 575L517.4 570.2M679.9 481.1L676.7 503.3M402 649.8L402.2 665M483.9 537.9L462.9 540M490.3 632.9L503.4 619.7M592.9 458.7L602.4 453M595 522.7L600 533.9M458.6 677.6L476.2 682.4M428.7 592.1L437.2 596M622.2 534.5L622.5 549.7M593.4 555.9L575.7 557.5M456.2 676.8L447.7 672.9M426.3 591.3L408.7 586.5M547.8 579.6L557.3 574M571.1 497.4L568 519.6M649 476.8L657.5 480.7M511.7 597.7L529.4 596.1M381.5 649.2L394.6 636M482.9 619.1L482.7 603.9M623.5 418.1L619.3 434.8M486.2 539L491.2 550.2M646.5 476L628.9 471.2M510.2 630.9L505.2 619.7M513.5 550.8L513.7 566M595.4 438.9L574.4 441M601.8 533.9L614.9 520.7M484.7 572.2L467 573.8M425.3 672.5L428.4 650.3M439.1 595.9L448.6 590.3M570.1 578.6L587.7 583.4M540.2 493.1L548.7 497M403 614L420.7 612.4M374.2 635.4L373.9 620.2M567.7 577.8L559.2 573.9M537.8 492.3L520.2 487.5M659.3 480.6L668.8 475M401.4 647.2L396.4 636M623.2 498.7L640.9 497.1M493 550.2L506.1 537M512.5 632L533.5 629.9M594.4 520.1L594.2 504.9M597.7 440L602.7 451.2M461.4 594.9L479 599.7M621.7 531.9L616.7 520.7M484.4 652.8L488.6 636.1M625 451.8L625.2 467M596.2 473.2L578.5 474.8M458.9 594.1L450.4 590.2M447.9 671.2L461 657.9M536.8 573.5L539.9 551.3M550.6 496.9L560.1 491.3M681.6 479.6L699.2 484.4M424.6 676.3L420.4 693M514.5 515L532.2 513.4M403.7 648.3L424.7 646.2M485.7 536.4L485.4 521.2M679.2 478.8L670.7 474.9"/>
<g class="as" stroke-width="4.32"><path id="l127" d="M398.2 696.9h0M509.7 597.9h0M483.9 654.7h0M621.2 498.9h0M375.2 671h0M595.4 555.7h0M486.7 572h0M624 416.2h0"/></g><use href="#l127" class="ash" stroke-width="1.62"/>
<g class="fe" stroke-width="4.32"><path id="l128" d="M462.2 656.7h0M618.8 436.7h0M573.8 557.7h0M465 574h0M685.2 458.7h0M419.9 694.9h0M576.5 475h0M531.4 595.9h0M422.7 612.2h0"/></g><use href="#l128" class="feh" stroke-width="1.62"/>
<circle class="bi" cx="540.6" cy="546.7" r="5.30"/>
<circle class="ba" cx="431.8" cy="563" r="5.30"/>
<circle class="ba" cx="652" cy="447.7" r="5.30"/>
<circle class="ba" cx="543.3" cy="464" r="5.31"/>
<circle class="ba" cx="453.1" cy="705.9" r="5.31"/>
<circle class="ba" cx="564.6" cy="606.9" r="5.31"/>
<path class="bd" d="M512.9 548.2L507.9 537M505.5 617.9L515 612.2M375.6 669.1L379.8 652.4M604.5 451.2L617.6 438M624 533L645 530.9M428 589.8L431.2 567.6M572.9 495.9L590.5 500.7M595.9 553.8L600.1 537.1M570.4 495.1L561.9 491.2M483.7 656.6L480.5 678.8M559.4 572.2L572.5 558.9M648.3 474.5L651.4 452.3M536.1 577.3L531.9 594M396.7 634.2L406.2 628.5M398.8 698.2L403.8 709.4M626 416L643.7 414.4M515.2 549.3L536.2 547.2M597.2 437.4L596.9 422.2M426 710L426.3 725.2M508 598.1L487 600.2M624.4 449.2L619.4 438M617 518.9L626.5 513.2M487.1 570.1L491.3 553.4M450.7 588.5L463.8 575.2M539.5 490.8L542.7 468.6M452.8 652.3L461.3 656.2M427.3 593.6L423.1 610.3M450.3 651.5L432.7 646.7M595.2 557.6L592 579.8M670.9 473.2L684 459.9M399.2 614.4L378.2 616.5M405.6 709.4L418.7 696.2M647.6 478.3L643.4 495M508.2 535.2L517.7 529.5M510.3 599.2L515.3 610.4M626.7 450.3L647.7 448.2M537.5 611L537.8 626.2M619.5 499.1L598.5 501.2M508.7 632.4L491 634M598.6 471.1L602.8 454.4M463.1 656.1L472.6 650.5M486.4 573.9L483.3 596.1M562.2 489.5L575.3 476.2M564.3 553.3L572.8 557.2M427 674.2L444.7 672.6M398.2 695.6L398 680.4M538.8 494.6L534.6 511.3M401.5 615.5L406.5 626.7M561.8 552.5L544.2 547.7M425.5 707.4L420.5 696.2M428.8 627.3L429 642.5M510.7 515.4L489.7 517.5M517.1 610.4L530.2 597.2M400 648.7L382.3 650.3M619.7 436.2L629.2 430.5M621.8 500.2L626.8 511.4M485.4 655.1L503 659.9M455.5 569.6L464 573.5M649 512L649.3 527.2M620.2 533.4L602.5 535M483 654.3L474.5 650.4M453.1 568.8L435.5 564M574.6 557.1L584.1 551.5M597.9 474.9L594.8 497.1M675.8 454.3L684.3 458.2M538.5 575.2L556.2 573.6M408.3 626.7L421.4 613.5M427.8 708.5L448.8 706.4M509.7 596.6L509.5 581.4M513 516.5L518 527.7M673.3 453.5L655.7 448.7M376.7 671.4L394.3 676.2M537 608.4L532 597.2M540.3 528.3L540.5 543.5M622.2 416.4L601.2 418.5M628.6 511.4L641.7 498.2M511.5 549.7L493.8 551.3M374.2 670.6L365.7 666.7M452.1 650L455.2 627.8M465.9 573.4L475.4 567.8M596.9 556.1L614.5 560.9M567 470.6L575.5 474.5M429.8 591.5L447.5 589.9M401 612.9L400.7 597.7M594.5 555.3L586 551.4M564.6 469.8L547 465"/>
<g class="as" stroke-width="4.33"><path id="l130" d="M598.2 473h0M425 674.4h0M536.5 575.4h0M510.7 632.2h0M648 476.4h0M402 648.5h0M622.2 533.2h0"/></g><use href="#l130" class="ash" stroke-width="1.62"/>
<g class="fe" stroke-width="4.33"><path id="l131" d="M642.9 496.9h0M534.1 513.2h0M489.1 634.2h0M645.6 414.2h0M380.3 650.5h0M600.5 535.2h0M491.8 551.5h0M446.7 672.4h0M603.3 452.5h0"/></g><use href="#l131" class="feh" stroke-width="1.62"/>
<circle class="bi" cx="455.9" cy="623.2" r="5.31"/>
<circle class="bj" cx="676.1" cy="507.9" r="5.31"/>
<circle class="ba" cx="347.1" cy="639.5" r="5.31"/>
<circle class="bi" cx="567.4" cy="524.2" r="5.31"/>
<circle class="ba" cx="458.6" cy="540.5" r="5.31"/>
<circle class="ba" cx="570.1" cy="441.5" r="5.31"/>
<circle class="ba" cx="479.9" cy="683.4" r="5.31"/>
<path class="bd" d="M428.2 624.7L423.2 613.5M420.8 694.4L430.3 688.7M650 476.2L667.7 474.6M519.8 527.7L532.9 514.5M539.3 609.5L560.3 607.4M621.2 497.6L621 482.4M624.5 417.5L629.5 428.7M488.2 572.4L505.8 577.2M648.5 509.4L643.5 498.2M511.2 630.3L515.4 613.6M651.8 429.3L652 444.5M623 450.7L605.3 452.3M485.7 571.6L477.2 567.7M474.7 648.7L487.8 635.4M563.6 551L566.7 528.8M577.4 474.4L586.9 468.8M451.4 653.8L447.2 670.5M541.3 492.5L559 490.9M430.5 625.8L451.5 623.7M512.5 513.9L512.2 498.7M423.3 674.6L402.3 676.7M539.7 525.7L534.7 514.5M532.3 595.4L541.8 589.7M402.4 646.6L406.6 629.9M631.3 428.7L644.4 415.5M650.8 510.5L671.8 508.4M366 665L379.1 651.7M454.8 567.3L458 545.1M599.7 473.4L617.3 478.2M622.7 531.3L626.9 514.6M597.2 472.6L588.7 468.7M510.5 634.1L507.3 656.3M586.2 549.7L599.3 536.4M562.9 554.8L558.7 571.5M423.5 611.7L433 606M425.6 675.7L430.6 686.9M542 526.8L563 524.7M624 414.9L623.7 399.7M452.8 687.5L453.1 702.7M534.8 575.6L513.8 577.7M424 708.9L406.3 710.5M651.2 426.7L646.2 415.5M643.8 496.4L653.3 490.7M513.9 547.6L518.1 530.9M401.7 650.4L398.6 672.6M477.5 566L490.6 552.7M566.3 468.3L569.5 446.1M479.6 629.8L488.1 633.7M454.1 571.1L449.9 587.8M477.1 629L459.5 624.2M622 535.1L618.8 557.3M426 591.9L405 594M432.4 686.9L445.5 673.7M674.4 455.8L670.2 472.5M535 512.7L544.5 507M537.1 576.7L542.1 587.9M370.8 646.1L379.3 650M564.3 588.5L564.6 603.7M646.3 476.6L625.3 478.7M535.5 609.9L517.8 611.5M625.4 448.6L629.6 431.9M368.4 645.3L350.8 640.5M489.9 633.6L499.4 628M513.2 551.4L510.1 573.6M589 467L602.1 453.7M591.1 530.8L599.6 534.7M453.8 651.7L471.5 650.1M425 673.1L424.8 657.9M565.6 472.1L561.4 488.8M428.3 593L433.3 604.2M588.6 530L571 525.2M452.3 684.9L447.3 673.7M455.6 604.8L455.8 620M537.5 492.9L516.5 495M543.9 587.9L557 574.7M426.8 626.2L409.1 627.8M648.6 477.7L653.6 488.9M381.2 649.9L390.7 644.3M512.2 632.6L529.8 637.4M482.3 547.1L490.8 551M675.8 489.5L676.1 504.7M647 510.9L629.3 512.5M509.8 631.8L501.3 627.9M479.9 546.3L462.3 541.5M601.4 534.6L610.9 529M624.7 452.4L621.6 474.6"/>
<g class="as" stroke-width="4.33"><path id="l133" d="M513.5 549.5h0M625 450.5h0M451.8 651.9h0M426 708.7h0M563.3 552.9h0M537.5 609.7h0"/></g><use href="#l133" class="ash" stroke-width="1.62"/>
<g class="fe" stroke-width="4.33"><path id="l134" d="M558.2 573.4h0M449.5 589.7h0M669.7 474.4h0M404.4 710.7h0M560.9 490.7h0M515.9 611.7h0M407.1 628h0M627.4 512.7h0M518.6 529h0M473.5 649.9h0"/></g><use href="#l134" class="feh" stroke-width="1.62"/>
<circle class="ba" cx="591.4" cy="584.4" r="5.31"/>
<circle class="bi" cx="482.7" cy="600.7" r="5.32"/>
<circle class="ba" cx="702.9" cy="485.4" r="5.32"/>
<circle class="ba" cx="373.9" cy="617" r="5.32"/>
<circle class="bi" cx="594.1" cy="501.7" r="5.32"/>
<circle class="ba" cx="485.4" cy="518" r="5.32"/>
<circle class="ba" cx="596.9" cy="419" r="5.32"/>
<path class="bd" d="M565.3 552.7L583 551.1M435.1 604.2L448.2 591M454.6 686L475.6 683.9M536.5 574.1L536.3 558.9M539.8 494L544.8 505.2M403.5 648.9L421.1 653.7M563.8 585.9L558.8 574.7M426.5 706.8L430.7 690.1M567.1 505.8L567.3 521M655.4 488.9L668.5 475.7M538.3 527.2L520.6 528.8M401 648.1L392.5 644.2M478.9 627.5L482 605.3M492.7 550.9L502.2 545.3M623.7 533.6L641.3 538.4M593.8 448.1L602.3 452M456.6 569L474.3 567.4M427.8 590.4L427.5 575.2M621.3 532.8L612.8 528.9M591.4 447.3L573.8 442.5M455 602.2L450 591M447.6 671.9L457.1 666.2M546.6 505.2L559.7 492M566.1 587L587.1 584.9M648 475.1L647.8 459.9M370.1 643.8L373.3 621.6M515 549.9L532.6 554.7M675.3 486.9L670.3 475.7M538 607.8L542.2 591.1M649.8 428.2L632.1 429.8M512.5 549.1L504 545.2M425.8 710.6L422.6 732.8M501.5 626.2L514.6 612.9M590.4 528.5L593.5 506.3M604.2 451.9L613.7 446.3M478.2 631.3L474 648M568.1 470L585.8 468.4M457.3 603.3L478.3 601.2M539.3 491.4L539 476.2M450.1 652.1L429.1 654.2M566.5 503.2L561.5 492M559.1 572.9L568.6 567.2M429.2 624.1L433.4 607.4M677.6 488L698.6 485.9M392.8 642.5L405.9 629.2M481.6 544.8L484.8 522.6M394.9 706.3L403.4 710.2M626.5 450.9L644.1 455.7M369.4 647.6L365.2 664.3M649.5 508.8L653.7 492.1M624 450.1L615.5 446.2M537.3 611.6L534.1 633.8M613 527.2L626.1 513.9M589.7 532.3L585.5 549M450.3 589.2L459.8 583.5M452.4 653.2L457.4 664.4M568.8 504.3L589.8 502.2M479.6 665L479.9 680.2M561.6 553.1L540.6 555.2M450.8 686.4L433.1 688M670.6 473.9L680.1 468.2M540.7 525.1L544.9 508.4M405.2 710.1L414.7 704.5M428.5 627.9L425.4 650.1M504.3 543.5L517.4 530.2M593.1 445.8L596.3 423.6M506.4 607.3L514.9 611.2M480.9 548.6L476.7 565.3M503.9 606.5L486.3 601.7M648.8 512.6L645.6 534.8M452.8 569.4L431.8 571.5M459.2 664.4L472.3 651.2M561.8 490.2L571.3 484.5M563.9 554.2L568.9 565.4M427.5 709.1L445.1 713.9M397.6 623.6L406.1 627.5M591.1 566L591.4 581.2M673.1 454.1L652.1 456.2M562.3 587.4L544.6 589M425.1 708.3L416.6 704.4M395.2 622.8L377.6 618M516.7 611.1L526.2 605.5M540 528.9L536.9 551.1M615.8 444.5L628.9 431.2M617.9 508.3L626.4 512.2M480.6 629.2L498.3 627.6M451.8 650.6L451.6 635.4"/>
<g class="as" stroke-width="4.34"><path id="l136" d="M674.8 453.9h0M428.8 626h0M649 510.7h0M540.3 527h0M651.8 428h0M478.6 629.4h0M452.8 686.2h0M369.9 645.7h0"/></g><use href="#l136" class="ash" stroke-width="1.63"/>
<g class="fe" stroke-width="4.34"><path id="l137" d="M630.1 430h0M364.8 666.2h0M585 550.9h0M476.2 567.2h0M431.1 688.2h0M587.8 468.2h0M542.6 589.2h0M433.9 605.5h0M654.1 490.2h0"/></g><use href="#l137" class="feh" stroke-width="1.63"/>
<circle class="ba" cx="506.7" cy="660.9" r="5.32"/>
<circle class="ba" cx="397.9" cy="677.2" r="5.32"/>
<circle class="ba" cx="618.2" cy="561.9" r="5.32"/>
<circle class="bi" cx="509.5" cy="578.2" r="5.32"/>
<circle class="ba" cx="400.7" cy="594.5" r="5.32"/>
<circle class="bi" cx="621" cy="479.2" r="5.32"/>
<circle class="ba" cx="512.2" cy="495.5" r="5.32"/>
<path class="bd" d="M592.4 449.6L588.2 466.3M455.1 570.5L460.1 581.7M615.4 507.5L597.8 502.7M479.1 662.4L474.1 651.2M482.4 582.3L482.6 597.5M564.3 470.4L543.3 472.5M570.7 565.4L583.8 552.2M453.6 603.7L435.9 605.3M675.4 455.2L680.4 466.4M394.2 704L397.3 681.8M408 627.4L417.5 621.8M539 610.1L556.6 614.9M509.1 524.6L517.6 528.5M371.9 645.5L389.6 643.9M673.8 488.4L656.1 490M536.6 609.3L528.1 605.4M506.7 523.8L489.1 519M628.2 512.1L637.7 506.5M651.5 429.9L648.4 452.1M370.3 678.7L365.3 667.5M592.1 530.2L609.8 528.6M461.9 581.7L475 568.5M481.4 663.5L502.4 661.4M563.3 551.6L563.1 536.4M566.6 471.5L571.6 482.7M430.3 626.4L447.9 631.2M590.6 563.4L585.6 552.2M453.3 684.3L457.5 667.6M593.9 483.3L594.1 498.5M565.1 504.7L547.4 506.3M427.8 625.6L419.3 621.7M416.8 702.7L429.9 689.4M505.7 605L508.8 582.8M519.5 528.4L529 522.8M650.5 511.1L668.1 515.9M620.6 425.6L629.1 429.5M483.4 546.5L501.1 544.9M372.6 679.8L393.6 677.7M454.6 567.9L454.3 552.7M648.1 510.3L639.6 506.4M618.2 424.8L600.6 420M481.8 579.7L476.8 568.5M474.4 649.4L483.9 643.7M573.4 482.7L586.5 469.5M592.9 564.5L613.9 562.4M396.9 621.3L400.1 599.1M541.8 527.4L559.4 532.2M564.8 585.3L569 568.6M539.3 526.6L530.8 522.7M452.6 688.1L449.4 710.3M528.3 603.7L541.4 590.4M617.2 506L620.3 483.8M631 429.4L640.5 423.8M505 608.8L500.8 625.5M365.6 665.7L375.1 660M594.9 447.5L612.6 445.9M484.1 580.8L505.1 578.7M566.1 468.9L565.8 453.7M476.9 629.6L455.9 631.7M593.3 480.7L588.3 469.5M585.9 550.4L595.4 544.7M456 601.6L460.2 584.9M419.6 620L432.7 606.7M508.4 522.3L511.6 500.1M421.7 683.8L430.2 687.7M396.2 625.1L392 641.8M676.3 486.3L680.5 469.6M419.2 683L401.6 678.2M650.8 427.6L642.3 423.7M564.1 589.1L560.9 611.3M639.8 504.7L652.9 491.4M368.1 645.9L347.1 648M616.5 509.8L612.3 526.5M477.1 566.7L486.6 561M479.2 630.7L484.2 641.9M595.6 481.8L616.6 479.7M506.4 642.5L506.7 657.7M588.4 530.6L567.4 532.7M477.6 663.9L459.9 665.5M567.5 502.6L571.7 485.9M432 687.6L441.5 682M455.3 605.4L452.2 627.6M531.1 521L544.2 507.7M619.9 423.3L623.1 401.1M533.2 584.8L541.7 588.7M395.9 705.7L413.6 704.1M507.7 526.1L503.5 542.8M370.4 647L375.4 658.2M530.7 584L513.1 579.2"/>
<g class="as" stroke-width="4.34"><path id="l139" d="M590.1 530.4h0M564.3 587.2h0M455.6 603.5h0M675.8 488.2h0M567.1 504.5h0M393.9 705.9h0M505.4 606.9h0"/></g><use href="#l139" class="ash" stroke-width="1.63"/>
<g class="fe" stroke-width="4.34"><path id="l140" d="M545.4 506.5h0M500.3 627.4h0M391.6 643.7h0M611.8 528.4h0M503.1 544.7h0M458 665.7h0M614.5 445.7h0M569.5 566.7h0"/></g><use href="#l140" class="feh" stroke-width="1.63"/>
<circle class="ba" cx="422" cy="737.4" r="5.33"/>
<circle class="ba" cx="623.7" cy="396.5" r="5.33"/>
<circle class="ba" cx="533.5" cy="638.4" r="5.33"/>
<circle class="ba" cx="424.8" cy="654.7" r="5.33"/>
<circle class="ba" cx="645" cy="539.4" r="5.33"/>
<circle class="bi" cx="536.2" cy="555.7" r="5.33"/>
<circle class="ba" cx="427.5" cy="572" r="5.33"/>
<circle class="ba" cx="647.8" cy="456.7" r="5.33"/>
<path class="bd" d="M675.6 490.1L672.4 512.3M397.7 658.8L397.9 674M479.6 546.9L458.6 549M486 641.9L499.1 628.7M588.6 467.7L598.1 462M590.7 531.7L595.7 542.9M454.3 686.6L471.9 691.4M424.4 601.1L432.9 605M617.9 543.5L618.2 558.7M589.1 564.9L571.4 566.5M451.9 685.8L443.4 681.9M422 600.3L404.4 595.5M543.5 588.6L553 583M566.8 506.4L563.7 528.6M644.7 485.8L653.2 489.7M507.4 606.7L525.1 605.1M377.2 658.2L390.3 645M478.6 628.1L478.4 612.9M619.2 427.1L615 443.8M481.9 548L486.9 559.2M642.2 485L624.6 480.2M505.9 639.9L500.9 628.7M509.2 559.8L509.4 575M591.1 447.9L570.1 450M597.5 542.9L610.6 529.7M480.4 581.2L462.7 582.8M421 681.5L424.1 659.3M434.8 604.9L444.3 599.3M565.8 587.6L583.4 592.4M535.9 502.1L544.4 506M398.7 623L416.4 621.4M369.9 644.4L369.6 629.2M563.4 586.8L554.9 582.9M533.5 501.3L515.9 496.5M655 489.6L664.5 484M397.1 656.2L392.1 645M618.9 507.7L636.6 506.1M488.7 559.2L501.8 546M508.2 641L529.2 638.9M590.1 529.1L589.9 513.9M593.4 449L598.4 460.2M457.1 603.9L474.7 608.7M617.4 540.9L612.4 529.7M480.1 661.8L484.3 645.1M620.7 460.8L620.9 476M591.9 482.2L574.2 483.8M454.6 603.1L446.1 599.2M443.6 680.2L456.7 666.9M532.5 582.5L535.6 560.3M546.3 505.9L555.8 500.3M677.3 488.6L694.9 493.4M420.3 685.3L416.1 702M510.2 524L527.9 522.4M399.4 657.3L420.4 655.2M481.4 545.4L481.1 530.2M674.9 487.8L666.4 483.9M508.6 557.2L503.6 546M501.2 626.9L510.7 621.2M371.3 678.1L375.5 661.4M600.2 460.2L613.3 447M619.7 542L640.7 539.9M423.7 598.8L426.9 576.6M568.6 504.9L586.2 509.7M591.6 562.8L595.8 546.1M566.1 504.1L557.6 500.2M479.4 665.6L476.2 687.8M555.1 581.2L568.2 567.9M644 483.5L647.1 461.3M531.8 586.3L527.6 603M392.4 643.2L401.9 637.5M621.7 425L639.4 423.4M510.9 558.3L531.9 556.2M592.9 446.4L592.6 431.2M503.7 607.1L482.7 609.2M620.1 458.2L615.1 447M612.7 527.9L622.2 522.2M482.8 579.1L487 562.4M446.4 597.5L459.5 584.2M535.2 499.8L538.4 477.6M448.5 661.3L457 665.2M423 602.6L418.8 619.3M446 660.5L428.4 655.7M590.9 566.6L587.7 588.8"/>
<g class="as" stroke-width="4.34"><path id="l142" d="M479.6 663.7h0M396.7 623.2h0M616.9 507.9h0M370.9 680h0M591.1 564.7h0M482.4 581h0M619.7 425.2h0M593.9 482h0M420.7 683.4h0"/></g><use href="#l142" class="ash" stroke-width="1.63"/>
<g class="fe" stroke-width="4.34"><path id="l143" d="M460.7 583h0M680.9 467.7h0M415.6 703.9h0M572.2 484h0M527.1 604.9h0M418.4 621.2h0M638.6 505.9h0M529.9 522.2h0M484.8 643.2h0"/></g><use href="#l143" class="feh" stroke-width="1.63"/>
<circle class="ba" cx="539" cy="473" r="5.33"/>
<circle class="ba" cx="448.8" cy="714.9" r="5.33"/>
<circle class="ba" cx="560.3" cy="615.9" r="5.33"/>
<circle class="ba" cx="451.6" cy="632.2" r="5.33"/>
<circle class="ba" cx="671.8" cy="516.9" r="5.33"/>
<circle class="ba" cx="342.8" cy="648.5" r="5.33"/>
<circle class="bi" cx="563.1" cy="533.2" r="5.34"/>
<path class="bd" d="M666.6 482.2L679.7 468.9M394.9 623.4L373.9 625.5M643.3 487.3L639.1 504M503.9 544.2L513.4 538.5M506 608.2L511 619.4M622.4 459.3L643.4 457.2M533.2 620L533.5 635.2M615.2 508.1L594.2 510.2M504.4 641.4L486.7 643M594.3 480.1L598.5 463.4M458.8 665.1L468.3 659.5M482.1 582.9L479 605.1M557.9 498.5L571 485.2M560 562.3L568.5 566.2M422.7 683.2L440.4 681.6M534.5 503.6L530.3 520.3M397.2 624.5L402.2 635.7M557.5 561.5L539.9 556.7M424.5 636.3L424.7 651.5M506.4 524.4L485.4 526.5M512.8 619.4L525.9 606.2M395.7 657.7L378 659.3M615.4 445.2L624.9 439.5M617.5 509.2L622.5 520.4M481.1 664.1L498.7 668.9M451.2 578.6L459.7 582.5M644.7 521L645 536.2M615.9 542.4L598.2 544M478.7 663.3L470.2 659.4M448.8 577.8L431.2 573M570.3 566.1L579.8 560.5M593.6 483.9L590.5 506.1M671.5 463.3L680 467.2M534.2 584.2L551.9 582.6M404 635.7L417.1 622.5M505.4 605.6L505.2 590.4M508.7 525.5L513.7 536.7M669 462.5L651.4 457.7M532.7 617.4L527.7 606.2M536 537.3L536.2 552.5M617.9 425.4L596.9 427.5M624.3 520.4L637.4 507.2M507.2 558.7L489.5 560.3M447.8 659L450.9 636.8M461.6 582.4L471.1 576.8M592.6 565.1L610.2 569.9M562.7 479.6L571.2 483.5M425.5 600.5L443.2 598.9M396.7 621.9L396.4 606.7M590.2 564.3L581.7 560.4M560.3 478.8L542.7 474M423.9 633.7L418.9 622.5M645.7 485.2L663.4 483.6M515.5 536.7L528.6 523.5M535 618.5L556 616.4M616.9 506.6L616.7 491.4M620.2 426.5L625.2 437.7M483.9 581.4L501.5 586.2M644.2 518.4L639.2 507.2M506.9 639.3L511.1 622.6M647.5 438.3L647.7 453.5M618.7 459.7L601 461.3M481.4 580.6L472.9 576.7M470.4 657.7L483.5 644.4M559.3 560L562.4 537.8M573.1 483.4L582.6 477.8M447.1 662.8L442.9 679.5M537 501.5L554.7 499.9M426.2 634.8L447.2 632.7M508.2 522.9L507.9 507.7M535.4 534.7L530.4 523.5M528 604.4L537.5 598.7M398.1 655.6L402.3 638.9M627 437.7L640.1 424.5M646.5 519.5L667.5 517.4M450.5 576.3L453.7 554.1M595.4 482.4L613 487.2M618.4 540.3L622.6 523.6M592.9 481.6L584.4 477.7M506.2 643.1L503 665.3M581.9 558.7L595 545.4"/>
<g class="as" stroke-width="4.35"><path id="l145" d="M532.2 584.4h0M506.4 641.2h0M423.5 600.7h0M643.7 485.4h0M397.7 657.5h0M617.9 542.2h0M509.2 558.5h0M620.7 459.5h0"/></g><use href="#l145" class="ash" stroke-width="1.63"/>
<g class="fe" stroke-width="4.35"><path id="l146" d="M641.3 423.2h0M376 659.5h0M596.2 544.2h0M487.5 560.5h0M442.4 681.4h0M599 461.5h0M553.9 582.4h0M445.2 598.7h0M665.4 483.4h0"/></g><use href="#l146" class="feh" stroke-width="1.63"/>
<circle class="ba" cx="454.3" cy="549.5" r="5.34"/>
<circle class="ba" cx="565.8" cy="450.5" r="5.34"/>
<circle class="ba" cx="475.6" cy="692.4" r="5.34"/>
<circle class="ba" cx="587.1" cy="593.4" r="5.34"/>
<circle class="ba" cx="478.4" cy="609.7" r="5.34"/>
<path class="bd" d="M558.6 563.8L554.4 580.5M419.2 620.7L428.7 615M537.7 535.8L558.7 533.7M619.7 423.9L619.4 408.7M530.5 584.6L509.5 586.7M646.9 435.7L641.9 424.5M639.5 505.4L649 499.7M509.6 556.6L513.8 539.9M473.2 575L486.3 561.7M562 477.3L565.2 455.1M475.3 638.8L483.8 642.7M449.8 580.1L445.6 596.8M472.8 638L455.2 633.2M617.7 544.1L614.5 566.3M421.7 600.9L400.7 603M670.1 464.8L665.9 481.5M530.7 521.7L540.2 516M532.8 585.7L537.8 596.9M560 597.5L560.3 612.7M642 485.6L621 487.7M531.2 618.9L513.5 620.5M621.1 457.6L625.3 440.9M485.6 642.6L495.1 637M508.9 560.4L505.8 582.6M584.7 476L597.8 462.7M586.8 539.8L595.3 543.7M449.5 660.7L467.2 659.1M561.3 481.1L557.1 497.8M424 602L429 613.2M584.3 539L566.7 534.2M451.3 613.8L451.5 629M533.2 501.9L512.2 504M539.6 596.9L552.7 583.7M422.5 635.2L404.8 636.8M644.3 486.7L649.3 497.9M507.9 641.6L525.5 646.4M478 556.1L486.5 560M671.5 498.5L671.8 513.7M642.7 519.9L625 521.5M505.5 640.8L497 636.9M475.6 555.3L458 550.5M597.1 543.6L606.6 538M620.4 461.4L617.3 483.6M561 561.7L578.7 560.1M430.8 613.2L443.9 600M532.2 583.1L532 567.9M535.5 503L540.5 514.2M559.5 594.9L554.5 583.7M562.8 514.8L563 530M651.1 497.9L664.2 484.7M534 536.2L516.3 537.8M474.6 636.5L477.7 614.3M488.4 559.9L497.9 554.3M619.4 542.6L637 547.4M589.5 457.1L598 461M452.3 578L470 576.4M423.5 599.4L423.2 584.2M617 541.8L608.5 537.9M587.1 456.3L569.5 451.5M450.7 611.2L445.7 600M542.3 514.2L555.4 501M561.8 596L582.8 593.9M643.7 484.1L643.5 468.9M510.7 558.9L528.3 563.7M671 495.9L666 484.7M533.7 616.8L537.9 600.1M645.5 437.2L627.8 438.8M508.2 558.1L499.7 554.2M497.2 635.2L510.3 621.9M586.1 537.5L589.2 515.3M599.9 460.9L609.4 455.3M473.9 640.3L469.7 657"/>
<g class="as" stroke-width="4.35"><path id="l148" d="M447.5 660.9h0M559 561.9h0M533.2 618.7h0M450.3 578.2h0M670.5 462.9h0M424.5 635h0M644.7 519.7h0M536 536h0"/></g><use href="#l148" class="ash" stroke-width="1.63"/>
<g class="fe" stroke-width="4.35"><path id="l149" d="M556.6 499.7h0M511.5 620.7h0M402.8 637h0M623.1 521.7h0M514.3 538h0M469.2 658.9h0M625.8 439h0M580.7 559.9h0M471.9 576.2h0"/></g><use href="#l149" class="feh" stroke-width="1.63"/>
<circle class="ba" cx="698.6" cy="494.4" r="5.34"/>
<circle class="ba" cx="369.6" cy="626" r="5.34"/>
<circle class="bi" cx="589.9" cy="510.7" r="5.34"/>
<circle class="ba" cx="481.1" cy="527" r="5.34"/>
<circle class="ba" cx="592.6" cy="428" r="5.34"/>
<circle class="ba" cx="502.4" cy="669.9" r="5.34"/>
<path class="bd" d="M563.8 479L581.5 477.4M453 612.3L474 610.2M535 500.4L534.7 485.2M562.2 512.2L557.2 501M554.8 581.9L564.3 576.2M424.9 633.1L429.1 616.4M673.3 497L694.3 494.9M477.3 553.8L480.5 531.6M622.2 459.9L639.8 464.7M645.2 517.8L649.4 501.1M619.7 459.1L611.2 455.2M533 620.6L529.8 642.8M608.7 536.2L621.8 522.9M585.4 541.3L581.2 558M446 598.2L455.5 592.5M564.5 513.3L585.5 511.2M557.3 562.1L536.3 564.2M666.3 482.9L675.8 477.2M536.4 534.1L540.6 517.4M500 552.5L513.1 539.2M588.8 454.8L592 432.6M502.1 616.3L510.6 620.2M476.6 557.6L472.4 574.3M499.6 615.5L482 610.7M644.5 521.6L641.3 543.8M448.5 578.4L427.5 580.5M557.5 499.2L567 493.5M559.6 563.2L564.6 574.4M586.8 575L587.1 590.2M668.8 463.1L647.8 465.2M558 596.4L540.3 598M512.4 620.1L521.9 614.5M535.7 537.9L532.6 560.1M611.5 453.5L624.6 440.2M613.6 517.3L622.1 521.2M476.3 638.2L494 636.6M588.1 458.6L583.9 475.3M450.8 579.5L455.8 590.7M611.1 516.5L593.5 511.7M478.1 591.3L478.3 606.5M560 479.4L539 481.5M566.4 574.4L579.5 561.2M449.3 612.7L431.6 614.3M671.1 464.2L676.1 475.4M534.7 619.1L552.3 623.9M504.8 533.6L513.3 537.5M669.5 497.4L651.8 499M532.3 618.3L523.8 614.4M502.4 532.8L484.8 528M623.9 521.1L633.4 515.5M647.2 438.9L644.1 461.1M587.8 539.2L605.5 537.6M457.6 590.7L470.7 577.5M559 560.6L558.8 545.4M562.3 480.5L567.3 491.7M586.3 572.4L581.3 561.2M589.6 492.3L589.8 507.5M560.8 513.7L543.1 515.3M501.4 614L504.5 591.8M515.2 537.4L524.7 531.8M646.2 520.1L663.8 524.9M616.3 434.6L624.8 438.5M479.1 555.5L496.8 553.9M450.3 576.9L450 561.7"/>
<g class="as" stroke-width="4.36"><path id="l151" d="M647.5 437h0M474.3 638.4h0M585.8 539.4h0M560 596.2h0M477.1 555.7h0M451.3 612.5h0M671.5 497.2h0"/></g><use href="#l151" class="ash" stroke-width="1.63"/>
<g class="fe" stroke-width="4.36"><path id="l152" d="M583.5 477.2h0M538.4 598.2h0M429.6 614.5h0M649.9 499.2h0M541.1 515.5h0M496 636.4h0"/></g><use href="#l152" class="feh" stroke-width="1.63"/>
<circle class="ba" cx="613.9" cy="570.9" r="5.35"/>
<circle class="ba" cx="505.2" cy="587.2" r="5.35"/>
<circle class="ba" cx="396.4" cy="603.5" r="5.35"/>
<circle class="bi" cx="616.7" cy="488.2" r="5.35"/>
<circle class="ba" cx="507.9" cy="504.5" r="5.35"/>
<circle class="ba" cx="619.4" cy="405.5" r="5.35"/>
<circle class="ba" cx="529.2" cy="647.4" r="5.35"/>
<path class="bd" d="M643.8 519.3L635.3 515.4M613.9 433.8L596.3 429M477.5 588.7L472.5 577.5M569.1 491.7L582.2 478.5M588.6 573.5L609.6 571.4M537.5 536.4L555.1 541.2M560.5 594.3L564.7 577.6M535 535.6L526.5 531.7M524 612.7L537.1 599.4M612.9 515L616 492.8M626.7 438.4L636.2 432.8M500.7 617.8L496.5 634.5M590.6 456.5L608.3 454.9M479.8 589.8L500.8 587.7M561.8 477.9L561.5 462.7M589 489.7L584 478.5M581.6 559.4L591.1 553.7M451.7 610.6L455.9 593.9M504.1 531.3L507.3 509.1M672 495.3L676.2 478.6M646.5 436.6L638 432.7M559.8 598.1L556.6 620.3M635.5 513.7L648.6 500.4M612.2 518.8L608 535.5M472.8 575.7L482.3 570M591.3 490.8L612.3 488.7M584.1 539.6L563.1 541.7M563.2 511.6L567.4 494.9M526.8 530L539.9 516.7M615.6 432.3L618.8 410.1M528.9 593.8L537.4 597.7M503.4 535.1L499.2 551.8M526.4 593L508.8 588.2M671.3 499.1L668.1 521.3M475.3 555.9L454.3 558M584.3 476.7L593.8 471M586.4 540.7L591.4 551.9M613.6 552.5L613.9 567.7M584.8 573.9L567.1 575.5M539.2 597.6L548.7 592M562.5 515.4L559.4 537.6M640.4 494.8L648.9 498.7M503.1 615.7L520.8 614.1M614.9 436.1L610.7 452.8M477.6 557L482.6 568.2M637.9 494L620.3 489.2M504.9 568.8L505.1 584M586.8 456.9L565.8 459M593.2 551.9L606.3 538.7M476.1 590.2L458.4 591.8M561.5 596.6L579.1 601.4M531.6 511.1L540.1 515M559.1 595.8L550.6 591.9M529.2 510.3L511.6 505.5"/>
<g class="as" stroke-width="4.36"><path id="l154" d="M562.8 513.5h0M501.1 615.9h0M612.6 516.9h0M586.8 573.7h0M503.9 533.2h0"/></g><use href="#l154" class="ash" stroke-width="1.64"/>
<g class="fe" stroke-width="4.36"><path id="l155" d="M607.5 537.4h0M498.8 553.7h0M610.2 454.7h0M565.1 575.7h0M456.4 592h0M676.6 476.7h0M567.9 493h0"/></g><use href="#l155" class="feh" stroke-width="1.64"/>
<circle class="ba" cx="640.7" cy="548.4" r="5.35"/>
<circle class="ba" cx="532" cy="564.7" r="5.35"/>
<circle class="ba" cx="423.2" cy="581" r="5.35"/>
<circle class="ba" cx="643.5" cy="465.7" r="5.35"/>
<circle class="ba" cx="534.7" cy="482" r="5.36"/>
<path class="bd" d="M650.7 498.6L660.2 493M614.6 516.7L632.3 515.1M484.4 568.2L497.5 555M585.8 538.1L585.6 522.9M589.1 458L594.1 469.2M613.1 549.9L608.1 538.7M616.4 469.8L616.6 485M587.6 491.2L569.9 492.8M528.2 591.5L531.3 569.3M542 514.9L551.5 509.3M673 497.6L690.6 502.4M505.9 533L523.6 531.4M477.1 554.4L476.8 539.2M670.6 496.8L662.1 492.9M504.3 566.2L499.3 555M595.9 469.2L609 456M615.4 551L636.4 548.9M564.3 513.9L581.9 518.7M587.3 571.8L591.5 555.1M561.8 513.1L553.3 509.2M550.8 590.2L563.9 576.9M639.7 492.5L642.8 470.3M527.5 595.3L523.3 612M617.4 434L635.1 432.4M506.6 567.3L527.6 565.2M588.6 455.4L588.3 440.2M615.8 467.2L610.8 456M608.4 536.9L617.9 531.2M478.5 588.1L482.7 571.4M530.9 508.8L534.1 486.6M586.6 575.6L583.4 597.8M662.3 491.2L675.4 477.9M639 496.3L634.8 513M499.6 553.2L509.1 547.5M618.1 468.3L639.1 466.2M610.9 517.1L589.9 519.2M590 489.1L594.2 472.4M553.6 507.5L566.7 494.2M555.7 571.3L564.2 575.2M530.2 512.6L526 529.3M553.2 570.5L535.6 565.7M502.1 533.4L481.1 535.5M611.1 454.2L620.6 448.5M613.2 518.2L618.2 529.4M640.4 530L640.7 545.2M611.6 551.4L593.9 553M566 575.1L575.5 569.5M589.3 492.9L586.2 515.1"/>
<g class="as" stroke-width="4.37"><path id="l157" d="M478.1 590h0M615.4 434.2h0M589.6 491h0M527.9 593.4h0"/></g><use href="#l157" class="ash" stroke-width="1.64"/>
<g class="fe" stroke-width="4.37"><path id="l158" d="M522.8 613.9h0M634.3 514.9h0M525.5 531.2h0M637 432.2h0M591.9 553.2h0M483.2 569.5h0"/></g><use href="#l158" class="feh" stroke-width="1.64"/>
<circle class="ba" cx="556" cy="624.9" r="5.36"/>
<circle class="ba" cx="667.5" cy="525.9" r="5.36"/>
<circle class="ba" cx="558.8" cy="542.2" r="5.36"/>
<circle class="ba" cx="450" cy="558.5" r="5.36"/>
<circle class="ba" cx="561.5" cy="459.5" r="5.36"/>
<path class="bd" d="M667.2 472.3L675.7 476.2M529.9 593.2L547.6 591.6M504.4 534.5L509.4 545.7M664.7 471.5L647.1 466.7M531.7 546.3L531.9 561.5M613.6 434.4L592.6 436.5M620 529.4L633.1 516.2M502.9 567.7L485.2 569.3M588.3 574.1L605.9 578.9M558.4 488.6L566.9 492.5M585.9 573.3L577.4 569.4M556 487.8L538.4 483M641.4 494.2L659.1 492.6M511.2 545.7L524.3 532.5M612.6 515.6L612.4 500.4M615.9 435.5L620.9 446.7M639.9 527.4L634.9 516.2M643.2 447.3L643.4 462.5M614.4 468.7L596.7 470.3M555 569L558.1 546.8M568.8 492.4L578.3 486.8M532.7 510.5L550.4 508.9M503.9 531.9L503.6 516.7M531.1 543.7L526.1 532.5M622.7 446.7L635.8 433.5M642.2 528.5L663.2 526.4M591.1 491.4L608.7 496.2M614.1 549.3L618.3 532.6M588.6 490.6L580.1 486.7M577.6 567.7L590.7 554.4M554.3 572.8L550.1 589.5M533.4 544.8L554.4 542.7M615.4 432.9L615.1 417.7M642.6 444.7L637.6 433.5M635.2 514.4L644.7 508.7M505.3 565.6L509.5 548.9M557.7 486.3L560.9 464.1M613.4 553.1L610.2 575.3M665.8 473.8L661.6 490.5M526.4 530.7L535.9 525M637.7 494.6L616.7 496.7M616.8 466.6L621 449.9M580.4 485L593.5 471.7M582.5 548.8L591 552.7"/>
<g class="as" stroke-width="4.37"><path id="l160" d="M639.4 494.4h0M613.6 551.2h0M530.7 510.7h0M504.9 567.5h0M616.4 468.5h0"/></g><use href="#l160" class="ash" stroke-width="1.64"/>
<g class="fe" stroke-width="4.37"><path id="l161" d="M594.7 470.5h0M549.6 591.4h0M661.1 492.4h0M552.3 508.7h0M618.8 530.7h0"/></g><use href="#l161" class="feh" stroke-width="1.64"/>
<circle class="ba" cx="582.8" cy="602.4" r="5.36"/>
<circle class="ba" cx="694.3" cy="503.4" r="5.37"/>
<circle class="ba" cx="585.5" cy="519.7" r="5.37"/>
<circle class="ba" cx="476.8" cy="536" r="5.37"/>
<path class="bd" d="M557 490.1L552.8 506.8M580 548L562.4 543.2M528.9 510.9L507.9 513M640 495.7L645 506.9M667.2 507.5L667.5 522.7M638.4 528.9L620.7 530.5M592.8 552.6L602.3 547M616.1 470.4L613 492.6M556.7 570.7L574.4 569.1M531.2 512L536.2 523.2M558.5 523.8L558.7 539M646.8 506.9L659.9 493.7M529.7 545.2L512 546.8M615.1 551.6L632.7 556.4M585.2 466.1L593.7 470M612.7 550.8L604.2 546.9M582.8 465.3L565.2 460.5M538 523.2L551.1 510M639.4 493.1L639.2 477.9M666.7 504.9L661.7 493.7M641.2 446.2L623.5 447.8M581.8 546.5L584.9 524.3M595.6 469.9L605.1 464.3M559.5 488L577.2 486.4M530.7 509.4L530.4 494.2M557.9 521.2L552.9 510M669 506L690 503.9M617.9 468.9L635.5 473.7M640.9 526.8L645.1 510.1M615.4 468.1L606.9 464.2M604.4 545.2L617.5 531.9M581.1 550.3L576.9 567M560.2 522.3L581.2 520.2M662 491.9L671.5 486.2M532.1 543.1L536.3 526.4M584.5 463.8L587.7 441.6"/>
<g class="as" stroke-width="4.38"><path id="l163" d="M554.7 570.9h0M666.2 471.9h0M640.4 528.7h0M557.5 488.2h0M531.7 545h0M643.2 446h0"/></g><use href="#l163" class="ash" stroke-width="1.64"/>
<g class="fe" stroke-width="4.38"><path id="l164" d="M510 547h0M621.5 448h0M576.4 568.9h0M579.1 486.2h0"/></g><use href="#l164" class="feh" stroke-width="1.64"/>
<circle class="ba" cx="588.3" cy="437" r="5.37"/>
<circle class="ba" cx="609.6" cy="579.9" r="5.37"/>
<path class="bd" d="M640.2 530.6L637 552.8M553.2 508.2L562.7 502.5M664.5 472.1L643.5 474.2M607.2 462.5L620.3 449.2M609.3 526.3L617.8 530.2M583.8 467.6L579.6 484.3M606.8 525.5L589.2 520.7M555.7 488.4L534.7 490.5M666.8 473.2L671.8 484.4M665.2 506.4L647.5 508M619.6 530.1L629.1 524.5M642.9 447.9L639.8 470.1M583.5 548.2L601.2 546.6M558 489.5L563 500.7M585.3 501.3L585.5 516.5M556.5 522.7L538.8 524.3M641.9 529.1L659.5 533.9M612 443.6L620.5 447.5M639.5 528.3L631 524.4M609.6 442.8L592 438M564.8 500.7L577.9 487.5M608.6 524L611.7 501.8M622.4 447.4L631.9 441.8M586.3 465.5L604 463.9M557.5 486.9L557.2 471.7M584.7 498.7L579.7 487.5M667.7 504.3L671.9 487.6"/>
<g class="as" stroke-width="4.38"><path id="l166" d="M581.5 548.4h0M667.2 506.2h0M584.3 465.7h0M558.5 522.5h0"/></g><use href="#l166" class="ash" stroke-width="1.64"/>
<g class="fe" stroke-width="4.38"><path id="l167" d="M645.5 508.2h0M536.8 524.5h0M603.2 546.4h0"/></g><use href="#l167" class="feh" stroke-width="1.64"/>
<circle class="ba" cx="612.4" cy="497.2" r="5.37"/>
<circle class="ba" cx="503.6" cy="513.5" r="5.37"/>
<circle class="ba" cx="615.1" cy="414.5" r="5.38"/>
<circle class="ba" cx="636.4" cy="557.4" r="5.38"/>
<path class="bd" d="M642.2 445.6L633.7 441.7M631.2 522.7L644.3 509.4M607.9 527.8L603.7 544.5M587 499.8L608 497.7M558.9 520.6L563.1 503.9M611.3 441.3L614.5 419.1M667 508.1L663.8 530.3M580 485.7L589.5 480M636.1 503.8L644.6 507.7M610.6 445.1L606.4 461.8M633.6 503L616 498.2M582.5 465.9L561.5 468M646.4 507.6L655.9 502M610.3 525.7L628 524.1M584.8 467L589.8 478.2M612.1 478.8L612.3 494M583.3 500.2L565.6 501.8M668.7 506.6L686.3 511.4M666.3 505.8L657.8 501.9M591.6 478.2L604.7 465"/>
<g class="as" stroke-width="4.39"><path id="l169" d="M608.3 525.9h0M611.1 443.2h0M585.3 500h0"/></g><use href="#l169" class="ash" stroke-width="1.64"/>
<g class="fe" stroke-width="4.38"><path id="l170" d="M605.9 463.7h0M672.3 485.7h0M563.6 502h0M630 523.9h0"/></g><use href="#l170" class="feh" stroke-width="1.64"/>
<circle class="ba" cx="639.1" cy="474.7" r="5.38"/>
<circle class="ba" cx="530.4" cy="491" r="5.38"/>
<path class="bd" d="M635.4 501.5L638.5 479.3M613.1 443L630.8 441.4M584.3 464.4L584 449.2M611.5 476.2L606.5 465M658 500.2L671.1 486.9M634.7 505.3L630.5 522M613.8 477.3L634.8 475.2M585.7 498.1L589.9 481.4M606.8 463.2L616.3 457.5M662.9 481.3L671.4 485.2M660.4 480.5L642.8 475.7M609.3 443.4L588.3 445.5M637.1 503.2L654.8 501.6M611.6 444.5L616.6 455.7M638.9 456.3L639.1 471.5M610.1 477.7L592.4 479.3"/>
<g class="as" stroke-width="4.39"><path id="l172" d="M635.1 503.4h0"/></g><use href="#l172" class="ash" stroke-width="1.65"/>
<g class="fe" stroke-width="4.39"><path id="l173" d="M632.7 441.2h0M590.4 479.5h0"/></g><use href="#l173" class="feh" stroke-width="1.65"/>
<circle class="ba" cx="663.2" cy="534.9" r="5.38"/>
<circle class="ba" cx="557.2" cy="468.5" r="5.39"/>
<path class="bd" d="M618.4 455.7L631.5 442.5M611.1 441.9L610.8 426.7M638.3 453.7L633.3 442.5M661.5 482.8L657.3 499.5M612.5 475.6L616.7 458.9"/>
<g class="as" stroke-width="4.39"><path id="l175" d="M612.1 477.5h0M661.9 480.9h0"/></g><use href="#l175" class="ash" stroke-width="1.65"/>
<g class="fe" stroke-width="4.39"><path id="l176" d="M656.8 501.4h0M617.2 457h0"/></g><use href="#l176" class="feh" stroke-width="1.65"/>
<circle class="ba" cx="690" cy="512.4" r="5.39"/>
<circle class="ba" cx="584" cy="446" r="5.39"/>
<path class="bd" d="M636.9 455.2L619.2 456.8"/>
<g class="as" stroke-width="4.40"><path id="l178" d="M638.9 455h0"/></g><use href="#l178" class="ash" stroke-width="1.65"/>
<circle class="ba" cx="610.8" cy="423.5" r="5.40"/>
</g></g>
<g fill="none" stroke-linecap="round" stroke-linejoin="round">
<path d="M41 494.7L306 522.2" stroke="#c3161c" stroke-width="2.6"/>
<path d="M306 522.2C311 522.7 316.1 521.1 321.1 521.1C326.1 521.1 326.7 533.2 331.7 533.2" stroke="#8e0f14" stroke-width="3.2"/>
<path d="M331.7 533.2C335.9 533.2 342.6 506 346.8 506C351 506 347.1 570.1 351.3 570.1" stroke="#8e0f14" stroke-width="3.9"/>
<path d="M351.3 570.1C355.5 570.1 369.8 458.3 374 458.3C378.2 458.3 364.7 625.9 368.9 625.9C373.1 625.9 395.5 424.5 399.7 424.5C403.9 424.5 386.4 632 390.6 632C394.8 632 415.1 462.9 419.3 462.9C423.5 462.9 416.6 576.1 420.8 576.1C425 576.1 433.2 514.2 437.4 514.2C440.9 514.2 440.9 545.9 444.4 545.9C447.9 545.9 452 536.2 455.5 536.2C459 536.2 466.5 541.5 470 541.5" stroke="#8e0f14" stroke-width="4.7"/>
<path d="M306 522.2C311 522.7 316.1 521.1 321.1 521.1C326.1 521.1 326.7 533.2 331.7 533.2" stroke="#cf1a21" stroke-width="2.0"/>
<path d="M331.7 533.2C335.9 533.2 342.6 506 346.8 506C351 506 347.1 570.1 351.3 570.1" stroke="#cf1a21" stroke-width="2.5"/>
<path d="M351.3 570.1C355.5 570.1 369.8 458.3 374 458.3C378.2 458.3 364.7 625.9 368.9 625.9C373.1 625.9 395.5 424.5 399.7 424.5C403.9 424.5 386.4 632 390.6 632C394.8 632 415.1 462.9 419.3 462.9C423.5 462.9 416.6 576.1 420.8 576.1C425 576.1 433.2 514.2 437.4 514.2C440.9 514.2 440.9 545.9 444.4 545.9C447.9 545.9 452 536.2 455.5 536.2C459 536.2 466.5 541.5 470 541.5" stroke="#cf1a21" stroke-width="3.1"/>
<path d="M470 541.5C485 543.5 495 544 504 544" stroke="#c3161c" stroke-width="3"/>
</g>
<polygon points="524.4,544.2 499.4,528.9 504.5,544.2 499.4,558.4" fill="#c3161c"/>
<path d="M40.8 544.8L96 544.8 96.2 544.8 96.4 544.8 96.6 544.8 96.8 544.8 97 544.8 97.2 544.8 97.4 544.8 97.6 544.8 97.8 544.8 98 544.8 98.2 544.8 98.4 544.8 98.6 544.8 98.8 544.8 99 544.8 99.2 544.8 99.4 544.8 99.6 544.8 99.8 544.8 100 544.8 100.2 544.8 100.4 544.8 100.6 544.8 100.8 544.8 101 544.8 101.2 544.8 101.4 544.8 101.6 544.8 101.8 544.8 102 544.8 102.2 544.8 102.4 544.8 102.6 544.8 102.8 544.8 103 544.8 103.2 544.8 103.4 544.8 103.6 544.8 103.8 544.7 104 544.7 104.2 544.7 104.4 544.7 104.6 544.7 104.8 544.7 105 544.8 105.2 544.8 105.4 544.8 105.6 544.8 105.8 544.8 106 544.8 106.2 544.9 106.4 544.9 106.6 544.9 106.8 544.9 107 544.9 107.2 544.9 107.4 544.9 107.6 544.9 107.8 544.9 108 544.9 108.2 544.8 108.4 544.8 108.6 544.8 108.8 544.7 109 544.7 109.2 544.6 109.4 544.6 109.6 544.6 109.8 544.5 110 544.5 110.2 544.5 110.4 544.5 110.6 544.6 110.8 544.6 111 544.7 111.2 544.7 111.4 544.8 111.6 544.9 111.8 545 112 545.1 112.2 545.2 112.4 545.2 112.6 545.3 112.8 545.3 113 545.3 113.2 545.3 113.4 545.3 113.6 545.2 113.8 545.1 114 545 114.2 544.8 114.4 544.7 114.6 544.5 114.8 544.3 115 544.2 115.2 544 115.4 543.9 115.6 543.8 115.8 543.8 116 543.8 116.2 543.8 116.4 544 116.6 544.1 116.8 544.3 117 544.6 117.2 544.9 117.4 545.2 117.6 545.5 117.8 545.8 118 546.1 118.2 546.3 118.4 546.5 118.6 546.6 118.8 546.7 119 546.6 119.2 546.4 119.4 546.2 119.6 545.8 119.8 545.4 120 544.9 120.2 544.4 120.4 543.8 120.6 543.3 120.8 542.8 121 542.3 121.2 541.9 121.4 541.7 121.6 541.6 121.8 541.6 122 541.8 122.2 542.2 122.4 542.7 122.6 543.4 122.8 544.1 123 545 123.2 546 123.4 546.9 123.6 547.8 123.8 548.7 124 549.3 124.2 549.9 124.4 550.2 124.6 550.2 124.8 550 125 549.5 125.2 548.8 125.4 547.8 125.6 546.6 125.8 545.2 126 543.7 126.2 542.1 126.4 540.6 126.6 539.2 126.8 537.9 127 537 127.2 536.3 127.4 536 127.6 536.2 127.8 536.8 128 537.8 128.2 539.2 128.4 541 128.6 543.1 128.8 545.4 129 547.8 129.2 550.3 129.4 552.6 129.6 554.6 129.8 556.4 130 557.6 130.2 558.3 130.4 558.4 130.6 557.8 130.8 556.5 131 554.6 131.2 552.1 131.4 549.1 131.6 545.7 131.8 542.1 132 538.4 132.2 534.8 132.4 531.5 132.6 528.6 132.8 526.4 133 525 133.2 524.5 133.4 524.9 133.6 526.4 133.8 528.8 134 532.1 134.2 536.2 134.4 540.9 134.6 546.1 134.8 551.5 135 556.8 135.2 561.8 135.4 566.3 135.6 569.9 135.8 572.4 136 573.7 136.2 573.7 136.4 572.3 136.6 569.5 136.8 565.4 137 560 137.2 553.7 137.4 546.6 137.6 539.2 137.8 531.7 138 524.5 138.2 517.9 138.4 512.4 138.6 508.2 138.8 505.6 139 504.8 139.2 505.9 139.4 508.9 139.6 513.7 139.8 520.3 140 528.3 140.2 537.5 140.4 547.3 140.6 557.4 140.8 567.3 141 576.5 141.2 584.5 141.4 590.9 141.6 595.3 141.8 597.4 142 597.1 142.2 594.2 142.4 588.9 142.6 581.3 142.8 571.6 143 560.4 143.2 548 143.4 535.1 143.6 522.2 143.8 510 144 499 144.2 489.9 144.4 483.2 144.6 479.2 144.8 478.3 145 480.5 145.2 485.8 145.4 494.1 145.6 505.1 145.8 518.2 146 533 146.2 548.8 146.4 564.8 146.6 580.2 146.8 594.3 147 606.5 147.2 616 147.4 622.3 147.6 625.1 147.8 624.1 148 619.3 148.2 610.9 148.4 599.1 148.6 584.5 148.8 567.7 149 549.5 149.2 530.7 149.4 512.2 149.6 494.9 149.8 479.6 150 467.2 150.2 458.2 150.4 453.2 150.6 452.5 150.8 456.1 151 464 151.2 475.8 151.4 491.1 151.6 509.1 151.8 529.1 152 550.1 152.2 571.1 152.4 591.1 152.6 609.1 152.8 624.3 153 635.9 153.2 643.3 153.4 646.2 153.6 644.2 153.8 637.6 154 626.5 154.2 611.5 154.4 593.2 154.6 572.5 154.8 550.4 155 527.9 155.2 506.2 155.4 486.1 155.6 468.8 155.8 455 156 445.3 156.2 440.4 156.4 440.4 156.6 445.3 156.8 455 157 468.8 157.2 486.1 157.4 506.2 157.6 527.9 157.8 550.4 158 572.5 158.2 593.2 158.4 611.5 158.6 626.5 158.8 637.6 159 644.2 159.2 646.2 159.4 643.3 159.6 635.9 159.8 624.3 160 609.1 160.2 591.1 160.4 571.1 160.6 550.1 160.8 529.1 161 509.1 161.2 491.1 161.4 475.8 161.6 464 161.8 456.1 162 452.5 162.2 453.2 162.4 458.2 162.6 467.2 162.8 479.6 163 494.9 163.2 512.2 163.4 530.7 163.6 549.5 163.8 567.7 164 584.5 164.2 599.1 164.4 610.9 164.6 619.3 164.8 624.1 165 625.1 165.2 622.3 165.4 616 165.6 606.5 165.8 594.3 166 580.2 166.2 564.8 166.4 548.8 166.6 533 166.8 518.2 167 505.1 167.2 494.1 167.4 485.8 167.6 480.5 167.8 478.3 168 479.2 168.2 483.2 168.4 489.9 168.6 499 168.8 510 169 522.2 169.2 535.1 169.4 548 169.6 560.4 169.8 571.6 170 581.3 170.2 588.9 170.4 594.2 170.6 597.1 170.8 597.4 171 595.3 171.2 590.9 171.4 584.5 171.6 576.5 171.8 567.3 172 557.4 172.2 547.3 172.4 537.5 172.6 528.3 172.8 520.3 173 513.7 173.2 508.9 173.4 505.9 173.6 504.8 173.8 505.6 174 508.2 174.2 512.4 174.4 517.9 174.6 524.5 174.8 531.7 175 539.2 175.2 546.6 175.4 553.7 175.6 560 175.8 565.4 176 569.5 176.2 572.3 176.4 573.7 176.6 573.7 176.8 572.4 177 569.9 177.2 566.3 177.4 561.8 177.6 556.8 177.8 551.5 178 546.1 178.2 540.9 178.4 536.2 178.6 532.1 178.8 528.8 179 526.4 179.2 524.9 179.4 524.5 179.6 525 179.8 526.4 180 528.6 180.2 531.5 180.4 534.8 180.6 538.4 180.8 542.1 181 545.7 181.2 549.1 181.4 552.1 181.6 554.6 181.8 556.5 182 557.8 182.2 558.4 182.4 558.3 182.6 557.6 182.8 556.4 183 554.6 183.2 552.6 183.4 550.3 183.6 547.8 183.8 545.4 184 543.1 184.2 541 184.4 539.2 184.6 537.8 184.8 536.8 185 536.2 185.2 536 185.4 536.3 185.6 537 185.8 537.9 186 539.2 186.2 540.6 186.4 542.1 186.6 543.7 186.8 545.2 187 546.6 187.2 547.8 187.4 548.8 187.6 549.5 187.8 550 188 550.2 188.2 550.2 188.4 549.9 188.6 549.3 188.8 548.7 189 547.8 189.2 546.9 189.4 546 189.6 545 189.8 544.1 190 543.4 190.2 542.7 190.4 542.2 190.6 541.8 190.8 541.6 191 541.6 191.2 541.7 191.4 541.9 191.6 542.3 191.8 542.8 192 543.3 192.2 543.8 192.4 544.4 192.6 544.9 192.8 545.4 193 545.8 193.2 546.2 193.4 546.4 193.6 546.6 193.8 546.7 194 546.6 194.2 546.5 194.4 546.3 194.6 546.1 194.8 545.8 195 545.5 195.2 545.2 195.4 544.9 195.6 544.6 195.8 544.3 196 544.1 196.2 544 196.4 543.8 196.6 543.8 196.8 543.8 197 543.8 197.2 543.9 197.4 544 197.6 544.2 197.8 544.3 198 544.5 198.2 544.7 198.4 544.8 198.6 545 198.8 545.1 199 545.2 199.2 545.3 199.4 545.3 199.6 545.3 199.8 545.3 200 545.3 200.2 545.2 200.4 545.2 200.6 545.1 200.8 545 201 544.9 201.2 544.8 201.4 544.7 201.6 544.7 201.8 544.6 202 544.6 202.2 544.5 202.4 544.5 202.6 544.5 202.8 544.5 203 544.6 203.2 544.6 203.4 544.6 203.6 544.7 203.8 544.7 204 544.8 204.2 544.8 204.4 544.8 204.6 544.9 204.8 544.9 205 544.9 205.2 544.9 205.4 544.9 205.6 544.9 205.8 544.9 206 544.9 206.2 544.9 206.4 544.9 206.6 544.8 206.8 544.8 207 544.8 207.2 544.8 207.4 544.8 207.6 544.8 207.8 544.7 208 544.7 208.2 544.7 208.4 544.7 208.6 544.7 208.8 544.7 209 544.8 209.2 544.8 209.4 544.8 209.6 544.8 209.8 544.8 210 544.8 210.2 544.8 210.4 544.8 210.6 544.8 210.8 544.8 211 544.8 211.2 544.8 211.4 544.8 211.6 544.8 211.8 544.8 212 544.8 212.2 544.8 212.4 544.8 212.6 544.8 212.8 544.8 213 544.8 213.2 544.8 213.4 544.8 213.6 544.8 213.8 544.8 214 544.8 214.2 544.8 214.4 544.8 214.6 544.8 214.8 544.8 215 544.8 215.2 544.8 215.4 544.8 215.6 544.8 215.8 544.8 216 544.8 216.2 544.8 216.4 544.8 216.6 544.8 216.8 544.8 217 544.8 L217 544.8L506 544.8" fill="none" stroke="#000" stroke-width="2.8" stroke-linejoin="round"/>
<path d="M40.8 544.8H100M212 544.8H506" stroke="#000" stroke-width="2.8"/>
<polygon points="525.6,544.8 500.6,529.5 505.7,544.8 500.6,559" fill="#000"/>
<path d="M524.5 147.4V544.8M583.8 171.2L525.6 544.8" stroke="#000" stroke-width="2.7" fill="none"/>
<path d="M525.3 250.5L549 252.4" stroke="#000" stroke-width="2"/>
<polygon points="569.5,253.9 546.8,258.3 547.8,246.3" fill="#000"/>
<path d="M327 678.7L391 753.5" stroke="#000" stroke-width="3.2"/>
<polygon points="315.3,665 342.5,679.5 327,692.5" fill="#000"/>
<polygon points="402.5,767 375.3,752.5 390.8,739.5" fill="#000"/>
<text class="jl" x="264" y="93">検出器</text>
<text class="jl" x="372" y="267.5">角度変化</text>
<text x="115" y="416.6" style="font-size:37.5px">X</text><text class="jl" x="148.5" y="416.6">線</text>
<text class="jl" x="383.5" y="407">光</text>
<text class="jl" x="274.5" y="743">伸縮</text>
<text x="580" y="669.8" style="font-size:36.3px">BaFe<tspan dy="11.2" style="font-size:21px">2</tspan><tspan dy="-11.2">As</tspan><tspan dy="11.2" style="font-size:21px">2</tspan></text>
<text class="jm" x="868" y="121.6">遅延時間</text>
<text class="en" x="869" y="192.8">&lt; 0 ps</text>
<text class="en" x="893" y="375.3">30 ps</text>
<text class="jm" x="897.8" y="438.8">収縮</text>
<text class="en" x="897" y="615.9">60 ps</text>
<text class="jm" x="902.5" y="679">伸長</text>
<path d="M1234.7 254.5h5.7v30.2h5.9l-8.8 31.9l-9.1-31.9h6.3zM1234.7 468.3h5.7v30.2h5.9l-8.8 31.9l-9.1-31.9h6.3z" fill="#000"/>
<use href="#xr" transform="translate(1077.4 92.7) scale(1 1.341)"/>
<use href="#xr" transform="translate(1077.4 367.3) scale(1 .963)"/>
<use href="#xr" transform="translate(1077.4 600) scale(1 1.73)"/>
<g opacity=".72" fill="#a8a8a8">
<polygon points="1307.8,757.4 1338.5,726.6 1380,726.6 1387,740.2 1377.6,757.4 1377,757.4 1367.5,745 1361,757.4"/>
<polygon points="1387,740.2 1401.3,714.2 1435.6,714.2 1427.9,727.8 1414.3,727.8 1412.5,731.4 1426.1,731.4 1417.8,745.6 1404.2,745.6 1396.5,757.4"/>
</g>
<polygon points="1387,740.2 1377.6,757.4 1396.5,757.4" fill="#eee" opacity=".8"/>
<text x="1304" y="780.3" style="font-weight:700;font-size:20.8px;letter-spacing:.45px;fill:#f0f0f0">Motor-Fan.jp</text>
</svg></body></html>
